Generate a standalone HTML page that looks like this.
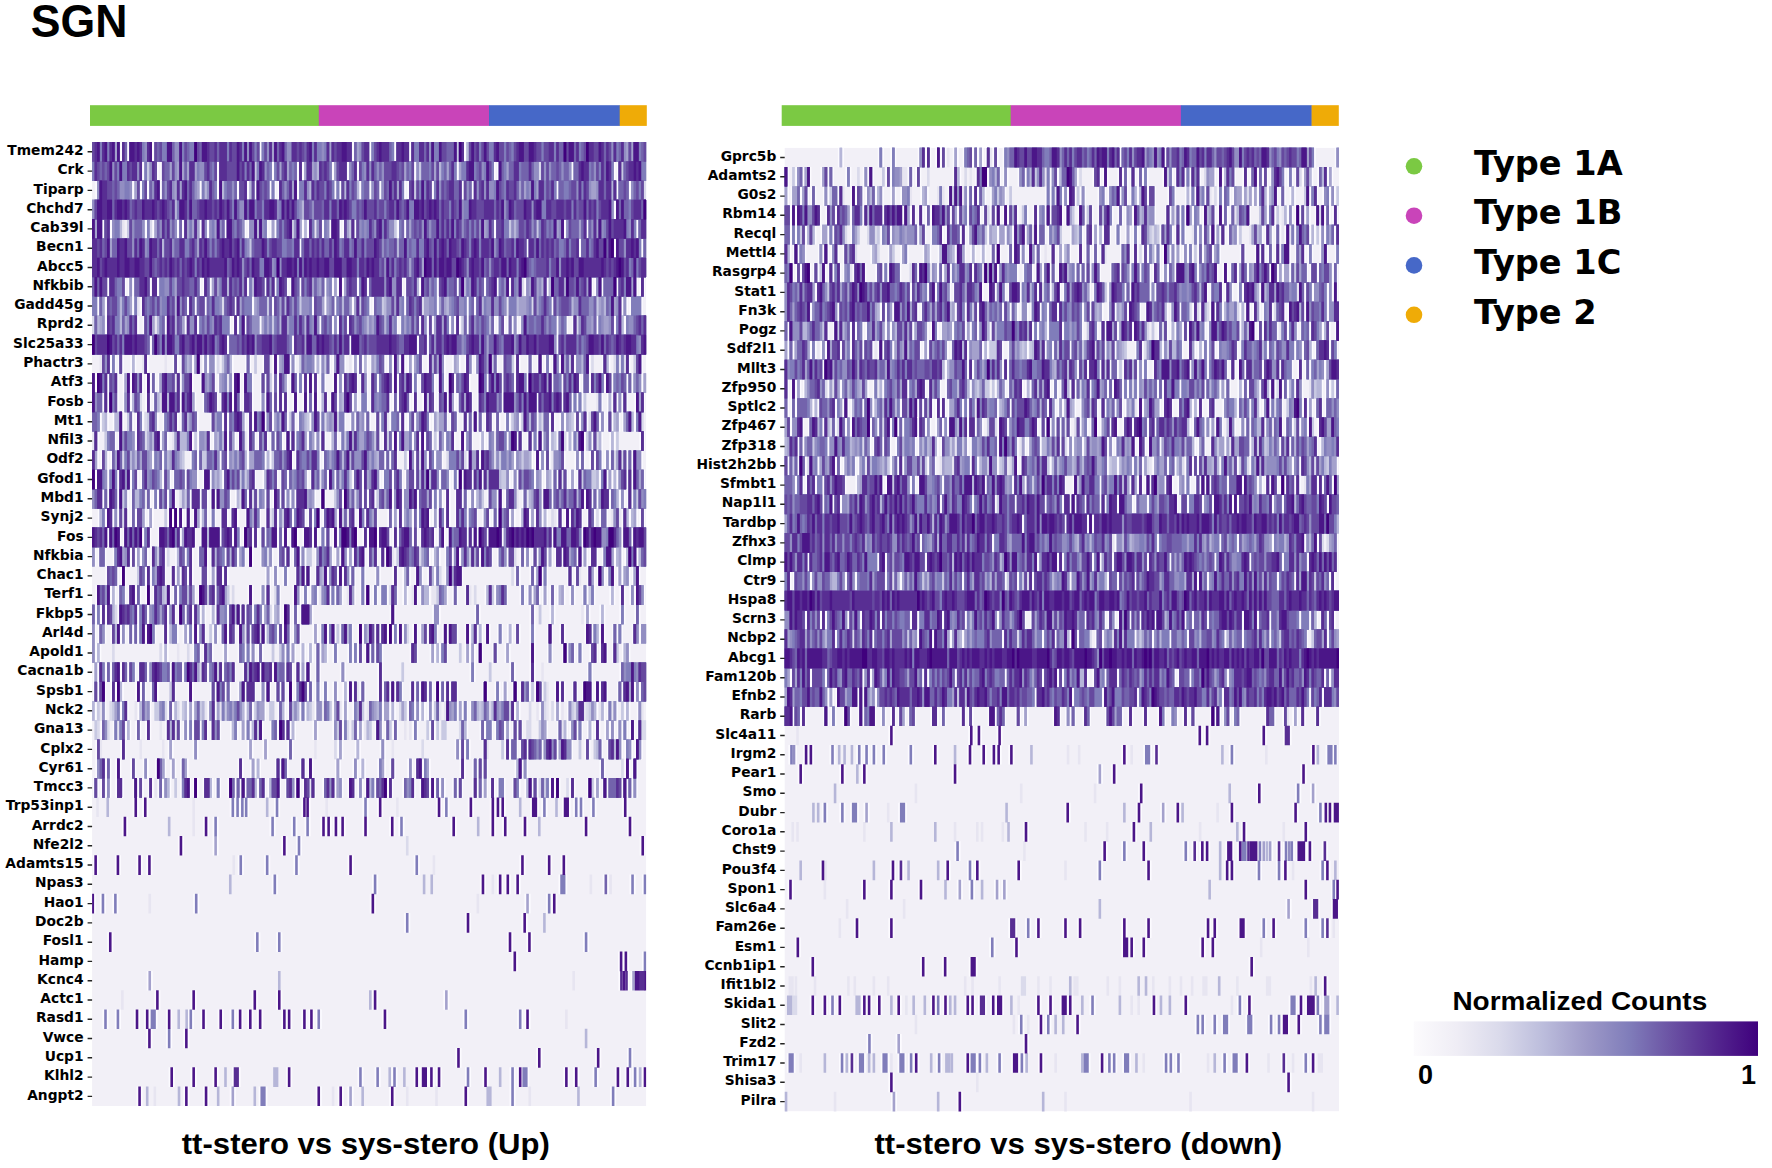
<!DOCTYPE html>
<html><head><meta charset="utf-8"><title>SGN heatmap</title>
<style>
html,body{margin:0;padding:0;background:#fff;}
body{width:1772px;height:1168px;overflow:hidden;}
svg{display:block;}
text{fill:#000;}
.gl text{font-family:"DejaVu Sans","Liberation Sans",sans-serif;font-weight:bold;font-size:13.8px;text-anchor:end;}
.lg{font-family:"DejaVu Sans","Liberation Sans",sans-serif;font-weight:bold;font-size:33.6px;}
.nc{font-family:"Liberation Sans",Arial,sans-serif;font-weight:bold;font-size:26.4px;}
.cbt{font-family:"Liberation Sans",Arial,sans-serif;font-weight:bold;font-size:27px;}
.ttl{font-family:"Liberation Sans",Arial,sans-serif;font-weight:bold;font-size:47.1px;}
.cap{font-family:"Liberation Sans",Arial,sans-serif;font-weight:bold;font-size:30px;}
</style></head><body>
<svg width="1772" height="1168" viewBox="0 0 1772 1168">
<defs><filter id="soft" x="0" y="0" width="1" height="1"><feGaussianBlur stdDeviation="0.4 0.3"/></filter></defs>
<rect x="90.0" y="105.2" width="229.1" height="20.7" fill="#7bc943"/><rect x="318.8" y="105.2" width="170.5" height="20.7" fill="#c944b9"/><rect x="489.0" y="105.2" width="131.0" height="20.7" fill="#4668c8"/><rect x="619.7" y="105.2" width="27.1" height="20.7" fill="#efab07"/>
<rect x="781.7" y="105.2" width="229.3" height="20.7" fill="#7bc943"/><rect x="1010.7" y="105.2" width="170.5" height="20.7" fill="#c944b9"/><rect x="1180.9" y="105.2" width="131.0" height="20.7" fill="#4668c8"/><rect x="1311.6" y="105.2" width="27.2" height="20.7" fill="#efab07"/>
<g filter="url(#soft)"><rect x="92.1" y="142.2" width="554.0" height="963.8" fill="#f2f0f7"/>
<g transform="translate(92.10,142.20) scale(2.4955,19.2760)" fill="none" stroke-width="1.02">
<path stroke="#fcfbff" d="M0 0.5h11.7M11.3 0.5h3.4M14.3 0.5h10.4M24.3 0.5h43.4M67.3 0.5h37.4M104.3 0.5h7.4M111.3 0.5h10.4M121.3 0.5h6.4M127.3 0.5h19.4M146.3 0.5h3.4M149.3 0.5h72.7M0 1.5h20.7M20.3 1.5h2.4M22.3 1.5h4.4M27.3 1.5h23.4M50.3 1.5h15.4M65.3 1.5h7.4M72.3 1.5h10.4M82.3 1.5h2.4M84.3 1.5h12.4M96.3 1.5h6.4M102.3 1.5h4.4M106.3 1.5h23.4M129.3 1.5h2.4M131.3 1.5h15.4M146.3 1.5h15.4M162.3 1.5h17.4M179.3 1.5h13.4M192.3 1.5h17.4M210.3 1.5h2.4M212.3 1.5h9.7M1.3 2.5h15.4M16.3 2.5h3.4M19.3 2.5h3.4M22.3 2.5h5.4M27.3 2.5h16.4M43.3 2.5h7.4M50.3 2.5h8.4M58.3 2.5h4.4M62.3 2.5h3.4M65.3 2.5h6.4M71.3 2.5h2.4M74.3 2.5h8.4M82.3 2.5h15.4M97.3 2.5h2.4M99.3 2.5h8.4M107.3 2.5h4.4M111.3 2.5h4.4M115.3 2.5h10.4M126.3 2.5h3.4M129.3 2.5h7.4M136.3 2.5h12.4M148.3 2.5h4.4M152.3 2.5h34.4M186.3 2.5h24.4M210.3 2.5h5.4M215.3 2.5h6.4M0 3.5h209.7M209.3 3.5h12.7M0 4.5h4.7M4.3 4.5h3.4M7.3 4.5h5.4M14.3 4.5h7.4M21.3 4.5h2.4M24.3 4.5h10.4M34.3 4.5h2.4M36.3 4.5h7.4M43.3 4.5h3.4M46.3 4.5h7.4M53.3 4.5h8.4M62.3 4.5h8.4M71.3 4.5h2.4M73.3 4.5h7.4M80.3 4.5h4.4M84.3 4.5h2.4M86.3 4.5h3.4M89.3 4.5h3.4M92.3 4.5h3.4M95.3 4.5h4.4M100.3 4.5h3.4M103.3 4.5h2.4M105.3 4.5h16.4M122.3 4.5h3.4M125.3 4.5h36.4M161.3 4.5h6.4M167.3 4.5h11.4M178.3 4.5h11.4M189.3 4.5h9.4M198.3 4.5h20.4M218.3 4.5h3.7M0 5.5h63.7M63.3 5.5h20.4M83.3 5.5h91.4M174.3 5.5h21.4M195.3 5.5h14.4M209.3 5.5h11.4M220.3 5.5h1.7M0 6.5h222M0 7.5h6.7M6.3 7.5h7.4M14.3 7.5h2.4M16.3 7.5h7.4M23.3 7.5h3.4M26.3 7.5h17.4M44.3 7.5h3.4M47.3 7.5h15.4M62.3 7.5h7.4M69.3 7.5h4.4M73.3 7.5h5.4M79.3 7.5h4.4M83.3 7.5h10.4M93.3 7.5h3.4M96.3 7.5h2.4M98.3 7.5h2.4M100.3 7.5h6.4M106.3 7.5h4.4M110.3 7.5h14.4M125.3 7.5h6.4M131.3 7.5h7.4M138.3 7.5h8.4M146.3 7.5h11.4M157.3 7.5h5.4M162.3 7.5h5.4M167.3 7.5h5.4M173.3 7.5h9.4M182.3 7.5h18.4M201.3 7.5h3.4M204.3 7.5h6.4M210.3 7.5h8.4M219.3 7.5h2.4M0 8.5h2.7M2.3 8.5h3.4M5.3 8.5h11.4M16.3 8.5h2.4M19.3 8.5h19.4M38.3 8.5h3.4M41.3 8.5h4.4M45.3 8.5h7.4M52.3 8.5h5.4M57.3 8.5h7.4M64.3 8.5h6.4M70.3 8.5h2.4M72.3 8.5h11.4M83.3 8.5h5.4M88.3 8.5h5.4M93.3 8.5h4.4M97.3 8.5h7.4M104.3 8.5h3.4M107.3 8.5h4.4M112.3 8.5h4.4M116.3 8.5h9.4M125.3 8.5h7.4M132.3 8.5h6.4M138.3 8.5h12.4M150.3 8.5h3.4M153.3 8.5h13.4M166.3 8.5h10.4M176.3 8.5h8.4M184.3 8.5h18.4M202.3 8.5h10.4M212.3 8.5h2.4M215.3 8.5h5.4M0.3 9.5h5.4M5.3 9.5h13.4M20.3 9.5h5.4M25.3 9.5h4.4M29.3 9.5h8.4M37.3 9.5h5.4M42.3 9.5h13.4M56.3 9.5h2.4M58.3 9.5h3.4M61.3 9.5h6.4M67.3 9.5h5.4M72.3 9.5h19.4M91.3 9.5h5.4M96.3 9.5h2.4M98.3 9.5h4.4M102.3 9.5h20.4M123.3 9.5h8.4M131.3 9.5h3.4M134.3 9.5h2.4M136.3 9.5h7.4M143.3 9.5h2.4M145.3 9.5h2.4M148.3 9.5h2.4M150.3 9.5h11.4M162.3 9.5h3.4M166.3 9.5h2.4M168.3 9.5h2.4M171.3 9.5h15.4M186.3 9.5h4.4M192.3 9.5h2.4M194.3 9.5h8.4M202.3 9.5h7.4M209.3 9.5h4.4M213.3 9.5h8.7M0 10.5h23.7M23.3 10.5h31.4M54.3 10.5h26.4M80.3 10.5h23.4M103.3 10.5h27.4M130.3 10.5h4.4M134.3 10.5h52.4M186.3 10.5h35.7M3.3 11.5h4.4M7.3 11.5h2.4M10.3 11.5h2.4M15.3 11.5h2.4M20.3 11.5h2.4M32.3 11.5h2.4M35.3 11.5h5.4M40.3 11.5h3.4M44.3 11.5h2.4M46.3 11.5h3.4M52.3 11.5h4.4M61.3 11.5h2.4M68.3 11.5h3.4M72.3 11.5h2.4M74.3 11.5h5.4M79.3 11.5h2.4M83.3 11.5h6.4M89.3 11.5h2.4M91.3 11.5h2.4M93.3 11.5h2.4M96.3 11.5h5.4M104.3 11.5h2.4M106.3 11.5h2.4M108.3 11.5h2.4M111.3 11.5h6.4M118.3 11.5h2.4M120.3 11.5h3.4M123.3 11.5h2.4M126.3 11.5h2.4M128.3 11.5h4.4M134.3 11.5h7.4M144.3 11.5h3.4M149.3 11.5h3.4M153.3 11.5h7.4M160.3 11.5h2.4M164.3 11.5h4.4M169.3 11.5h2.4M174.3 11.5h2.4M178.3 11.5h2.4M181.3 11.5h2.4M184.3 11.5h3.4M187.3 11.5h4.4M191.3 11.5h2.4M193.3 11.5h6.4M204.3 11.5h3.4M209.3 11.5h2.4M211.3 11.5h2.4M213.3 11.5h2.4M217.3 11.5h3.4M0 12.5h1.7M1.3 12.5h5.4M6.3 12.5h4.4M12.3 12.5h3.4M15.3 12.5h5.4M21.3 12.5h2.4M23.3 12.5h2.4M26.3 12.5h7.4M33.3 12.5h2.4M35.3 12.5h5.4M43.3 12.5h6.4M50.3 12.5h4.4M54.3 12.5h2.4M56.3 12.5h3.4M60.3 12.5h4.4M67.3 12.5h2.4M69.3 12.5h2.4M72.3 12.5h2.4M74.3 12.5h4.4M79.3 12.5h3.4M82.3 12.5h2.4M84.3 12.5h2.4M86.3 12.5h2.4M88.3 12.5h2.4M91.3 12.5h2.4M96.3 12.5h2.4M98.3 12.5h2.4M100.3 12.5h6.4M107.3 12.5h3.4M111.3 12.5h3.4M114.3 12.5h6.4M120.3 12.5h2.4M122.3 12.5h6.4M128.3 12.5h2.4M131.3 12.5h6.4M138.3 12.5h3.4M142.3 12.5h3.4M145.3 12.5h6.4M154.3 12.5h4.4M158.3 12.5h6.4M164.3 12.5h5.4M169.3 12.5h5.4M174.3 12.5h10.4M184.3 12.5h4.4M188.3 12.5h7.4M196.3 12.5h3.4M199.3 12.5h6.4M205.3 12.5h3.4M208.3 12.5h6.4M214.3 12.5h2.4M216.3 12.5h4.4M220.3 12.5h1.7M0 13.5h4.7M4.3 13.5h2.4M6.3 13.5h4.4M12.3 13.5h3.4M15.3 13.5h4.4M21.3 13.5h2.4M24.3 13.5h3.4M27.3 13.5h8.4M35.3 13.5h6.4M44.3 13.5h6.4M51.3 13.5h5.4M56.3 13.5h3.4M60.3 13.5h4.4M67.3 13.5h2.4M69.3 13.5h3.4M72.3 13.5h2.4M74.3 13.5h2.4M76.3 13.5h2.4M80.3 13.5h2.4M84.3 13.5h2.4M86.3 13.5h2.4M88.3 13.5h2.4M91.3 13.5h3.4M95.3 13.5h3.4M98.3 13.5h6.4M104.3 13.5h2.4M107.3 13.5h3.4M111.3 13.5h8.4M120.3 13.5h2.4M122.3 13.5h5.4M128.3 13.5h2.4M132.3 13.5h2.4M134.3 13.5h3.4M138.3 13.5h4.4M142.3 13.5h3.4M146.3 13.5h6.4M154.3 13.5h10.4M164.3 13.5h14.4M178.3 13.5h10.4M188.3 13.5h4.4M192.3 13.5h2.4M194.3 13.5h2.4M202.3 13.5h2.4M206.3 13.5h2.4M208.3 13.5h2.4M210.3 13.5h2.4M212.3 13.5h2.4M217.3 13.5h4.4M0 14.5h3.7M4.3 14.5h2.4M8.3 14.5h4.4M14.3 14.5h2.4M17.3 14.5h3.4M22.3 14.5h4.4M28.3 14.5h6.4M35.3 14.5h7.4M47.3 14.5h5.4M52.3 14.5h2.4M54.3 14.5h7.4M62.3 14.5h2.4M64.3 14.5h5.4M69.3 14.5h3.4M72.3 14.5h6.4M79.3 14.5h2.4M82.3 14.5h4.4M87.3 14.5h4.4M91.3 14.5h2.4M93.3 14.5h5.4M98.3 14.5h3.4M103.3 14.5h2.4M105.3 14.5h4.4M109.3 14.5h2.4M113.3 14.5h2.4M115.3 14.5h3.4M119.3 14.5h4.4M123.3 14.5h2.4M126.3 14.5h3.4M129.3 14.5h6.4M136.3 14.5h2.4M138.3 14.5h4.4M143.3 14.5h3.4M148.3 14.5h2.4M150.3 14.5h2.4M152.3 14.5h2.4M154.3 14.5h2.4M157.3 14.5h3.4M161.3 14.5h2.4M165.3 14.5h2.4M168.3 14.5h3.4M172.3 14.5h6.4M178.3 14.5h2.4M180.3 14.5h3.4M183.3 14.5h2.4M187.3 14.5h2.4M189.3 14.5h3.4M193.3 14.5h2.4M195.3 14.5h3.4M199.3 14.5h4.4M203.3 14.5h2.4M206.3 14.5h2.4M208.3 14.5h3.4M212.3 14.5h5.4M217.3 14.5h3.4M0.3 15.5h2.4M5.3 15.5h4.4M10.3 15.5h7.4M17.3 15.5h4.4M21.3 15.5h6.4M27.3 15.5h3.4M32.3 15.5h8.4M42.3 15.5h5.4M48.3 15.5h6.4M54.3 15.5h3.4M58.3 15.5h3.4M62.3 15.5h3.4M66.3 15.5h4.4M71.3 15.5h2.4M73.3 15.5h3.4M77.3 15.5h2.4M79.3 15.5h2.4M81.3 15.5h5.4M86.3 15.5h3.4M89.3 15.5h2.4M91.3 15.5h2.4M95.3 15.5h3.4M99.3 15.5h2.4M101.3 15.5h12.4M113.3 15.5h2.4M116.3 15.5h2.4M118.3 15.5h2.4M120.3 15.5h2.4M122.3 15.5h6.4M128.3 15.5h3.4M131.3 15.5h2.4M133.3 15.5h3.4M138.3 15.5h3.4M141.3 15.5h4.4M147.3 15.5h2.4M149.3 15.5h3.4M155.3 15.5h2.4M158.3 15.5h3.4M161.3 15.5h5.4M166.3 15.5h4.4M170.3 15.5h2.4M174.3 15.5h2.4M176.3 15.5h2.4M178.3 15.5h2.4M180.3 15.5h3.4M183.3 15.5h2.4M186.3 15.5h3.4M190.3 15.5h2.4M192.3 15.5h2.4M194.3 15.5h3.4M198.3 15.5h2.4M200.3 15.5h2.4M202.3 15.5h2.4M207.3 15.5h2.4M219.3 15.5h2.4M0 16.5h2.7M3.3 16.5h3.4M7.3 16.5h5.4M12.3 16.5h12.4M24.3 16.5h4.4M28.3 16.5h8.4M39.3 16.5h3.4M42.3 16.5h2.4M45.3 16.5h6.4M51.3 16.5h3.4M54.3 16.5h8.4M62.3 16.5h7.4M69.3 16.5h2.4M72.3 16.5h8.4M81.3 16.5h10.4M92.3 16.5h25.4M117.3 16.5h2.4M119.3 16.5h3.4M126.3 16.5h3.4M129.3 16.5h2.4M131.3 16.5h3.4M134.3 16.5h3.4M137.3 16.5h3.4M142.3 16.5h7.4M150.3 16.5h5.4M155.3 16.5h6.4M161.3 16.5h2.4M163.3 16.5h6.4M169.3 16.5h3.4M172.3 16.5h4.4M177.3 16.5h2.4M179.3 16.5h2.4M181.3 16.5h2.4M184.3 16.5h5.4M193.3 16.5h2.4M195.3 16.5h2.4M199.3 16.5h2.4M201.3 16.5h3.4M205.3 16.5h2.4M207.3 16.5h2.4M209.3 16.5h3.4M212.3 16.5h2.4M214.3 16.5h2.4M216.3 16.5h4.4M0 17.5h1.7M1.3 17.5h5.4M6.3 17.5h4.4M10.3 17.5h5.4M15.3 17.5h3.4M19.3 17.5h9.4M28.3 17.5h3.4M32.3 17.5h5.4M37.3 17.5h5.4M44.3 17.5h3.4M47.3 17.5h4.4M52.3 17.5h7.4M59.3 17.5h2.4M61.3 17.5h4.4M68.3 17.5h6.4M75.3 17.5h3.4M78.3 17.5h8.4M87.3 17.5h4.4M91.3 17.5h3.4M94.3 17.5h3.4M97.3 17.5h6.4M104.3 17.5h4.4M108.3 17.5h7.4M116.3 17.5h4.4M120.3 17.5h4.4M125.3 17.5h4.4M129.3 17.5h10.4M139.3 17.5h4.4M144.3 17.5h2.4M146.3 17.5h2.4M148.3 17.5h4.4M152.3 17.5h4.4M156.3 17.5h8.4M165.3 17.5h2.4M168.3 17.5h2.4M170.3 17.5h7.4M177.3 17.5h3.4M181.3 17.5h3.4M184.3 17.5h2.4M186.3 17.5h2.4M188.3 17.5h2.4M191.3 17.5h2.4M194.3 17.5h2.4M196.3 17.5h4.4M201.3 17.5h2.4M203.3 17.5h3.4M206.3 17.5h2.4M208.3 17.5h2.4M210.3 17.5h4.4M214.3 17.5h2.4M216.3 17.5h5.4M0 18.5h4.7M4.3 18.5h2.4M6.3 18.5h4.4M10.3 18.5h2.4M12.3 18.5h2.4M15.3 18.5h6.4M21.3 18.5h2.4M24.3 18.5h2.4M26.3 18.5h4.4M30.3 18.5h3.4M35.3 18.5h2.4M37.3 18.5h2.4M39.3 18.5h4.4M43.3 18.5h3.4M47.3 18.5h2.4M49.3 18.5h6.4M57.3 18.5h2.4M59.3 18.5h3.4M62.3 18.5h2.4M64.3 18.5h2.4M66.3 18.5h3.4M69.3 18.5h2.4M72.3 18.5h3.4M75.3 18.5h2.4M77.3 18.5h2.4M79.3 18.5h2.4M81.3 18.5h8.4M91.3 18.5h2.4M97.3 18.5h3.4M100.3 18.5h5.4M105.3 18.5h3.4M108.3 18.5h2.4M110.3 18.5h3.4M114.3 18.5h6.4M120.3 18.5h4.4M124.3 18.5h6.4M130.3 18.5h6.4M136.3 18.5h2.4M138.3 18.5h2.4M141.3 18.5h2.4M145.3 18.5h3.4M148.3 18.5h2.4M151.3 18.5h2.4M153.3 18.5h3.4M158.3 18.5h4.4M162.3 18.5h2.4M165.3 18.5h5.4M172.3 18.5h2.4M174.3 18.5h6.4M180.3 18.5h4.4M184.3 18.5h13.4M197.3 18.5h3.4M200.3 18.5h2.4M202.3 18.5h5.4M207.3 18.5h4.4M211.3 18.5h2.4M214.3 18.5h2.4M216.3 18.5h2.4M218.3 18.5h3.7M2.3 19.5h3.4M5.3 19.5h3.4M8.3 19.5h2.4M10.3 19.5h2.4M12.3 19.5h2.4M15.3 19.5h2.4M17.3 19.5h4.4M22.3 19.5h2.4M30.3 19.5h2.4M32.3 19.5h2.4M34.3 19.5h2.4M37.3 19.5h2.4M40.3 19.5h3.4M43.3 19.5h3.4M47.3 19.5h2.4M51.3 19.5h3.4M55.3 19.5h3.4M61.3 19.5h6.4M69.3 19.5h2.4M72.3 19.5h2.4M74.3 19.5h2.4M76.3 19.5h4.4M80.3 19.5h5.4M86.3 19.5h2.4M88.3 19.5h3.4M92.3 19.5h6.4M98.3 19.5h2.4M100.3 19.5h2.4M102.3 19.5h3.4M106.3 19.5h3.4M109.3 19.5h5.4M118.3 19.5h2.4M120.3 19.5h2.4M122.3 19.5h2.4M124.3 19.5h4.4M128.3 19.5h2.4M130.3 19.5h5.4M136.3 19.5h2.4M138.3 19.5h3.4M141.3 19.5h2.4M145.3 19.5h5.4M150.3 19.5h4.4M156.3 19.5h3.4M160.3 19.5h2.4M162.3 19.5h5.4M167.3 19.5h2.4M171.3 19.5h4.4M175.3 19.5h2.4M177.3 19.5h3.4M180.3 19.5h2.4M186.3 19.5h2.4M189.3 19.5h2.4M191.3 19.5h5.4M198.3 19.5h3.4M203.3 19.5h3.4M208.3 19.5h3.4M212.3 19.5h3.4M215.3 19.5h3.4M219.3 19.5h2.4M0 20.5h6.7M6.3 20.5h5.4M12.3 20.5h8.4M20.3 20.5h3.4M26.3 20.5h9.4M35.3 20.5h6.4M43.3 20.5h8.4M51.3 20.5h5.4M56.3 20.5h3.4M60.3 20.5h4.4M64.3 20.5h2.4M67.3 20.5h2.4M69.3 20.5h5.4M74.3 20.5h2.4M76.3 20.5h2.4M79.3 20.5h3.4M84.3 20.5h4.4M88.3 20.5h2.4M91.3 20.5h2.4M93.3 20.5h2.4M96.3 20.5h2.4M98.3 20.5h8.4M108.3 20.5h2.4M110.3 20.5h4.4M114.3 20.5h5.4M120.3 20.5h2.4M122.3 20.5h6.4M128.3 20.5h2.4M131.3 20.5h6.4M138.3 20.5h3.4M142.3 20.5h8.4M150.3 20.5h2.4M152.3 20.5h2.4M154.3 20.5h4.4M158.3 20.5h6.4M164.3 20.5h20.4M184.3 20.5h12.4M196.3 20.5h16.4M212.3 20.5h4.4M216.3 20.5h5.7M0 21.5h1.7M2.3 21.5h3.4M8.3 21.5h7.4M15.3 21.5h2.4M17.3 21.5h2.4M19.3 21.5h3.4M23.3 21.5h3.4M26.3 21.5h3.4M33.3 21.5h4.4M37.3 21.5h3.4M42.3 21.5h4.4M47.3 21.5h6.4M53.3 21.5h5.4M58.3 21.5h3.4M62.3 21.5h2.4M67.3 21.5h3.4M70.3 21.5h2.4M74.3 21.5h3.4M77.3 21.5h2.4M80.3 21.5h3.4M83.3 21.5h2.4M89.3 21.5h7.4M97.3 21.5h2.4M99.3 21.5h3.4M102.3 21.5h2.4M104.3 21.5h5.4M110.3 21.5h4.4M115.3 21.5h2.4M117.3 21.5h3.4M122.3 21.5h9.4M131.3 21.5h4.4M136.3 21.5h3.4M141.3 21.5h3.4M144.3 21.5h3.4M147.3 21.5h4.4M151.3 21.5h4.4M155.3 21.5h5.4M162.3 21.5h4.4M166.3 21.5h3.4M171.3 21.5h2.4M173.3 21.5h2.4M176.3 21.5h2.4M178.3 21.5h4.4M182.3 21.5h2.4M185.3 21.5h3.4M188.3 21.5h6.4M194.3 21.5h2.4M196.3 21.5h2.4M199.3 21.5h3.4M204.3 21.5h5.4M209.3 21.5h3.4M213.3 21.5h5.4M218.3 21.5h3.7M5.3 22.5h5.4M11.3 22.5h2.4M18.3 22.5h3.4M21.3 22.5h2.4M23.3 22.5h6.4M31.3 22.5h2.4M33.3 22.5h2.4M35.3 22.5h3.4M38.3 22.5h2.4M43.3 22.5h3.4M47.3 22.5h2.4M49.3 22.5h3.4M52.3 22.5h2.4M69.3 22.5h2.4M72.3 22.5h2.4M76.3 22.5h2.4M81.3 22.5h4.4M85.3 22.5h2.4M89.3 22.5h5.4M94.3 22.5h4.4M98.3 22.5h2.4M100.3 22.5h3.4M103.3 22.5h2.4M107.3 22.5h2.4M113.3 22.5h2.4M120.3 22.5h2.4M124.3 22.5h3.4M129.3 22.5h3.4M134.3 22.5h3.4M137.3 22.5h2.4M141.3 22.5h7.4M169.3 22.5h2.4M175.3 22.5h2.4M177.3 22.5h3.4M180.3 22.5h2.4M190.3 22.5h2.4M193.3 22.5h2.4M198.3 22.5h3.4M202.3 22.5h3.4M206.3 22.5h3.4M210.3 22.5h2.4M212.3 22.5h3.4M216.3 22.5h3.4M1.3 23.5h6.4M7.3 23.5h2.4M10.3 23.5h3.4M14.3 23.5h3.4M17.3 23.5h2.4M21.3 23.5h2.4M24.3 23.5h5.4M29.3 23.5h2.4M32.3 23.5h2.4M34.3 23.5h7.4M42.3 23.5h4.4M46.3 23.5h3.4M49.3 23.5h5.4M62.3 23.5h2.4M67.3 23.5h2.4M69.3 23.5h2.4M73.3 23.5h2.4M80.3 23.5h3.4M84.3 23.5h2.4M87.3 23.5h3.4M91.3 23.5h4.4M95.3 23.5h2.4M97.3 23.5h3.4M102.3 23.5h3.4M107.3 23.5h2.4M109.3 23.5h2.4M112.3 23.5h2.4M115.3 23.5h3.4M119.3 23.5h3.4M124.3 23.5h2.4M128.3 23.5h2.4M131.3 23.5h4.4M138.3 23.5h4.4M144.3 23.5h2.4M149.3 23.5h2.4M157.3 23.5h3.4M161.3 23.5h5.4M171.3 23.5h2.4M174.3 23.5h2.4M176.3 23.5h3.4M180.3 23.5h2.4M183.3 23.5h2.4M186.3 23.5h3.4M191.3 23.5h2.4M196.3 23.5h2.4M199.3 23.5h2.4M207.3 23.5h2.4M211.3 23.5h2.4M215.3 23.5h2.4M217.3 23.5h4.4M0 24.5h1.7M1.3 24.5h2.4M3.3 24.5h2.4M5.3 24.5h4.4M10.3 24.5h8.4M18.3 24.5h4.4M22.3 24.5h8.4M30.3 24.5h3.4M34.3 24.5h3.4M37.3 24.5h3.4M40.3 24.5h3.4M43.3 24.5h2.4M47.3 24.5h2.4M49.3 24.5h5.4M54.3 24.5h5.4M59.3 24.5h2.4M61.3 24.5h3.4M64.3 24.5h4.4M68.3 24.5h3.4M72.3 24.5h3.4M76.3 24.5h3.4M80.3 24.5h2.4M83.3 24.5h5.4M119.3 24.5h2.4M136.3 24.5h3.4M153.3 24.5h2.4M175.3 24.5h2.4M183.3 24.5h2.4M197.3 24.5h2.4M203.3 24.5h2.4M211.3 24.5h2.4M217.3 24.5h2.4M0 25.5h1.7M2.3 25.5h3.4M7.3 25.5h4.4M11.3 25.5h2.4M14.3 25.5h2.4M16.3 25.5h2.4M18.3 25.5h3.4M21.3 25.5h4.4M28.3 25.5h2.4M30.3 25.5h4.4M36.3 25.5h2.4M38.3 25.5h2.4M40.3 25.5h2.4M42.3 25.5h3.4M48.3 25.5h2.4M51.3 25.5h3.4M54.3 25.5h3.4M58.3 25.5h3.4M61.3 25.5h2.4M63.3 25.5h4.4M67.3 25.5h2.4M69.3 25.5h5.4M74.3 25.5h2.4M76.3 25.5h3.4M80.3 25.5h3.4M88.3 25.5h2.4M91.3 25.5h3.4M94.3 25.5h3.4M99.3 25.5h5.4M106.3 25.5h2.4M108.3 25.5h5.4M113.3 25.5h2.4M115.3 25.5h3.4M118.3 25.5h2.4M120.3 25.5h2.4M122.3 25.5h2.4M124.3 25.5h2.4M128.3 25.5h2.4M131.3 25.5h3.4M134.3 25.5h4.4M140.3 25.5h2.4M142.3 25.5h4.4M149.3 25.5h2.4M151.3 25.5h3.4M154.3 25.5h2.4M157.3 25.5h2.4M162.3 25.5h2.4M166.3 25.5h2.4M169.3 25.5h2.4M175.3 25.5h2.4M182.3 25.5h2.4M187.3 25.5h2.4M197.3 25.5h3.4M200.3 25.5h3.4M203.3 25.5h2.4M208.3 25.5h2.4M210.3 25.5h2.4M216.3 25.5h3.4M219.3 25.5h2.7M0 26.5h1.7M1.3 26.5h2.4M28.3 26.5h2.4M40.3 26.5h3.4M44.3 26.5h4.4M52.3 26.5h2.4M58.3 26.5h3.4M61.3 26.5h2.4M63.3 26.5h2.4M66.3 26.5h2.4M75.3 26.5h2.4M77.3 26.5h2.4M79.3 26.5h2.4M83.3 26.5h2.4M86.3 26.5h2.4M89.3 26.5h2.4M91.3 26.5h3.4M96.3 26.5h2.4M102.3 26.5h2.4M104.3 26.5h2.4M106.3 26.5h2.4M109.3 26.5h2.4M111.3 26.5h2.4M113.3 26.5h3.4M127.3 26.5h3.4M135.3 26.5h2.4M137.3 26.5h2.4M139.3 26.5h3.4M149.3 26.5h2.4M151.3 26.5h2.4M154.3 26.5h2.4M160.3 26.5h2.4M165.3 26.5h2.4M175.3 26.5h2.4M182.3 26.5h2.4M188.3 26.5h2.4M190.3 26.5h3.4M194.3 26.5h2.4M199.3 26.5h3.4M203.3 26.5h3.4M208.3 26.5h2.4M212.3 26.5h3.4M0.3 27.5h2.4M2.3 27.5h3.4M5.3 27.5h2.4M7.3 27.5h4.4M11.3 27.5h3.4M14.3 27.5h3.4M18.3 27.5h4.4M22.3 27.5h9.4M31.3 27.5h5.4M36.3 27.5h7.4M43.3 27.5h3.4M46.3 27.5h4.4M50.3 27.5h2.4M52.3 27.5h5.4M60.3 27.5h7.4M67.3 27.5h5.4M72.3 27.5h5.4M77.3 27.5h3.4M81.3 27.5h2.4M83.3 27.5h2.4M85.3 27.5h2.4M89.3 27.5h2.4M99.3 27.5h2.4M114.3 27.5h2.4M151.3 27.5h2.4M167.3 27.5h2.4M175.3 27.5h2.4M198.3 27.5h2.4M211.3 27.5h10.7M0.3 28.5h2.4M2.3 28.5h3.4M7.3 28.5h2.4M9.3 28.5h3.4M17.3 28.5h2.4M19.3 28.5h2.4M23.3 28.5h3.4M31.3 28.5h2.4M38.3 28.5h2.4M47.3 28.5h2.4M49.3 28.5h4.4M53.3 28.5h2.4M58.3 28.5h3.4M61.3 28.5h4.4M67.3 28.5h2.4M69.3 28.5h2.4M73.3 28.5h2.4M75.3 28.5h2.4M78.3 28.5h2.4M81.3 28.5h5.4M86.3 28.5h2.4M89.3 28.5h2.4M92.3 28.5h2.4M96.3 28.5h2.4M100.3 28.5h2.4M102.3 28.5h2.4M104.3 28.5h2.4M107.3 28.5h2.4M114.3 28.5h2.4M116.3 28.5h3.4M119.3 28.5h2.4M121.3 28.5h3.4M127.3 28.5h2.4M129.3 28.5h2.4M131.3 28.5h3.4M134.3 28.5h2.4M137.3 28.5h2.4M139.3 28.5h2.4M141.3 28.5h2.4M143.3 28.5h3.4M156.3 28.5h2.4M161.3 28.5h2.4M164.3 28.5h2.4M168.3 28.5h2.4M171.3 28.5h4.4M177.3 28.5h3.4M185.3 28.5h2.4M187.3 28.5h2.4M192.3 28.5h2.4M196.3 28.5h4.4M201.3 28.5h2.4M203.3 28.5h3.4M210.3 28.5h2.4M212.3 28.5h5.4M217.3 28.5h2.4M219.3 28.5h2.7M0 29.5h1.7M3.3 29.5h2.4M8.3 29.5h3.4M11.3 29.5h3.4M18.3 29.5h5.4M26.3 29.5h3.4M30.3 29.5h2.4M32.3 29.5h2.4M36.3 29.5h2.4M38.3 29.5h2.4M40.3 29.5h3.4M43.3 29.5h2.4M46.3 29.5h3.4M49.3 29.5h2.4M51.3 29.5h2.4M53.3 29.5h8.4M61.3 29.5h3.4M65.3 29.5h4.4M74.3 29.5h3.4M78.3 29.5h5.4M83.3 29.5h2.4M85.3 29.5h2.4M89.3 29.5h3.4M92.3 29.5h3.4M96.3 29.5h3.4M100.3 29.5h2.4M104.3 29.5h4.4M110.3 29.5h6.4M116.3 29.5h3.4M119.3 29.5h2.4M123.3 29.5h2.4M126.3 29.5h3.4M129.3 29.5h2.4M131.3 29.5h2.4M134.3 29.5h2.4M137.3 29.5h2.4M141.3 29.5h5.4M146.3 29.5h2.4M148.3 29.5h2.4M151.3 29.5h4.4M155.3 29.5h4.4M159.3 29.5h8.4M167.3 29.5h2.4M169.3 29.5h2.4M179.3 29.5h2.4M185.3 29.5h2.4M190.3 29.5h2.4M193.3 29.5h4.4M199.3 29.5h3.4M203.3 29.5h2.4M206.3 29.5h2.4M208.3 29.5h2.4M213.3 29.5h2.4M218.3 29.5h2.4M3.3 30.5h3.4M8.3 30.5h2.4M10.3 30.5h3.4M13.3 30.5h2.4M17.3 30.5h2.4M21.3 30.5h2.4M29.3 30.5h4.4M33.3 30.5h2.4M36.3 30.5h2.4M38.3 30.5h2.4M40.3 30.5h3.4M43.3 30.5h3.4M47.3 30.5h4.4M55.3 30.5h3.4M59.3 30.5h2.4M61.3 30.5h2.4M63.3 30.5h3.4M66.3 30.5h2.4M71.3 30.5h3.4M74.3 30.5h3.4M77.3 30.5h2.4M79.3 30.5h2.4M88.3 30.5h2.4M96.3 30.5h2.4M98.3 30.5h2.4M100.3 30.5h2.4M104.3 30.5h2.4M106.3 30.5h2.4M109.3 30.5h2.4M113.3 30.5h3.4M117.3 30.5h2.4M120.3 30.5h2.4M128.3 30.5h2.4M135.3 30.5h2.4M147.3 30.5h3.4M155.3 30.5h2.4M157.3 30.5h3.4M161.3 30.5h4.4M165.3 30.5h2.4M168.3 30.5h2.4M170.3 30.5h2.4M179.3 30.5h3.4M186.3 30.5h2.4M188.3 30.5h2.4M191.3 30.5h3.4M194.3 30.5h2.4M198.3 30.5h2.4M201.3 30.5h2.4M205.3 30.5h2.4M207.3 30.5h2.4M210.3 30.5h2.4M212.3 30.5h2.4M215.3 30.5h2.4M218.3 30.5h2.4M1.3 31.5h2.4M11.3 31.5h2.4M30.3 31.5h2.4M40.3 31.5h2.4M62.3 31.5h2.4M68.3 31.5h2.4M78.3 31.5h2.4M98.3 31.5h2.4M105.3 31.5h2.4M115.3 31.5h2.4M145.3 31.5h2.4M147.3 31.5h2.4M149.3 31.5h2.4M156.3 31.5h2.4M165.3 31.5h2.4M167.3 31.5h3.4M171.3 31.5h3.4M174.3 31.5h6.4M180.3 31.5h6.4M186.3 31.5h6.4M197.3 31.5h2.4M201.3 31.5h3.4M206.3 31.5h6.4M213.3 31.5h3.4M217.3 31.5h3.4M1.3 32.5h4.4M5.3 32.5h2.4M9.3 32.5h2.4M15.3 32.5h2.4M20.3 32.5h2.4M25.3 32.5h4.4M31.3 32.5h2.4M35.3 32.5h3.4M58.3 32.5h2.4M63.3 32.5h2.4M65.3 32.5h2.4M73.3 32.5h2.4M75.3 32.5h3.4M83.3 32.5h2.4M86.3 32.5h2.4M97.3 32.5h2.4M104.3 32.5h2.4M107.3 32.5h2.4M114.3 32.5h3.4M119.3 32.5h2.4M126.3 32.5h2.4M129.3 32.5h3.4M132.3 32.5h3.4M147.3 32.5h2.4M152.3 32.5h2.4M154.3 32.5h2.4M156.3 32.5h2.4M169.3 32.5h3.4M172.3 32.5h2.4M203.3 32.5h2.4M213.3 32.5h2.4M216.3 32.5h2.4M0.3 33.5h2.4M3.3 33.5h2.4M5.3 33.5h2.4M9.3 33.5h3.4M16.3 33.5h2.4M18.3 33.5h2.4M22.3 33.5h2.4M26.3 33.5h2.4M28.3 33.5h3.4M35.3 33.5h4.4M40.3 33.5h2.4M44.3 33.5h4.4M49.3 33.5h2.4M54.3 33.5h3.4M57.3 33.5h2.4M59.3 33.5h2.4M61.3 33.5h5.4M66.3 33.5h3.4M70.3 33.5h5.4M77.3 33.5h4.4M81.3 33.5h2.4M84.3 33.5h3.4M87.3 33.5h2.4M92.3 33.5h5.4M97.3 33.5h3.4M102.3 33.5h3.4M106.3 33.5h2.4M109.3 33.5h4.4M113.3 33.5h5.4M118.3 33.5h2.4M124.3 33.5h5.4M131.3 33.5h4.4M135.3 33.5h2.4M137.3 33.5h2.4M139.3 33.5h2.4M144.3 33.5h2.4M146.3 33.5h2.4M152.3 33.5h2.4M154.3 33.5h2.4M156.3 33.5h2.4M159.3 33.5h2.4M162.3 33.5h3.4M168.3 33.5h3.4M173.3 33.5h3.4M176.3 33.5h2.4M179.3 33.5h2.4M181.3 33.5h2.4M183.3 33.5h2.4M185.3 33.5h2.4M191.3 33.5h2.4M198.3 33.5h2.4M201.3 33.5h2.4M204.3 33.5h2.4M206.3 33.5h6.4M212.3 33.5h2.4M214.3 33.5h2.4M216.3 33.5h2.4M16.27 34.5h2.44M20.09 34.5h2.44M55.17 34.5h2.44M57.08 34.5h2.44M58.99 34.5h2.44M60.52 34.5h2.44M72.89 34.5h2.44M83.86 34.5h2.44M85.14 34.5h2.44M108.35 34.5h2.44M114.22 34.5h2.44M137.81 34.5h2.44M140.74 34.5h2.44M150.56 34.5h2.44M159.36 34.5h2.44M161.41 34.5h2.44M163.32 34.5h2.44M175.55 34.5h3.48M180.03 34.5h2.44M188.31 34.5h3.48M192.78 34.5h2.44M194.69 34.5h2.44M199.67 34.5h2.44M212.42 34.5h2.44M11.93 35.5h2.44M44.45 35.5h2.44M48.28 35.5h2.44M71.11 35.5h2.44M79.78 35.5h2.44M85.14 35.5h2.44M91.51 35.5h2.44M93.56 35.5h2.44M96.49 35.5h2.44M99.17 35.5h2.44M108.35 35.5h2.44M119.06 35.5h2.44M122.76 35.5h2.44M143.68 35.5h2.44M159.36 35.5h2.44M164.34 35.5h2.44M172.25 35.5h2.44M196.73 35.5h2.44M214.33 35.5h2.44M34.38 36.5h2.44M48.28 36.5h2.44M75.83 36.5h2.44M81.69 36.5h2.44M219.43 36.5h2.44M0.2 37.5h2.44M9.13 37.5h2.44M17.8 37.5h2.44M21.75 37.5h2.44M58.35 37.5h2.44M68.94 37.5h2.44M80.67 37.5h2.44M102.36 37.5h2.44M128.88 37.5h2.44M171.23 37.5h2.44M181.94 37.5h2.44M187.81 37.5h2.44M72 38.5h2.44M112.18 38.5h2.44M155.41 38.5h2.44M162.3 38.5h2.44M165.36 38.5h2.44M169.31 38.5h2.44M186.9 38.5h3.48M204.64 38.5h2.44M215.35 38.5h2.44M220.33 38.5h1.67M0 39.5h1.49M3.13 39.5h2.44M8.11 39.5h2.44M40.5 39.5h2.44M111.28 39.5h2.44M173.27 39.5h2.44M181.94 39.5h2.44M183.98 39.5h2.44M125.06 40.5h2.44M149.42 40.5h2.44M172.12 40.5h2.44M6.06 41.5h2.44M64.99 41.5h2.44M73.79 41.5h2.44M166.25 41.5h2.44M174.03 41.5h2.44M196.73 41.5h2.44M168.16 42.5h2.44M210.76 42.5h2.44M212.67 42.5h2.44M220.33 42.5h1.67M21.88 43.5h2.44M210.89 43.5h2.44M211.91 43.5h2.44M212.93 43.5h2.44M215.74 43.5h2.44M216.76 43.5h2.44M217.78 43.5h2.44M218.8 43.5h2.44M219.82 43.5h2.18M220.71 43.5h1.29M24.94 44.5h2.44M39.48 44.5h2.44M63.97 44.5h2.44M73.79 44.5h2.44M112.18 44.5h2.44M140.74 44.5h2.44M4.15 45.5h2.44M9.13 45.5h2.44M16.78 45.5h2.44M20.86 45.5h2.44M22.76 45.5h3.48M29.66 45.5h2.44M38.33 45.5h2.44M43.43 45.5h2.44M50.32 45.5h2.44M55.17 45.5h2.44M58.1 45.5h2.44M62.18 45.5h2.44M66.13 45.5h2.44M75.83 45.5h2.44M77.74 45.5h2.44M83.86 45.5h2.44M86.67 45.5h2.44M89.6 45.5h2.44M116.13 45.5h2.44M148.52 45.5h2.44M170.33 45.5h2.44M173.27 45.5h2.44M21.75 46.5h2.44M29.66 46.5h2.44M36.55 46.5h2.44M145.59 47.5h2.44M177.98 47.5h2.44M201.58 47.5h2.44M214.33 47.5h2.44M30.68 48.5h2.44M39.48 48.5h2.44M48.28 48.5h2.44M56.05 48.5h3.48M77.74 48.5h2.44M106.31 48.5h2.44M113.2 48.5h2.44M119.96 48.5h2.44M128.88 48.5h2.44M131.42 48.5h3.48M134.75 48.5h2.44M137.81 48.5h2.44M149.42 48.5h2.44M156.43 48.5h2.44M167.27 48.5h2.44M170.33 48.5h2.44M171.73 48.5h3.48M188.83 48.5h2.44M192.78 48.5h2.44M200.56 48.5h2.44M209.49 48.5h2.44M213.44 48.5h2.44M216.37 48.5h2.44M220.33 48.5h1.67M17.8 49.5h2.44M36.55 49.5h2.44M44.45 49.5h2.44M55.17 49.5h2.44M66.76 49.5h3.48M89.6 49.5h2.44M98.4 49.5h2.44M102.36 49.5h2.44M119.06 49.5h2.44M148.52 49.5h2.44M167.27 49.5h2.44M207.57 49.5h2.44"/>
<path stroke="#e7e5f1" d="M0 0.5h11m1 0h2m1 0h9m1 0h42m1 0h36m1 0h6m1 0h9m1 0h5m1 0h21m1 0h72M0 1.5h20m1 0h5m2 0h22m1 0h21m1 0h9m1 0h1m1 0h11m1 0h5m1 0h3m1 0h22m1 0h16m1 0h14m2 0h29m1 0h16m2 0h11M2 2.5h14m1 0h2m1 0h2m1 0h4m1 0h15m1 0h6m1 0h7m1 0h3m1 0h2m1 0h5m1 0h1m2 0h7m1 0h14m1 0h1m1 0h7m1 0h3m1 0h3m1 0h9m2 0h9m1 0h11m1 0h3m1 0h33m1 0h23m1 0h4m1 0h6M0 3.5h209m1 0h12M0 4.5h4m1 0h2m1 0h5m1 0h7m1 0h2m1 0h9m1 0h1m1 0h6m1 0h2m1 0h6m1 0h7m2 0h7m2 0h1m1 0h10m1 0h1m1 0h5m1 0h2m1 0h3m2 0h4m1 0h16m1 0h2m1 0h35m1 0h27m1 0h8m1 0h19m1 0h3M0 5.5h83m1 0h90m1 0h20m1 0h13m1 0h10m1 0h1M0 6.5h222M0 7.5h6m1 0h6m2 0h1m1 0h6m1 0h2m1 0h16m2 0h2m1 0h14m1 0h6m1 0h3m1 0h4m2 0h3m1 0h9m1 0h2m1 0h1m1 0h1m1 0h5m1 0h3m1 0h13m2 0h5m1 0h6m1 0h7m1 0h10m1 0h4m1 0h4m1 0h5m1 0h8m1 0h17m2 0h2m1 0h5m1 0h7m2 0h1M0 8.5h2m1 0h2m1 0h10m1 0h2m1 0h18m1 0h2m1 0h3m1 0h11m1 0h6m1 0h7m1 0h15m1 0h4m1 0h3m1 0h6m1 0h6m2 0h12m1 0h12m1 0h11m1 0h2m1 0h30m1 0h27m1 0h1m2 0h4M0 9.5h5m1 0h12m3 0h8m1 0h7m1 0h4m1 0h12m2 0h1m1 0h2m1 0h5m1 0h23m1 0h4m1 0h1m1 0h3m1 0h19m2 0h7m1 0h2m1 0h1m1 0h6m1 0h1m1 0h1m1 0h2m1 0h10m2 0h2m2 0h1m1 0h1m2 0h14m1 0h3m3 0h9m1 0h6m1 0h3m1 0h8M0 10.5h23m1 0h30m1 0h25m1 0h22m1 0h26m1 0h3m1 0h51m1 0h35M3 11.5h4m1 0h1m2 0h1m4 0h1m3 0h2m7 0h1m3 0h1m2 0h4m1 0h3m1 0h1m1 0h2m1 0h1m1 0h4m6 0h1m2 0h1m3 0h3m1 0h1m1 0h4m1 0h1m2 0h6m1 0h1m1 0h3m2 0h4m2 0h1m1 0h1m1 0h1m1 0h1m2 0h5m2 0h1m1 0h2m1 0h1m2 0h1m1 0h3m3 0h6m4 0h2m3 0h2m2 0h8m3 0h4m1 0h1m4 0h1m3 0h1m2 0h1m2 0h2m1 0h5m1 0h5m1 0h1m4 0h2m2 0h6m2 0h3M0 12.5h1m1 0h4m1 0h3m3 0h2m1 0h4m2 0h1m1 0h1m2 0h8m1 0h4m4 0h5m2 0h5m1 0h2m2 0h3m4 0h1m1 0h2m1 0h1m1 0h3m2 0h2m1 0h1m1 0h1m1 0h1m1 0h1m2 0h1m4 0h1m1 0h1m1 0h5m2 0h2m2 0h2m1 0h5m1 0h1m1 0h5m1 0h1m2 0h5m2 0h2m2 0h2m1 0h5m4 0h3m1 0h5m1 0h4m1 0h4m1 0h9m1 0h3m1 0h6m2 0h2m1 0h5m1 0h2m1 0h5m1 0h1m1 0h3m1 0h1M0 13.5h4m1 0h1m1 0h3m3 0h2m1 0h4m2 0h1m2 0h10m1 0h5m4 0h5m2 0h4m1 0h2m2 0h3m4 0h1m1 0h2m1 0h1m1 0h1m1 0h1m3 0h1m3 0h1m1 0h1m1 0h1m2 0h2m2 0h2m1 0h5m1 0h1m2 0h2m2 0h7m2 0h1m1 0h4m2 0h1m3 0h4m2 0h3m1 0h2m2 0h5m3 0h9m1 0h13m1 0h9m1 0h3m1 0h1m1 0h1m1 0h1m4 0h2m3 0h1m1 0h1m1 0h1m1 0h1m4 0h3M0 14.5h3m1 0h2m3 0h3m2 0h2m2 0h2m1 0h5m3 0h5m2 0h6m6 0h4m1 0h1m1 0h6m2 0h1m1 0h4m1 0h2m1 0h5m1 0h2m2 0h4m1 0h3m1 0h9m3 0h1m1 0h3m1 0h1m3 0h1m1 0h3m1 0h3m1 0h1m2 0h2m1 0h5m2 0h5m2 0h2m3 0h1m1 0h1m1 0h1m1 0h1m2 0h2m2 0h1m3 0h1m1 0h3m1 0h6m1 0h4m1 0h1m3 0h1m1 0h3m1 0h1m1 0h2m1 0h4m1 0h1m2 0h1m1 0h2m2 0h4m1 0h3M0 15.5h2m3 0h4m2 0h6m1 0h9m1 0h2m2 0h8m1 0h1m1 0h4m2 0h5m1 0h2m2 0h3m1 0h2m2 0h3m2 0h1m1 0h2m2 0h1m1 0h1m1 0h4m1 0h2m1 0h1m1 0h1m3 0h2m2 0h15m2 0h3m1 0h1m1 0h5m1 0h2m1 0h1m1 0h2m1 0h1m1 0h2m1 0h3m3 0h1m1 0h2m4 0h1m2 0h7m1 0h3m1 0h1m3 0h1m1 0h1m1 0h1m1 0h2m1 0h2m1 0h3m1 0h1m1 0h4m1 0h2m1 0h3m4 0h1m1 0h1m9 0h1M0 16.5h2m2 0h2m2 0h16m1 0h3m1 0h8m3 0h2m1 0h8m1 0h2m1 0h7m1 0h6m1 0h1m1 0h8m2 0h9m2 0h24m1 0h1m1 0h2m3 0h1m1 0h2m1 0h4m1 0h2m1 0h2m2 0h8m1 0h4m1 0h13m1 0h6m2 0h1m1 0h1m1 0h1m1 0h5m5 0h1m1 0h1m3 0h1m1 0h2m2 0h1m1 0h6m1 0h1m1 0h3M0 17.5h1m1 0h4m1 0h3m1 0h4m1 0h2m2 0h8m1 0h2m2 0h4m1 0h4m3 0h2m1 0h4m1 0h12m4 0h5m2 0h2m1 0h7m2 0h6m1 0h2m1 0h6m1 0h3m1 0h6m2 0h3m1 0h3m2 0h3m1 0h9m1 0h3m2 0h1m1 0h1m1 0h3m1 0h3m1 0h10m2 0h1m1 0h6m1 0h2m2 0h2m1 0h1m1 0h3m2 0h1m2 0h8m1 0h2m1 0h1m1 0h1m1 0h3m1 0h1m1 0h4M0 18.5h4m1 0h1m1 0h3m1 0h3m2 0h7m2 0h1m1 0h3m1 0h2m2 0h4m1 0h3m1 0h2m2 0h1m1 0h5m3 0h4m1 0h6m1 0h1m2 0h2m1 0h1m1 0h1m1 0h1m1 0h7m3 0h1m4 0h3m1 0h7m1 0h1m1 0h2m1 0h6m1 0h3m1 0h5m1 0h5m1 0h1m1 0h1m2 0h1m3 0h2m1 0h1m2 0h1m1 0h3m2 0h3m1 0h1m2 0h5m2 0h7m1 0h3m1 0h12m1 0h2m1 0h1m1 0h4m1 0h3m1 0h1m2 0h1m1 0h5M3 19.5h2m1 0h2m1 0h1m1 0h3m2 0h1m1 0h3m2 0h1m5 0h1m1 0h1m1 0h1m1 0h1m2 0h1m2 0h2m1 0h2m2 0h1m3 0h2m2 0h2m4 0h5m3 0h4m1 0h5m1 0h4m2 0h1m1 0h2m2 0h5m1 0h6m2 0h2m1 0h4m5 0h1m1 0h1m1 0h1m1 0h3m1 0h1m1 0h4m2 0h1m1 0h2m1 0h1m3 0h4m1 0h3m3 0h2m2 0h1m1 0h4m1 0h1m3 0h3m1 0h1m1 0h2m1 0h1m2 0h2m1 0h1m2 0h1m1 0h4m3 0h2m1 0h1m1 0h2m2 0h4m1 0h2m1 0h2m2 0h1M0 20.5h6m1 0h4m2 0h7m1 0h2m4 0h8m1 0h5m3 0h7m1 0h4m1 0h2m2 0h3m1 0h1m2 0h1m1 0h4m1 0h1m1 0h1m2 0h2m3 0h3m1 0h1m2 0h1m1 0h1m2 0h1m1 0h7m3 0h1m1 0h3m1 0h4m2 0h1m1 0h5m1 0h1m2 0h5m2 0h2m2 0h7m1 0h1m1 0h1m1 0h3m1 0h5m1 0h19m1 0h11m1 0h15m1 0h3m1 0h5M0 21.5h1m2 0h2m4 0h6m1 0h1m1 0h1m1 0h2m2 0h5m1 0h1m3 0h3m1 0h2m3 0h3m2 0h5m1 0h4m1 0h2m2 0h1m4 0h4m3 0h2m1 0h1m2 0h2m1 0h1m1 0h2m2 0h6m2 0h1m1 0h2m1 0h1m1 0h4m2 0h3m2 0h1m1 0h3m1 0h13m2 0h2m3 0h2m1 0h2m1 0h7m1 0h4m3 0h3m1 0h3m2 0h1m1 0h1m2 0h1m1 0h3m1 0h1m2 0h2m1 0h5m1 0h1m1 0h1m2 0h2m3 0h4m1 0h2m2 0h4m1 0h3M6 22.5h4m2 0h1m5 0h3m1 0h1m1 0h5m3 0h1m1 0h1m1 0h2m1 0h1m4 0h2m2 0h1m1 0h2m1 0h1m16 0h1m2 0h1m3 0h1m4 0h3m1 0h1m3 0h4m1 0h3m1 0h1m1 0h2m1 0h1m3 0h1m5 0h1m6 0h1m3 0h2m3 0h2m3 0h2m1 0h2m2 0h6m20 0h1m1 0h1m5 0h1m1 0h2m1 0h1m9 0h1m2 0h2m3 0h2m2 0h2m2 0h2m2 0h1m1 0h2m2 0h2M2 23.5h5m1 0h1m2 0h2m2 0h2m1 0h1m3 0h1m2 0h6m2 0h1m1 0h6m2 0h6m1 0h5m1 0h1m6 0h1m4 0h1m1 0h1m2 0h2m6 0h2m2 0h1m2 0h2m1 0h4m1 0h1m1 0h2m2 0h3m3 0h1m1 0h1m2 0h1m2 0h2m1 0h3m3 0h1m2 0h2m2 0h3m1 0h6m3 0h1m4 0h2m1 0h1m4 0h3m1 0h4m6 0h1m2 0h1m1 0h2m2 0h1m2 0h1m2 0h2m3 0h1m4 0h1m1 0h2m7 0h1m3 0h1m3 0h1m1 0h3M0 24.5h1m1 0h1m1 0h1m1 0h4m1 0h7m1 0h3m1 0h7m1 0h2m2 0h2m1 0h2m1 0h2m1 0h1m3 0h1m1 0h4m1 0h4m1 0h1m1 0h2m1 0h3m1 0h3m1 0h2m2 0h2m2 0h1m2 0h4m32 0h1m16 0h2m15 0h1m21 0h1m2 0h1m4 0h1m11 0h1m1 0h1m5 0h1m7 0h1m5 0h1M0 25.5h1m2 0h2m3 0h3m1 0h1m2 0h1m1 0h1m1 0h2m1 0h3m4 0h1m1 0h3m3 0h1m1 0h1m1 0h1m1 0h2m2 0h1m1 0h1m2 0h2m1 0h2m2 0h4m1 0h5m1 0h4m1 0h1m1 0h2m2 0h2m6 0h1m2 0h2m1 0h2m1 0h1m1 0h4m3 0h1m1 0h4m1 0h1m1 0h2m1 0h1m1 0h1m1 0h1m1 0h2m2 0h1m2 0h2m1 0h3m3 0h1m1 0h3m4 0h1m1 0h2m1 0h1m2 0h1m4 0h1m3 0h1m2 0h1m5 0h1m6 0h1m4 0h1m9 0h2m1 0h2m1 0h1m4 0h1m1 0h1m5 0h2m1 0h2M0 26.5h1m1 0h1m5 0h1m18 0h1m1 0h1m4 0h1m3 0h1m2 0h2m2 0h3m5 0h1m5 0h2m1 0h1m1 0h1m2 0h1m4 0h1m2 0h2m1 0h1m1 0h1m3 0h1m2 0h1m2 0h1m1 0h2m3 0h1m5 0h1m1 0h1m1 0h1m2 0h1m1 0h1m1 0h2m12 0h2m6 0h1m1 0h1m1 0h2m5 0h1m2 0h1m1 0h1m2 0h1m5 0h1m4 0h1m9 0h1m6 0h1m5 0h1m1 0h2m2 0h1m4 0h2m2 0h2m3 0h2m2 0h2M1 27.5h1m1 0h2m1 0h1m1 0h3m1 0h2m1 0h2m2 0h3m1 0h8m1 0h4m1 0h9m1 0h5m1 0h4m4 0h6m1 0h4m1 0h4m1 0h2m2 0h1m1 0h1m1 0h1m3 0h1m9 0h1m14 0h1m8 0h1m27 0h1m6 0h1m8 0h1m7 0h1m3 0h1m18 0h1m12 0h10M1 28.5h1m1 0h2m3 0h1m1 0h2m6 0h1m1 0h1m3 0h2m5 0h2m6 0h1m8 0h1m1 0h3m1 0h1m4 0h2m1 0h3m3 0h1m1 0h1m3 0h1m1 0h1m2 0h1m2 0h4m1 0h1m2 0h1m2 0h1m3 0h1m3 0h1m1 0h1m1 0h2m1 0h1m6 0h1m1 0h2m1 0h1m1 0h2m4 0h1m1 0h1m1 0h2m1 0h1m2 0h1m1 0h1m1 0h1m1 0h2m11 0h1m4 0h1m2 0h1m3 0h1m2 0h3m1 0h1m1 0h2m1 0h2m3 0h1m1 0h1m4 0h1m3 0h3m2 0h1m1 0h2m5 0h1m1 0h4m1 0h1m1 0h2M0 29.5h1m1 0h3m2 0h4m1 0h2m3 0h1m1 0h4m2 0h5m1 0h1m1 0h2m1 0h2m1 0h1m1 0h5m1 0h2m1 0h11m1 0h2m1 0h4m2 0h2m2 0h2m2 0h4m1 0h1m1 0h3m1 0h6m1 0h3m1 0h1m3 0h4m1 0h6m1 0h2m1 0h1m2 0h3m1 0h2m1 0h1m1 0h1m2 0h1m1 0h3m1 0h5m1 0h1m1 0h1m2 0h17m1 0h1m4 0h1m2 0h1m1 0h3m1 0h1m1 0h1m1 0h1m2 0h11m1 0h2m2 0h3m2 0h1m1 0h1m4 0h2M1 30.5h2m1 0h3m2 0h4m1 0h1m3 0h1m3 0h1m4 0h1m2 0h5m2 0h1m1 0h1m1 0h2m1 0h2m2 0h3m5 0h2m2 0h1m1 0h1m1 0h4m4 0h2m1 0h2m1 0h1m1 0h1m8 0h1m7 0h3m1 0h2m1 0h2m1 0h1m1 0h3m2 0h2m2 0h2m1 0h1m3 0h1m1 0h1m1 0h1m4 0h1m1 0h1m1 0h1m1 0h2m5 0h3m6 0h1m1 0h2m2 0h3m1 0h1m2 0h1m1 0h1m2 0h2m3 0h3m5 0h3m2 0h2m1 0h1m3 0h1m2 0h1m3 0h1m1 0h1m2 0h1m1 0h1m2 0h1m2 0h3M2 31.5h2m8 0h1m6 0h1m8 0h1m2 0h1m9 0h1m21 0h1m5 0h1m9 0h1m9 0h1m7 0h1m1 0h1m6 0h1m9 0h1m3 0h1m11 0h1m13 0h1m1 0h1m1 0h1m6 0h2m5 0h1m1 0h1m1 0h2m2 0h2m1 0h5m1 0h5m1 0h5m3 0h1m2 0h1m2 0h3m3 0h5m2 0h2m2 0h2M2 32.5h3m1 0h1m3 0h1m5 0h1m4 0h1m4 0h3m3 0h1m3 0h2m21 0h1m4 0h1m1 0h1m7 0h1m1 0h2m6 0h1m2 0h1m10 0h1m6 0h1m2 0h1m6 0h2m3 0h1m6 0h1m2 0h2m1 0h2m13 0h1m4 0h1m1 0h1m1 0h1m12 0h2m1 0h1m30 0h1m7 0h1m1 0h1m2 0h1M1 33.5h1m2 0h1m1 0h1m3 0h2m5 0h1m1 0h1m3 0h1m1 0h1m1 0h1m1 0h2m2 0h1m2 0h3m2 0h1m3 0h3m2 0h1m4 0h2m1 0h1m1 0h1m1 0h4m1 0h2m2 0h4m3 0h3m1 0h1m2 0h4m4 0h4m1 0h2m3 0h2m2 0h1m2 0h3m1 0h4m1 0h1m5 0h4m3 0h3m1 0h1m1 0h1m1 0h1m4 0h1m1 0h1m5 0h1m1 0h1m1 0h1m2 0h1m2 0h2m4 0h2m3 0h2m1 0h1m1 0h4m1 0h1m1 0h1m3 0h1m1 0h1m6 0h2m1 0h1m2 0h1m1 0h5m1 0h1m1 0h1m1 0h1M1.66 34.5h1.04M40.18 34.5h1.04M93.49 34.5h1.04M121.8 34.5h1.04M40.18 35.5h1.04M56.25 37.5h1.04M136.47 37.5h1.04M160.06 38.5h1.04M199.35 38.5h1.04M207.25 38.5h1.04M22.58 39.5h1.04M154.07 39.5h1.04M192.46 43.5h1.04M11.61 44.5h1.04M189.53 45.5h1.04M24.62 49.5h1.04M96.04 49.5h1.04M125.76 49.5h1.04M137.49 49.5h1.04M174.86 49.5h1.04"/>
<path stroke="#dadaeb" d="M0 0.5h11m1 0h2m1 0h9m1 0h42m1 0h36m1 0h6m1 0h9m1 0h5m1 0h21m1 0h72M0 1.5h20m1 0h5m2 0h22m1 0h21m1 0h9m1 0h1m1 0h11m1 0h5m1 0h3m1 0h22m1 0h16m1 0h14m2 0h29m1 0h16m2 0h11M2 2.5h14m1 0h2m1 0h2m1 0h4m1 0h15m1 0h6m1 0h7m1 0h3m1 0h2m1 0h5m1 0h1m2 0h7m1 0h14m1 0h1m1 0h7m1 0h3m1 0h3m1 0h9m2 0h9m1 0h11m1 0h3m1 0h33m1 0h23m1 0h4m1 0h6M0 3.5h209m1 0h12M0 4.5h4m1 0h2m1 0h4m2 0h7m1 0h2m1 0h9m1 0h1m1 0h6m1 0h2m1 0h6m1 0h7m2 0h7m2 0h1m1 0h10m1 0h1m1 0h2m1 0h2m1 0h2m1 0h3m2 0h4m1 0h16m1 0h2m1 0h35m1 0h27m1 0h8m1 0h19m1 0h3M0 5.5h83m1 0h90m1 0h20m1 0h13m1 0h10m1 0h1M0 6.5h222M0 7.5h6m1 0h6m2 0h1m1 0h6m1 0h2m1 0h16m2 0h2m1 0h14m1 0h6m1 0h3m1 0h4m2 0h3m1 0h9m1 0h2m1 0h1m1 0h1m1 0h5m1 0h3m1 0h13m2 0h5m1 0h6m1 0h7m1 0h10m1 0h4m1 0h4m1 0h5m1 0h8m1 0h17m2 0h2m1 0h5m1 0h7m2 0h1M0 8.5h2m1 0h2m1 0h10m1 0h1m2 0h18m1 0h2m1 0h3m1 0h11m1 0h6m1 0h7m1 0h15m1 0h4m1 0h3m1 0h6m1 0h6m2 0h12m1 0h12m1 0h11m1 0h2m1 0h12m1 0h17m1 0h27m1 0h1m2 0h4M0 9.5h5m1 0h12m3 0h4m1 0h3m1 0h7m1 0h4m1 0h12m2 0h1m1 0h2m1 0h5m1 0h23m1 0h4m1 0h1m1 0h3m1 0h19m2 0h7m1 0h2m1 0h1m1 0h6m1 0h1m1 0h1m1 0h2m1 0h10m2 0h2m2 0h1m1 0h1m2 0h14m1 0h3m3 0h9m1 0h6m1 0h3m1 0h8M0 10.5h23m1 0h30m1 0h25m1 0h22m1 0h26m1 0h3m1 0h51m1 0h35M4 11.5h3m1 0h1m2 0h1m4 0h1m4 0h1m11 0h1m2 0h4m1 0h2m2 0h1m1 0h2m1 0h1m1 0h4m6 0h1m2 0h1m3 0h2m2 0h1m1 0h4m1 0h1m2 0h6m1 0h1m1 0h3m2 0h4m4 0h1m1 0h1m1 0h1m2 0h5m2 0h1m1 0h2m1 0h1m2 0h1m1 0h3m3 0h6m4 0h2m3 0h2m2 0h8m3 0h4m1 0h1m4 0h1m3 0h1m2 0h1m2 0h2m1 0h5m1 0h5m1 0h1m4 0h2m2 0h2m1 0h3m2 0h3M0 12.5h1m1 0h4m1 0h3m3 0h2m1 0h4m2 0h1m1 0h1m2 0h6m1 0h1m1 0h4m4 0h5m2 0h3m1 0h1m1 0h2m2 0h3m4 0h1m1 0h2m1 0h1m1 0h3m2 0h2m1 0h1m1 0h1m1 0h1m1 0h1m2 0h1m4 0h1m1 0h1m1 0h5m2 0h2m2 0h2m1 0h5m1 0h1m1 0h5m1 0h1m2 0h5m2 0h2m2 0h2m1 0h5m4 0h3m1 0h5m1 0h4m1 0h4m1 0h9m1 0h3m1 0h6m2 0h2m1 0h5m1 0h2m1 0h5m1 0h1m1 0h3m1 0h1M0 13.5h4m1 0h1m1 0h3m3 0h2m1 0h4m2 0h1m2 0h10m1 0h5m4 0h5m2 0h4m1 0h2m2 0h3m4 0h1m1 0h2m1 0h1m1 0h1m1 0h1m3 0h1m3 0h1m1 0h1m1 0h1m2 0h2m2 0h2m1 0h5m1 0h1m2 0h2m2 0h7m2 0h1m1 0h4m2 0h1m3 0h4m2 0h3m1 0h2m2 0h5m3 0h9m1 0h13m1 0h9m1 0h3m1 0h1m1 0h1m1 0h1m5 0h1m3 0h1m1 0h1m1 0h1m1 0h1m4 0h3M0 14.5h3m1 0h2m3 0h3m2 0h2m2 0h2m1 0h5m3 0h5m2 0h6m6 0h4m1 0h1m1 0h6m2 0h1m1 0h4m1 0h2m1 0h5m1 0h2m2 0h4m1 0h3m1 0h9m3 0h1m1 0h3m1 0h1m3 0h1m1 0h2m2 0h3m1 0h1m2 0h2m1 0h5m2 0h5m2 0h2m3 0h1m1 0h1m1 0h1m1 0h1m2 0h2m2 0h1m3 0h1m1 0h3m1 0h6m1 0h4m1 0h1m3 0h1m1 0h3m1 0h1m1 0h2m1 0h4m1 0h1m2 0h1m1 0h2m2 0h4m1 0h3M1 15.5h1m3 0h4m2 0h6m1 0h9m1 0h2m3 0h7m1 0h1m1 0h4m2 0h5m1 0h2m2 0h2m2 0h2m2 0h3m2 0h1m1 0h2m2 0h1m1 0h1m1 0h4m1 0h2m1 0h1m1 0h1m3 0h2m2 0h15m2 0h3m1 0h1m1 0h5m1 0h2m1 0h1m1 0h2m1 0h1m1 0h2m1 0h3m3 0h1m1 0h2m4 0h1m2 0h2m1 0h4m1 0h3m1 0h1m3 0h1m1 0h1m1 0h1m1 0h2m1 0h2m1 0h3m1 0h1m1 0h4m1 0h2m1 0h3m4 0h1m1 0h1m9 0h1M0 16.5h2m2 0h2m2 0h16m1 0h3m1 0h8m3 0h2m1 0h8m1 0h2m1 0h7m1 0h6m1 0h1m1 0h8m2 0h9m2 0h24m1 0h1m1 0h2m3 0h1m1 0h2m1 0h4m1 0h2m1 0h2m2 0h8m1 0h4m1 0h13m1 0h6m2 0h1m1 0h1m1 0h1m2 0h4m5 0h1m1 0h1m3 0h1m1 0h2m2 0h1m1 0h6m1 0h1m1 0h3M0 17.5h1m1 0h4m1 0h3m1 0h4m1 0h2m2 0h8m1 0h2m2 0h4m1 0h4m3 0h2m1 0h4m1 0h12m4 0h5m2 0h2m1 0h7m2 0h3m1 0h2m1 0h2m1 0h6m1 0h3m1 0h6m2 0h3m1 0h3m2 0h3m1 0h9m1 0h3m2 0h1m1 0h1m1 0h3m1 0h3m1 0h10m2 0h1m1 0h6m1 0h2m2 0h2m1 0h1m1 0h1m1 0h1m2 0h1m2 0h8m1 0h2m1 0h1m1 0h1m1 0h3m1 0h1m1 0h4M0 18.5h4m1 0h1m1 0h3m1 0h3m2 0h5m1 0h1m2 0h1m1 0h3m1 0h2m2 0h4m1 0h3m1 0h2m2 0h1m1 0h5m3 0h4m1 0h3m1 0h2m1 0h1m2 0h2m1 0h1m1 0h1m1 0h1m1 0h7m3 0h1m4 0h3m1 0h7m1 0h1m1 0h2m1 0h6m1 0h3m1 0h5m1 0h5m1 0h1m1 0h1m2 0h1m3 0h2m1 0h1m2 0h1m1 0h3m2 0h3m1 0h1m2 0h4m3 0h1m1 0h5m1 0h3m1 0h12m1 0h2m1 0h1m1 0h4m1 0h3m1 0h1m2 0h1m1 0h5M3 19.5h2m1 0h2m1 0h1m1 0h3m2 0h1m1 0h3m2 0h1m5 0h1m1 0h1m1 0h1m1 0h1m2 0h1m2 0h2m1 0h2m2 0h1m3 0h2m2 0h2m4 0h5m3 0h1m1 0h2m1 0h5m1 0h4m2 0h1m1 0h2m2 0h5m1 0h3m1 0h2m2 0h2m1 0h4m5 0h1m1 0h1m1 0h1m1 0h3m1 0h1m1 0h4m2 0h1m1 0h2m1 0h1m3 0h4m1 0h3m3 0h2m2 0h1m1 0h4m1 0h1m3 0h3m1 0h1m1 0h2m1 0h1m2 0h1m2 0h1m2 0h1m1 0h4m3 0h2m1 0h1m1 0h2m3 0h2m2 0h2m1 0h2m2 0h1M0 20.5h6m1 0h4m2 0h7m1 0h2m4 0h8m1 0h5m3 0h7m1 0h4m1 0h2m2 0h3m1 0h1m2 0h1m1 0h4m1 0h1m1 0h1m2 0h2m3 0h3m1 0h1m2 0h1m1 0h1m2 0h1m1 0h7m3 0h1m1 0h3m1 0h4m2 0h1m1 0h5m1 0h1m2 0h5m2 0h2m2 0h7m1 0h1m1 0h1m1 0h3m1 0h5m1 0h19m1 0h11m1 0h15m1 0h3m1 0h5M0 21.5h1m2 0h2m4 0h6m1 0h1m1 0h1m1 0h2m2 0h5m1 0h1m3 0h3m1 0h2m3 0h3m2 0h5m1 0h4m1 0h2m2 0h1m4 0h4m3 0h2m1 0h1m2 0h2m1 0h1m1 0h2m2 0h6m2 0h1m1 0h2m1 0h1m1 0h4m2 0h3m2 0h1m1 0h2m2 0h13m2 0h2m3 0h2m1 0h2m1 0h7m1 0h4m3 0h3m1 0h3m2 0h1m1 0h1m2 0h1m1 0h3m1 0h1m2 0h2m1 0h5m1 0h1m1 0h1m2 0h2m3 0h4m1 0h2m2 0h4m1 0h3M6 22.5h4m2 0h1m5 0h3m1 0h1m1 0h5m3 0h1m1 0h1m1 0h2m1 0h1m4 0h2m2 0h1m1 0h2m1 0h1m16 0h1m2 0h1m3 0h1m4 0h3m1 0h1m3 0h4m1 0h3m1 0h1m1 0h2m1 0h1m3 0h1m5 0h1m6 0h1m3 0h2m3 0h2m3 0h2m1 0h2m2 0h6m20 0h1m1 0h1m5 0h1m1 0h2m1 0h1m9 0h1m2 0h1m4 0h2m2 0h2m2 0h2m2 0h1m1 0h2m2 0h2M2 23.5h5m1 0h1m2 0h2m2 0h2m1 0h1m3 0h1m2 0h6m2 0h1m1 0h6m2 0h6m1 0h5m1 0h1m6 0h1m4 0h1m1 0h1m2 0h2m6 0h2m2 0h1m2 0h2m2 0h3m1 0h1m1 0h2m3 0h2m3 0h1m1 0h1m2 0h1m2 0h2m1 0h3m3 0h1m3 0h1m2 0h3m3 0h4m3 0h1m4 0h1m2 0h1m4 0h3m1 0h4m6 0h1m2 0h1m1 0h2m2 0h1m2 0h1m2 0h2m3 0h1m4 0h1m1 0h2m7 0h1m3 0h1m3 0h1m1 0h3M0 24.5h1m1 0h1m1 0h1m1 0h4m1 0h7m1 0h3m1 0h7m1 0h2m2 0h2m1 0h2m1 0h2m1 0h1m3 0h1m1 0h4m1 0h4m1 0h1m1 0h2m1 0h3m1 0h3m1 0h2m2 0h2m2 0h1m2 0h4m32 0h1m16 0h2m15 0h1m21 0h1m2 0h1m4 0h1m13 0h1m5 0h1m7 0h1m5 0h1M0 25.5h1m2 0h2m3 0h3m1 0h1m2 0h1m1 0h1m1 0h2m1 0h3m4 0h1m1 0h3m3 0h1m1 0h1m1 0h1m1 0h2m2 0h1m1 0h1m2 0h2m1 0h2m2 0h2m1 0h1m1 0h5m1 0h4m1 0h1m1 0h2m2 0h2m6 0h1m2 0h2m1 0h2m1 0h1m1 0h4m3 0h1m1 0h4m1 0h1m1 0h2m1 0h1m1 0h1m1 0h1m1 0h2m2 0h1m2 0h2m1 0h3m3 0h1m1 0h3m4 0h1m1 0h2m1 0h1m2 0h1m4 0h1m3 0h1m2 0h1m5 0h1m6 0h1m4 0h1m9 0h2m1 0h2m1 0h1m4 0h1m1 0h1m5 0h2m1 0h2M0 26.5h1m1 0h1m5 0h1m18 0h1m1 0h1m8 0h1m2 0h2m2 0h3m5 0h1m5 0h2m1 0h1m1 0h1m2 0h1m4 0h1m2 0h2m1 0h1m1 0h1m3 0h1m2 0h1m2 0h1m1 0h2m3 0h1m5 0h1m1 0h1m1 0h1m2 0h1m1 0h1m1 0h2m12 0h2m6 0h1m1 0h1m1 0h2m5 0h1m2 0h1m1 0h1m2 0h1m5 0h1m4 0h1m9 0h1m6 0h1m5 0h1m1 0h2m2 0h1m4 0h2m2 0h2m3 0h2m2 0h2M1 27.5h1m1 0h2m1 0h1m1 0h3m1 0h2m1 0h2m2 0h3m1 0h8m1 0h4m1 0h9m1 0h5m1 0h4m4 0h6m1 0h4m1 0h4m1 0h2m2 0h1m1 0h1m1 0h1m3 0h1m9 0h1m14 0h1m8 0h1m27 0h1m6 0h1m8 0h1m7 0h1m22 0h1m12 0h10M1 28.5h1m1 0h2m3 0h1m1 0h2m6 0h1m1 0h1m3 0h2m5 0h2m6 0h1m8 0h1m1 0h3m1 0h1m4 0h2m1 0h3m3 0h1m1 0h1m3 0h1m1 0h1m2 0h1m2 0h4m1 0h1m2 0h1m2 0h1m3 0h1m3 0h1m1 0h1m1 0h1m2 0h1m6 0h1m1 0h2m1 0h1m1 0h2m4 0h1m1 0h1m1 0h2m1 0h1m2 0h1m1 0h1m1 0h1m1 0h2m11 0h1m4 0h1m2 0h1m3 0h1m2 0h3m1 0h1m1 0h2m1 0h1m4 0h1m1 0h1m4 0h1m3 0h3m2 0h1m1 0h2m5 0h1m1 0h4m1 0h1m1 0h2M0 29.5h1m1 0h1m1 0h1m2 0h4m1 0h2m5 0h4m2 0h5m1 0h1m1 0h2m1 0h2m1 0h1m1 0h4m2 0h2m1 0h1m1 0h9m1 0h2m1 0h4m2 0h2m2 0h2m2 0h4m1 0h1m1 0h2m2 0h2m1 0h3m1 0h2m2 0h1m3 0h4m2 0h5m1 0h2m1 0h1m2 0h3m1 0h2m1 0h1m1 0h1m2 0h1m1 0h2m3 0h4m1 0h1m1 0h1m2 0h17m1 0h1m4 0h1m4 0h2m2 0h1m1 0h1m4 0h6m1 0h4m2 0h1m2 0h1m1 0h1m2 0h1m1 0h1m4 0h1M1 30.5h2m1 0h3m2 0h1m1 0h2m1 0h1m3 0h1m3 0h1m7 0h3m1 0h1m2 0h1m1 0h1m1 0h2m1 0h2m2 0h3m5 0h2m2 0h1m1 0h1m1 0h4m4 0h2m1 0h2m1 0h1m1 0h1m8 0h1m7 0h3m1 0h2m1 0h2m1 0h1m2 0h2m2 0h2m2 0h2m1 0h1m7 0h1m4 0h1m1 0h1m1 0h1m1 0h2m5 0h3m6 0h1m1 0h2m2 0h3m1 0h1m2 0h1m1 0h1m2 0h2m3 0h3m5 0h1m1 0h1m2 0h2m1 0h1m3 0h1m2 0h1m3 0h1m1 0h1m2 0h1m1 0h1m2 0h1m2 0h3M2 31.5h1m9 0h1m18 0h1m9 0h1m21 0h1m5 0h1m9 0h1m17 0h1m1 0h1m6 0h1m9 0h1m15 0h1m13 0h1m1 0h1m1 0h1m6 0h1m6 0h1m1 0h1m1 0h2m2 0h2m1 0h5m1 0h5m1 0h5m3 0h1m2 0h1m2 0h3m3 0h5m2 0h2m2 0h2M2 32.5h3m1 0h1m3 0h1m5 0h1m4 0h1m4 0h3m3 0h1m3 0h2m21 0h1m4 0h1m1 0h1m7 0h1m1 0h2m6 0h1m2 0h1m10 0h1m6 0h1m2 0h1m6 0h2m3 0h1m6 0h1m2 0h2m1 0h2m13 0h1m4 0h1m1 0h1m1 0h1m12 0h2m1 0h1m30 0h1m7 0h1m1 0h1m2 0h1M1 33.5h1m2 0h1m1 0h1m3 0h2m5 0h1m1 0h1m3 0h1m3 0h1m1 0h2m2 0h1m2 0h3m2 0h1m3 0h3m2 0h1m4 0h2m1 0h1m1 0h1m1 0h4m1 0h2m2 0h4m3 0h3m1 0h1m2 0h2m1 0h1m4 0h4m1 0h2m3 0h2m2 0h1m2 0h3m1 0h4m1 0h1m5 0h4m3 0h3m1 0h1m1 0h1m1 0h1m4 0h1m1 0h1m5 0h1m1 0h1m1 0h1m2 0h1m2 0h2m4 0h2m3 0h2m1 0h1m1 0h4m1 0h1m1 0h1m3 0h1m1 0h1m6 0h2m1 0h1m2 0h1m1 0h5m1 0h1m1 0h1m1 0h1M125.76 36.5h1.04"/>
<path stroke="#c8c9e2" d="M0 0.5h11m1 0h2m1 0h9m1 0h42m1 0h36m1 0h6m1 0h9m1 0h5m1 0h21m1 0h72M0 1.5h20m1 0h5m2 0h22m1 0h21m1 0h9m1 0h1m1 0h11m1 0h5m1 0h3m1 0h22m1 0h16m1 0h14m2 0h16m1 0h12m1 0h16m2 0h11M2 2.5h14m1 0h2m1 0h2m1 0h4m1 0h15m1 0h6m1 0h7m1 0h3m1 0h2m1 0h5m1 0h1m2 0h7m1 0h14m1 0h1m1 0h7m1 0h3m1 0h3m1 0h9m2 0h9m1 0h11m1 0h3m1 0h33m1 0h23m1 0h4m1 0h5M0 3.5h209m1 0h12M0 4.5h4m1 0h2m1 0h4m2 0h7m1 0h1m2 0h9m1 0h1m1 0h6m1 0h2m1 0h6m1 0h7m2 0h7m2 0h1m1 0h10m1 0h1m1 0h2m1 0h2m1 0h2m1 0h3m2 0h4m1 0h16m1 0h2m1 0h35m1 0h27m1 0h8m1 0h19m1 0h3M0 5.5h83m1 0h90m1 0h20m1 0h13m1 0h10m1 0h1M0 6.5h222M0 7.5h6m1 0h6m2 0h1m1 0h6m1 0h2m1 0h16m2 0h2m1 0h14m1 0h6m1 0h3m1 0h4m2 0h3m1 0h9m1 0h2m1 0h1m1 0h1m1 0h5m1 0h3m1 0h13m2 0h5m1 0h6m1 0h7m1 0h10m1 0h4m1 0h4m1 0h4m2 0h8m1 0h17m2 0h2m1 0h5m1 0h7m2 0h1M0 8.5h2m1 0h2m1 0h10m1 0h1m2 0h18m1 0h2m1 0h3m1 0h6m1 0h4m1 0h6m1 0h7m1 0h15m1 0h4m1 0h3m1 0h6m1 0h6m2 0h12m1 0h6m1 0h5m1 0h11m1 0h2m1 0h12m1 0h9m1 0h7m1 0h27m1 0h1m2 0h4M1 9.5h4m1 0h12m3 0h4m1 0h3m1 0h7m1 0h4m1 0h12m2 0h1m1 0h2m1 0h5m1 0h23m1 0h4m1 0h1m1 0h3m1 0h19m2 0h7m1 0h2m1 0h1m1 0h6m1 0h1m1 0h1m1 0h2m1 0h10m2 0h2m2 0h1m1 0h1m2 0h14m1 0h3m3 0h1m1 0h7m1 0h6m1 0h3m1 0h8M0 10.5h23m1 0h30m1 0h25m1 0h22m1 0h26m1 0h3m1 0h51m1 0h35M4 11.5h3m1 0h1m2 0h1m4 0h1m4 0h1m11 0h1m2 0h4m1 0h2m2 0h1m1 0h2m3 0h4m6 0h1m2 0h1m3 0h2m2 0h1m1 0h4m1 0h1m2 0h6m1 0h1m1 0h3m2 0h4m4 0h1m1 0h1m1 0h1m2 0h5m2 0h1m1 0h2m1 0h1m2 0h1m1 0h3m3 0h6m4 0h2m3 0h2m2 0h8m3 0h4m1 0h1m4 0h1m3 0h1m2 0h1m2 0h2m1 0h5m1 0h5m6 0h2m3 0h1m1 0h1m1 0h1m2 0h3M0 12.5h1m1 0h4m1 0h3m3 0h2m1 0h4m2 0h1m1 0h1m2 0h6m1 0h1m1 0h4m4 0h5m2 0h3m1 0h1m1 0h2m2 0h3m4 0h1m1 0h2m1 0h1m1 0h3m2 0h2m1 0h1m1 0h1m1 0h1m1 0h1m2 0h1m4 0h1m1 0h1m1 0h5m2 0h2m2 0h2m1 0h5m1 0h1m1 0h5m1 0h1m2 0h5m2 0h2m2 0h2m1 0h5m4 0h3m1 0h5m1 0h4m1 0h4m1 0h9m1 0h3m1 0h6m2 0h2m1 0h5m1 0h2m1 0h5m1 0h1m1 0h3m1 0h1M0 13.5h4m1 0h1m1 0h3m3 0h2m1 0h3m3 0h1m2 0h2m1 0h7m1 0h5m4 0h5m2 0h4m1 0h2m2 0h3m4 0h1m1 0h2m1 0h1m1 0h1m1 0h1m3 0h1m3 0h1m1 0h1m1 0h1m2 0h2m2 0h2m1 0h5m1 0h1m2 0h2m2 0h7m2 0h1m1 0h4m2 0h1m3 0h4m2 0h3m1 0h2m2 0h5m3 0h9m1 0h13m1 0h9m1 0h3m1 0h1m1 0h1m1 0h1m5 0h1m3 0h1m1 0h1m1 0h1m1 0h1m4 0h3M0 14.5h3m1 0h2m3 0h3m2 0h2m2 0h2m2 0h4m3 0h5m2 0h6m6 0h4m1 0h1m1 0h6m2 0h1m1 0h4m1 0h2m1 0h5m1 0h2m2 0h4m1 0h3m1 0h1m1 0h7m3 0h1m1 0h3m1 0h1m3 0h1m1 0h2m2 0h3m1 0h1m2 0h2m1 0h5m2 0h5m2 0h2m3 0h1m1 0h1m1 0h1m1 0h1m2 0h2m2 0h1m3 0h1m1 0h3m1 0h6m1 0h1m1 0h2m1 0h1m3 0h1m1 0h3m1 0h1m1 0h2m2 0h3m1 0h1m2 0h1m1 0h2m2 0h4m1 0h2M1 15.5h1m3 0h4m2 0h6m1 0h3m1 0h5m1 0h2m3 0h7m1 0h1m1 0h4m2 0h5m1 0h2m2 0h2m2 0h2m2 0h3m2 0h1m1 0h2m2 0h1m1 0h1m1 0h4m1 0h2m1 0h1m1 0h1m3 0h2m2 0h15m2 0h3m1 0h1m1 0h5m1 0h2m1 0h1m1 0h2m1 0h1m1 0h2m1 0h3m3 0h1m1 0h2m4 0h1m2 0h2m1 0h4m1 0h3m1 0h1m3 0h1m1 0h1m1 0h1m1 0h2m1 0h2m1 0h2m2 0h1m1 0h4m1 0h2m1 0h1m1 0h1m4 0h1m1 0h1m9 0h1M0 16.5h2m2 0h2m2 0h4m1 0h11m1 0h3m1 0h8m3 0h2m1 0h8m1 0h2m1 0h7m1 0h6m1 0h1m1 0h8m2 0h9m2 0h24m1 0h1m1 0h2m3 0h1m1 0h2m1 0h1m1 0h2m1 0h2m1 0h2m3 0h6m2 0h4m1 0h5m1 0h7m1 0h6m2 0h1m1 0h1m1 0h1m2 0h4m5 0h1m1 0h1m3 0h1m1 0h2m2 0h1m1 0h1m1 0h2m1 0h1m1 0h1m1 0h3M0 17.5h1m1 0h4m1 0h3m1 0h4m1 0h2m2 0h8m1 0h2m2 0h4m1 0h4m3 0h2m1 0h4m1 0h12m4 0h5m2 0h2m1 0h7m2 0h3m1 0h2m1 0h2m1 0h6m1 0h3m1 0h6m2 0h3m1 0h3m2 0h3m1 0h9m1 0h3m2 0h1m1 0h1m1 0h3m1 0h3m1 0h10m2 0h1m1 0h6m1 0h2m2 0h2m1 0h1m1 0h1m1 0h1m2 0h1m2 0h8m1 0h2m1 0h1m1 0h1m1 0h3m1 0h1m1 0h4M0 18.5h4m1 0h1m1 0h3m1 0h3m2 0h5m1 0h1m2 0h1m1 0h3m1 0h2m3 0h3m1 0h3m1 0h2m2 0h1m1 0h5m3 0h1m1 0h2m1 0h1m1 0h1m1 0h2m1 0h1m2 0h2m1 0h1m1 0h1m1 0h1m1 0h7m3 0h1m4 0h3m1 0h4m1 0h2m1 0h1m1 0h2m1 0h6m1 0h3m1 0h5m1 0h5m1 0h1m1 0h1m2 0h1m3 0h2m1 0h1m2 0h1m1 0h3m2 0h3m1 0h1m2 0h4m3 0h1m1 0h5m1 0h3m1 0h12m1 0h2m1 0h1m1 0h4m1 0h3m1 0h1m2 0h1m1 0h5M3 19.5h2m1 0h2m1 0h1m1 0h1m1 0h1m2 0h1m1 0h3m2 0h1m5 0h1m1 0h1m1 0h1m1 0h1m2 0h1m2 0h2m1 0h2m2 0h1m3 0h2m2 0h2m4 0h5m3 0h1m1 0h2m1 0h5m1 0h4m2 0h1m1 0h2m2 0h5m1 0h3m1 0h2m2 0h2m1 0h4m5 0h1m1 0h1m1 0h1m1 0h3m1 0h1m1 0h4m2 0h1m1 0h2m1 0h1m3 0h4m1 0h3m3 0h2m2 0h1m1 0h4m1 0h1m3 0h3m1 0h1m1 0h2m1 0h1m5 0h1m2 0h1m1 0h4m3 0h2m3 0h2m3 0h2m2 0h2m1 0h2m2 0h1M0 20.5h6m1 0h4m2 0h7m1 0h2m4 0h8m1 0h5m3 0h7m1 0h4m1 0h2m2 0h3m1 0h1m2 0h1m1 0h4m1 0h1m1 0h1m2 0h2m3 0h3m1 0h1m2 0h1m1 0h1m2 0h1m1 0h7m3 0h1m1 0h3m1 0h4m2 0h1m1 0h5m1 0h1m2 0h5m2 0h2m2 0h7m1 0h1m1 0h1m1 0h3m1 0h5m1 0h19m1 0h11m1 0h15m1 0h3m1 0h5M0 21.5h1m2 0h2m4 0h6m1 0h1m1 0h1m1 0h2m2 0h5m5 0h3m1 0h2m3 0h3m2 0h5m1 0h4m1 0h2m2 0h1m4 0h2m1 0h1m3 0h2m1 0h1m2 0h2m1 0h1m1 0h2m2 0h6m2 0h1m1 0h2m1 0h1m1 0h4m2 0h3m2 0h1m1 0h2m2 0h9m1 0h3m2 0h2m3 0h2m1 0h2m1 0h7m1 0h4m3 0h3m1 0h2m3 0h1m1 0h1m2 0h1m1 0h3m1 0h1m2 0h2m1 0h5m1 0h1m1 0h1m2 0h2m3 0h4m1 0h2m2 0h4m1 0h3M6 22.5h4m2 0h1m5 0h3m1 0h1m1 0h5m3 0h1m1 0h1m1 0h2m1 0h1m4 0h2m2 0h1m1 0h2m1 0h1m16 0h1m2 0h1m3 0h1m4 0h3m1 0h1m3 0h4m1 0h3m1 0h1m1 0h2m1 0h1m3 0h1m5 0h1m6 0h1m3 0h2m3 0h2m3 0h2m1 0h1m3 0h6m22 0h1m5 0h1m1 0h2m1 0h1m9 0h1m2 0h1m4 0h2m2 0h2m2 0h2m2 0h1m1 0h2m2 0h2M2 23.5h5m1 0h1m2 0h2m2 0h2m1 0h1m3 0h1m2 0h6m2 0h1m1 0h6m2 0h6m1 0h5m8 0h1m4 0h1m1 0h1m3 0h1m6 0h2m2 0h1m2 0h2m2 0h3m1 0h1m1 0h2m3 0h2m3 0h1m1 0h1m2 0h1m2 0h2m2 0h2m3 0h1m3 0h1m2 0h3m3 0h4m3 0h1m4 0h1m7 0h3m1 0h4m6 0h1m2 0h1m1 0h2m2 0h1m2 0h1m2 0h2m3 0h1m4 0h1m1 0h2m7 0h1m3 0h1m3 0h1m1 0h3M0 24.5h1m1 0h1m1 0h1m1 0h3m2 0h7m1 0h3m1 0h7m1 0h2m2 0h2m1 0h2m1 0h2m1 0h1m3 0h1m1 0h4m1 0h4m1 0h1m1 0h2m1 0h3m1 0h2m2 0h2m2 0h2m2 0h1m2 0h4m32 0h1m16 0h2m15 0h1m21 0h1m2 0h1m4 0h1m13 0h1m5 0h1m7 0h1m5 0h1M0 25.5h1m2 0h2m3 0h3m1 0h1m2 0h1m1 0h1m1 0h2m1 0h3m4 0h1m1 0h3m3 0h1m1 0h1m1 0h1m1 0h2m2 0h1m1 0h1m2 0h2m1 0h2m2 0h2m1 0h1m1 0h3m1 0h1m1 0h4m1 0h1m1 0h2m2 0h2m6 0h1m2 0h2m1 0h2m1 0h1m1 0h4m3 0h1m1 0h4m1 0h1m1 0h2m1 0h1m1 0h1m1 0h1m1 0h1m3 0h1m2 0h2m1 0h3m3 0h1m1 0h3m4 0h1m1 0h2m1 0h1m2 0h1m4 0h1m3 0h1m2 0h1m5 0h1m6 0h1m4 0h1m9 0h2m1 0h2m1 0h1m4 0h1m1 0h1m5 0h2m1 0h2M0 26.5h1m1 0h1m26 0h1m11 0h2m2 0h3m5 0h1m5 0h2m1 0h1m1 0h1m2 0h1m4 0h1m2 0h2m1 0h1m1 0h1m3 0h1m2 0h1m2 0h1m1 0h2m3 0h1m5 0h1m1 0h1m1 0h1m2 0h1m1 0h1m1 0h2m12 0h2m6 0h1m1 0h1m1 0h2m5 0h1m2 0h1m1 0h1m2 0h1m5 0h1m4 0h1m9 0h1m6 0h1m5 0h1m1 0h2m2 0h1m4 0h2m2 0h2m3 0h2m2 0h2M1 27.5h1m1 0h2m1 0h1m1 0h3m1 0h2m1 0h2m2 0h3m1 0h8m1 0h4m1 0h6m1 0h2m1 0h5m1 0h4m4 0h6m1 0h4m1 0h4m1 0h2m2 0h1m1 0h1m1 0h1m3 0h1m9 0h1m14 0h1m8 0h1m27 0h1m6 0h1m8 0h1m7 0h1m22 0h1m12 0h10M1 28.5h1m1 0h2m3 0h1m1 0h2m6 0h1m1 0h1m3 0h2m5 0h2m6 0h1m8 0h1m1 0h3m1 0h1m4 0h2m1 0h3m3 0h1m1 0h1m3 0h1m1 0h1m2 0h1m2 0h4m1 0h1m2 0h1m2 0h1m3 0h1m3 0h1m1 0h1m1 0h1m2 0h1m6 0h1m1 0h2m1 0h1m1 0h2m4 0h1m1 0h1m1 0h2m1 0h1m2 0h1m1 0h1m1 0h1m1 0h2m11 0h1m4 0h1m2 0h1m3 0h1m2 0h3m1 0h1m1 0h2m1 0h1m4 0h1m1 0h1m4 0h1m3 0h3m2 0h1m1 0h2m5 0h1m1 0h4m1 0h1m1 0h2M0 29.5h1m1 0h1m1 0h1m3 0h3m1 0h2m5 0h4m2 0h4m2 0h1m1 0h1m2 0h2m1 0h1m1 0h4m2 0h2m1 0h1m1 0h9m1 0h2m1 0h4m2 0h2m2 0h2m2 0h4m1 0h1m1 0h2m2 0h2m1 0h3m1 0h2m2 0h1m3 0h4m2 0h5m1 0h2m1 0h1m3 0h2m1 0h2m1 0h1m1 0h1m2 0h1m1 0h2m3 0h4m1 0h1m1 0h1m2 0h7m1 0h9m1 0h1m9 0h1m5 0h1m4 0h2m1 0h3m2 0h3m2 0h1m2 0h1m1 0h1m2 0h1m1 0h1m4 0h1M1 30.5h1m2 0h2m3 0h1m1 0h2m1 0h1m3 0h1m3 0h1m7 0h3m1 0h1m2 0h1m1 0h1m1 0h2m1 0h2m2 0h3m5 0h2m2 0h1m1 0h1m1 0h4m4 0h2m1 0h2m1 0h1m1 0h1m8 0h1m7 0h3m1 0h1m2 0h2m1 0h1m2 0h2m2 0h2m2 0h2m1 0h1m7 0h1m4 0h1m1 0h1m1 0h1m1 0h2m6 0h2m6 0h1m1 0h2m2 0h3m1 0h1m2 0h1m1 0h1m7 0h3m5 0h1m1 0h1m2 0h2m1 0h1m3 0h1m2 0h1m3 0h1m1 0h1m2 0h1m1 0h1m2 0h1m2 0h1M2 31.5h1m9 0h1m18 0h1m9 0h1m21 0h1m5 0h1m9 0h1m19 0h1m6 0h1m9 0h1m29 0h1m1 0h1m1 0h1m6 0h1m6 0h1m1 0h1m1 0h2m2 0h2m1 0h5m1 0h5m1 0h5m3 0h1m2 0h1m2 0h3m3 0h5m2 0h2m2 0h2M2 32.5h3m1 0h1m3 0h1m5 0h1m4 0h1m4 0h3m3 0h1m3 0h2m21 0h1m4 0h1m1 0h1m7 0h1m1 0h2m6 0h1m2 0h1m10 0h1m6 0h1m2 0h1m6 0h2m3 0h1m6 0h1m2 0h2m1 0h2m13 0h1m4 0h1m1 0h1m1 0h1m12 0h2m1 0h1m30 0h1m9 0h1m2 0h1M1 33.5h1m2 0h1m1 0h1m3 0h2m5 0h1m1 0h1m3 0h1m3 0h1m1 0h2m2 0h1m2 0h3m2 0h1m3 0h3m2 0h1m4 0h2m1 0h1m1 0h1m1 0h4m1 0h2m2 0h4m3 0h3m1 0h1m2 0h2m1 0h1m4 0h4m1 0h2m3 0h2m2 0h1m2 0h3m1 0h4m1 0h1m5 0h4m3 0h3m1 0h1m1 0h1m1 0h1m4 0h1m1 0h1m5 0h1m1 0h1m1 0h1m2 0h1m2 0h2m4 0h2m3 0h2m1 0h1m2 0h3m1 0h1m1 0h1m5 0h1m6 0h2m1 0h1m2 0h1m1 0h5m1 0h1m1 0h1m1 0h1"/>
<path stroke="#b6b6d8" d="M0 0.5h11m1 0h2m1 0h9m1 0h42m1 0h36m1 0h6m1 0h9m1 0h5m1 0h18m1 0h2m1 0h72M0 1.5h20m1 0h1m1 0h3m2 0h22m1 0h14m1 0h6m1 0h9m1 0h1m1 0h11m1 0h5m1 0h3m1 0h22m1 0h1m1 0h14m1 0h14m2 0h16m1 0h12m1 0h16m2 0h1m1 0h9M2 2.5h14m1 0h2m1 0h2m1 0h4m1 0h15m1 0h6m1 0h7m1 0h3m1 0h2m1 0h5m1 0h1m2 0h7m1 0h14m1 0h1m1 0h7m1 0h3m1 0h3m1 0h9m2 0h2m1 0h6m1 0h11m1 0h3m1 0h33m1 0h23m1 0h4m1 0h5M0 3.5h209m1 0h12M0 4.5h4m1 0h2m1 0h4m3 0h6m1 0h1m2 0h9m1 0h1m1 0h6m1 0h2m1 0h6m1 0h7m2 0h7m2 0h1m1 0h6m1 0h3m1 0h1m1 0h2m1 0h2m1 0h2m1 0h3m2 0h2m1 0h1m1 0h15m2 0h2m1 0h35m1 0h5m1 0h10m1 0h10m1 0h8m1 0h19m1 0h3M0 5.5h63m1 0h19m1 0h90m1 0h20m1 0h13m1 0h10m1 0h1M0 6.5h222M0 7.5h6m1 0h6m2 0h1m1 0h6m1 0h2m1 0h16m2 0h2m1 0h14m1 0h6m1 0h3m1 0h4m2 0h3m1 0h9m1 0h2m1 0h1m1 0h1m1 0h5m1 0h3m1 0h13m2 0h5m1 0h6m1 0h7m1 0h10m1 0h4m1 0h4m1 0h4m2 0h8m1 0h17m2 0h2m1 0h5m1 0h7m2 0h1M0 8.5h2m1 0h2m1 0h10m1 0h1m2 0h18m1 0h2m1 0h3m1 0h6m1 0h4m1 0h6m1 0h5m1 0h1m1 0h10m1 0h4m1 0h4m1 0h3m1 0h6m1 0h2m1 0h3m2 0h3m1 0h8m1 0h6m1 0h5m1 0h11m1 0h2m1 0h12m1 0h9m1 0h7m1 0h17m1 0h9m1 0h1m2 0h4M1 9.5h4m1 0h12m3 0h4m1 0h3m1 0h7m1 0h4m1 0h12m2 0h1m1 0h2m1 0h5m1 0h4m1 0h18m1 0h4m1 0h1m1 0h3m1 0h19m2 0h7m1 0h2m1 0h1m1 0h6m1 0h1m1 0h1m2 0h1m1 0h10m2 0h2m2 0h1m1 0h1m2 0h14m1 0h3m3 0h1m1 0h7m1 0h6m1 0h3m1 0h8M0 10.5h23m1 0h30m1 0h25m1 0h22m1 0h26m1 0h3m1 0h51m1 0h35M4 11.5h3m1 0h1m2 0h1m4 0h1m4 0h1m11 0h1m2 0h4m1 0h2m2 0h1m1 0h2m4 0h3m6 0h1m6 0h2m2 0h1m1 0h4m1 0h1m3 0h5m1 0h1m1 0h1m1 0h1m2 0h4m4 0h1m1 0h1m1 0h1m2 0h5m2 0h1m1 0h2m1 0h1m2 0h1m1 0h3m3 0h6m4 0h2m3 0h2m2 0h6m1 0h1m3 0h3m2 0h1m4 0h1m3 0h1m2 0h1m2 0h2m1 0h3m1 0h1m1 0h5m6 0h2m3 0h1m1 0h1m1 0h1m3 0h2M0 12.5h1m1 0h4m1 0h3m3 0h2m1 0h4m2 0h1m1 0h1m2 0h6m1 0h1m1 0h4m4 0h5m2 0h3m1 0h1m1 0h2m2 0h3m4 0h1m1 0h1m2 0h1m1 0h3m2 0h2m1 0h1m1 0h1m1 0h1m1 0h1m2 0h1m4 0h1m1 0h1m1 0h5m2 0h2m2 0h2m1 0h5m1 0h1m1 0h5m1 0h1m2 0h5m2 0h2m2 0h2m1 0h5m4 0h3m1 0h5m1 0h4m1 0h4m1 0h9m1 0h3m1 0h6m2 0h2m1 0h5m1 0h2m1 0h5m1 0h1m1 0h3m1 0h1M0 13.5h4m1 0h1m1 0h3m3 0h2m1 0h3m3 0h1m2 0h2m1 0h7m1 0h5m4 0h5m2 0h4m1 0h2m2 0h3m4 0h1m1 0h2m1 0h1m1 0h1m1 0h1m3 0h1m3 0h1m1 0h1m1 0h1m2 0h2m2 0h2m1 0h5m1 0h1m2 0h2m2 0h7m2 0h1m1 0h4m2 0h1m3 0h1m1 0h2m2 0h3m1 0h2m2 0h5m3 0h9m1 0h13m1 0h9m1 0h3m1 0h1m1 0h1m7 0h1m3 0h1m1 0h1m1 0h1m1 0h1m4 0h3M0 14.5h3m2 0h1m3 0h3m3 0h1m2 0h2m3 0h3m3 0h5m2 0h6m6 0h4m1 0h1m1 0h6m2 0h1m1 0h4m1 0h2m1 0h5m2 0h1m2 0h3m2 0h3m1 0h1m1 0h4m1 0h2m3 0h1m1 0h3m1 0h1m3 0h1m1 0h2m2 0h3m1 0h1m2 0h2m1 0h5m2 0h1m1 0h3m2 0h2m3 0h1m1 0h1m1 0h1m1 0h1m2 0h2m2 0h1m3 0h1m2 0h2m2 0h5m1 0h1m1 0h2m1 0h1m3 0h1m1 0h2m2 0h1m1 0h2m2 0h3m1 0h1m2 0h1m1 0h2m2 0h4m1 0h2M1 15.5h1m4 0h3m2 0h6m1 0h3m1 0h5m1 0h2m3 0h7m3 0h4m2 0h5m1 0h2m2 0h2m2 0h2m2 0h3m2 0h1m1 0h2m2 0h1m1 0h1m1 0h4m1 0h2m1 0h1m1 0h1m3 0h2m2 0h1m1 0h11m1 0h1m2 0h1m1 0h1m1 0h1m1 0h5m1 0h2m1 0h1m1 0h2m3 0h2m1 0h3m3 0h1m1 0h2m4 0h1m2 0h2m1 0h4m1 0h3m1 0h1m3 0h1m1 0h1m1 0h1m1 0h2m1 0h1m2 0h2m2 0h1m1 0h1m1 0h2m2 0h1m1 0h1m1 0h1m4 0h1m11 0h1M0 16.5h2m2 0h2m2 0h4m1 0h11m1 0h3m1 0h7m4 0h2m1 0h1m2 0h5m1 0h2m1 0h7m1 0h6m1 0h1m2 0h7m2 0h9m2 0h24m1 0h1m1 0h2m5 0h2m1 0h1m1 0h2m1 0h2m1 0h2m3 0h6m2 0h4m1 0h5m1 0h1m1 0h5m1 0h2m1 0h3m2 0h1m1 0h1m1 0h1m2 0h4m5 0h1m1 0h1m3 0h1m1 0h2m2 0h1m1 0h1m1 0h2m1 0h1m1 0h1m1 0h3M0 17.5h1m1 0h4m1 0h3m1 0h4m1 0h2m2 0h8m1 0h2m2 0h4m1 0h4m3 0h2m1 0h3m2 0h6m1 0h1m1 0h3m4 0h5m2 0h2m1 0h7m2 0h3m1 0h2m1 0h2m1 0h5m2 0h3m1 0h6m2 0h3m1 0h3m2 0h3m1 0h9m1 0h3m2 0h1m1 0h1m1 0h3m1 0h3m1 0h7m2 0h1m2 0h1m1 0h6m1 0h2m2 0h2m1 0h1m1 0h1m1 0h1m2 0h1m2 0h1m1 0h3m2 0h1m1 0h2m1 0h1m1 0h1m1 0h3m1 0h1m1 0h4M0 18.5h4m1 0h1m1 0h3m1 0h1m1 0h1m2 0h5m1 0h1m2 0h1m1 0h3m1 0h2m3 0h1m1 0h1m1 0h3m1 0h2m2 0h1m1 0h5m3 0h1m1 0h2m1 0h1m1 0h1m1 0h2m1 0h1m2 0h2m1 0h1m1 0h1m1 0h1m1 0h7m3 0h1m5 0h2m1 0h4m1 0h2m1 0h1m1 0h2m2 0h5m1 0h3m1 0h5m1 0h5m1 0h1m1 0h1m2 0h1m3 0h2m1 0h1m2 0h1m1 0h2m3 0h3m1 0h1m2 0h4m3 0h1m1 0h5m1 0h3m1 0h12m1 0h2m1 0h1m1 0h4m1 0h3m1 0h1m2 0h1m1 0h1m1 0h3M3 19.5h2m1 0h2m1 0h1m1 0h1m1 0h1m2 0h1m1 0h3m2 0h1m7 0h1m1 0h1m1 0h1m2 0h1m2 0h2m1 0h2m2 0h1m3 0h2m2 0h2m4 0h5m3 0h1m2 0h1m1 0h1m1 0h3m1 0h4m2 0h1m1 0h2m2 0h5m1 0h1m1 0h1m1 0h2m2 0h2m1 0h4m5 0h1m1 0h1m1 0h1m1 0h3m1 0h1m1 0h4m2 0h1m1 0h2m1 0h1m3 0h4m1 0h3m3 0h2m2 0h1m1 0h4m1 0h1m3 0h3m1 0h1m1 0h2m1 0h1m5 0h1m2 0h1m1 0h4m3 0h2m3 0h2m3 0h2m2 0h2m1 0h2m2 0h1M0 20.5h6m1 0h4m2 0h7m1 0h2m4 0h8m1 0h5m3 0h7m1 0h4m1 0h2m2 0h3m1 0h1m2 0h1m1 0h4m1 0h1m1 0h1m2 0h2m3 0h3m1 0h1m2 0h1m1 0h1m2 0h1m1 0h7m3 0h1m1 0h3m1 0h4m2 0h1m1 0h5m1 0h1m2 0h5m2 0h2m2 0h7m1 0h1m1 0h1m1 0h3m1 0h5m1 0h19m1 0h11m1 0h15m1 0h3m1 0h5M0 21.5h1m2 0h2m4 0h6m1 0h1m1 0h1m1 0h2m2 0h2m1 0h2m5 0h3m1 0h2m3 0h3m2 0h5m1 0h4m1 0h2m2 0h1m4 0h2m1 0h1m3 0h2m1 0h1m2 0h2m1 0h1m5 0h6m2 0h1m1 0h2m1 0h1m1 0h4m2 0h3m2 0h1m1 0h2m3 0h8m1 0h3m2 0h2m3 0h2m1 0h2m1 0h3m1 0h3m1 0h4m3 0h3m1 0h2m3 0h1m1 0h1m2 0h1m1 0h3m1 0h1m2 0h2m1 0h5m1 0h1m1 0h1m2 0h2m3 0h4m1 0h2m2 0h4m1 0h3M6 22.5h4m2 0h1m6 0h2m1 0h1m1 0h5m3 0h1m1 0h1m1 0h2m1 0h1m4 0h2m2 0h1m1 0h2m1 0h1m16 0h1m2 0h1m3 0h1m4 0h3m1 0h1m3 0h4m1 0h3m1 0h1m1 0h2m1 0h1m3 0h1m5 0h1m6 0h1m3 0h2m3 0h2m3 0h2m1 0h1m3 0h6m22 0h1m5 0h1m1 0h2m1 0h1m9 0h1m2 0h1m4 0h2m2 0h2m2 0h2m2 0h1m1 0h2m2 0h2M2 23.5h5m1 0h1m2 0h2m2 0h2m1 0h1m3 0h1m2 0h4m1 0h1m2 0h1m1 0h6m2 0h3m1 0h2m1 0h4m9 0h1m4 0h1m1 0h1m3 0h1m6 0h2m2 0h1m2 0h2m2 0h3m1 0h1m1 0h2m3 0h2m3 0h1m1 0h1m2 0h1m2 0h2m2 0h2m3 0h1m3 0h1m2 0h3m4 0h3m3 0h1m4 0h1m7 0h2m2 0h4m6 0h1m2 0h1m1 0h2m2 0h1m2 0h1m2 0h2m3 0h1m4 0h1m2 0h1m7 0h1m3 0h1m3 0h1m1 0h3M0 24.5h1m1 0h1m1 0h1m1 0h3m2 0h7m1 0h3m1 0h7m1 0h2m2 0h2m1 0h2m1 0h2m1 0h1m3 0h1m1 0h4m1 0h4m1 0h1m1 0h2m1 0h3m1 0h2m2 0h2m2 0h2m2 0h1m2 0h4m32 0h1m16 0h2m15 0h1m21 0h1m7 0h1m13 0h1m5 0h1m7 0h1m5 0h1M0 25.5h1m2 0h2m3 0h3m1 0h1m2 0h1m1 0h1m1 0h2m1 0h3m4 0h1m1 0h3m3 0h1m1 0h1m1 0h1m1 0h2m4 0h1m2 0h2m1 0h2m2 0h2m1 0h1m1 0h3m1 0h1m1 0h4m1 0h1m1 0h2m2 0h2m6 0h1m2 0h2m1 0h2m3 0h4m3 0h1m1 0h4m1 0h1m1 0h2m1 0h1m1 0h1m1 0h1m1 0h1m3 0h1m2 0h2m1 0h3m3 0h1m1 0h3m4 0h1m1 0h2m1 0h1m2 0h1m4 0h1m3 0h1m2 0h1m5 0h1m6 0h1m4 0h1m9 0h2m1 0h2m1 0h1m4 0h1m1 0h1m5 0h2m1 0h2M0 26.5h1m1 0h1m26 0h1m11 0h2m2 0h3m5 0h1m5 0h2m1 0h1m1 0h1m2 0h1m8 0h1m1 0h1m1 0h1m3 0h1m2 0h1m2 0h1m1 0h2m3 0h1m5 0h1m1 0h1m1 0h1m2 0h1m1 0h1m1 0h2m12 0h2m6 0h1m1 0h1m1 0h2m8 0h1m1 0h1m2 0h1m5 0h1m4 0h1m9 0h1m6 0h1m5 0h1m1 0h2m2 0h1m4 0h2m2 0h2m3 0h1m3 0h2M1 27.5h1m1 0h2m1 0h1m1 0h3m1 0h2m1 0h2m2 0h3m1 0h8m1 0h4m1 0h6m1 0h2m1 0h3m1 0h1m1 0h4m4 0h6m1 0h4m1 0h4m1 0h2m2 0h1m1 0h1m1 0h1m3 0h1m9 0h1m14 0h1m36 0h1m15 0h1m7 0h1m22 0h1m12 0h10M1 28.5h1m1 0h2m3 0h1m1 0h2m6 0h1m1 0h1m3 0h2m6 0h1m6 0h1m8 0h1m1 0h3m1 0h1m4 0h2m1 0h3m3 0h1m1 0h1m3 0h1m1 0h1m2 0h1m2 0h4m1 0h1m2 0h1m2 0h1m3 0h1m3 0h1m1 0h1m1 0h1m2 0h1m6 0h1m1 0h2m1 0h1m1 0h2m4 0h1m1 0h1m1 0h2m1 0h1m2 0h1m1 0h1m1 0h1m1 0h2m11 0h1m4 0h1m2 0h1m3 0h1m2 0h3m3 0h2m6 0h1m1 0h1m4 0h1m3 0h3m2 0h1m1 0h2m5 0h1m1 0h4m1 0h1m1 0h2M0 29.5h1m3 0h1m4 0h2m1 0h2m5 0h4m4 0h2m2 0h1m1 0h1m3 0h1m1 0h1m1 0h2m1 0h1m2 0h2m1 0h1m1 0h1m1 0h7m1 0h2m2 0h3m6 0h2m2 0h4m1 0h1m1 0h1m3 0h2m1 0h2m2 0h2m2 0h1m3 0h3m3 0h5m1 0h2m1 0h1m3 0h1m2 0h2m1 0h1m1 0h1m2 0h1m2 0h1m3 0h4m1 0h1m1 0h1m2 0h3m1 0h3m1 0h7m1 0h1m1 0h1m9 0h1m5 0h1m4 0h1m2 0h3m3 0h2m2 0h1m2 0h1m1 0h1m4 0h1m4 0h1M4 30.5h2m3 0h1m1 0h2m1 0h1m3 0h1m3 0h1m7 0h3m1 0h1m2 0h1m1 0h1m1 0h2m1 0h2m2 0h3m5 0h2m2 0h1m1 0h1m1 0h2m1 0h1m4 0h2m1 0h2m1 0h1m1 0h1m8 0h1m7 0h1m1 0h1m1 0h1m3 0h1m1 0h1m2 0h1m3 0h2m2 0h1m2 0h1m7 0h1m6 0h1m11 0h2m6 0h1m1 0h2m2 0h3m1 0h1m2 0h1m1 0h1m8 0h2m5 0h1m1 0h1m2 0h2m1 0h1m3 0h1m2 0h1m3 0h1m1 0h1m2 0h1m1 0h1m2 0h1m2 0h1M2 31.5h1m9 0h1m18 0h1m9 0h1m21 0h1m5 0h1m9 0h1m19 0h1m6 0h1m9 0h1m29 0h1m1 0h1m1 0h1m6 0h1m8 0h1m1 0h2m2 0h2m1 0h5m1 0h5m1 0h5m6 0h1m3 0h2m3 0h5m2 0h2m2 0h2M2 32.5h3m1 0h1m3 0h1m5 0h1m4 0h1m4 0h3m3 0h1m3 0h2m21 0h1m4 0h1m1 0h1m7 0h1m1 0h2m6 0h1m2 0h1m10 0h1m6 0h1m2 0h1m6 0h2m3 0h1m6 0h1m2 0h2m1 0h2m13 0h1m4 0h1m1 0h1m1 0h1m12 0h2m1 0h1m30 0h1m9 0h1m2 0h1M1 33.5h1m2 0h1m1 0h1m3 0h2m5 0h1m1 0h1m3 0h1m3 0h1m1 0h2m5 0h3m2 0h1m3 0h3m2 0h1m4 0h2m1 0h1m1 0h1m1 0h4m1 0h2m2 0h4m3 0h3m1 0h1m2 0h2m1 0h1m4 0h4m1 0h2m3 0h2m2 0h1m2 0h3m1 0h4m1 0h1m5 0h4m3 0h3m1 0h1m1 0h1m1 0h1m4 0h1m1 0h1m5 0h1m1 0h1m1 0h1m2 0h1m2 0h2m4 0h2m3 0h2m1 0h1m2 0h1m1 0h1m1 0h1m1 0h1m5 0h1m6 0h1m2 0h1m2 0h1m1 0h5m1 0h1m1 0h1m1 0h1M5.74 34.5h1.04M69.64 34.5h1.04M171.03 34.5h1.04M185.57 34.5h1.04M30.36 35.5h1.04M154.2 35.5h1.04M178.68 35.5h1.04M54.85 38.5h1.04M132.52 38.5h1.04M135.58 38.5h1.04M180.73 40.5h1.04M74.49 43.5h1.04M110.96 44.5h1.04M34.19 45.5h1.04M37.37 45.5h1.04M197.43 46.5h1.04M52.93 48.5h1.04M72.56 48.5h2.08M118.74 48.5h1.04M124.61 48.5h1.04M163 48.5h1.04M219.11 48.5h1.04M21.56 49.5h1.04M34.31 49.5h1.04M50 49.5h1.04M64.67 49.5h1.04M107.9 49.5h1.04M158.01 49.5h2.08M194.37 49.5h1.04"/>
<path stroke="#a4a1cc" d="M0 0.5h11m1 0h2m1 0h9m1 0h42m1 0h36m1 0h6m1 0h9m1 0h5m1 0h18m1 0h2m2 0h71M0 1.5h20m1 0h1m1 0h3m2 0h22m1 0h14m1 0h6m1 0h9m1 0h1m1 0h5m1 0h5m1 0h5m1 0h3m1 0h22m1 0h1m1 0h7m1 0h6m1 0h14m2 0h16m1 0h12m1 0h16m2 0h1m1 0h9M2 2.5h14m1 0h2m1 0h2m1 0h4m1 0h15m1 0h1m1 0h4m1 0h1m1 0h5m1 0h3m2 0h1m1 0h5m1 0h1m2 0h7m1 0h4m1 0h9m1 0h1m1 0h1m1 0h4m2 0h3m1 0h3m1 0h9m2 0h2m1 0h6m1 0h11m1 0h3m1 0h33m1 0h21m1 0h1m1 0h4m1 0h5M0 3.5h33m1 0h50m1 0h124m1 0h12M0 4.5h4m1 0h2m1 0h3m4 0h6m1 0h1m2 0h9m1 0h1m1 0h6m1 0h2m1 0h6m1 0h7m2 0h3m1 0h3m2 0h1m1 0h6m1 0h3m3 0h2m1 0h2m1 0h2m1 0h3m2 0h2m1 0h1m1 0h15m2 0h2m1 0h35m1 0h5m1 0h1m1 0h8m1 0h10m1 0h8m1 0h19m1 0h3M0 5.5h28m1 0h34m1 0h19m1 0h38m1 0h51m1 0h20m1 0h13m1 0h10m1 0h1M0 6.5h222M0 7.5h6m1 0h6m2 0h1m1 0h6m1 0h2m1 0h16m2 0h2m1 0h6m1 0h7m1 0h1m1 0h4m1 0h3m1 0h4m2 0h3m1 0h9m1 0h2m1 0h1m1 0h1m1 0h5m1 0h3m1 0h13m2 0h4m2 0h6m1 0h7m1 0h2m1 0h7m1 0h4m1 0h4m1 0h4m2 0h6m1 0h1m2 0h16m2 0h2m1 0h5m1 0h7m2 0h1M0 8.5h2m1 0h2m1 0h5m1 0h4m1 0h1m2 0h13m1 0h4m1 0h2m1 0h3m1 0h6m1 0h4m1 0h6m1 0h5m1 0h1m1 0h4m1 0h5m1 0h4m1 0h4m1 0h3m1 0h2m1 0h3m1 0h2m1 0h3m2 0h3m2 0h7m1 0h6m1 0h5m1 0h3m1 0h7m1 0h2m1 0h2m1 0h9m1 0h3m1 0h5m1 0h7m1 0h7m1 0h9m1 0h2m1 0h6m1 0h1m2 0h4M1 9.5h1m1 0h2m1 0h5m1 0h6m3 0h4m2 0h2m1 0h3m1 0h3m1 0h4m1 0h12m2 0h1m1 0h2m1 0h5m1 0h4m1 0h2m1 0h9m1 0h5m1 0h4m1 0h1m1 0h3m1 0h7m1 0h6m1 0h4m2 0h7m1 0h2m1 0h1m1 0h6m1 0h1m1 0h1m2 0h1m1 0h8m1 0h1m2 0h2m2 0h1m1 0h1m2 0h14m1 0h3m3 0h1m1 0h7m1 0h6m1 0h2m2 0h8M0 10.5h23m1 0h30m1 0h25m1 0h22m1 0h26m1 0h3m1 0h51m1 0h35M4 11.5h3m1 0h1m2 0h1m9 0h1m11 0h1m2 0h2m1 0h1m1 0h2m2 0h1m1 0h2m4 0h2m7 0h1m6 0h2m2 0h1m1 0h4m1 0h1m3 0h5m3 0h1m1 0h1m2 0h4m4 0h1m1 0h1m4 0h1m1 0h3m2 0h1m1 0h2m1 0h1m2 0h1m1 0h3m3 0h1m1 0h4m4 0h1m4 0h2m2 0h6m1 0h1m3 0h3m2 0h1m4 0h1m3 0h1m2 0h1m2 0h2m1 0h3m1 0h1m1 0h2m1 0h2m6 0h1m4 0h1m1 0h1m1 0h1m3 0h2M0 12.5h1m1 0h4m1 0h3m3 0h2m1 0h4m2 0h1m1 0h1m2 0h6m1 0h1m1 0h4m4 0h5m2 0h3m1 0h1m1 0h2m2 0h3m4 0h1m1 0h1m2 0h1m1 0h3m2 0h2m1 0h1m1 0h1m1 0h1m1 0h1m2 0h1m4 0h1m1 0h1m1 0h5m2 0h2m2 0h2m1 0h5m1 0h1m1 0h5m1 0h1m2 0h5m2 0h2m2 0h2m1 0h5m4 0h3m1 0h5m1 0h4m1 0h4m1 0h9m1 0h3m1 0h6m2 0h2m1 0h5m1 0h2m1 0h5m1 0h1m1 0h3m1 0h1M0 13.5h4m1 0h1m1 0h3m3 0h2m2 0h2m3 0h1m2 0h1m2 0h2m1 0h4m1 0h5m4 0h5m2 0h4m1 0h2m2 0h3m4 0h1m1 0h2m1 0h1m1 0h1m1 0h1m3 0h1m3 0h1m1 0h1m1 0h1m3 0h1m2 0h2m1 0h1m1 0h3m1 0h1m2 0h2m2 0h7m2 0h1m1 0h4m2 0h1m3 0h1m1 0h2m2 0h3m1 0h2m2 0h5m3 0h9m1 0h13m1 0h9m1 0h3m1 0h1m1 0h1m7 0h1m5 0h1m1 0h1m1 0h1m4 0h3M0 14.5h3m8 0h1m3 0h1m2 0h2m3 0h3m3 0h5m2 0h2m1 0h3m6 0h4m1 0h1m1 0h6m2 0h1m1 0h4m1 0h2m1 0h2m1 0h2m2 0h1m2 0h2m3 0h3m1 0h1m1 0h4m1 0h2m3 0h1m1 0h3m1 0h1m3 0h1m1 0h2m2 0h3m1 0h1m2 0h2m1 0h5m2 0h1m1 0h3m2 0h2m3 0h1m1 0h1m1 0h1m1 0h1m2 0h2m2 0h1m3 0h1m2 0h2m2 0h2m1 0h2m3 0h2m1 0h1m3 0h1m1 0h1m3 0h1m1 0h2m2 0h3m1 0h1m2 0h1m2 0h1m2 0h3m2 0h2M1 15.5h1m4 0h3m2 0h6m1 0h3m2 0h1m1 0h2m1 0h2m3 0h2m3 0h2m3 0h4m2 0h1m1 0h1m1 0h1m1 0h2m2 0h2m2 0h2m2 0h3m2 0h1m1 0h2m2 0h1m1 0h1m1 0h4m1 0h2m1 0h1m1 0h1m4 0h1m2 0h1m1 0h11m1 0h1m2 0h1m1 0h1m1 0h1m1 0h5m1 0h2m1 0h1m1 0h2m3 0h2m1 0h3m3 0h1m1 0h2m7 0h2m1 0h4m1 0h3m1 0h1m3 0h1m1 0h1m1 0h1m1 0h2m4 0h2m4 0h1m1 0h2m2 0h1m1 0h1m18 0h1M0 16.5h2m2 0h1m3 0h4m1 0h2m1 0h1m1 0h6m1 0h3m1 0h1m1 0h4m5 0h2m1 0h1m2 0h5m1 0h2m1 0h6m2 0h6m4 0h7m2 0h9m2 0h7m1 0h2m1 0h10m1 0h2m1 0h1m1 0h2m5 0h2m1 0h1m1 0h2m1 0h2m1 0h2m3 0h6m2 0h4m1 0h5m1 0h1m1 0h5m1 0h2m1 0h2m3 0h1m1 0h1m1 0h1m2 0h4m5 0h1m1 0h1m3 0h1m1 0h2m2 0h1m1 0h1m1 0h2m1 0h1m1 0h1m1 0h3M0 17.5h1m1 0h4m1 0h3m1 0h4m1 0h2m2 0h7m2 0h2m2 0h4m1 0h4m3 0h2m1 0h1m1 0h1m2 0h6m1 0h1m1 0h3m5 0h4m2 0h2m1 0h7m2 0h3m1 0h2m1 0h2m1 0h1m1 0h3m2 0h3m1 0h6m2 0h3m1 0h3m2 0h3m1 0h1m1 0h3m1 0h3m1 0h3m2 0h1m1 0h1m1 0h3m1 0h3m1 0h1m1 0h4m3 0h1m2 0h1m1 0h6m1 0h2m2 0h1m2 0h1m1 0h1m1 0h1m2 0h1m2 0h1m1 0h3m4 0h2m1 0h1m3 0h3m1 0h1m1 0h4M0 18.5h4m1 0h1m1 0h3m1 0h1m1 0h1m2 0h1m2 0h2m1 0h1m2 0h1m1 0h3m1 0h2m3 0h1m1 0h1m1 0h3m1 0h2m2 0h1m1 0h5m5 0h2m1 0h1m1 0h1m1 0h2m1 0h1m2 0h2m1 0h1m1 0h1m1 0h1m1 0h7m3 0h1m5 0h2m1 0h4m1 0h2m1 0h1m1 0h2m2 0h5m1 0h3m1 0h5m1 0h5m1 0h1m1 0h1m2 0h1m3 0h2m1 0h1m2 0h1m2 0h1m3 0h3m1 0h1m2 0h4m3 0h1m2 0h4m1 0h3m1 0h9m1 0h2m1 0h2m1 0h1m1 0h4m1 0h2m2 0h1m2 0h1m1 0h1m1 0h3M4 19.5h1m1 0h2m1 0h1m1 0h1m1 0h1m2 0h1m1 0h3m2 0h1m7 0h1m1 0h1m1 0h1m2 0h1m2 0h2m2 0h1m2 0h1m3 0h2m2 0h2m4 0h5m3 0h1m2 0h1m1 0h1m1 0h3m1 0h4m2 0h1m1 0h2m2 0h5m1 0h1m1 0h1m1 0h2m2 0h2m1 0h4m5 0h1m1 0h1m1 0h1m1 0h3m1 0h1m1 0h4m2 0h1m1 0h2m1 0h1m3 0h4m1 0h3m3 0h2m2 0h1m1 0h4m1 0h1m4 0h2m1 0h1m1 0h2m7 0h1m2 0h1m1 0h4m3 0h2m3 0h2m3 0h2m2 0h1m3 0h1m2 0h1M0 20.5h6m1 0h4m2 0h7m1 0h2m4 0h8m1 0h5m3 0h2m1 0h4m1 0h4m1 0h2m2 0h3m1 0h1m2 0h1m1 0h4m1 0h1m1 0h1m2 0h2m3 0h3m1 0h1m2 0h1m1 0h1m2 0h1m1 0h7m3 0h1m1 0h3m1 0h4m2 0h1m1 0h5m1 0h1m2 0h5m2 0h2m2 0h7m1 0h1m1 0h1m1 0h3m1 0h5m1 0h19m1 0h11m1 0h15m1 0h3m1 0h5M0 21.5h1m2 0h2m4 0h6m1 0h1m1 0h1m1 0h2m2 0h2m1 0h2m6 0h2m1 0h2m3 0h3m2 0h1m1 0h3m1 0h1m1 0h2m1 0h2m2 0h1m4 0h2m1 0h1m3 0h2m1 0h1m2 0h2m1 0h1m5 0h6m2 0h1m1 0h2m1 0h1m1 0h4m2 0h3m2 0h1m1 0h2m3 0h8m1 0h3m3 0h1m3 0h2m1 0h2m1 0h3m1 0h3m1 0h4m3 0h3m1 0h2m3 0h1m1 0h1m2 0h1m1 0h3m1 0h1m2 0h2m1 0h5m1 0h1m1 0h1m2 0h2m3 0h4m2 0h1m3 0h3m2 0h2M6 22.5h4m2 0h1m6 0h2m1 0h1m1 0h5m3 0h1m1 0h1m1 0h2m1 0h1m4 0h2m2 0h1m1 0h2m1 0h1m16 0h1m2 0h1m3 0h1m4 0h3m1 0h1m3 0h2m1 0h1m1 0h3m1 0h1m1 0h2m1 0h1m3 0h1m5 0h1m6 0h1m4 0h1m3 0h2m3 0h1m2 0h1m3 0h6m22 0h1m5 0h1m1 0h2m1 0h1m9 0h1m2 0h1m4 0h2m2 0h2m2 0h2m2 0h1m1 0h2m2 0h2M2 23.5h5m4 0h2m2 0h2m1 0h1m3 0h1m2 0h3m2 0h1m2 0h1m1 0h3m1 0h2m2 0h3m1 0h2m1 0h4m9 0h1m4 0h1m1 0h1m3 0h1m6 0h2m2 0h1m2 0h2m2 0h3m1 0h1m1 0h2m3 0h2m3 0h1m1 0h1m2 0h1m2 0h2m2 0h2m7 0h1m2 0h1m6 0h3m3 0h1m4 0h1m8 0h1m2 0h4m6 0h1m2 0h1m1 0h2m2 0h1m2 0h1m3 0h1m3 0h1m4 0h1m2 0h1m11 0h1m3 0h1m1 0h3M0 24.5h1m1 0h1m1 0h1m1 0h2m3 0h7m1 0h3m1 0h7m1 0h2m2 0h2m1 0h2m1 0h2m7 0h4m1 0h2m1 0h1m1 0h1m1 0h2m1 0h3m1 0h2m3 0h1m2 0h2m2 0h1m2 0h4m32 0h1m16 0h2m15 0h1m21 0h1m21 0h1m13 0h1m5 0h1M0 25.5h1m2 0h2m3 0h1m1 0h1m1 0h1m2 0h1m1 0h1m1 0h2m1 0h3m4 0h1m2 0h2m3 0h1m1 0h1m1 0h1m1 0h2m4 0h1m2 0h2m1 0h2m2 0h2m1 0h1m1 0h3m1 0h1m2 0h3m1 0h1m1 0h2m2 0h2m6 0h1m2 0h2m1 0h2m3 0h2m1 0h1m3 0h1m1 0h1m1 0h2m1 0h1m1 0h2m1 0h1m1 0h1m1 0h1m1 0h1m3 0h1m2 0h2m1 0h3m3 0h1m1 0h3m4 0h1m2 0h1m4 0h1m4 0h1m6 0h1m5 0h1m6 0h1m4 0h1m9 0h2m1 0h1m2 0h1m4 0h1m1 0h1m5 0h2m1 0h2M0 26.5h1m40 0h2m2 0h3m5 0h1m5 0h2m1 0h1m1 0h1m2 0h1m8 0h1m1 0h1m1 0h1m9 0h1m1 0h1m4 0h1m5 0h1m1 0h1m1 0h1m2 0h1m1 0h1m1 0h2m12 0h2m6 0h1m3 0h2m8 0h1m1 0h1m2 0h1m5 0h1m4 0h1m9 0h1m6 0h1m5 0h1m1 0h2m2 0h1m4 0h2m2 0h2m3 0h1m4 0h1M1 27.5h1m1 0h2m1 0h1m1 0h3m1 0h2m1 0h2m2 0h3m1 0h8m1 0h4m1 0h6m1 0h2m1 0h3m1 0h1m1 0h4m4 0h6m1 0h4m1 0h4m1 0h2m2 0h1m1 0h1m1 0h1m3 0h1m9 0h1m14 0h1m36 0h1m15 0h1m7 0h1m22 0h1m12 0h10M1 28.5h1m1 0h2m3 0h1m1 0h1m7 0h1m1 0h1m3 0h2m6 0h1m6 0h1m8 0h1m1 0h3m1 0h1m4 0h2m1 0h3m3 0h1m1 0h1m3 0h1m1 0h1m2 0h1m2 0h4m1 0h1m2 0h1m2 0h1m3 0h1m5 0h1m1 0h1m2 0h1m6 0h1m1 0h2m1 0h1m1 0h2m4 0h1m1 0h1m1 0h2m1 0h1m2 0h1m1 0h1m1 0h1m1 0h2m11 0h1m4 0h1m2 0h1m3 0h1m2 0h3m3 0h2m6 0h1m1 0h1m4 0h1m3 0h3m2 0h1m1 0h2m5 0h1m1 0h4m1 0h1m1 0h2M4 29.5h1m4 0h2m1 0h2m6 0h3m4 0h2m2 0h1m7 0h1m1 0h2m4 0h2m1 0h1m1 0h1m1 0h6m3 0h1m2 0h3m6 0h1m3 0h1m1 0h1m2 0h1m5 0h2m1 0h2m2 0h2m2 0h1m3 0h3m3 0h3m1 0h1m1 0h2m5 0h1m2 0h2m1 0h1m4 0h1m2 0h1m3 0h4m1 0h1m1 0h1m2 0h2m3 0h2m2 0h6m1 0h1m11 0h1m5 0h1m4 0h1m2 0h3m3 0h1m6 0h1m1 0h1m9 0h1M4 30.5h2m3 0h1m1 0h2m5 0h1m3 0h1m7 0h1m1 0h1m1 0h1m2 0h1m1 0h1m1 0h2m1 0h2m2 0h3m6 0h1m2 0h1m1 0h1m2 0h1m1 0h1m4 0h2m1 0h2m1 0h1m10 0h1m7 0h1m1 0h1m1 0h1m3 0h1m1 0h1m6 0h2m2 0h1m2 0h1m7 0h1m6 0h1m11 0h1m7 0h1m1 0h2m2 0h3m1 0h1m2 0h1m1 0h1m8 0h2m5 0h1m4 0h2m1 0h1m6 0h1m3 0h1m1 0h1m2 0h1m1 0h1m2 0h1m2 0h1M2 31.5h1m9 0h1m18 0h1m9 0h1m21 0h1m5 0h1m9 0h1m19 0h1m16 0h1m29 0h1m1 0h1m1 0h1m6 0h1m8 0h1m1 0h2m2 0h2m1 0h5m1 0h5m1 0h5m6 0h1m4 0h1m3 0h2m1 0h2m2 0h2m2 0h2M2 32.5h3m1 0h1m3 0h1m5 0h1m4 0h1m4 0h3m3 0h1m3 0h2m21 0h1m4 0h1m9 0h1m1 0h2m6 0h1m2 0h1m10 0h1m6 0h1m9 0h2m3 0h1m6 0h1m2 0h2m1 0h2m13 0h1m4 0h1m1 0h1m1 0h1m13 0h1m1 0h1m30 0h1m9 0h1m2 0h1M1 33.5h1m2 0h1m1 0h1m3 0h2m5 0h1m1 0h1m3 0h1m3 0h1m1 0h1m6 0h3m2 0h1m3 0h2m3 0h1m4 0h2m1 0h1m1 0h1m1 0h3m2 0h2m3 0h3m3 0h3m1 0h1m2 0h2m1 0h1m4 0h4m1 0h2m3 0h2m2 0h1m2 0h1m1 0h1m1 0h4m1 0h1m5 0h4m3 0h3m1 0h1m1 0h1m1 0h1m4 0h1m1 0h1m5 0h1m1 0h1m1 0h1m2 0h1m2 0h2m4 0h2m4 0h1m1 0h1m2 0h1m1 0h1m1 0h1m1 0h1m5 0h1m6 0h1m2 0h1m2 0h1m1 0h5m1 0h1m1 0h1m1 0h1M48.98 36.5h1.04M173.97 39.5h1.04M22.58 43.5h1.04M216.44 43.5h1.04M141.44 44.5h1.04M55.87 49.5h1.04M103.06 49.5h1.04"/>
<path stroke="#928ec2" d="M0 0.5h9m1 0h1m1 0h2m1 0h9m1 0h42m1 0h4m1 0h22m1 0h8m1 0h1m1 0h4m1 0h9m1 0h5m1 0h18m1 0h2m2 0h63m1 0h1m1 0h5M0 1.5h20m1 0h1m1 0h3m2 0h3m1 0h2m1 0h1m1 0h1m1 0h2m1 0h8m1 0h14m1 0h6m1 0h2m1 0h2m1 0h3m1 0h1m2 0h2m1 0h1m1 0h5m2 0h4m1 0h3m1 0h18m1 0h3m1 0h1m1 0h5m1 0h1m1 0h2m1 0h3m2 0h13m2 0h3m1 0h12m1 0h12m1 0h16m2 0h1m1 0h9M2 2.5h14m2 0h1m1 0h2m1 0h4m1 0h5m1 0h1m1 0h6m2 0h1m1 0h4m1 0h1m1 0h5m1 0h3m2 0h1m1 0h5m1 0h1m2 0h5m1 0h1m1 0h4m1 0h9m1 0h1m1 0h1m1 0h4m2 0h3m1 0h3m1 0h6m1 0h2m2 0h2m1 0h6m1 0h11m1 0h3m1 0h18m1 0h1m1 0h4m1 0h7m1 0h13m2 0h6m1 0h1m1 0h4m1 0h5M0 3.5h33m1 0h50m1 0h124m1 0h12M0 4.5h1m1 0h2m1 0h2m1 0h3m4 0h6m1 0h1m3 0h8m1 0h1m1 0h1m1 0h1m1 0h1m2 0h2m1 0h2m1 0h3m1 0h7m2 0h3m1 0h3m4 0h6m1 0h2m4 0h2m1 0h2m1 0h2m1 0h3m2 0h1m2 0h1m1 0h15m2 0h2m1 0h1m1 0h29m1 0h3m1 0h5m1 0h1m1 0h8m1 0h7m1 0h2m1 0h5m1 0h2m1 0h3m1 0h15m1 0h3M0 5.5h7m1 0h20m1 0h13m1 0h20m1 0h19m1 0h38m1 0h51m1 0h20m1 0h13m1 0h10m1 0h1M0 6.5h127m1 0h4m1 0h89M0 7.5h6m1 0h6m2 0h1m1 0h6m1 0h2m1 0h6m1 0h9m2 0h2m2 0h1m1 0h3m1 0h7m1 0h1m1 0h4m1 0h3m1 0h4m2 0h3m1 0h4m1 0h2m1 0h1m1 0h2m3 0h1m2 0h4m1 0h3m1 0h13m2 0h4m2 0h6m1 0h7m1 0h2m1 0h7m1 0h4m1 0h4m1 0h4m2 0h1m1 0h2m1 0h1m1 0h1m2 0h5m1 0h8m1 0h1m2 0h2m1 0h5m1 0h5m1 0h1m2 0h1M0 8.5h2m1 0h1m2 0h5m1 0h3m2 0h1m2 0h13m1 0h4m1 0h2m1 0h3m1 0h6m1 0h4m1 0h1m1 0h4m2 0h4m1 0h1m1 0h2m1 0h1m1 0h5m1 0h4m1 0h3m3 0h2m1 0h2m1 0h2m3 0h1m1 0h3m2 0h3m2 0h3m1 0h3m1 0h6m3 0h3m2 0h1m2 0h7m1 0h2m1 0h2m1 0h9m1 0h3m4 0h2m1 0h1m1 0h5m1 0h7m1 0h9m2 0h1m1 0h3m1 0h2m1 0h1m2 0h4M1 9.5h1m2 0h1m1 0h5m1 0h1m1 0h4m3 0h3m3 0h2m1 0h3m1 0h2m2 0h4m1 0h12m2 0h1m1 0h2m1 0h5m2 0h1m1 0h1m1 0h2m1 0h2m1 0h6m1 0h5m1 0h4m1 0h1m1 0h3m1 0h7m1 0h1m1 0h4m1 0h4m2 0h1m1 0h5m1 0h2m1 0h1m2 0h2m1 0h2m1 0h1m1 0h1m2 0h1m1 0h8m1 0h1m2 0h2m2 0h1m1 0h1m2 0h14m1 0h3m3 0h1m1 0h5m1 0h1m1 0h2m2 0h2m1 0h2m2 0h8M0 10.5h23m1 0h30m1 0h25m1 0h4m1 0h17m1 0h26m1 0h3m1 0h23m1 0h27m1 0h35M4 11.5h3m1 0h1m2 0h1m9 0h1m11 0h1m2 0h2m4 0h1m2 0h1m1 0h2m4 0h2m7 0h1m6 0h2m2 0h1m2 0h3m1 0h1m3 0h5m3 0h1m1 0h1m3 0h3m6 0h1m6 0h3m2 0h1m1 0h1m2 0h1m5 0h2m3 0h1m1 0h1m1 0h2m9 0h2m2 0h4m1 0h1m1 0h1m3 0h3m2 0h1m4 0h1m3 0h1m2 0h1m2 0h2m1 0h1m1 0h1m1 0h1m1 0h2m1 0h2m6 0h1m4 0h1m1 0h1m1 0h1m3 0h2M0 12.5h1m1 0h4m1 0h3m4 0h1m1 0h4m2 0h1m1 0h1m3 0h5m1 0h1m1 0h4m4 0h2m1 0h2m3 0h2m1 0h1m1 0h2m2 0h3m4 0h1m1 0h1m2 0h1m1 0h2m3 0h2m1 0h1m1 0h1m1 0h1m1 0h1m2 0h1m4 0h1m1 0h1m1 0h5m2 0h2m2 0h2m1 0h5m1 0h1m1 0h5m1 0h1m2 0h5m2 0h2m2 0h2m1 0h5m4 0h3m1 0h5m1 0h4m1 0h4m1 0h7m1 0h1m1 0h3m1 0h6m2 0h2m1 0h5m1 0h2m1 0h5m1 0h1m1 0h3M0 13.5h4m1 0h1m1 0h3m3 0h2m2 0h2m3 0h1m2 0h1m2 0h2m1 0h4m1 0h4m5 0h5m2 0h4m1 0h2m2 0h3m4 0h1m1 0h2m1 0h1m1 0h1m1 0h1m3 0h1m3 0h1m1 0h1m1 0h1m3 0h1m2 0h2m3 0h3m4 0h2m2 0h7m2 0h1m1 0h4m2 0h1m3 0h1m1 0h2m2 0h3m1 0h1m3 0h2m1 0h2m3 0h9m1 0h13m1 0h9m1 0h3m1 0h1m1 0h1m7 0h1m5 0h1m1 0h1m1 0h1m4 0h1m1 0h1M0 14.5h3m8 0h1m3 0h1m2 0h2m3 0h3m3 0h5m2 0h2m1 0h3m6 0h1m1 0h2m1 0h1m1 0h5m3 0h1m1 0h4m1 0h2m2 0h1m1 0h2m2 0h1m2 0h2m3 0h3m1 0h1m2 0h1m1 0h1m1 0h2m3 0h1m1 0h1m1 0h1m1 0h1m3 0h1m1 0h2m2 0h3m1 0h1m2 0h2m1 0h5m6 0h1m2 0h2m3 0h1m1 0h1m1 0h1m1 0h1m2 0h2m2 0h1m3 0h1m3 0h1m2 0h2m1 0h2m3 0h2m1 0h1m3 0h1m5 0h1m1 0h2m2 0h3m1 0h1m2 0h1m6 0h2m2 0h2M1 15.5h1m4 0h3m2 0h6m1 0h3m2 0h1m1 0h2m2 0h1m4 0h1m3 0h2m3 0h2m1 0h1m4 0h1m1 0h1m1 0h1m3 0h2m2 0h2m2 0h3m2 0h1m1 0h2m2 0h1m1 0h1m1 0h3m2 0h1m2 0h1m1 0h1m4 0h1m2 0h1m1 0h2m1 0h2m2 0h4m1 0h1m2 0h1m1 0h1m1 0h1m1 0h2m2 0h1m1 0h2m1 0h1m1 0h2m3 0h1m2 0h3m3 0h1m1 0h2m7 0h2m1 0h4m1 0h3m1 0h1m3 0h1m1 0h1m1 0h1m1 0h2m4 0h2m4 0h1m1 0h2m2 0h1m1 0h1m18 0h1M0 16.5h1m3 0h1m3 0h1m1 0h2m1 0h2m1 0h1m1 0h1m1 0h3m2 0h3m1 0h1m2 0h3m5 0h2m1 0h1m2 0h5m1 0h2m1 0h1m1 0h1m1 0h2m4 0h4m4 0h7m2 0h9m2 0h2m1 0h4m1 0h2m1 0h7m1 0h1m2 0h2m1 0h1m1 0h2m5 0h2m1 0h1m1 0h2m1 0h2m1 0h2m3 0h6m2 0h1m2 0h1m1 0h5m1 0h1m1 0h2m1 0h1m2 0h1m7 0h1m1 0h1m1 0h1m2 0h4m5 0h1m1 0h1m3 0h1m1 0h2m2 0h1m1 0h1m2 0h1m1 0h1m1 0h1m1 0h3M0 17.5h1m1 0h4m1 0h3m1 0h4m1 0h2m2 0h7m2 0h2m2 0h4m1 0h4m3 0h2m1 0h1m4 0h6m1 0h1m2 0h2m5 0h4m2 0h2m1 0h6m3 0h3m1 0h2m1 0h2m1 0h1m1 0h3m2 0h3m1 0h1m1 0h4m2 0h3m1 0h3m2 0h3m1 0h1m1 0h3m1 0h3m1 0h3m2 0h1m1 0h1m1 0h3m1 0h3m1 0h1m1 0h4m3 0h1m2 0h1m1 0h6m1 0h1m6 0h1m1 0h1m1 0h1m5 0h1m1 0h3m4 0h2m5 0h3m1 0h1m1 0h2m1 0h1M0 18.5h4m1 0h1m1 0h3m1 0h1m1 0h1m2 0h1m2 0h2m1 0h1m2 0h1m1 0h3m1 0h2m5 0h1m1 0h3m1 0h2m2 0h1m1 0h5m5 0h2m1 0h1m1 0h1m1 0h2m1 0h1m2 0h2m1 0h1m1 0h1m1 0h1m1 0h4m1 0h1m4 0h1m5 0h2m1 0h2m1 0h1m1 0h2m1 0h1m1 0h2m2 0h2m1 0h2m1 0h3m1 0h5m1 0h3m1 0h1m1 0h1m1 0h1m2 0h1m3 0h2m1 0h1m2 0h1m2 0h1m3 0h3m1 0h1m2 0h4m3 0h1m3 0h3m1 0h3m1 0h9m1 0h2m1 0h2m1 0h1m1 0h4m1 0h2m2 0h1m2 0h1m1 0h1m1 0h3M4 19.5h1m1 0h2m1 0h1m1 0h1m1 0h1m2 0h1m1 0h2m11 0h1m1 0h1m1 0h1m2 0h1m2 0h1m3 0h1m2 0h1m3 0h2m2 0h2m4 0h2m1 0h2m3 0h1m2 0h1m1 0h1m1 0h3m1 0h4m2 0h1m1 0h2m2 0h4m2 0h1m1 0h1m1 0h2m2 0h2m1 0h2m1 0h1m5 0h1m3 0h1m2 0h1m2 0h1m1 0h4m4 0h2m1 0h1m3 0h4m1 0h3m3 0h2m2 0h1m1 0h4m6 0h2m3 0h2m7 0h1m2 0h1m1 0h4m3 0h2m3 0h2m3 0h2m2 0h1m6 0h1M0 20.5h6m1 0h4m2 0h7m1 0h2m4 0h8m2 0h4m3 0h2m1 0h4m1 0h4m1 0h2m2 0h3m1 0h1m2 0h1m1 0h4m1 0h1m1 0h1m2 0h2m3 0h3m1 0h1m2 0h1m1 0h1m2 0h1m1 0h7m3 0h1m1 0h3m1 0h4m2 0h1m1 0h5m1 0h1m2 0h5m2 0h2m2 0h7m1 0h1m1 0h1m1 0h3m1 0h5m1 0h19m1 0h11m1 0h15m1 0h3m1 0h5M0 21.5h1m2 0h2m4 0h3m1 0h2m1 0h1m3 0h2m2 0h2m1 0h2m6 0h2m1 0h2m3 0h3m2 0h1m1 0h3m1 0h1m1 0h2m2 0h1m2 0h1m4 0h2m1 0h1m3 0h2m1 0h1m2 0h2m1 0h1m5 0h5m5 0h2m3 0h4m2 0h3m2 0h1m1 0h2m3 0h8m2 0h2m3 0h1m3 0h2m1 0h2m1 0h3m1 0h1m1 0h1m1 0h4m3 0h3m1 0h2m3 0h1m1 0h1m2 0h1m1 0h3m4 0h2m1 0h2m1 0h2m1 0h1m4 0h2m3 0h3m7 0h3m2 0h2M6 22.5h4m2 0h1m6 0h2m1 0h1m1 0h1m1 0h3m3 0h1m3 0h2m1 0h1m4 0h2m4 0h2m1 0h1m19 0h1m3 0h1m4 0h3m1 0h1m3 0h1m2 0h1m1 0h3m1 0h1m1 0h2m1 0h1m3 0h1m5 0h1m6 0h1m4 0h1m3 0h2m3 0h1m2 0h1m3 0h2m1 0h3m22 0h1m5 0h1m2 0h1m1 0h1m9 0h1m2 0h1m4 0h1m3 0h2m2 0h2m5 0h1m3 0h1M2 23.5h5m4 0h2m2 0h2m1 0h1m3 0h1m2 0h3m2 0h1m2 0h1m1 0h3m1 0h1m3 0h3m1 0h2m1 0h3m10 0h1m4 0h1m1 0h1m3 0h1m6 0h2m2 0h1m2 0h2m2 0h3m1 0h1m1 0h1m4 0h1m4 0h1m1 0h1m2 0h1m2 0h2m2 0h2m7 0h1m2 0h1m6 0h2m4 0h1m4 0h1m8 0h1m2 0h4m6 0h1m2 0h1m2 0h1m5 0h1m7 0h1m4 0h1m2 0h1m11 0h1m3 0h1m1 0h3M0 24.5h1m1 0h1m1 0h1m1 0h2m3 0h7m1 0h3m1 0h4m1 0h2m1 0h2m2 0h2m1 0h2m1 0h2m7 0h4m1 0h2m1 0h1m1 0h1m1 0h2m1 0h3m2 0h1m6 0h2m2 0h1m2 0h3m33 0h1m16 0h2m15 0h1m21 0h1m35 0h1m5 0h1M0 25.5h1m2 0h2m3 0h1m1 0h1m1 0h1m2 0h1m1 0h1m1 0h2m1 0h3m4 0h1m2 0h2m5 0h1m1 0h1m1 0h2m4 0h1m2 0h2m1 0h2m2 0h2m1 0h1m1 0h3m1 0h1m2 0h3m1 0h1m1 0h2m2 0h2m9 0h2m1 0h2m3 0h2m1 0h1m3 0h1m1 0h1m1 0h2m1 0h1m1 0h2m1 0h1m1 0h1m1 0h1m1 0h1m3 0h1m3 0h1m1 0h3m3 0h1m1 0h3m4 0h1m2 0h1m4 0h1m4 0h1m6 0h1m5 0h1m6 0h1m4 0h1m9 0h2m1 0h1m2 0h1m4 0h1m1 0h1m5 0h2m1 0h2M0 26.5h1m40 0h2m2 0h3m11 0h2m1 0h1m1 0h1m2 0h1m8 0h1m1 0h1m11 0h1m6 0h1m5 0h1m1 0h1m1 0h1m2 0h1m1 0h1m1 0h2m12 0h2m10 0h2m13 0h1m5 0h1m14 0h1m6 0h1m5 0h1m1 0h2m2 0h1m4 0h2m2 0h2m3 0h1m4 0h1M3 27.5h2m1 0h1m1 0h3m1 0h2m1 0h2m2 0h3m1 0h8m1 0h4m1 0h5m2 0h2m1 0h3m1 0h1m1 0h4m4 0h1m1 0h4m1 0h4m1 0h4m1 0h2m2 0h1m3 0h1m3 0h1m9 0h1m14 0h1m36 0h1m15 0h1m7 0h1m22 0h1m12 0h10M1 28.5h1m1 0h2m3 0h1m1 0h1m7 0h1m1 0h1m3 0h2m6 0h1m6 0h1m8 0h1m1 0h3m1 0h1m5 0h1m1 0h3m3 0h1m1 0h1m3 0h1m1 0h1m2 0h1m2 0h4m1 0h1m2 0h1m2 0h1m3 0h1m5 0h1m1 0h1m2 0h1m6 0h1m1 0h2m1 0h1m1 0h2m4 0h1m1 0h1m1 0h2m1 0h1m2 0h1m1 0h1m1 0h1m1 0h2m11 0h1m4 0h1m6 0h1m2 0h3m3 0h2m6 0h1m1 0h1m4 0h1m3 0h3m2 0h1m1 0h2m5 0h1m1 0h2m1 0h1m1 0h1m1 0h2M4 29.5h1m5 0h1m1 0h2m6 0h1m1 0h1m4 0h2m2 0h1m10 0h1m4 0h2m3 0h1m1 0h2m1 0h3m3 0h1m2 0h1m8 0h1m3 0h1m1 0h1m2 0h1m5 0h2m1 0h2m3 0h1m6 0h1m1 0h1m3 0h2m2 0h1m11 0h2m1 0h1m4 0h1m2 0h1m3 0h2m1 0h1m3 0h1m2 0h2m3 0h2m2 0h2m1 0h3m1 0h1m11 0h1m10 0h1m3 0h2m3 0h1m6 0h1m1 0h1m9 0h1M4 30.5h2m3 0h1m1 0h2m5 0h1m3 0h1m7 0h1m1 0h1m1 0h1m2 0h1m1 0h1m1 0h2m1 0h2m2 0h3m6 0h1m4 0h1m2 0h1m1 0h1m4 0h2m1 0h2m1 0h1m18 0h1m1 0h1m1 0h1m3 0h1m8 0h2m2 0h1m2 0h1m7 0h1m6 0h1m11 0h1m7 0h1m1 0h2m2 0h3m4 0h1m1 0h1m8 0h1m6 0h1m4 0h2m1 0h1m6 0h1m5 0h1m2 0h1m1 0h1m2 0h1m2 0h1M2 31.5h1m9 0h1m28 0h1m37 0h1m36 0h1m29 0h1m1 0h1m1 0h1m6 0h1m8 0h1m1 0h2m2 0h2m1 0h5m1 0h5m2 0h4m6 0h1m4 0h1m3 0h2m1 0h2m2 0h2m2 0h2M2 32.5h3m1 0h1m3 0h1m5 0h1m4 0h1m4 0h2m8 0h1m22 0h1m14 0h1m1 0h2m6 0h1m2 0h1m17 0h1m9 0h1m4 0h1m6 0h1m2 0h2m1 0h1m14 0h1m4 0h1m1 0h1m1 0h1m13 0h1m1 0h1m30 0h1m9 0h1m2 0h1M1 33.5h1m2 0h1m1 0h1m3 0h2m5 0h1m1 0h1m3 0h1m3 0h1m1 0h1m6 0h3m2 0h1m3 0h2m3 0h1m4 0h2m1 0h1m1 0h1m1 0h3m2 0h2m3 0h3m3 0h3m1 0h1m2 0h2m1 0h1m4 0h4m2 0h1m3 0h2m2 0h1m2 0h1m1 0h1m1 0h4m1 0h1m5 0h4m3 0h3m1 0h1m1 0h1m1 0h1m4 0h1m1 0h1m5 0h1m1 0h1m4 0h1m2 0h2m4 0h2m4 0h1m1 0h1m2 0h1m1 0h1m1 0h1m1 0h1m5 0h1m6 0h1m5 0h1m1 0h5m1 0h1m1 0h1m1 0h1"/>
<path stroke="#807dba" d="M0 0.5h9m1 0h1m1 0h2m1 0h6m1 0h2m1 0h8m2 0h27m1 0h4m1 0h2m1 0h1m1 0h5m2 0h12m1 0h2m1 0h8m1 0h1m2 0h3m1 0h9m1 0h5m1 0h7m1 0h10m1 0h2m2 0h57m1 0h4m2 0h1m1 0h5M0 1.5h8m1 0h9m1 0h1m1 0h1m2 0h2m2 0h3m1 0h1m2 0h1m1 0h1m1 0h2m1 0h1m2 0h5m1 0h14m1 0h3m1 0h2m1 0h2m1 0h2m1 0h3m1 0h1m2 0h2m3 0h5m2 0h4m2 0h2m1 0h2m1 0h1m1 0h2m1 0h1m1 0h8m1 0h3m3 0h5m1 0h1m1 0h2m1 0h3m2 0h8m1 0h4m2 0h3m1 0h10m3 0h1m1 0h1m1 0h4m1 0h2m2 0h8m1 0h7m2 0h1m1 0h9M3 2.5h8m2 0h2m3 0h1m1 0h2m1 0h1m1 0h2m1 0h1m1 0h2m2 0h1m1 0h5m3 0h1m2 0h3m1 0h1m1 0h3m1 0h1m1 0h3m2 0h1m1 0h5m1 0h1m2 0h2m1 0h2m1 0h1m1 0h3m2 0h9m1 0h1m1 0h1m1 0h4m2 0h3m2 0h2m2 0h5m1 0h2m2 0h2m1 0h6m1 0h2m1 0h8m1 0h1m1 0h1m1 0h1m1 0h2m1 0h1m2 0h10m1 0h1m1 0h1m1 0h2m1 0h7m1 0h7m1 0h4m4 0h5m1 0h1m1 0h4m2 0h4M1 3.5h32m1 0h25m2 0h13m1 0h8m2 0h3m1 0h59m1 0h16m1 0h10m1 0h31m2 0h12M0 4.5h1m1 0h2m1 0h2m2 0h2m4 0h1m1 0h3m2 0h1m3 0h1m1 0h3m1 0h1m2 0h1m1 0h1m1 0h1m1 0h1m2 0h1m3 0h1m1 0h1m1 0h1m1 0h6m5 0h1m1 0h1m1 0h1m4 0h6m2 0h1m4 0h2m2 0h1m1 0h1m2 0h3m2 0h1m2 0h1m1 0h1m1 0h1m1 0h3m1 0h5m4 0h2m1 0h1m1 0h4m1 0h2m1 0h12m1 0h6m1 0h1m2 0h2m1 0h5m4 0h5m1 0h1m1 0h7m2 0h1m2 0h4m1 0h2m1 0h1m1 0h1m1 0h1m1 0h10m1 0h2m1 0h3M0 5.5h7m1 0h8m1 0h4m1 0h6m1 0h3m1 0h9m1 0h19m2 0h19m1 0h32m1 0h5m1 0h38m1 0h12m1 0h20m1 0h13m1 0h3m1 0h6m1 0h1M0 6.5h60m1 0h11m1 0h2m1 0h41m1 0h9m1 0h4m1 0h17m1 0h8m1 0h27m1 0h34M0 7.5h6m1 0h6m4 0h6m1 0h2m1 0h2m2 0h2m1 0h9m2 0h2m2 0h1m1 0h3m1 0h5m1 0h1m1 0h1m1 0h4m1 0h1m1 0h1m1 0h4m2 0h3m1 0h4m1 0h1m2 0h1m2 0h1m3 0h1m2 0h4m1 0h3m1 0h6m1 0h2m2 0h2m2 0h4m2 0h3m1 0h2m1 0h7m1 0h2m1 0h1m1 0h5m1 0h4m1 0h2m1 0h1m1 0h2m1 0h1m4 0h2m3 0h1m2 0h5m1 0h8m1 0h1m3 0h1m1 0h5m1 0h5m1 0h1m2 0h1M0 8.5h2m1 0h1m2 0h5m1 0h3m2 0h1m2 0h7m1 0h5m1 0h1m1 0h2m1 0h2m1 0h3m1 0h5m2 0h4m1 0h1m1 0h4m3 0h3m1 0h1m1 0h2m1 0h1m1 0h2m1 0h2m4 0h1m1 0h3m4 0h1m1 0h2m1 0h2m3 0h1m1 0h3m2 0h3m4 0h1m1 0h1m1 0h1m1 0h6m5 0h1m2 0h1m3 0h3m2 0h1m1 0h2m1 0h2m1 0h1m2 0h1m2 0h2m2 0h3m5 0h1m1 0h1m1 0h5m1 0h1m1 0h5m3 0h4m2 0h1m4 0h3m2 0h1m4 0h4M1 9.5h1m4 0h5m1 0h1m2 0h3m3 0h3m3 0h2m1 0h3m1 0h2m2 0h1m2 0h1m1 0h2m1 0h2m1 0h6m2 0h1m1 0h2m1 0h2m5 0h1m1 0h1m1 0h2m1 0h2m1 0h6m1 0h2m1 0h1m2 0h4m3 0h3m1 0h2m1 0h3m4 0h4m1 0h2m1 0h1m2 0h1m1 0h1m1 0h1m1 0h1m1 0h1m2 0h1m2 0h2m1 0h2m3 0h1m2 0h1m1 0h2m1 0h5m1 0h1m2 0h2m2 0h1m5 0h9m1 0h3m2 0h2m3 0h1m2 0h2m3 0h1m1 0h1m4 0h1m1 0h2m2 0h1m2 0h5M0 10.5h23m1 0h5m1 0h24m1 0h10m1 0h14m1 0h4m1 0h17m1 0h26m1 0h3m1 0h2m1 0h10m1 0h9m1 0h10m1 0h15m2 0h32m1 0h2M4 11.5h1m1 0h1m1 0h1m2 0h1m9 0h1m11 0h1m2 0h1m5 0h1m11 0h1m7 0h1m6 0h2m2 0h1m3 0h2m5 0h1m1 0h2m6 0h1m3 0h1m8 0h1m6 0h3m4 0h1m2 0h1m5 0h2m3 0h1m1 0h1m1 0h1m10 0h1m4 0h3m1 0h1m1 0h1m3 0h3m2 0h1m4 0h1m3 0h1m2 0h1m2 0h1m2 0h1m1 0h1m1 0h1m4 0h2m6 0h1m4 0h1m1 0h1m1 0h1m3 0h2M0 12.5h1m1 0h4m1 0h3m4 0h1m1 0h2m1 0h1m2 0h1m1 0h1m3 0h5m1 0h1m2 0h3m4 0h1m2 0h2m4 0h1m3 0h2m2 0h3m4 0h1m1 0h1m2 0h1m1 0h2m3 0h2m1 0h1m1 0h1m1 0h1m1 0h1m2 0h1m4 0h1m3 0h5m2 0h1m3 0h2m1 0h5m1 0h1m1 0h2m1 0h2m1 0h1m2 0h5m2 0h2m2 0h2m1 0h5m4 0h3m1 0h5m1 0h4m1 0h4m1 0h7m1 0h1m1 0h3m1 0h6m2 0h2m1 0h5m1 0h2m1 0h5m1 0h1m2 0h1M0 13.5h1m1 0h2m1 0h1m1 0h3m4 0h1m2 0h2m3 0h1m2 0h1m2 0h2m1 0h4m1 0h4m5 0h5m2 0h4m1 0h2m2 0h3m6 0h2m1 0h1m1 0h1m1 0h1m3 0h1m3 0h1m1 0h1m1 0h1m3 0h1m2 0h2m3 0h3m4 0h2m2 0h2m1 0h4m2 0h1m1 0h4m2 0h1m3 0h1m1 0h2m2 0h3m1 0h1m3 0h2m1 0h2m3 0h7m1 0h1m1 0h4m1 0h8m1 0h9m1 0h3m1 0h1m1 0h1m7 0h1m5 0h1m3 0h1m4 0h1m1 0h1M0 14.5h3m8 0h1m3 0h1m2 0h2m3 0h2m4 0h5m2 0h2m2 0h2m6 0h1m1 0h2m1 0h1m1 0h5m3 0h1m1 0h4m2 0h1m2 0h1m1 0h2m2 0h1m2 0h1m5 0h2m1 0h1m4 0h1m1 0h2m5 0h1m3 0h1m3 0h1m1 0h2m2 0h3m1 0h1m3 0h1m2 0h4m6 0h1m2 0h2m3 0h1m1 0h1m1 0h1m1 0h1m2 0h2m2 0h1m3 0h1m6 0h2m1 0h2m3 0h2m1 0h1m9 0h1m2 0h1m2 0h3m4 0h1m6 0h2m2 0h2M1 15.5h1m4 0h3m2 0h1m1 0h3m2 0h3m4 0h2m2 0h1m4 0h1m3 0h2m6 0h1m4 0h1m1 0h1m1 0h1m3 0h2m2 0h2m2 0h1m1 0h1m2 0h1m1 0h2m2 0h1m1 0h1m1 0h3m2 0h1m4 0h1m4 0h1m2 0h1m1 0h2m1 0h2m2 0h3m2 0h1m2 0h1m1 0h1m1 0h1m1 0h2m2 0h1m2 0h1m1 0h1m1 0h2m3 0h1m2 0h1m1 0h1m3 0h1m2 0h1m7 0h1m2 0h4m2 0h2m1 0h1m3 0h1m1 0h1m1 0h1m2 0h1m4 0h2m4 0h1m1 0h2m4 0h1m18 0h1M0 16.5h1m3 0h1m3 0h1m1 0h2m1 0h2m3 0h1m1 0h2m3 0h1m1 0h1m1 0h1m2 0h2m6 0h2m1 0h1m2 0h4m2 0h2m3 0h1m1 0h2m4 0h4m4 0h3m1 0h3m2 0h9m2 0h2m1 0h4m1 0h2m1 0h1m3 0h3m1 0h1m2 0h2m1 0h1m1 0h2m5 0h1m2 0h1m1 0h1m2 0h2m6 0h4m1 0h1m2 0h1m2 0h1m1 0h4m4 0h2m1 0h1m10 0h1m3 0h1m4 0h2m7 0h1m3 0h1m1 0h2m4 0h1m2 0h1m1 0h1m1 0h1m1 0h1M0 17.5h1m1 0h3m2 0h3m1 0h2m1 0h1m1 0h2m2 0h2m1 0h4m2 0h1m3 0h4m1 0h2m5 0h2m6 0h6m1 0h1m2 0h2m5 0h4m2 0h2m1 0h1m1 0h4m3 0h1m1 0h1m2 0h1m1 0h2m1 0h1m1 0h3m2 0h3m1 0h1m2 0h2m3 0h3m1 0h3m3 0h2m1 0h1m1 0h1m1 0h1m1 0h2m2 0h2m3 0h1m1 0h1m1 0h3m1 0h3m1 0h1m1 0h4m8 0h1m1 0h4m8 0h1m1 0h1m1 0h1m5 0h1m1 0h3m4 0h2m6 0h2m1 0h1m1 0h2m1 0h1M1 18.5h3m1 0h1m1 0h3m1 0h1m4 0h1m2 0h2m1 0h1m2 0h1m1 0h1m1 0h1m1 0h2m5 0h1m1 0h3m1 0h2m2 0h1m1 0h1m2 0h2m5 0h2m1 0h1m1 0h1m1 0h1m2 0h1m2 0h2m1 0h1m5 0h4m6 0h1m6 0h1m1 0h2m1 0h1m2 0h1m1 0h1m1 0h2m2 0h2m1 0h2m2 0h2m3 0h3m1 0h3m1 0h1m1 0h1m4 0h1m3 0h2m1 0h1m9 0h1m3 0h1m2 0h3m4 0h1m3 0h2m2 0h3m1 0h2m1 0h2m1 0h3m1 0h2m1 0h2m1 0h1m2 0h3m1 0h2m5 0h1m1 0h1m1 0h1m1 0h1M4 19.5h1m1 0h2m3 0h1m1 0h1m2 0h1m1 0h2m11 0h1m1 0h1m1 0h1m2 0h1m2 0h1m3 0h1m2 0h1m3 0h2m2 0h2m4 0h2m1 0h2m3 0h1m2 0h1m3 0h3m1 0h4m2 0h1m1 0h2m2 0h4m2 0h1m1 0h1m1 0h2m2 0h2m1 0h2m1 0h1m5 0h1m3 0h1m2 0h1m2 0h1m1 0h4m4 0h2m1 0h1m3 0h4m1 0h3m4 0h1m2 0h1m1 0h1m1 0h2m6 0h2m3 0h1m8 0h1m2 0h1m1 0h4m3 0h2m3 0h2m4 0h1m2 0h1m6 0h1M0 20.5h6m1 0h4m2 0h7m1 0h2m4 0h8m2 0h4m3 0h2m1 0h4m1 0h4m1 0h2m2 0h3m1 0h1m2 0h1m1 0h4m1 0h1m1 0h1m2 0h2m3 0h3m1 0h1m2 0h1m1 0h1m2 0h1m1 0h7m3 0h1m1 0h3m1 0h4m2 0h1m1 0h5m1 0h1m2 0h5m2 0h2m2 0h7m1 0h1m1 0h1m1 0h3m1 0h5m2 0h18m1 0h11m1 0h7m2 0h5m2 0h3m1 0h5M3 21.5h2m4 0h3m2 0h1m1 0h1m4 0h1m2 0h1m2 0h2m6 0h2m1 0h2m3 0h3m2 0h1m1 0h3m1 0h1m1 0h2m2 0h1m2 0h1m5 0h1m5 0h2m1 0h1m2 0h2m8 0h4m5 0h1m4 0h4m2 0h1m1 0h1m2 0h1m1 0h2m3 0h8m2 0h2m7 0h2m2 0h1m2 0h1m2 0h1m1 0h1m1 0h4m3 0h2m2 0h2m3 0h1m4 0h1m2 0h2m4 0h2m1 0h2m1 0h2m1 0h1m4 0h2m3 0h3m7 0h3m2 0h2M6 22.5h4m2 0h1m6 0h2m1 0h1m1 0h1m1 0h3m3 0h1m3 0h2m1 0h1m4 0h2m4 0h2m1 0h1m23 0h1m4 0h1m1 0h1m1 0h1m3 0h1m2 0h1m2 0h2m1 0h1m1 0h1m2 0h1m3 0h1m12 0h1m4 0h1m3 0h1m4 0h1m2 0h1m4 0h1m1 0h3m22 0h1m5 0h1m2 0h1m1 0h1m9 0h1m2 0h1m4 0h1m3 0h1m3 0h2m9 0h1M2 23.5h3m1 0h1m4 0h2m2 0h2m1 0h1m3 0h1m2 0h3m2 0h1m2 0h1m1 0h3m1 0h1m3 0h3m1 0h2m1 0h3m10 0h1m6 0h1m3 0h1m6 0h1m3 0h1m3 0h1m3 0h2m1 0h1m1 0h1m4 0h1m4 0h1m1 0h1m2 0h1m2 0h2m2 0h2m7 0h1m9 0h2m4 0h1m4 0h1m8 0h1m3 0h3m6 0h1m5 0h1m5 0h1m12 0h1m2 0h1m11 0h1m5 0h2M0 24.5h1m1 0h1m1 0h1m1 0h2m3 0h7m1 0h3m2 0h3m1 0h2m2 0h1m2 0h2m1 0h2m1 0h1m8 0h1m2 0h1m1 0h2m1 0h1m1 0h1m1 0h2m1 0h3m2 0h1m6 0h2m2 0h1m2 0h3m33 0h1m33 0h1m21 0h1m35 0h1m5 0h1M3 25.5h1m4 0h1m1 0h1m4 0h1m1 0h1m1 0h2m1 0h3m4 0h1m2 0h2m5 0h1m1 0h1m2 0h1m7 0h2m1 0h2m2 0h1m2 0h1m1 0h3m1 0h1m2 0h3m1 0h1m1 0h2m3 0h1m9 0h2m1 0h2m3 0h2m1 0h1m3 0h1m3 0h2m1 0h1m1 0h2m1 0h1m1 0h1m1 0h1m5 0h1m3 0h1m1 0h3m3 0h1m1 0h3m4 0h1m2 0h1m4 0h1m4 0h1m6 0h1m5 0h1m6 0h1m4 0h1m9 0h2m1 0h1m2 0h1m4 0h1m1 0h1m5 0h1M41 26.5h2m2 0h1m1 0h1m11 0h2m1 0h1m4 0h1m10 0h1m11 0h1m6 0h1m5 0h1m1 0h1m1 0h1m2 0h1m1 0h1m1 0h2m12 0h2m10 0h2m13 0h1m5 0h1m14 0h1m12 0h1m2 0h1m2 0h1m4 0h2m2 0h2m3 0h1M3 27.5h2m1 0h1m1 0h3m1 0h2m1 0h2m2 0h3m2 0h7m1 0h4m1 0h5m2 0h2m1 0h3m1 0h1m1 0h4m4 0h1m1 0h4m1 0h4m1 0h4m1 0h2m2 0h1m3 0h1m3 0h1m24 0h1m36 0h1m15 0h1m7 0h1m22 0h1m12 0h1m1 0h4m1 0h3M1 28.5h1m1 0h2m3 0h1m1 0h1m7 0h1m1 0h1m3 0h2m6 0h1m6 0h1m8 0h1m1 0h3m1 0h1m5 0h1m1 0h3m5 0h1m3 0h1m1 0h1m2 0h1m2 0h4m1 0h1m2 0h1m2 0h1m9 0h1m1 0h1m2 0h1m6 0h1m1 0h2m1 0h1m1 0h2m4 0h1m1 0h1m1 0h2m1 0h1m2 0h1m1 0h1m1 0h1m1 0h2m11 0h1m4 0h1m6 0h1m2 0h1m1 0h1m3 0h2m6 0h1m1 0h1m4 0h1m3 0h3m2 0h1m1 0h2m5 0h1m1 0h2m1 0h1m3 0h2M10 29.5h1m1 0h2m6 0h1m7 0h1m2 0h1m10 0h1m5 0h1m3 0h1m2 0h1m1 0h2m4 0h1m11 0h1m3 0h1m4 0h1m8 0h2m3 0h1m6 0h1m1 0h1m3 0h1m3 0h1m11 0h2m9 0h1m3 0h1m2 0h1m3 0h1m3 0h1m3 0h1m3 0h1m2 0h3m1 0h1m26 0h2m10 0h1M4 30.5h1m4 0h1m1 0h2m5 0h1m3 0h1m7 0h1m1 0h1m1 0h1m4 0h1m1 0h2m1 0h2m2 0h1m1 0h1m6 0h1m4 0h1m2 0h1m1 0h1m4 0h2m1 0h2m1 0h1m20 0h1m1 0h1m3 0h1m8 0h1m3 0h1m2 0h1m7 0h1m6 0h1m11 0h1m7 0h1m1 0h2m2 0h3m4 0h1m1 0h1m15 0h1m5 0h1m1 0h1m6 0h1m10 0h1m2 0h1m2 0h1M2 31.5h1m9 0h1m66 0h1m68 0h1m1 0h1m6 0h1m8 0h1m1 0h2m2 0h2m1 0h3m1 0h1m2 0h2m1 0h1m2 0h2m8 0h1m4 0h1m3 0h2m1 0h1m3 0h1m3 0h1M3 32.5h2m1 0h1m3 0h1m5 0h1m9 0h2m8 0h1m22 0h1m14 0h1m1 0h2m6 0h1m2 0h1m27 0h1m4 0h1m9 0h2m1 0h1m14 0h1m4 0h1m1 0h1m1 0h1m13 0h1m32 0h1m9 0h1m2 0h1M1 33.5h1m2 0h1m5 0h2m5 0h1m1 0h1m3 0h1m3 0h1m8 0h3m2 0h1m3 0h2m3 0h1m4 0h2m1 0h1m1 0h1m1 0h3m2 0h2m3 0h3m3 0h2m2 0h1m2 0h2m1 0h1m4 0h2m1 0h1m6 0h2m5 0h1m1 0h1m1 0h4m1 0h1m5 0h1m1 0h2m3 0h3m1 0h1m1 0h1m6 0h1m1 0h1m5 0h1m1 0h1m4 0h1m2 0h2m4 0h2m4 0h1m1 0h1m2 0h1m1 0h1m1 0h1m1 0h1m5 0h1m6 0h1m5 0h1m1 0h5m1 0h1m1 0h1M55.87 34.5h1.04M57.78 34.5h1.04M59.69 34.5h1.04M61.22 34.5h1.04M73.59 34.5h1.04M109.05 34.5h1.04M141.44 34.5h1.04M180.73 34.5h1.04M193.48 34.5h1.04M195.39 34.5h1.04M200.37 34.5h1.04M48.98 35.5h1.04M71.81 35.5h1.04M80.48 35.5h1.04M85.84 35.5h1.04M123.46 35.5h1.04M82.39 36.5h1.04M59.05 37.5h1.04M69.64 37.5h1.04M81.37 37.5h1.04M129.58 37.5h1.04M72.7 38.5h1.04M112.88 38.5h1.04M187.6 38.5h2.08M216.05 38.5h1.04M221.03 38.5h0.97M3.83 39.5h1.04M8.81 39.5h1.04M41.2 39.5h1.04M182.64 39.5h1.04M125.76 40.5h1.04M65.69 41.5h1.04M74.49 41.5h1.04M197.43 41.5h1.04M221.03 42.5h0.97M4.85 45.5h1.04M9.83 45.5h1.04M23.46 45.5h2.08M39.03 45.5h1.04M55.87 45.5h1.04M90.3 45.5h1.04M149.22 45.5h1.04M171.03 45.5h1.04M30.36 46.5h1.04M215.03 47.5h1.04M107.01 48.5h1.04M113.9 48.5h1.04M120.66 48.5h1.04M150.12 48.5h1.04M167.97 48.5h1.04M172.43 48.5h2.08M201.26 48.5h1.04M217.07 48.5h1.04M67.46 49.5h2.08M167.97 49.5h1.04M208.27 49.5h1.04"/>
<path stroke="#7363ac" d="M0 0.5h3m1 0h2m1 0h2m1 0h1m1 0h2m1 0h5m2 0h2m1 0h3m2 0h3m2 0h1m1 0h2m2 0h13m1 0h5m1 0h1m1 0h2m1 0h1m2 0h1m1 0h1m1 0h5m2 0h8m1 0h1m4 0h1m1 0h8m1 0h1m2 0h3m2 0h7m2 0h5m1 0h1m2 0h4m1 0h1m2 0h7m1 0h2m2 0h4m1 0h3m2 0h4m1 0h2m1 0h11m1 0h4m1 0h9m1 0h12m1 0h1m1 0h2m2 0h1m1 0h2m1 0h2M1 1.5h7m1 0h1m1 0h1m2 0h4m1 0h1m4 0h2m2 0h3m1 0h1m2 0h1m1 0h1m1 0h2m4 0h3m1 0h1m1 0h10m1 0h3m2 0h2m1 0h1m3 0h1m1 0h2m1 0h1m1 0h1m1 0h1m2 0h2m3 0h4m3 0h4m2 0h2m1 0h1m2 0h1m1 0h2m1 0h1m1 0h8m1 0h1m1 0h1m3 0h3m1 0h1m1 0h1m2 0h1m1 0h2m5 0h3m1 0h2m2 0h2m3 0h2m2 0h4m1 0h5m3 0h1m1 0h1m1 0h4m1 0h2m2 0h6m1 0h1m1 0h1m1 0h4m3 0h1m1 0h7M3 2.5h8m7 0h1m2 0h1m1 0h1m1 0h2m1 0h1m1 0h2m2 0h1m1 0h5m6 0h2m2 0h1m2 0h2m1 0h1m1 0h3m2 0h1m1 0h5m4 0h2m1 0h2m1 0h1m3 0h1m2 0h5m1 0h2m4 0h1m1 0h1m1 0h2m3 0h2m2 0h2m2 0h5m1 0h1m3 0h2m1 0h1m1 0h1m1 0h2m2 0h1m1 0h8m1 0h1m1 0h1m1 0h1m1 0h2m1 0h1m3 0h3m1 0h5m1 0h1m3 0h1m2 0h2m1 0h3m2 0h2m2 0h3m1 0h1m1 0h2m4 0h5m1 0h1m1 0h4m2 0h2m1 0h1M1 3.5h32m2 0h21m1 0h2m2 0h4m1 0h2m1 0h5m2 0h6m3 0h3m1 0h6m1 0h8m2 0h11m1 0h9m2 0h14m1 0h4m3 0h14m1 0h10m1 0h3m2 0h10m1 0h9m1 0h5m2 0h5m1 0h6M0 4.5h1m1 0h2m1 0h2m8 0h1m1 0h3m6 0h1m1 0h3m1 0h1m2 0h1m1 0h1m3 0h1m2 0h1m5 0h1m1 0h1m1 0h3m1 0h2m5 0h1m1 0h1m7 0h1m1 0h3m2 0h1m4 0h1m3 0h1m4 0h3m2 0h1m2 0h1m1 0h1m4 0h2m1 0h2m1 0h2m5 0h1m1 0h1m1 0h4m1 0h2m1 0h9m1 0h2m1 0h2m1 0h1m1 0h1m1 0h1m2 0h2m1 0h3m6 0h5m1 0h1m2 0h2m1 0h1m1 0h1m2 0h1m2 0h4m1 0h2m1 0h1m1 0h1m1 0h1m2 0h8m2 0h1m2 0h3M0 5.5h7m1 0h8m1 0h4m2 0h5m1 0h3m1 0h4m2 0h3m1 0h4m1 0h1m1 0h9m1 0h1m3 0h6m1 0h5m2 0h2m1 0h2m1 0h15m1 0h3m1 0h5m1 0h6m1 0h1m1 0h3m1 0h3m1 0h1m2 0h1m2 0h18m1 0h3m1 0h5m1 0h7m1 0h4m1 0h12m2 0h2m1 0h3m1 0h3m1 0h9m1 0h3m1 0h5m2 0h1M0 6.5h41m1 0h18m1 0h6m2 0h3m2 0h1m1 0h6m1 0h23m1 0h10m1 0h3m1 0h5m1 0h4m1 0h17m1 0h8m1 0h10m1 0h5m1 0h6m1 0h3m1 0h27m1 0h2m1 0h3M0 7.5h6m1 0h3m2 0h1m4 0h6m1 0h2m5 0h1m2 0h9m2 0h2m2 0h1m2 0h2m1 0h5m1 0h1m3 0h4m1 0h1m1 0h1m2 0h3m2 0h3m1 0h1m1 0h2m1 0h1m2 0h1m6 0h1m2 0h4m2 0h2m1 0h6m1 0h2m2 0h2m2 0h4m2 0h3m1 0h1m2 0h3m1 0h3m1 0h2m3 0h2m1 0h2m1 0h4m2 0h1m1 0h1m1 0h1m2 0h1m4 0h2m3 0h1m2 0h5m1 0h8m1 0h1m3 0h1m1 0h5m1 0h2m1 0h2m1 0h1m2 0h1M3 8.5h1m2 0h4m3 0h1m6 0h2m1 0h2m1 0h1m3 0h3m1 0h1m1 0h2m1 0h2m1 0h3m1 0h1m1 0h1m4 0h4m1 0h1m1 0h1m6 0h3m1 0h1m1 0h2m1 0h1m1 0h2m1 0h1m7 0h3m4 0h1m2 0h1m1 0h2m3 0h1m1 0h2m3 0h1m6 0h1m1 0h1m3 0h3m1 0h2m8 0h1m4 0h2m5 0h1m1 0h2m4 0h1m2 0h1m13 0h1m2 0h3m2 0h1m1 0h5m3 0h4m2 0h1m4 0h1m1 0h1m2 0h1M1 9.5h1m4 0h3m3 0h1m2 0h3m3 0h1m1 0h1m4 0h1m1 0h3m1 0h2m2 0h1m2 0h1m2 0h1m1 0h1m2 0h3m5 0h1m2 0h1m1 0h2m10 0h1m1 0h2m3 0h1m1 0h2m1 0h1m2 0h1m2 0h2m1 0h1m3 0h1m1 0h1m1 0h2m1 0h2m6 0h3m2 0h1m8 0h1m1 0h1m1 0h1m2 0h1m2 0h2m1 0h1m4 0h1m2 0h1m1 0h2m1 0h1m1 0h2m2 0h1m3 0h1m2 0h1m5 0h1m1 0h2m1 0h4m1 0h1m4 0h1m4 0h1m2 0h2m3 0h1m6 0h1m2 0h1m5 0h5M0 10.5h12m1 0h10m1 0h3m1 0h1m1 0h3m2 0h14m1 0h4m1 0h10m1 0h13m2 0h4m1 0h17m1 0h26m1 0h3m1 0h2m1 0h10m2 0h5m1 0h2m1 0h5m1 0h4m1 0h15m2 0h7m1 0h1m1 0h21m2 0h2M4 11.5h1m1 0h1m4 0h1m9 0h1m11 0h1m2 0h1m5 0h1m11 0h1m7 0h1m6 0h2m2 0h1m3 0h2m5 0h1m9 0h1m3 0h1m8 0h1m7 0h2m4 0h1m2 0h1m6 0h1m3 0h1m1 0h1m1 0h1m10 0h1m4 0h3m1 0h1m1 0h1m3 0h3m2 0h1m4 0h1m3 0h1m5 0h1m2 0h1m1 0h1m1 0h1m4 0h2m6 0h1m8 0h1m3 0h2M0 12.5h1m1 0h2m1 0h1m1 0h3m4 0h1m1 0h2m1 0h1m2 0h1m1 0h1m3 0h5m1 0h1m2 0h3m4 0h1m3 0h1m8 0h2m2 0h1m6 0h1m1 0h1m2 0h1m1 0h2m3 0h2m3 0h1m1 0h1m1 0h1m7 0h1m3 0h5m2 0h1m3 0h2m2 0h4m1 0h1m1 0h2m1 0h2m4 0h4m3 0h1m3 0h2m1 0h1m1 0h3m4 0h2m2 0h2m1 0h2m1 0h4m1 0h3m2 0h7m1 0h1m1 0h2m2 0h1m1 0h1m1 0h2m2 0h2m1 0h1m1 0h2m2 0h2m2 0h1m1 0h2m1 0h1m2 0h1M0 13.5h1m1 0h2m1 0h1m1 0h1m1 0h1m4 0h1m2 0h2m3 0h1m2 0h1m2 0h2m1 0h4m1 0h4m5 0h5m2 0h2m1 0h1m1 0h2m2 0h3m6 0h2m1 0h1m1 0h1m1 0h1m3 0h1m3 0h1m1 0h1m1 0h1m3 0h1m2 0h2m3 0h3m8 0h1m3 0h3m2 0h1m1 0h4m2 0h1m3 0h1m1 0h2m2 0h3m1 0h1m3 0h2m1 0h2m3 0h2m1 0h4m1 0h1m1 0h4m1 0h2m1 0h5m1 0h5m1 0h3m1 0h3m17 0h1m3 0h1m4 0h1m1 0h1M0 14.5h2m9 0h1m3 0h1m2 0h1m4 0h2m5 0h4m2 0h2m2 0h2m6 0h1m4 0h1m1 0h1m1 0h3m3 0h1m1 0h1m1 0h2m2 0h1m4 0h2m2 0h1m8 0h2m6 0h1m8 0h1m3 0h1m3 0h1m2 0h1m4 0h1m1 0h1m3 0h1m2 0h3m7 0h1m2 0h2m3 0h1m1 0h1m1 0h1m1 0h1m2 0h2m2 0h1m10 0h2m1 0h2m3 0h2m1 0h1m9 0h1m2 0h1m2 0h3m4 0h1m6 0h2m3 0h1M1 15.5h1m5 0h2m2 0h1m1 0h1m4 0h3m4 0h2m2 0h1m4 0h1m4 0h1m6 0h1m6 0h1m1 0h1m3 0h2m2 0h2m2 0h1m1 0h1m2 0h1m1 0h1m3 0h1m1 0h1m2 0h2m7 0h1m4 0h1m5 0h1m1 0h1m4 0h2m2 0h1m2 0h1m1 0h1m1 0h1m2 0h1m5 0h1m1 0h1m1 0h2m3 0h1m4 0h1m3 0h1m2 0h1m10 0h3m3 0h2m1 0h1m3 0h1m3 0h1m2 0h1m4 0h2m6 0h2m4 0h1m18 0h1M0 16.5h1m3 0h1m3 0h1m1 0h2m2 0h1m3 0h1m1 0h2m5 0h1m4 0h1m8 0h1m1 0h1m2 0h2m1 0h1m2 0h2m5 0h2m4 0h3m5 0h3m1 0h3m2 0h2m2 0h1m1 0h2m3 0h1m3 0h3m1 0h2m1 0h1m3 0h2m5 0h2m1 0h1m1 0h2m5 0h1m2 0h1m1 0h1m2 0h1m10 0h1m1 0h1m2 0h1m2 0h1m1 0h4m18 0h1m3 0h1m5 0h1m7 0h1m3 0h1m1 0h1m5 0h1m2 0h1m1 0h1m1 0h1m1 0h1M0 17.5h1m1 0h2m4 0h1m2 0h2m1 0h1m2 0h1m2 0h2m2 0h2m3 0h1m3 0h4m1 0h1m6 0h2m6 0h2m1 0h1m1 0h1m4 0h2m5 0h2m1 0h1m2 0h2m1 0h1m2 0h3m3 0h1m1 0h1m2 0h1m1 0h1m2 0h1m2 0h1m3 0h3m1 0h1m2 0h2m5 0h1m1 0h2m4 0h2m1 0h1m1 0h1m1 0h1m1 0h2m2 0h2m5 0h1m1 0h3m1 0h1m1 0h1m1 0h1m1 0h4m8 0h1m1 0h3m9 0h1m1 0h1m1 0h1m5 0h1m1 0h1m7 0h1m6 0h2m1 0h1m1 0h2m1 0h1M1 18.5h3m1 0h1m1 0h3m1 0h1m4 0h1m3 0h1m1 0h1m4 0h1m1 0h1m2 0h1m5 0h1m1 0h3m1 0h2m2 0h1m1 0h1m2 0h2m5 0h2m1 0h1m1 0h1m4 0h1m2 0h2m1 0h1m5 0h4m6 0h1m6 0h1m1 0h2m1 0h1m2 0h1m1 0h1m1 0h2m2 0h2m1 0h2m2 0h2m3 0h3m1 0h3m1 0h1m6 0h1m3 0h2m1 0h1m9 0h1m3 0h1m2 0h3m4 0h1m3 0h2m2 0h3m1 0h2m1 0h2m1 0h3m1 0h2m1 0h2m1 0h1m2 0h3m1 0h1m6 0h1m3 0h1M6 19.5h2m3 0h1m1 0h1m2 0h1m1 0h2m11 0h1m1 0h1m1 0h1m2 0h1m2 0h1m3 0h1m6 0h2m2 0h2m4 0h1m2 0h1m4 0h1m2 0h1m3 0h3m2 0h3m2 0h1m2 0h1m2 0h4m2 0h1m1 0h1m1 0h2m2 0h1m2 0h1m2 0h1m5 0h1m3 0h1m5 0h1m2 0h3m4 0h1m2 0h1m3 0h1m1 0h1m3 0h2m4 0h1m2 0h1m1 0h1m1 0h2m6 0h2m3 0h1m8 0h1m2 0h1m1 0h4m3 0h2m3 0h2m4 0h1m2 0h1m6 0h1M0 20.5h6m1 0h4m2 0h7m2 0h1m4 0h6m1 0h1m2 0h4m3 0h2m1 0h4m1 0h4m1 0h1m3 0h3m1 0h1m2 0h1m1 0h1m1 0h2m1 0h1m1 0h1m2 0h2m3 0h3m1 0h1m4 0h1m2 0h1m2 0h3m1 0h2m3 0h1m1 0h3m1 0h4m2 0h1m1 0h5m1 0h1m2 0h5m2 0h2m2 0h1m1 0h5m1 0h1m1 0h1m1 0h3m1 0h5m2 0h18m1 0h1m2 0h7m2 0h7m3 0h4m2 0h3m1 0h5M3 21.5h2m5 0h2m2 0h1m1 0h1m4 0h1m2 0h1m2 0h2m6 0h2m2 0h1m3 0h3m2 0h1m1 0h2m2 0h1m1 0h2m5 0h1m11 0h2m1 0h1m2 0h2m8 0h1m1 0h2m5 0h1m4 0h1m1 0h2m2 0h1m1 0h1m2 0h1m1 0h2m3 0h4m1 0h3m3 0h1m8 0h1m2 0h1m2 0h1m2 0h1m1 0h1m1 0h1m1 0h2m4 0h1m2 0h2m3 0h1m4 0h1m2 0h2m4 0h2m1 0h2m2 0h1m1 0h1m4 0h2m4 0h2m7 0h1m1 0h1m2 0h2M6 22.5h4m2 0h1m6 0h2m1 0h1m3 0h3m3 0h1m3 0h2m1 0h1m4 0h2m4 0h2m1 0h1m28 0h1m1 0h1m1 0h1m3 0h1m2 0h1m2 0h2m1 0h1m1 0h1m2 0h1m16 0h1m4 0h1m3 0h1m4 0h1m7 0h1m1 0h3m22 0h1m5 0h1m2 0h1m11 0h1m2 0h1m4 0h1m3 0h1m4 0h1m9 0h1M2 23.5h3m1 0h1m4 0h1m3 0h2m1 0h1m3 0h1m2 0h3m2 0h1m2 0h1m2 0h2m1 0h1m3 0h3m1 0h2m1 0h3m10 0h1m6 0h1m10 0h1m12 0h1m3 0h1m4 0h1m6 0h1m9 0h2m7 0h1m9 0h1m5 0h1m4 0h1m8 0h1m4 0h2m12 0h1m5 0h1m27 0h1m5 0h2M0 24.5h1m3 0h1m1 0h2m3 0h5m1 0h1m2 0h2m3 0h2m1 0h2m2 0h1m2 0h2m1 0h2m1 0h1m8 0h1m4 0h2m1 0h1m1 0h1m1 0h2m2 0h1m3 0h1m6 0h2m2 0h1m2 0h3m33 0h1m33 0h1m21 0h1m41 0h1M3 25.5h1m4 0h1m1 0h1m4 0h1m1 0h1m2 0h1m1 0h2m5 0h1m11 0h1m2 0h1m7 0h2m1 0h2m2 0h1m2 0h1m1 0h3m1 0h1m2 0h2m2 0h1m1 0h2m3 0h1m10 0h1m2 0h1m3 0h2m5 0h1m3 0h2m1 0h1m1 0h2m1 0h1m3 0h1m5 0h1m3 0h1m1 0h2m4 0h1m1 0h3m4 0h1m2 0h1m4 0h1m11 0h1m12 0h1m4 0h1m9 0h2m4 0h1m4 0h1m7 0h1M42 26.5h1m2 0h1m1 0h1m11 0h1m7 0h1m22 0h1m16 0h1m2 0h1m1 0h1m1 0h1m13 0h2m11 0h1m13 0h1m5 0h1m14 0h1m12 0h1m2 0h1m7 0h2m2 0h2m3 0h1M3 27.5h1m2 0h1m1 0h3m1 0h2m1 0h1m3 0h3m2 0h4m2 0h1m1 0h1m1 0h2m2 0h4m2 0h2m2 0h2m1 0h1m1 0h2m1 0h1m4 0h1m1 0h4m1 0h4m1 0h1m1 0h2m1 0h2m2 0h1m3 0h1m3 0h1m24 0h1m52 0h1m7 0h1m35 0h1m3 0h1m2 0h3M1 28.5h1m1 0h2m3 0h1m1 0h1m7 0h1m1 0h1m3 0h2m6 0h1m6 0h1m8 0h1m1 0h1m1 0h1m1 0h1m5 0h1m1 0h3m5 0h1m3 0h1m1 0h1m2 0h1m3 0h3m1 0h1m15 0h1m1 0h1m2 0h1m6 0h1m1 0h2m1 0h1m1 0h1m5 0h1m1 0h1m1 0h2m1 0h1m2 0h1m1 0h1m1 0h1m1 0h2m11 0h1m11 0h1m2 0h1m1 0h1m3 0h2m6 0h1m1 0h1m4 0h1m3 0h3m2 0h1m1 0h2m5 0h1m1 0h2m1 0h1m3 0h2M13 29.5h1m6 0h1m10 0h1m10 0h1m5 0h1m9 0h1m4 0h1m11 0h1m3 0h1m13 0h1m4 0h1m8 0h1m3 0h1m15 0h1m10 0h1m3 0h1m10 0h1m3 0h1m3 0h1m3 0h2m1 0h1m26 0h2M4 30.5h1m7 0h1m5 0h1m3 0h1m7 0h1m1 0h1m1 0h1m6 0h2m2 0h1m2 0h1m1 0h1m14 0h1m1 0h1m5 0h1m1 0h2m1 0h1m20 0h1m5 0h1m8 0h1m3 0h1m2 0h1m14 0h1m11 0h1m7 0h1m6 0h2m4 0h1m1 0h1m15 0h1m5 0h1m8 0h1m13 0h1m2 0h1M2 31.5h1m9 0h1m66 0h1m68 0h1m8 0h1m8 0h1m1 0h2m2 0h2m1 0h3m1 0h1m2 0h2m1 0h1m2 0h2m8 0h1m4 0h1m3 0h2m1 0h1m7 0h1M3 32.5h2m1 0h1m3 0h1m5 0h1m9 0h2m8 0h1m22 0h1m14 0h1m1 0h2m6 0h1m2 0h1m32 0h1m9 0h2m16 0h1m4 0h1m1 0h1m1 0h1m13 0h1m32 0h1m9 0h1m2 0h1M1 33.5h1m2 0h1m5 0h2m5 0h1m1 0h1m3 0h1m3 0h1m9 0h2m2 0h1m3 0h2m8 0h2m1 0h1m1 0h1m1 0h3m2 0h2m3 0h3m3 0h2m2 0h1m2 0h2m1 0h1m4 0h2m1 0h1m6 0h2m5 0h1m3 0h4m1 0h1m5 0h1m2 0h1m3 0h3m1 0h1m1 0h1m6 0h1m1 0h1m5 0h1m1 0h1m4 0h1m8 0h1m5 0h1m1 0h1m2 0h1m3 0h1m1 0h1m5 0h1m6 0h1m5 0h1m1 0h5m1 0h1m1 0h1M205.34 38.5h1.04"/>
<path stroke="#66499f" d="M0 0.5h3m1 0h2m1 0h2m1 0h1m1 0h1m2 0h5m2 0h2m1 0h1m1 0h1m2 0h2m3 0h1m1 0h1m3 0h2m1 0h6m1 0h3m1 0h5m1 0h1m1 0h2m1 0h1m2 0h1m1 0h1m1 0h1m1 0h2m3 0h5m1 0h2m1 0h1m4 0h1m1 0h8m4 0h3m2 0h6m3 0h5m1 0h1m2 0h2m1 0h1m1 0h1m2 0h3m3 0h1m1 0h2m2 0h4m1 0h3m2 0h4m1 0h1m2 0h11m1 0h4m1 0h1m2 0h4m1 0h1m2 0h8m1 0h2m1 0h1m2 0h1m2 0h1m1 0h2m2 0h1M1 1.5h2m1 0h1m1 0h2m1 0h1m1 0h1m2 0h4m1 0h1m4 0h2m2 0h1m3 0h1m2 0h1m3 0h2m4 0h2m2 0h1m1 0h10m1 0h1m1 0h1m2 0h2m5 0h1m1 0h2m5 0h1m2 0h2m3 0h4m3 0h4m3 0h1m1 0h1m2 0h1m1 0h1m4 0h6m1 0h1m3 0h1m7 0h1m1 0h1m5 0h1m5 0h3m2 0h1m2 0h2m3 0h1m5 0h2m4 0h1m4 0h1m1 0h1m3 0h1m8 0h4m3 0h1m1 0h1m1 0h2m3 0h1m2 0h6M3 2.5h5m1 0h1m8 0h1m2 0h1m3 0h2m3 0h2m2 0h1m1 0h2m1 0h1m7 0h1m3 0h1m7 0h3m2 0h1m1 0h2m1 0h1m5 0h1m3 0h1m1 0h1m3 0h1m2 0h1m1 0h3m1 0h2m4 0h1m1 0h1m1 0h1m8 0h1m3 0h1m1 0h1m1 0h1m1 0h1m3 0h2m1 0h1m1 0h1m1 0h2m2 0h1m1 0h1m1 0h3m2 0h1m1 0h1m3 0h1m1 0h2m1 0h1m3 0h2m2 0h4m6 0h1m2 0h2m1 0h1m1 0h1m7 0h2m1 0h1m1 0h2m4 0h2m1 0h2m1 0h1m3 0h1m4 0h1m1 0h1M1 3.5h7m1 0h6m1 0h15m1 0h1m2 0h3m1 0h1m2 0h14m1 0h1m3 0h1m1 0h2m1 0h2m1 0h5m2 0h6m3 0h2m2 0h3m1 0h2m1 0h2m1 0h5m2 0h1m1 0h6m1 0h2m1 0h3m1 0h2m1 0h2m2 0h10m1 0h3m1 0h2m1 0h1m3 0h10m1 0h3m2 0h2m1 0h6m1 0h3m2 0h10m1 0h1m1 0h3m1 0h3m1 0h5m2 0h1m1 0h1m3 0h4m1 0h1M0 4.5h1m1 0h2m1 0h2m8 0h1m12 0h1m1 0h1m6 0h1m3 0h1m2 0h1m5 0h1m3 0h2m2 0h1m6 0h1m1 0h1m7 0h1m1 0h3m2 0h1m4 0h1m3 0h1m4 0h3m2 0h1m2 0h1m1 0h1m4 0h1m2 0h2m1 0h1m11 0h1m1 0h1m1 0h1m4 0h1m1 0h1m1 0h1m1 0h1m1 0h2m2 0h1m1 0h1m1 0h1m1 0h1m2 0h1m2 0h3m6 0h2m1 0h2m4 0h2m3 0h1m2 0h1m2 0h1m5 0h1m3 0h1m1 0h1m2 0h8m2 0h1m3 0h2M0 5.5h4m1 0h2m3 0h6m1 0h1m1 0h2m2 0h3m1 0h1m1 0h3m3 0h2m2 0h2m2 0h4m1 0h1m1 0h9m1 0h1m4 0h5m1 0h5m5 0h2m2 0h2m1 0h3m1 0h1m2 0h1m1 0h2m2 0h2m2 0h1m2 0h1m1 0h6m5 0h1m3 0h1m4 0h1m2 0h3m1 0h1m1 0h3m1 0h4m1 0h3m1 0h3m1 0h5m2 0h2m1 0h3m1 0h4m1 0h2m1 0h1m1 0h5m1 0h1m3 0h1m1 0h3m3 0h1m2 0h5m1 0h2m1 0h3m1 0h5M0 6.5h25m1 0h9m1 0h5m1 0h12m1 0h5m1 0h2m1 0h3m2 0h3m2 0h1m1 0h6m1 0h1m1 0h21m1 0h8m1 0h1m1 0h1m1 0h1m1 0h4m3 0h3m1 0h3m1 0h13m1 0h6m1 0h1m1 0h6m1 0h3m1 0h4m3 0h5m1 0h3m1 0h27m2 0h1m1 0h3M1 7.5h1m1 0h3m1 0h2m3 0h1m6 0h4m1 0h2m5 0h1m2 0h5m2 0h1m3 0h1m3 0h1m2 0h2m1 0h1m1 0h1m1 0h1m1 0h1m3 0h4m1 0h1m1 0h1m2 0h3m2 0h2m2 0h1m1 0h2m11 0h1m2 0h4m2 0h2m2 0h5m1 0h2m2 0h2m2 0h2m1 0h1m2 0h1m1 0h1m4 0h3m3 0h1m2 0h1m3 0h2m1 0h1m3 0h3m4 0h1m1 0h1m2 0h1m4 0h2m3 0h1m2 0h1m2 0h2m1 0h3m1 0h1m1 0h2m1 0h1m3 0h1m5 0h1m1 0h2m1 0h2m1 0h1m2 0h1M6 8.5h1m1 0h2m3 0h1m6 0h1m3 0h1m1 0h1m3 0h1m1 0h1m1 0h1m1 0h1m2 0h1m3 0h2m3 0h1m5 0h3m1 0h1m14 0h1m2 0h1m1 0h1m2 0h1m7 0h1m16 0h1m1 0h1m11 0h1m1 0h1m4 0h2m1 0h2m14 0h1m8 0h1m4 0h1m2 0h1m13 0h1m3 0h1m3 0h1m2 0h3m4 0h1m12 0h1m2 0h1M6 9.5h3m6 0h1m1 0h1m3 0h1m1 0h1m6 0h3m1 0h1m3 0h1m2 0h1m4 0h1m2 0h3m5 0h1m2 0h1m1 0h1m13 0h2m3 0h1m1 0h1m2 0h1m2 0h1m3 0h1m5 0h1m1 0h1m1 0h2m2 0h1m6 0h2m3 0h1m8 0h1m1 0h1m1 0h1m2 0h1m2 0h2m1 0h1m4 0h1m5 0h1m3 0h1m7 0h1m8 0h1m6 0h1m12 0h1m2 0h2m10 0h1m2 0h1m6 0h2m1 0h1M0 10.5h10m1 0h1m1 0h9m3 0h2m1 0h1m1 0h3m2 0h14m2 0h3m4 0h1m1 0h5m1 0h6m1 0h5m3 0h4m1 0h2m2 0h6m1 0h1m1 0h1m1 0h2m1 0h3m1 0h2m1 0h12m2 0h5m1 0h3m2 0h1m1 0h2m1 0h5m4 0h5m1 0h1m4 0h2m2 0h4m2 0h14m2 0h2m1 0h4m1 0h1m2 0h7m1 0h2m1 0h9m2 0h2M4 11.5h1m1 0h1m4 0h1m9 0h1m11 0h1m2 0h1m5 0h1m26 0h2m2 0h1m3 0h2m19 0h1m16 0h1m5 0h1m2 0h1m6 0h1m3 0h1m1 0h1m1 0h1m10 0h1m4 0h2m2 0h1m5 0h1m4 0h1m8 0h1m5 0h1m2 0h1m3 0h1m5 0h1m6 0h1m8 0h1m3 0h2M0 12.5h1m1 0h2m1 0h1m1 0h1m1 0h1m4 0h1m1 0h2m1 0h1m2 0h1m5 0h2m2 0h1m1 0h1m2 0h3m4 0h1m3 0h1m8 0h2m2 0h1m6 0h1m1 0h1m4 0h1m4 0h1m4 0h1m1 0h1m1 0h1m7 0h1m3 0h1m1 0h3m2 0h1m3 0h1m3 0h4m1 0h1m1 0h2m1 0h2m4 0h4m3 0h1m3 0h2m3 0h3m4 0h2m2 0h2m1 0h2m1 0h3m2 0h3m2 0h4m1 0h2m1 0h1m5 0h1m1 0h1m1 0h2m5 0h1m1 0h2m2 0h2m4 0h1M0 13.5h1m4 0h1m1 0h1m1 0h1m4 0h1m2 0h1m4 0h1m5 0h2m1 0h2m1 0h1m1 0h1m1 0h2m6 0h4m2 0h2m1 0h1m1 0h1m3 0h3m6 0h1m2 0h1m1 0h1m1 0h1m3 0h1m3 0h1m3 0h1m3 0h1m2 0h2m3 0h3m8 0h1m5 0h1m4 0h3m3 0h1m3 0h1m1 0h2m2 0h1m1 0h1m1 0h1m4 0h1m1 0h2m3 0h2m1 0h4m3 0h4m2 0h1m1 0h1m1 0h3m1 0h1m1 0h3m1 0h3m1 0h2m18 0h1m3 0h1m4 0h1m1 0h1M11 14.5h1m6 0h1m4 0h2m6 0h1m1 0h1m3 0h1m2 0h1m7 0h1m4 0h1m3 0h3m3 0h1m1 0h1m2 0h1m2 0h1m4 0h1m12 0h2m6 0h1m16 0h1m2 0h1m6 0h1m3 0h1m3 0h2m10 0h1m4 0h1m3 0h1m4 0h2m13 0h1m2 0h1m7 0h1m9 0h1m2 0h1m2 0h2m5 0h1m7 0h1m3 0h1M1 15.5h1m9 0h1m1 0h1m4 0h2m5 0h2m7 0h1m4 0h1m6 0h1m6 0h1m1 0h1m3 0h1m3 0h1m3 0h1m1 0h1m4 0h1m3 0h1m1 0h1m3 0h1m7 0h1m10 0h1m1 0h1m4 0h1m3 0h1m2 0h1m3 0h1m2 0h1m5 0h1m1 0h1m1 0h1m9 0h1m3 0h1m14 0h2m3 0h2m1 0h1m3 0h1m3 0h1m8 0h1m6 0h2m4 0h1m18 0h1M0 16.5h1m3 0h1m5 0h1m3 0h1m5 0h2m10 0h1m16 0h1m3 0h1m6 0h1m14 0h1m2 0h2m2 0h1m3 0h1m1 0h2m8 0h1m3 0h1m1 0h1m3 0h2m11 0h1m5 0h1m2 0h1m1 0h1m2 0h1m10 0h1m1 0h1m2 0h1m2 0h1m1 0h3m19 0h1m3 0h1m5 0h1m11 0h1m1 0h1m8 0h1m1 0h1m3 0h1M0 17.5h1m1 0h2m4 0h1m2 0h2m1 0h1m2 0h1m3 0h1m2 0h1m4 0h1m5 0h1m2 0h1m6 0h2m6 0h2m1 0h1m1 0h1m4 0h2m5 0h2m1 0h1m2 0h1m5 0h1m1 0h1m3 0h1m6 0h1m5 0h1m4 0h2m1 0h1m2 0h2m5 0h1m2 0h1m4 0h2m1 0h1m1 0h1m1 0h1m1 0h2m9 0h1m1 0h3m1 0h1m1 0h1m1 0h1m1 0h4m8 0h1m1 0h2m12 0h1m1 0h1m5 0h1m9 0h1m6 0h2m1 0h1m1 0h1M2 18.5h2m3 0h2m2 0h1m15 0h1m1 0h1m2 0h1m7 0h3m1 0h2m2 0h1m1 0h1m2 0h1m6 0h1m2 0h1m1 0h1m4 0h1m2 0h2m1 0h1m5 0h4m6 0h1m6 0h1m1 0h2m4 0h1m1 0h1m1 0h2m3 0h1m2 0h1m2 0h2m3 0h3m2 0h2m1 0h1m6 0h1m3 0h2m11 0h1m3 0h1m3 0h2m8 0h2m2 0h2m3 0h1m2 0h1m3 0h1m2 0h1m1 0h2m4 0h3m8 0h1m3 0h1M6 19.5h2m3 0h1m1 0h1m4 0h2m11 0h1m1 0h1m1 0h1m2 0h1m2 0h1m10 0h2m2 0h2m4 0h1m2 0h1m4 0h1m2 0h1m3 0h2m3 0h3m2 0h1m2 0h1m3 0h3m2 0h1m3 0h2m2 0h1m2 0h1m2 0h1m9 0h1m8 0h3m4 0h1m2 0h1m3 0h1m1 0h1m4 0h1m4 0h1m4 0h1m2 0h1m6 0h2m3 0h1m8 0h1m2 0h1m1 0h1m1 0h2m3 0h1m10 0h1m2 0h1m6 0h1M0 20.5h4m1 0h1m1 0h1m1 0h2m2 0h1m1 0h1m1 0h3m2 0h1m4 0h3m1 0h2m1 0h1m2 0h4m3 0h2m1 0h4m1 0h4m1 0h1m3 0h3m1 0h1m2 0h1m3 0h2m3 0h1m2 0h2m3 0h3m1 0h1m4 0h1m2 0h1m2 0h3m1 0h2m3 0h1m1 0h3m1 0h4m2 0h1m2 0h3m2 0h1m2 0h5m3 0h1m2 0h1m3 0h3m1 0h1m1 0h1m1 0h3m1 0h5m2 0h16m1 0h1m1 0h1m2 0h2m2 0h3m2 0h7m3 0h3m3 0h2m2 0h5M10 21.5h2m2 0h1m1 0h1m7 0h1m2 0h2m6 0h1m3 0h1m5 0h1m2 0h1m1 0h1m3 0h1m1 0h1m6 0h1m12 0h1m1 0h1m3 0h1m8 0h1m2 0h1m5 0h1m4 0h1m1 0h2m2 0h1m1 0h1m2 0h1m1 0h2m3 0h4m2 0h2m12 0h1m2 0h1m2 0h1m2 0h1m1 0h1m1 0h1m1 0h2m4 0h1m2 0h2m8 0h1m2 0h2m4 0h2m1 0h2m4 0h1m4 0h2m4 0h2m7 0h1m1 0h1m3 0h1M6 22.5h1m1 0h1m3 0h1m6 0h1m2 0h1m3 0h3m3 0h1m3 0h2m1 0h1m4 0h2m4 0h2m1 0h1m28 0h1m1 0h1m1 0h1m3 0h1m2 0h1m2 0h2m1 0h1m1 0h1m19 0h1m8 0h1m4 0h1m7 0h1m1 0h3m31 0h1m11 0h1m2 0h1m4 0h1m3 0h1m4 0h1m9 0h1M2 23.5h1m1 0h1m1 0h1m8 0h2m5 0h1m2 0h1m1 0h1m2 0h1m5 0h2m1 0h1m3 0h3m1 0h2m2 0h2m10 0h1m6 0h1m10 0h1m12 0h1m8 0h1m6 0h1m9 0h1m8 0h1m20 0h1m8 0h1m4 0h1m47 0h1m5 0h2M4 24.5h1m1 0h2m3 0h4m2 0h1m2 0h1m4 0h1m3 0h1m2 0h1m2 0h1m3 0h1m1 0h1m8 0h1m4 0h2m1 0h1m1 0h1m1 0h1m3 0h1m10 0h2m5 0h3m33 0h1M8 25.5h1m1 0h1m9 0h1m1 0h2m5 0h1m11 0h1m2 0h1m8 0h1m1 0h2m2 0h1m2 0h1m1 0h3m1 0h1m3 0h1m2 0h1m1 0h1m4 0h1m10 0h1m2 0h1m4 0h1m5 0h1m3 0h2m1 0h1m1 0h2m1 0h1m3 0h1m5 0h1m3 0h1m1 0h2m4 0h1m1 0h3m4 0h1m2 0h1m4 0h1m11 0h1m12 0h1m4 0h1m9 0h2m4 0h1m12 0h1M45 26.5h1m61 0h1m2 0h1m3 0h1m13 0h2m11 0h1m13 0h1m5 0h1m14 0h1m12 0h1m10 0h2m2 0h2m3 0h1M3 27.5h1m5 0h2m1 0h1m2 0h1m3 0h2m3 0h4m4 0h1m5 0h2m1 0h1m2 0h2m3 0h1m1 0h1m2 0h1m1 0h1m4 0h1m1 0h4m1 0h4m1 0h1m4 0h2m2 0h1m3 0h1m28 0h1m60 0h1m39 0h1m2 0h3M1 28.5h1m1 0h2m3 0h1m1 0h1m7 0h1m6 0h1m6 0h1m6 0h1m8 0h1m1 0h1m1 0h1m7 0h1m1 0h3m5 0h1m3 0h1m1 0h1m2 0h1m3 0h3m17 0h1m1 0h1m9 0h1m2 0h1m1 0h1m1 0h1m5 0h1m3 0h2m4 0h1m3 0h1m1 0h2m11 0h1m11 0h1m2 0h1m5 0h2m6 0h1m1 0h1m4 0h1m3 0h3m2 0h1m1 0h2m7 0h2m1 0h1m4 0h1M13 29.5h1m34 0h1m9 0h1m20 0h1m18 0h1m8 0h1m34 0h1m18 0h1m3 0h2m1 0h1m26 0h2M12 30.5h1m9 0h1m7 0h1m1 0h1m1 0h1m6 0h2m2 0h1m2 0h1m1 0h1m14 0h1m1 0h1m7 0h2m1 0h1m20 0h1m14 0h1m21 0h1m26 0h1m5 0h1m1 0h1m21 0h1m8 0h1m13 0h1m2 0h1M2 31.5h1m9 0h1m135 0h1m8 0h1m8 0h1m5 0h2m1 0h2m5 0h2m1 0h1m2 0h2m8 0h1m8 0h2m1 0h1m7 0h1M4 32.5h1m5 0h1m5 0h1m9 0h1m32 0h1m14 0h1m1 0h1m7 0h1m2 0h1m32 0h1m9 0h2m16 0h1m6 0h1m1 0h1m13 0h1m42 0h1m2 0h1M1 33.5h1m2 0h1m5 0h2m5 0h1m1 0h1m3 0h1m13 0h2m2 0h1m3 0h2m8 0h1m4 0h1m3 0h1m3 0h1m3 0h3m3 0h2m2 0h1m2 0h2m1 0h1m5 0h1m1 0h1m6 0h2m5 0h1m3 0h1m1 0h2m1 0h1m8 0h1m3 0h3m1 0h1m10 0h1m5 0h1m6 0h1m8 0h1m5 0h1m1 0h1m6 0h1m1 0h1m5 0h1m6 0h1m5 0h1m4 0h2m1 0h1"/>
<path stroke="#582f93" d="M1 0.5h2m1 0h2m1 0h2m1 0h1m1 0h1m2 0h5m2 0h2m6 0h2m3 0h1m5 0h1m2 0h3m2 0h1m1 0h3m1 0h1m2 0h2m1 0h1m1 0h1m7 0h1m1 0h1m1 0h2m3 0h2m1 0h1m2 0h2m1 0h1m4 0h1m1 0h1m1 0h6m5 0h2m3 0h5m3 0h5m1 0h1m2 0h2m1 0h1m1 0h1m2 0h1m5 0h1m1 0h2m3 0h1m1 0h1m2 0h1m3 0h2m7 0h3m2 0h3m5 0h2m1 0h1m2 0h1m1 0h2m1 0h1m3 0h3m2 0h2m1 0h1m2 0h1m2 0h1m4 0h2M1 1.5h1m5 0h1m3 0h1m2 0h1m1 0h2m1 0h1m4 0h1m10 0h1m3 0h2m5 0h1m4 0h3m4 0h1m1 0h1m1 0h1m1 0h1m2 0h2m8 0h1m5 0h1m2 0h2m3 0h1m1 0h1m5 0h3m3 0h1m4 0h1m1 0h1m7 0h2m22 0h1m5 0h3m5 0h1m4 0h1m5 0h2m4 0h1m19 0h4m5 0h1m1 0h2m3 0h1m3 0h5M3 2.5h3m19 0h2m4 0h1m2 0h1m1 0h2m1 0h1m7 0h1m3 0h1m9 0h1m4 0h1m8 0h1m3 0h1m1 0h1m3 0h1m2 0h1m1 0h1m3 0h1m7 0h1m16 0h1m1 0h1m1 0h1m4 0h1m3 0h1m1 0h1m3 0h1m4 0h2m2 0h1m5 0h1m2 0h1m1 0h1m3 0h1m3 0h1m2 0h1m6 0h1m2 0h2m3 0h1m10 0h1m1 0h1m5 0h2m1 0h2m1 0h1M2 3.5h6m1 0h6m2 0h1m2 0h6m1 0h3m2 0h1m2 0h3m1 0h1m3 0h5m1 0h1m1 0h2m1 0h1m2 0h1m3 0h1m1 0h2m4 0h5m2 0h1m1 0h1m1 0h1m12 0h2m1 0h2m1 0h4m6 0h1m3 0h1m5 0h2m1 0h1m3 0h1m2 0h4m1 0h5m1 0h1m3 0h1m2 0h1m3 0h3m3 0h4m1 0h1m1 0h1m2 0h2m4 0h3m1 0h3m2 0h2m2 0h3m1 0h2m1 0h1m3 0h1m1 0h1m1 0h1m2 0h4m2 0h1m1 0h1m4 0h3m1 0h1M0 4.5h1m1 0h2m2 0h1m21 0h1m1 0h1m6 0h1m3 0h1m2 0h1m5 0h1m3 0h2m9 0h1m1 0h1m10 0h2m2 0h1m4 0h1m8 0h3m5 0h1m6 0h1m2 0h2m1 0h1m15 0h1m4 0h1m1 0h1m1 0h1m1 0h1m1 0h1m9 0h1m2 0h1m4 0h1m9 0h1m5 0h1m4 0h1m2 0h1m8 0h1m3 0h1m1 0h1m3 0h1m1 0h5m2 0h1m3 0h2M0 5.5h2m1 0h1m2 0h1m3 0h4m3 0h1m1 0h2m2 0h3m1 0h1m3 0h1m3 0h2m3 0h1m2 0h1m1 0h1m5 0h5m1 0h2m1 0h1m7 0h2m2 0h2m7 0h2m2 0h2m1 0h1m1 0h1m1 0h1m2 0h1m1 0h2m2 0h2m2 0h1m2 0h1m4 0h2m10 0h1m4 0h1m2 0h2m2 0h1m1 0h3m1 0h3m2 0h2m2 0h3m1 0h3m1 0h1m2 0h2m3 0h1m1 0h3m2 0h2m1 0h1m1 0h1m1 0h1m1 0h1m5 0h1m3 0h1m3 0h1m2 0h2m2 0h1m1 0h2m1 0h1m3 0h5M0 6.5h3m1 0h17m2 0h1m3 0h1m1 0h1m1 0h2m1 0h1m1 0h1m1 0h3m1 0h1m1 0h10m2 0h4m2 0h1m1 0h3m2 0h3m2 0h1m1 0h6m1 0h1m1 0h10m2 0h3m2 0h4m1 0h2m1 0h5m3 0h1m1 0h1m2 0h1m1 0h1m3 0h2m2 0h3m1 0h1m1 0h5m2 0h3m2 0h4m1 0h1m4 0h2m1 0h2m1 0h3m1 0h3m8 0h1m3 0h1m1 0h5m2 0h11m1 0h1m1 0h4m1 0h1m2 0h1m2 0h2M1 7.5h1m1 0h1m3 0h2m10 0h3m2 0h2m10 0h1m4 0h1m3 0h1m6 0h2m1 0h1m3 0h1m1 0h1m3 0h3m2 0h1m1 0h1m2 0h2m3 0h1m6 0h1m11 0h1m3 0h1m4 0h2m2 0h5m1 0h2m2 0h2m5 0h1m2 0h1m7 0h2m6 0h1m3 0h2m6 0h2m4 0h1m1 0h1m2 0h1m4 0h1m4 0h1m2 0h1m2 0h2m1 0h1m3 0h1m2 0h1m1 0h1m3 0h1m5 0h1m2 0h1m1 0h2m1 0h1m2 0h1M20 8.5h1m9 0h1m3 0h1m4 0h1m8 0h1m6 0h1m2 0h1m19 0h1m27 0h1m15 0h1m4 0h1m3 0h1m23 0h1m4 0h1m20 0h1m13 0h1m12 0h1m2 0h1M6 9.5h1m1 0h1m6 0h1m1 0h1m5 0h1m6 0h1m1 0h1m5 0h1m2 0h1m7 0h1m1 0h1m5 0h1m2 0h1m15 0h2m3 0h1m1 0h1m2 0h1m2 0h1m9 0h1m3 0h1m10 0h1m4 0h1m12 0h1m5 0h2m1 0h1m4 0h1m5 0h1m20 0h1m6 0h1m12 0h1m2 0h1m14 0h1m7 0h1m1 0h1M0 10.5h1m1 0h6m1 0h1m1 0h1m1 0h8m4 0h1m2 0h1m1 0h3m2 0h2m2 0h2m1 0h2m1 0h1m1 0h2m2 0h3m6 0h1m1 0h3m3 0h4m2 0h4m3 0h1m2 0h1m1 0h2m2 0h5m2 0h1m1 0h1m1 0h2m1 0h3m2 0h1m4 0h8m3 0h5m3 0h1m2 0h1m1 0h2m1 0h5m5 0h4m1 0h1m4 0h1m3 0h4m2 0h1m2 0h4m1 0h6m3 0h1m1 0h4m5 0h4m1 0h1m1 0h1m3 0h2m1 0h5m2 0h2M6 11.5h1m14 0h1m20 0h1m30 0h1m3 0h2m19 0h1m22 0h1m2 0h1m10 0h1m3 0h1m10 0h1m4 0h2m2 0h1m10 0h1m8 0h1m5 0h1m2 0h1m3 0h1m5 0h1m6 0h1m8 0h1m4 0h1M0 12.5h1m1 0h2m1 0h1m3 0h1m4 0h1m1 0h2m1 0h1m2 0h1m5 0h2m4 0h1m4 0h1m4 0h1m12 0h2m2 0h1m13 0h1m4 0h1m4 0h1m1 0h1m1 0h1m7 0h1m3 0h1m1 0h3m2 0h1m3 0h1m4 0h2m2 0h1m2 0h1m1 0h2m5 0h3m3 0h1m3 0h2m4 0h2m4 0h2m3 0h1m1 0h1m3 0h1m3 0h3m2 0h1m1 0h2m1 0h2m1 0h1m7 0h1m1 0h2m5 0h1m2 0h1m2 0h1M0 13.5h1m4 0h1m1 0h1m6 0h1m7 0h1m5 0h2m1 0h2m1 0h1m1 0h1m1 0h2m7 0h2m3 0h2m1 0h1m1 0h1m3 0h2m7 0h1m4 0h1m1 0h1m3 0h1m3 0h1m3 0h1m3 0h1m2 0h1m4 0h2m9 0h1m5 0h1m5 0h2m3 0h1m3 0h1m1 0h1m5 0h1m1 0h1m4 0h1m1 0h2m3 0h1m2 0h4m3 0h4m2 0h1m1 0h1m1 0h3m1 0h1m1 0h3m1 0h3m1 0h2m18 0h1m3 0h1m4 0h1m1 0h1M11 14.5h1m6 0h1m5 0h1m6 0h1m1 0h1m3 0h1m15 0h1m3 0h3m3 0h1m1 0h1m2 0h1m7 0h1m12 0h1m7 0h1m19 0h1m6 0h1m7 0h2m15 0h1m3 0h1m4 0h1m14 0h1m10 0h1m12 0h1m3 0h1m13 0h1m3 0h1M1 15.5h1m9 0h1m6 0h1m6 0h2m7 0h1m4 0h1m6 0h1m6 0h1m5 0h1m3 0h1m5 0h1m8 0h1m1 0h1m3 0h1m7 0h1m10 0h1m1 0h1m11 0h1m3 0h1m2 0h1m5 0h1m1 0h1m11 0h1m3 0h1m19 0h2m1 0h1m3 0h1m3 0h1m8 0h1m6 0h2m23 0h1M0 16.5h1m9 0h1m21 0h1m16 0h1m28 0h2m2 0h1m5 0h2m8 0h1m3 0h1m6 0h1m11 0h1m5 0h1m4 0h1m18 0h1m2 0h1m1 0h1m1 0h1m19 0h1m32 0h1m5 0h1M0 17.5h1m1 0h2m4 0h1m2 0h2m1 0h1m6 0h1m23 0h2m7 0h1m9 0h1m5 0h1m17 0h1m6 0h1m5 0h1m4 0h1m2 0h1m2 0h2m8 0h1m9 0h1m1 0h1m1 0h2m9 0h1m1 0h3m1 0h1m1 0h1m1 0h1m1 0h4m24 0h1m7 0h1m9 0h1m7 0h1m1 0h1m1 0h1M2 18.5h2m3 0h2m2 0h1m20 0h1m7 0h3m5 0h1m1 0h1m9 0h1m2 0h1m9 0h1m8 0h4m6 0h1m8 0h1m10 0h1m6 0h1m2 0h2m3 0h1m1 0h1m12 0h1m3 0h2m15 0h1m3 0h2m9 0h1m2 0h2m6 0h1m3 0h1m2 0h1m1 0h2m4 0h3m8 0h1M6 19.5h2m5 0h1m17 0h1m1 0h1m1 0h1m2 0h1m2 0h1m10 0h2m2 0h2m4 0h1m2 0h1m4 0h1m2 0h1m3 0h2m3 0h2m6 0h1m3 0h3m2 0h1m4 0h1m2 0h1m2 0h1m12 0h1m8 0h3m4 0h1m2 0h1m3 0h1m1 0h1m14 0h1m9 0h2m3 0h1m8 0h1m2 0h1m1 0h1m1 0h2m3 0h1m13 0h1M0 20.5h2m1 0h1m1 0h1m1 0h1m1 0h2m2 0h1m1 0h1m1 0h1m1 0h1m2 0h1m4 0h3m1 0h2m1 0h1m2 0h4m3 0h2m1 0h4m2 0h3m1 0h1m3 0h1m1 0h1m1 0h1m6 0h2m3 0h1m2 0h2m3 0h3m1 0h1m7 0h1m2 0h3m1 0h2m3 0h1m1 0h3m1 0h3m3 0h1m2 0h3m5 0h3m1 0h1m3 0h1m2 0h1m3 0h3m1 0h1m1 0h1m1 0h2m2 0h5m2 0h16m1 0h1m1 0h1m2 0h2m2 0h3m2 0h2m1 0h4m3 0h3m3 0h2m2 0h4M10 21.5h2m2 0h1m9 0h1m3 0h1m10 0h1m5 0h1m2 0h1m7 0h1m6 0h1m14 0h1m3 0h1m8 0h1m2 0h1m5 0h1m4 0h1m1 0h2m4 0h1m2 0h1m1 0h2m3 0h3m3 0h1m16 0h1m2 0h1m2 0h1m3 0h1m1 0h1m21 0h1m5 0h2m1 0h2m4 0h1m4 0h2m4 0h2m7 0h1m1 0h1M12 22.5h1m9 0h1m3 0h3m3 0h1m3 0h1m2 0h1m10 0h2m1 0h1m28 0h1m1 0h1m1 0h1m3 0h1m2 0h1m2 0h1m2 0h1m1 0h1m19 0h1m8 0h1m12 0h1m1 0h3m31 0h1m11 0h1m7 0h1m3 0h1m4 0h1m9 0h1M2 23.5h1m3 0h1m8 0h2m5 0h1m2 0h1m4 0h1m12 0h2m3 0h1m2 0h2m10 0h1m6 0h1m10 0h1m12 0h1m8 0h1m6 0h1m9 0h1m8 0h1m20 0h1m8 0h1m4 0h1m47 0h1m5 0h1M4 24.5h1m1 0h1m4 0h2m1 0h1m2 0h1m2 0h1m4 0h1m3 0h1m2 0h1m2 0h1m3 0h1m1 0h1m8 0h1m5 0h1m1 0h1m1 0h1m5 0h1m10 0h2m5 0h3m33 0h1M10 25.5h1m9 0h1m1 0h2m5 0h1m11 0h1m2 0h1m8 0h1m1 0h1m3 0h1m5 0h2m1 0h1m8 0h1m15 0h1m2 0h1m4 0h1m5 0h1m3 0h1m2 0h1m1 0h2m1 0h1m3 0h1m5 0h1m5 0h2m4 0h1m1 0h1m6 0h1m2 0h1m4 0h1m24 0h1m4 0h1m9 0h2m4 0h1m12 0h1M45 26.5h1m64 0h1m17 0h1m26 0h1m20 0h1m12 0h1m11 0h1m2 0h2m3 0h1M3 27.5h1m5 0h2m1 0h1m6 0h2m3 0h3m5 0h1m5 0h2m1 0h1m2 0h1m4 0h1m1 0h1m4 0h1m4 0h1m1 0h1m1 0h2m1 0h1m2 0h1m1 0h1m4 0h1m3 0h1m3 0h1m28 0h1m60 0h1m39 0h1m2 0h1M4 28.5h1m3 0h1m1 0h1m7 0h1m6 0h1m6 0h1m6 0h1m10 0h1m9 0h1m1 0h3m5 0h1m8 0h1m3 0h2m18 0h1m1 0h1m9 0h1m2 0h1m1 0h1m1 0h1m5 0h1m3 0h2m4 0h1m3 0h1m1 0h2m11 0h1m11 0h1m2 0h1m5 0h1m7 0h1m1 0h1m4 0h1m3 0h3m2 0h1m1 0h2m7 0h2m1 0h1M13 29.5h1m34 0h1m58 0h1m34 0h1m18 0h1m6 0h1m26 0h2M22 30.5h1m7 0h1m1 0h1m12 0h1m2 0h1m16 0h1m1 0h1m7 0h2m1 0h1m35 0h1m87 0h1m13 0h1m2 0h1M12 31.5h1m144 0h1m8 0h1m6 0h1m1 0h1m6 0h2m4 0h2m18 0h1m1 0h1m7 0h1M4 32.5h1m5 0h1m15 0h1m32 0h1m14 0h1m1 0h1m7 0h1m2 0h1m42 0h2m16 0h1m22 0h1m42 0h1m2 0h1M10 33.5h2m5 0h1m5 0h1m13 0h2m2 0h1m3 0h2m8 0h1m4 0h1m3 0h1m3 0h1m5 0h1m4 0h1m2 0h1m2 0h1m2 0h1m5 0h1m1 0h1m6 0h2m5 0h1m5 0h2m1 0h1m8 0h1m3 0h2m2 0h1m16 0h1m6 0h1m14 0h1m8 0h1m1 0h1m5 0h1m6 0h1m5 0h1m4 0h1m2 0h1M211.59 43.5h1.04M213.63 43.5h1.04M219.5 43.5h1.04M220.52 43.5h1.04M56.75 48.5h2.08"/>
<path stroke="#4c1788" d="M2 0.5h1m2 0h1m2 0h1m1 0h1m4 0h2m1 0h1m4 0h1m6 0h2m3 0h1m5 0h1m2 0h2m12 0h1m2 0h1m1 0h1m9 0h1m2 0h1m10 0h1m12 0h2m13 0h1m8 0h1m11 0h1m2 0h1m5 0h1m1 0h1m4 0h1m4 0h1m4 0h1m8 0h2m2 0h2m12 0h1m1 0h2m5 0h1m4 0h1m13 0h2M7 1.5h1m3 0h1m23 0h1m22 0h1m5 0h1m2 0h1m83 0h2m5 0h1m4 0h1m32 0h1m9 0h1m10 0h1m1 0h1M3 2.5h1m22 0h1m10 0h1m13 0h1m14 0h1m14 0h1m37 0h1m12 0h1m29 0h1m13 0h1M2 3.5h2m2 0h2m2 0h2m1 0h1m6 0h1m3 0h1m3 0h1m6 0h2m2 0h1m5 0h1m5 0h1m2 0h1m2 0h1m3 0h1m1 0h2m6 0h2m3 0h1m1 0h1m1 0h1m18 0h1m1 0h1m7 0h1m12 0h1m3 0h1m2 0h2m1 0h1m2 0h1m1 0h1m9 0h1m3 0h1m12 0h1m2 0h1m5 0h1m4 0h2m17 0h1m9 0h1m2 0h1m1 0h1m8 0h1M0 4.5h1m1 0h2m46 0h1m3 0h2m9 0h1m1 0h1m11 0h1m2 0h1m13 0h2m17 0h1m17 0h1m4 0h1m5 0h1m11 0h1m28 0h1m2 0h1m14 0h1m3 0h1m5 0h1M6 5.5h1m3 0h1m2 0h1m5 0h1m3 0h1m21 0h1m6 0h1m2 0h1m2 0h1m9 0h1m28 0h1m7 0h1m7 0h1m11 0h1m8 0h1m2 0h1m2 0h1m2 0h1m4 0h1m4 0h1m6 0h1m2 0h1m6 0h1m7 0h1m23 0h1m2 0h1m1 0h2m1 0h1m5 0h1m1 0h1M2 6.5h1m2 0h1m4 0h1m2 0h2m2 0h2m4 0h1m7 0h1m7 0h1m4 0h1m1 0h1m6 0h1m2 0h1m1 0h1m5 0h1m4 0h2m3 0h1m3 0h2m1 0h1m1 0h1m1 0h1m1 0h1m2 0h1m2 0h2m2 0h3m2 0h2m6 0h1m1 0h1m5 0h1m11 0h1m2 0h3m1 0h1m1 0h2m1 0h2m2 0h2m4 0h1m3 0h1m7 0h2m1 0h1m4 0h2m12 0h1m3 0h1m1 0h1m2 0h2m7 0h1m5 0h3m4 0h1M1 7.5h1m1 0h1m17 0h1m43 0h1m9 0h1m4 0h1m18 0h1m8 0h1m10 0h1m12 0h1m8 0h1m6 0h1m3 0h1m8 0h1m4 0h1m4 0h1m4 0h1m7 0h1m5 0h1m3 0h1m4 0h1m3 0h1m5 0h1m4 0h2m1 0h1M34 8.5h1m173 0h1M23 9.5h1m6 0h1m29 0h1m28 0h1m24 0h1m58 0h1M0 10.5h1m5 0h2m5 0h3m1 0h1m7 0h1m2 0h1m1 0h2m4 0h1m3 0h1m1 0h2m1 0h1m2 0h1m3 0h1m9 0h1m1 0h1m6 0h1m14 0h2m2 0h1m1 0h1m6 0h1m4 0h3m12 0h1m7 0h3m12 0h1m1 0h2m6 0h1m3 0h1m4 0h1m6 0h1m2 0h1m2 0h1m2 0h1m5 0h2m14 0h2m3 0h1m5 0h1m3 0h2m5 0h1M42 11.5h1m30 0h1m3 0h2m19 0h1m22 0h1m2 0h1m14 0h1m15 0h1m3 0h1m19 0h1m5 0h1m2 0h1m9 0h1m20 0h1M0 12.5h1m1 0h2m10 0h1m1 0h1m5 0h1m6 0h1m9 0h1m4 0h1m12 0h2m2 0h1m18 0h1m6 0h1m9 0h1m6 0h1m13 0h1m2 0h1m4 0h1m6 0h1m5 0h1m3 0h1m5 0h1m5 0h2m3 0h1m1 0h1m8 0h2m2 0h1m5 0h1m1 0h1m9 0h1m9 0h1m2 0h1M0 13.5h1m6 0h1m20 0h2m1 0h2m3 0h1m2 0h1m7 0h1m5 0h1m1 0h1m1 0h1m12 0h1m10 0h1m3 0h1m3 0h1m6 0h1m5 0h1m22 0h1m7 0h1m7 0h1m1 0h1m6 0h1m7 0h1m6 0h4m4 0h1m1 0h3m5 0h1m2 0h1m3 0h1m27 0h1M11 14.5h1m46 0h1m6 0h1m2 0h1m7 0h1m12 0h1m7 0h1m34 0h1m20 0h1m19 0h1m27 0h1m13 0h1m3 0h1M11 15.5h1m14 0h1m12 0h1m13 0h1m5 0h1m18 0h1m24 0h1m17 0h1m2 0h1m7 0h1m15 0h1m19 0h2m9 0h1m8 0h1m6 0h2M10 16.5h1m68 0h1m18 0h1m3 0h1m6 0h1m17 0h1m4 0h1m18 0h1m4 0h1m21 0h1m38 0h1M0 17.5h1m1 0h2m4 0h1m3 0h1m1 0h1m30 0h2m7 0h1m40 0h1m10 0h1m6 0h1m20 0h1m12 0h1m1 0h1m5 0h1m49 0h1m11 0h1M7 18.5h1m3 0h1m20 0h1m15 0h1m1 0h1m9 0h1m12 0h1m11 0h1m6 0h1m8 0h1m17 0h1m2 0h1m4 0h1m1 0h1m33 0h1m17 0h2m13 0h1m1 0h1m5 0h1M6 19.5h1m24 0h1m1 0h1m1 0h1m2 0h1m2 0h1m15 0h1m4 0h1m15 0h1m3 0h1m7 0h1m3 0h1m1 0h1m2 0h1m7 0h1m24 0h1m1 0h1m28 0h1m9 0h1m16 0h1m3 0h1M0 20.5h1m4 0h1m1 0h1m1 0h2m2 0h1m1 0h1m1 0h1m1 0h1m7 0h2m2 0h2m4 0h1m2 0h1m3 0h2m1 0h4m3 0h1m2 0h1m3 0h1m10 0h2m3 0h1m2 0h2m3 0h2m2 0h1m7 0h1m2 0h3m1 0h2m5 0h3m2 0h2m7 0h2m6 0h1m6 0h1m2 0h1m3 0h1m5 0h1m1 0h1m3 0h5m3 0h2m1 0h1m1 0h1m1 0h3m4 0h1m3 0h1m2 0h2m2 0h2m3 0h2m1 0h4m3 0h2m4 0h2m2 0h1m1 0h2M11 21.5h1m33 0h1m17 0h1m18 0h1m17 0h1m7 0h1m9 0h1m5 0h1m21 0h1m9 0h1m23 0h1m8 0h1m5 0h1m10 0h2m7 0h1m1 0h1M12 22.5h1m14 0h1m56 0h1m1 0h1m6 0h1m5 0h1m30 0h1m12 0h1m2 0h2m31 0h1m23 0h1m4 0h1m9 0h1M2 23.5h1m3 0h1m9 0h1m5 0h1m7 0h1m12 0h2m7 0h1m10 0h1m17 0h1m28 0h1m18 0h1m88 0h1M11 24.5h1m23 0h1m20 0h1m1 0h1m18 0h1m6 0h3m33 0h1M10 25.5h1m9 0h1m1 0h2m17 0h1m11 0h1m5 0h1m6 0h1m1 0h1m8 0h1m15 0h1m2 0h1m4 0h1m5 0h1m3 0h1m5 0h1m1 0h1m3 0h1m5 0h1m6 0h1m4 0h1m1 0h1m6 0h1m7 0h1m24 0h1m14 0h1m5 0h1M110 26.5h1m44 0h1m20 0h1m12 0h1m15 0h1M10 27.5h1m14 0h1m6 0h1m5 0h1m2 0h1m7 0h1m13 0h1m2 0h1m1 0h1m4 0h1m12 0h1m129 0h1M4 28.5h1m5 0h1m7 0h1m6 0h1m13 0h1m10 0h1m9 0h1m9 0h1m8 0h1m4 0h1m18 0h1m16 0h1m11 0h1m5 0h1m18 0h1m11 0h1m8 0h1m7 0h1m10 0h3m2 0h1m2 0h1m8 0h1m1 0h1M142 29.5h1M67 30.5h1m7 0h1m38 0h1m101 0h1M183 31.5h1m4 0h1m21 0h1m7 0h1M10 32.5h1m15 0h1m49 0h1m10 0h1m43 0h1m39 0h1m42 0h1m2 0h1M17 33.5h1m20 0h1m2 0h1m13 0h1m4 0h1m13 0h1m7 0h1m20 0h1m6 0h1m6 0h1m14 0h1m3 0h1m38 0h1m8 0h1m1 0h1m12 0h1m5 0h1m7 0h1M16.97 34.5h1.04M20.79 34.5h1.04M84.56 34.5h1.04M85.84 34.5h1.04M114.92 34.5h1.04M138.51 34.5h1.04M151.26 34.5h1.04M160.06 34.5h1.04M162.11 34.5h1.04M164.02 34.5h1.04M176.25 34.5h2.08M189.01 34.5h2.08M213.12 34.5h1.04M12.63 35.5h1.04M45.15 35.5h1.04M92.21 35.5h1.04M94.26 35.5h1.04M97.19 35.5h1.04M99.87 35.5h1.04M109.05 35.5h1.04M119.76 35.5h1.04M144.38 35.5h1.04M160.06 35.5h1.04M165.04 35.5h1.04M172.95 35.5h1.04M197.43 35.5h1.04M215.03 35.5h1.04M35.08 36.5h1.04M76.53 36.5h1.04M220.13 36.5h1.04M0.9 37.5h1.04M9.83 37.5h1.04M18.5 37.5h1.04M22.45 37.5h1.04M103.06 37.5h1.04M171.93 37.5h1.04M182.64 37.5h1.04M188.51 37.5h1.04M156.11 38.5h1.04M163 38.5h1.04M166.06 38.5h1.04M170.01 38.5h1.04M0 39.5h0.79M111.98 39.5h1.04M184.68 39.5h1.04M150.12 40.5h1.04M172.82 40.5h1.04M6.76 41.5h1.04M166.95 41.5h1.04M174.73 41.5h1.04M168.86 42.5h1.04M211.46 42.5h1.04M213.37 42.5h1.04M212.61 43.5h1.04M217.46 43.5h1.04M218.48 43.5h1.04M221.41 43.5h0.59M25.64 44.5h1.04M40.18 44.5h1.04M64.67 44.5h1.04M74.49 44.5h1.04M112.88 44.5h1.04M17.48 45.5h1.04M21.56 45.5h1.04M30.36 45.5h1.04M44.13 45.5h1.04M51.02 45.5h1.04M58.8 45.5h1.04M62.88 45.5h1.04M66.83 45.5h1.04M76.53 45.5h1.04M78.44 45.5h1.04M84.56 45.5h1.04M87.37 45.5h1.04M116.83 45.5h1.04M173.97 45.5h1.04M22.45 46.5h1.04M37.25 46.5h1.04M146.29 47.5h1.04M178.68 47.5h1.04M202.28 47.5h1.04M31.38 48.5h1.04M40.18 48.5h1.04M48.98 48.5h1.04M78.44 48.5h1.04M129.58 48.5h1.04M132.12 48.5h2.08M135.45 48.5h1.04M138.51 48.5h1.04M157.13 48.5h1.04M171.03 48.5h1.04M189.53 48.5h1.04M193.48 48.5h1.04M210.19 48.5h1.04M214.14 48.5h1.04M221.03 48.5h0.97M18.5 49.5h1.04M37.25 49.5h1.04M45.15 49.5h1.04M90.3 49.5h1.04M99.1 49.5h1.04M119.76 49.5h1.04M149.22 49.5h1.04"/>
<path stroke="#3f007d" d="M41 0.5h1m105 0h1m41 0h1m8 0h1M221 3.5h1M205 5.5h1m2 0h1M74 6.5h1m58 0h1m12 0h1m26 0h1m37 0h1M148 7.5h1m35 0h1m5 0h1m18 0h1M0 10.5h1m5 0h1m18 0h1M42 11.5h1m116 0h1M2 12.5h1m55 0h1m84 0h1m11 0h1m19 0h1M7 13.5h1m94 0h1M68 14.5h1M168 15.5h1m19 0h1m7 0h1M0 17.5h1m133 0h1m12 0h1M92 18.5h1m8 0h1M31 19.5h1m1 0h1m56 0h1m72 0h1M9 20.5h1m9 0h1m12 0h1m28 0h1m19 0h1m18 0h2m3 0h1m7 0h1m41 0h1m6 0h1m5 0h1m5 0h1m1 0h1m20 0h1m3 0h1m5 0h2M63 21.5h1m54 0h1m96 0h1M12 22.5h1m130 0h1m35 0h1m23 0h1M22 23.5h1m20 0h1m66 0h1M35 24.5h1m41 0h1M23 25.5h1m83 0h1m11 0h1M155 26.5h1m33 0h1M38 27.5h1M4 28.5h1m5 0h1m68 0h1m4 0h1m53 0h1m18 0h1m11 0h1m8 0h1m18 0h1M75 30.5h1M26 32.5h1M41 33.5h1m13 0h1m26 0h1m34 0h1m68 0h1m12 0h1"/>
</g></g>
<g filter="url(#soft)"><rect x="784.7" y="147.9" width="554.3" height="963.3" fill="#f2f0f7"/>
<g transform="translate(784.70,147.90) scale(2.4968,19.2660)" fill="none" stroke-width="1.02">
<path stroke="#fcfbff" d="M21.3 0.5h2.4M37.3 0.5h2.4M42.3 0.5h2.4M53.3 0.5h3.4M56.3 0.5h2.4M60.3 0.5h2.4M62.3 0.5h2.4M67.3 0.5h2.4M71.3 0.5h4.4M75.3 0.5h2.4M77.3 0.5h2.4M80.3 0.5h2.4M83.3 0.5h2.4M87.3 0.5h47.4M134.3 0.5h18.4M152.3 0.5h60.4M220.3 0.5h1.7M0 1.5h1.7M4.3 1.5h3.4M7.3 1.5h3.4M14.3 1.5h3.4M17.3 1.5h2.4M24.3 1.5h2.4M31.3 1.5h2.4M33.3 1.5h2.4M40.3 1.5h2.4M42.3 1.5h5.4M49.3 1.5h2.4M52.3 1.5h2.4M67.3 1.5h3.4M76.3 1.5h5.4M81.3 1.5h5.4M87.3 1.5h2.4M93.3 1.5h3.4M96.3 1.5h4.4M100.3 1.5h4.4M104.3 1.5h2.4M106.3 1.5h3.4M109.3 1.5h8.4M123.3 1.5h3.4M127.3 1.5h2.4M133.3 1.5h2.4M135.3 1.5h2.4M138.3 1.5h2.4M141.3 1.5h2.4M143.3 1.5h2.4M151.3 1.5h2.4M153.3 1.5h2.4M156.3 1.5h4.4M160.3 1.5h2.4M162.3 1.5h4.4M168.3 1.5h4.4M173.3 1.5h2.4M175.3 1.5h5.4M183.3 1.5h2.4M186.3 1.5h3.4M189.3 1.5h2.4M191.3 1.5h2.4M194.3 1.5h6.4M201.3 1.5h2.4M204.3 1.5h2.4M207.3 1.5h4.4M213.3 1.5h4.4M217.3 1.5h2.4M0 2.5h1.7M2.3 2.5h4.4M6.3 2.5h3.4M10.3 2.5h2.4M15.3 2.5h2.4M18.3 2.5h3.4M21.3 2.5h2.4M26.3 2.5h2.4M28.3 2.5h3.4M32.3 2.5h4.4M36.3 2.5h3.4M42.3 2.5h2.4M46.3 2.5h4.4M54.3 2.5h3.4M61.3 2.5h2.4M65.3 2.5h2.4M67.3 2.5h4.4M71.3 2.5h2.4M73.3 2.5h2.4M75.3 2.5h2.4M77.3 2.5h3.4M82.3 2.5h3.4M85.3 2.5h3.4M104.3 2.5h2.4M106.3 2.5h2.4M108.3 2.5h3.4M111.3 2.5h2.4M113.3 2.5h3.4M118.3 2.5h2.4M125.3 2.5h3.4M129.3 2.5h5.4M134.3 2.5h3.4M138.3 2.5h3.4M141.3 2.5h4.4M145.3 2.5h3.4M153.3 2.5h3.4M160.3 2.5h2.4M162.3 2.5h2.4M164.3 2.5h4.4M168.3 2.5h2.4M173.3 2.5h2.4M175.3 2.5h3.4M179.3 2.5h4.4M183.3 2.5h2.4M185.3 2.5h2.4M187.3 2.5h2.4M189.3 2.5h4.4M193.3 2.5h4.4M198.3 2.5h2.4M202.3 2.5h2.4M208.3 2.5h2.4M210.3 2.5h3.4M215.3 2.5h3.4M218.3 2.5h2.4M0 3.5h2.7M2.3 3.5h2.4M4.3 3.5h10.4M16.3 3.5h4.4M20.3 3.5h6.4M26.3 3.5h5.4M31.3 3.5h8.4M39.3 3.5h8.4M47.3 3.5h3.4M50.3 3.5h2.4M53.3 3.5h2.4M56.3 3.5h2.4M58.3 3.5h8.4M66.3 3.5h3.4M69.3 3.5h4.4M73.3 3.5h5.4M79.3 3.5h2.4M82.3 3.5h2.4M84.3 3.5h2.4M87.3 3.5h2.4M89.3 3.5h4.4M95.3 3.5h2.4M99.3 3.5h2.4M101.3 3.5h3.4M104.3 3.5h2.4M106.3 3.5h5.4M112.3 3.5h3.4M117.3 3.5h3.4M121.3 3.5h2.4M125.3 3.5h6.4M133.3 3.5h2.4M136.3 3.5h3.4M139.3 3.5h9.4M152.3 3.5h2.4M154.3 3.5h2.4M156.3 3.5h2.4M158.3 3.5h2.4M160.3 3.5h3.4M163.3 3.5h3.4M167.3 3.5h5.4M173.3 3.5h2.4M175.3 3.5h2.4M178.3 3.5h2.4M180.3 3.5h6.4M190.3 3.5h3.4M193.3 3.5h3.4M199.3 3.5h2.4M201.3 3.5h2.4M204.3 3.5h2.4M206.3 3.5h2.4M208.3 3.5h2.4M212.3 3.5h2.4M214.3 3.5h2.4M216.3 3.5h2.4M219.3 3.5h2.4M0 4.5h2.7M2.3 4.5h2.4M4.3 4.5h2.4M6.3 4.5h2.4M8.3 4.5h4.4M14.3 4.5h3.4M17.3 4.5h2.4M19.3 4.5h5.4M26.3 4.5h3.4M33.3 4.5h3.4M38.3 4.5h4.4M42.3 4.5h11.4M53.3 4.5h3.4M58.3 4.5h5.4M64.3 4.5h6.4M70.3 4.5h2.4M73.3 4.5h7.4M81.3 4.5h4.4M85.3 4.5h3.4M88.3 4.5h3.4M91.3 4.5h5.4M96.3 4.5h3.4M99.3 4.5h2.4M101.3 4.5h3.4M105.3 4.5h5.4M114.3 4.5h3.4M117.3 4.5h2.4M120.3 4.5h3.4M123.3 4.5h2.4M125.3 4.5h2.4M127.3 4.5h3.4M132.3 4.5h2.4M136.3 4.5h2.4M139.3 4.5h2.4M142.3 4.5h4.4M147.3 4.5h2.4M150.3 4.5h5.4M156.3 4.5h2.4M158.3 4.5h2.4M163.3 4.5h2.4M165.3 4.5h2.4M167.3 4.5h3.4M170.3 4.5h2.4M172.3 4.5h2.4M174.3 4.5h2.4M177.3 4.5h4.4M186.3 4.5h5.4M192.3 4.5h3.4M196.3 4.5h2.4M200.3 4.5h2.4M202.3 4.5h2.4M204.3 4.5h6.4M210.3 4.5h2.4M214.3 4.5h2.4M216.3 4.5h4.4M220.3 4.5h1.7M0 5.5h2.7M3.3 5.5h2.4M5.3 5.5h3.4M13.3 5.5h2.4M15.3 5.5h2.4M18.3 5.5h3.4M23.3 5.5h5.4M34.3 5.5h3.4M41.3 5.5h2.4M46.3 5.5h3.4M55.3 5.5h3.4M61.3 5.5h7.4M68.3 5.5h4.4M74.3 5.5h2.4M78.3 5.5h2.4M82.3 5.5h2.4M84.3 5.5h2.4M89.3 5.5h2.4M91.3 5.5h3.4M94.3 5.5h2.4M97.3 5.5h3.4M100.3 5.5h2.4M106.3 5.5h2.4M109.3 5.5h2.4M111.3 5.5h3.4M117.3 5.5h2.4M120.3 5.5h2.4M123.3 5.5h2.4M126.3 5.5h2.4M134.3 5.5h4.4M139.3 5.5h2.4M143.3 5.5h2.4M145.3 5.5h3.4M148.3 5.5h2.4M151.3 5.5h3.4M154.3 5.5h2.4M156.3 5.5h2.4M159.3 5.5h2.4M161.3 5.5h2.4M165.3 5.5h2.4M167.3 5.5h4.4M171.3 5.5h3.4M182.3 5.5h2.4M188.3 5.5h2.4M190.3 5.5h2.4M193.3 5.5h2.4M196.3 5.5h2.4M198.3 5.5h4.4M204.3 5.5h4.4M209.3 5.5h2.4M214.3 5.5h3.4M220.3 5.5h1.7M0 6.5h3.7M4.3 6.5h2.4M6.3 6.5h4.4M11.3 6.5h2.4M14.3 6.5h2.4M17.3 6.5h2.4M19.3 6.5h3.4M23.3 6.5h3.4M27.3 6.5h5.4M36.3 6.5h3.4M39.3 6.5h2.4M41.3 6.5h5.4M50.3 6.5h3.4M53.3 6.5h5.4M58.3 6.5h3.4M61.3 6.5h2.4M63.3 6.5h3.4M66.3 6.5h9.4M75.3 6.5h4.4M79.3 6.5h6.4M85.3 6.5h8.4M95.3 6.5h4.4M100.3 6.5h3.4M103.3 6.5h3.4M106.3 6.5h2.4M109.3 6.5h7.4M116.3 6.5h2.4M118.3 6.5h2.4M120.3 6.5h2.4M122.3 6.5h4.4M130.3 6.5h4.4M134.3 6.5h4.4M138.3 6.5h4.4M142.3 6.5h4.4M147.3 6.5h3.4M151.3 6.5h2.4M153.3 6.5h3.4M156.3 6.5h9.4M165.3 6.5h8.4M175.3 6.5h2.4M178.3 6.5h3.4M181.3 6.5h4.4M185.3 6.5h9.4M194.3 6.5h3.4M197.3 6.5h2.4M199.3 6.5h3.4M202.3 6.5h2.4M204.3 6.5h5.4M210.3 6.5h3.4M213.3 6.5h6.4M219.3 6.5h2.4M0 7.5h12.7M12.3 7.5h5.4M17.3 7.5h33.4M50.3 7.5h7.4M57.3 7.5h3.4M60.3 7.5h6.4M67.3 7.5h12.4M81.3 7.5h3.4M84.3 7.5h4.4M89.3 7.5h5.4M94.3 7.5h7.4M101.3 7.5h2.4M103.3 7.5h3.4M106.3 7.5h4.4M111.3 7.5h11.4M123.3 7.5h5.4M129.3 7.5h7.4M136.3 7.5h2.4M138.3 7.5h8.4M146.3 7.5h2.4M148.3 7.5h21.4M170.3 7.5h5.4M176.3 7.5h3.4M181.3 7.5h2.4M183.3 7.5h7.4M190.3 7.5h15.4M205.3 7.5h3.4M208.3 7.5h3.4M211.3 7.5h6.4M217.3 7.5h2.4M219.3 7.5h2.4M0 8.5h10.7M10.3 8.5h11.4M21.3 8.5h17.4M38.3 8.5h2.4M40.3 8.5h3.4M43.3 8.5h10.4M54.3 8.5h14.4M68.3 8.5h4.4M72.3 8.5h3.4M75.3 8.5h2.4M77.3 8.5h10.4M87.3 8.5h3.4M90.3 8.5h3.4M94.3 8.5h3.4M98.3 8.5h4.4M102.3 8.5h3.4M105.3 8.5h4.4M109.3 8.5h10.4M119.3 8.5h3.4M122.3 8.5h5.4M129.3 8.5h3.4M132.3 8.5h5.4M137.3 8.5h5.4M144.3 8.5h9.4M154.3 8.5h4.4M158.3 8.5h4.4M163.3 8.5h2.4M166.3 8.5h3.4M170.3 8.5h2.4M172.3 8.5h3.4M175.3 8.5h6.4M182.3 8.5h2.4M184.3 8.5h2.4M187.3 8.5h3.4M191.3 8.5h4.4M196.3 8.5h4.4M201.3 8.5h7.4M208.3 8.5h9.4M217.3 8.5h4.7M0 9.5h1.7M1.3 9.5h14.4M15.3 9.5h2.4M19.3 9.5h2.4M21.3 9.5h5.4M26.3 9.5h2.4M28.3 9.5h3.4M32.3 9.5h8.4M40.3 9.5h2.4M42.3 9.5h9.4M51.3 9.5h6.4M58.3 9.5h3.4M62.3 9.5h5.4M67.3 9.5h5.4M72.3 9.5h2.4M74.3 9.5h3.4M77.3 9.5h5.4M82.3 9.5h17.4M99.3 9.5h2.4M101.3 9.5h4.4M105.3 9.5h6.4M111.3 9.5h8.4M121.3 9.5h4.4M126.3 9.5h2.4M128.3 9.5h5.4M133.3 9.5h6.4M139.3 9.5h6.4M149.3 9.5h2.4M151.3 9.5h2.4M154.3 9.5h2.4M156.3 9.5h3.4M159.3 9.5h2.4M161.3 9.5h7.4M169.3 9.5h13.4M182.3 9.5h6.4M189.3 9.5h2.4M191.3 9.5h6.4M198.3 9.5h3.4M201.3 9.5h4.4M206.3 9.5h4.4M210.3 9.5h5.4M215.3 9.5h3.4M220.3 9.5h1.7M0 10.5h1.7M1.3 10.5h2.4M3.3 10.5h7.4M10.3 10.5h2.4M14.3 10.5h2.4M16.3 10.5h6.4M22.3 10.5h4.4M26.3 10.5h5.4M31.3 10.5h4.4M37.3 10.5h2.4M39.3 10.5h4.4M43.3 10.5h11.4M55.3 10.5h2.4M57.3 10.5h8.4M66.3 10.5h7.4M73.3 10.5h6.4M79.3 10.5h2.4M84.3 10.5h3.4M89.3 10.5h6.4M95.3 10.5h2.4M98.3 10.5h6.4M104.3 10.5h3.4M107.3 10.5h7.4M114.3 10.5h5.4M119.3 10.5h5.4M124.3 10.5h4.4M128.3 10.5h4.4M132.3 10.5h4.4M140.3 10.5h3.4M144.3 10.5h7.4M151.3 10.5h2.4M153.3 10.5h6.4M161.3 10.5h3.4M165.3 10.5h2.4M167.3 10.5h2.4M169.3 10.5h3.4M173.3 10.5h8.4M182.3 10.5h11.4M193.3 10.5h3.4M196.3 10.5h8.4M204.3 10.5h3.4M207.3 10.5h4.4M212.3 10.5h6.4M218.3 10.5h3.4M0 11.5h15.7M15.3 11.5h49.4M64.3 11.5h9.4M73.3 11.5h2.4M75.3 11.5h12.4M87.3 11.5h2.4M89.3 11.5h28.4M117.3 11.5h4.4M121.3 11.5h5.4M126.3 11.5h2.4M128.3 11.5h2.4M130.3 11.5h3.4M135.3 11.5h6.4M141.3 11.5h2.4M143.3 11.5h2.4M147.3 11.5h15.4M162.3 11.5h7.4M169.3 11.5h8.4M178.3 11.5h2.4M181.3 11.5h3.4M184.3 11.5h7.4M191.3 11.5h7.4M198.3 11.5h5.4M205.3 11.5h2.4M208.3 11.5h2.4M210.3 11.5h6.4M216.3 11.5h5.7M0 12.5h1.7M2.3 12.5h2.4M4.3 12.5h2.4M7.3 12.5h9.4M17.3 12.5h2.4M19.3 12.5h3.4M22.3 12.5h11.4M35.3 12.5h2.4M37.3 12.5h2.4M39.3 12.5h10.4M49.3 12.5h7.4M57.3 12.5h5.4M64.3 12.5h10.4M74.3 12.5h3.4M77.3 12.5h3.4M84.3 12.5h4.4M89.3 12.5h6.4M96.3 12.5h2.4M98.3 12.5h8.4M107.3 12.5h2.4M110.3 12.5h4.4M114.3 12.5h2.4M116.3 12.5h2.4M118.3 12.5h4.4M122.3 12.5h7.4M129.3 12.5h2.4M131.3 12.5h4.4M135.3 12.5h2.4M137.3 12.5h2.4M139.3 12.5h2.4M141.3 12.5h8.4M149.3 12.5h2.4M151.3 12.5h7.4M158.3 12.5h10.4M168.3 12.5h6.4M174.3 12.5h2.4M176.3 12.5h2.4M181.3 12.5h2.4M183.3 12.5h2.4M185.3 12.5h5.4M190.3 12.5h4.4M194.3 12.5h2.4M197.3 12.5h2.4M199.3 12.5h2.4M201.3 12.5h3.4M204.3 12.5h3.4M210.3 12.5h2.4M212.3 12.5h3.4M216.3 12.5h2.4M220.3 12.5h1.7M0 13.5h1.7M2.3 13.5h2.4M4.3 13.5h7.4M11.3 13.5h2.4M13.3 13.5h7.4M20.3 13.5h3.4M23.3 13.5h2.4M26.3 13.5h5.4M31.3 13.5h4.4M35.3 13.5h11.4M46.3 13.5h7.4M53.3 13.5h2.4M55.3 13.5h4.4M60.3 13.5h2.4M62.3 13.5h2.4M65.3 13.5h6.4M71.3 13.5h2.4M73.3 13.5h3.4M76.3 13.5h9.4M85.3 13.5h5.4M90.3 13.5h15.4M105.3 13.5h3.4M109.3 13.5h2.4M111.3 13.5h5.4M118.3 13.5h4.4M122.3 13.5h3.4M126.3 13.5h2.4M128.3 13.5h4.4M132.3 13.5h3.4M136.3 13.5h4.4M141.3 13.5h2.4M143.3 13.5h7.4M151.3 13.5h4.4M157.3 13.5h6.4M163.3 13.5h2.4M165.3 13.5h2.4M169.3 13.5h3.4M175.3 13.5h6.4M181.3 13.5h5.4M186.3 13.5h4.4M191.3 13.5h3.4M194.3 13.5h2.4M196.3 13.5h3.4M201.3 13.5h6.4M207.3 13.5h2.4M209.3 13.5h2.4M212.3 13.5h3.4M216.3 13.5h5.7M0 14.5h2.7M2.3 14.5h5.4M9.3 14.5h6.4M15.3 14.5h3.4M18.3 14.5h2.4M21.3 14.5h3.4M24.3 14.5h2.4M26.3 14.5h8.4M34.3 14.5h3.4M37.3 14.5h2.4M39.3 14.5h3.4M42.3 14.5h3.4M45.3 14.5h2.4M47.3 14.5h6.4M53.3 14.5h3.4M56.3 14.5h2.4M60.3 14.5h3.4M63.3 14.5h2.4M65.3 14.5h8.4M73.3 14.5h3.4M76.3 14.5h3.4M81.3 14.5h3.4M85.3 14.5h4.4M89.3 14.5h12.4M102.3 14.5h2.4M104.3 14.5h2.4M106.3 14.5h2.4M108.3 14.5h2.4M110.3 14.5h2.4M112.3 14.5h2.4M116.3 14.5h2.4M118.3 14.5h3.4M122.3 14.5h3.4M126.3 14.5h4.4M130.3 14.5h3.4M135.3 14.5h4.4M139.3 14.5h6.4M145.3 14.5h3.4M148.3 14.5h14.4M163.3 14.5h5.4M168.3 14.5h2.4M170.3 14.5h2.4M172.3 14.5h3.4M177.3 14.5h3.4M182.3 14.5h2.4M184.3 14.5h2.4M186.3 14.5h6.4M192.3 14.5h3.4M195.3 14.5h4.4M200.3 14.5h3.4M204.3 14.5h2.4M206.3 14.5h3.4M209.3 14.5h2.4M213.3 14.5h8.7M0 15.5h5.7M5.3 15.5h2.4M7.3 15.5h4.4M11.3 15.5h6.4M17.3 15.5h14.4M31.3 15.5h3.4M35.3 15.5h4.4M39.3 15.5h3.4M44.3 15.5h8.4M53.3 15.5h8.4M62.3 15.5h4.4M66.3 15.5h2.4M68.3 15.5h3.4M71.3 15.5h2.4M74.3 15.5h11.4M85.3 15.5h8.4M94.3 15.5h2.4M97.3 15.5h5.4M102.3 15.5h8.4M110.3 15.5h2.4M113.3 15.5h2.4M115.3 15.5h4.4M119.3 15.5h10.4M129.3 15.5h2.4M132.3 15.5h8.4M141.3 15.5h3.4M145.3 15.5h5.4M150.3 15.5h14.4M165.3 15.5h3.4M170.3 15.5h3.4M173.3 15.5h3.4M176.3 15.5h2.4M178.3 15.5h8.4M186.3 15.5h3.4M189.3 15.5h3.4M192.3 15.5h6.4M198.3 15.5h4.4M202.3 15.5h11.4M214.3 15.5h7.7M0 16.5h1.7M1.3 16.5h2.4M3.3 16.5h2.4M5.3 16.5h3.4M9.3 16.5h4.4M13.3 16.5h7.4M20.3 16.5h2.4M23.3 16.5h5.4M29.3 16.5h3.4M32.3 16.5h9.4M42.3 16.5h3.4M45.3 16.5h2.4M47.3 16.5h9.4M57.3 16.5h3.4M62.3 16.5h5.4M67.3 16.5h7.4M74.3 16.5h3.4M77.3 16.5h4.4M81.3 16.5h4.4M86.3 16.5h3.4M90.3 16.5h3.4M94.3 16.5h11.4M106.3 16.5h23.4M130.3 16.5h3.4M133.3 16.5h6.4M139.3 16.5h2.4M141.3 16.5h2.4M143.3 16.5h2.4M147.3 16.5h6.4M153.3 16.5h3.4M156.3 16.5h3.4M160.3 16.5h3.4M163.3 16.5h2.4M165.3 16.5h9.4M174.3 16.5h7.4M182.3 16.5h3.4M186.3 16.5h17.4M203.3 16.5h3.4M206.3 16.5h6.4M212.3 16.5h5.4M217.3 16.5h4.4M0 17.5h4.7M4.3 17.5h3.4M8.3 17.5h4.4M12.3 17.5h3.4M15.3 17.5h9.4M28.3 17.5h11.4M40.3 17.5h3.4M43.3 17.5h7.4M50.3 17.5h2.4M53.3 17.5h10.4M63.3 17.5h17.4M80.3 17.5h11.4M91.3 17.5h5.4M96.3 17.5h3.4M99.3 17.5h13.4M115.3 17.5h2.4M117.3 17.5h9.4M126.3 17.5h12.4M138.3 17.5h3.4M141.3 17.5h2.4M144.3 17.5h2.4M146.3 17.5h6.4M152.3 17.5h3.4M157.3 17.5h3.4M160.3 17.5h2.4M164.3 17.5h2.4M166.3 17.5h2.4M168.3 17.5h2.4M170.3 17.5h7.4M177.3 17.5h6.4M183.3 17.5h6.4M189.3 17.5h2.4M192.3 17.5h2.4M194.3 17.5h3.4M198.3 17.5h2.4M200.3 17.5h4.4M204.3 17.5h2.4M208.3 17.5h5.4M213.3 17.5h2.4M215.3 17.5h4.4M219.3 17.5h2.7M0 18.5h15.7M15.3 18.5h4.4M19.3 18.5h3.4M22.3 18.5h40.4M62.3 18.5h13.4M75.3 18.5h9.4M85.3 18.5h7.4M92.3 18.5h12.4M104.3 18.5h7.4M111.3 18.5h3.4M114.3 18.5h2.4M116.3 18.5h4.4M120.3 18.5h6.4M126.3 18.5h2.4M128.3 18.5h5.4M133.3 18.5h6.4M140.3 18.5h5.4M145.3 18.5h12.4M158.3 18.5h3.4M161.3 18.5h6.4M167.3 18.5h4.4M171.3 18.5h8.4M179.3 18.5h2.4M181.3 18.5h14.4M195.3 18.5h4.4M199.3 18.5h18.4M217.3 18.5h4.7M0 19.5h95.7M95.3 19.5h17.4M112.3 19.5h9.4M121.3 19.5h2.4M123.3 19.5h98.7M0 20.5h54.7M54.3 20.5h29.4M83.3 20.5h48.4M132.3 20.5h17.4M149.3 20.5h25.4M174.3 20.5h7.4M181.3 20.5h14.4M195.3 20.5h13.4M208.3 20.5h5.4M213.3 20.5h2.4M217.3 20.5h4.4M0 21.5h9.7M9.3 21.5h28.4M37.3 21.5h3.4M40.3 21.5h16.4M56.3 21.5h45.4M101.3 21.5h8.4M109.3 21.5h2.4M111.3 21.5h12.4M123.3 21.5h3.4M126.3 21.5h5.4M131.3 21.5h14.4M145.3 21.5h9.4M154.3 21.5h18.4M172.3 21.5h14.4M186.3 21.5h13.4M199.3 21.5h10.4M209.3 21.5h12.4M0 22.5h2.7M3.3 22.5h7.4M10.3 22.5h14.4M24.3 22.5h4.4M28.3 22.5h12.4M40.3 22.5h3.4M43.3 22.5h3.4M46.3 22.5h9.4M55.3 22.5h8.4M63.3 22.5h8.4M71.3 22.5h17.4M89.3 22.5h4.4M93.3 22.5h2.4M95.3 22.5h2.4M97.3 22.5h2.4M99.3 22.5h15.4M114.3 22.5h15.4M129.3 22.5h4.4M133.3 22.5h7.4M140.3 22.5h25.4M165.3 22.5h4.4M169.3 22.5h28.4M197.3 22.5h7.4M204.3 22.5h8.4M212.3 22.5h6.4M218.3 22.5h2.4M0 23.5h222M0 24.5h8.7M8.3 24.5h6.4M14.3 24.5h2.4M16.3 24.5h9.4M25.3 24.5h5.4M30.3 24.5h8.4M38.3 24.5h12.4M50.3 24.5h3.4M53.3 24.5h10.4M63.3 24.5h9.4M72.3 24.5h13.4M85.3 24.5h11.4M98.3 24.5h22.4M120.3 24.5h8.4M129.3 24.5h3.4M133.3 24.5h5.4M138.3 24.5h4.4M142.3 24.5h6.4M148.3 24.5h12.4M160.3 24.5h3.4M163.3 24.5h6.4M169.3 24.5h14.4M183.3 24.5h6.4M189.3 24.5h5.4M194.3 24.5h12.4M206.3 24.5h4.4M210.3 24.5h3.4M214.3 24.5h3.4M217.3 24.5h3.4M0 25.5h20.7M20.3 25.5h7.4M27.3 25.5h8.4M35.3 25.5h14.4M49.3 25.5h4.4M53.3 25.5h6.4M59.3 25.5h7.4M66.3 25.5h5.4M71.3 25.5h16.4M87.3 25.5h6.4M93.3 25.5h10.4M103.3 25.5h5.4M108.3 25.5h6.4M114.3 25.5h3.4M117.3 25.5h5.4M124.3 25.5h3.4M127.3 25.5h4.4M131.3 25.5h9.4M140.3 25.5h2.4M142.3 25.5h5.4M147.3 25.5h7.4M154.3 25.5h7.4M161.3 25.5h15.4M176.3 25.5h7.4M183.3 25.5h11.4M194.3 25.5h4.4M198.3 25.5h11.4M211.3 25.5h6.4M217.3 25.5h4.7M0 26.5h222M0 27.5h2.7M2.3 27.5h8.4M10.3 27.5h6.4M16.3 27.5h15.4M31.3 27.5h3.4M34.3 27.5h21.4M55.3 27.5h2.4M57.3 27.5h11.4M68.3 27.5h20.4M88.3 27.5h15.4M103.3 27.5h6.4M109.3 27.5h2.4M111.3 27.5h10.4M123.3 27.5h5.4M128.3 27.5h5.4M133.3 27.5h23.4M157.3 27.5h5.4M162.3 27.5h15.4M177.3 27.5h39.4M216.3 27.5h2.4M218.3 27.5h3.7M0 28.5h17.7M17.3 28.5h2.4M20.3 28.5h9.4M29.3 28.5h2.4M31.3 28.5h5.4M36.3 28.5h33.4M69.3 28.5h31.4M100.3 28.5h15.4M115.3 28.5h12.4M127.3 28.5h14.4M141.3 28.5h34.4M175.3 28.5h35.4M210.3 28.5h5.4M215.3 28.5h6.7M0 29.5h3.7M3.3 29.5h3.4M6.3 29.5h2.4M15.3 29.5h2.4M18.3 29.5h2.4M23.3 29.5h3.4M29.3 29.5h2.4M31.3 29.5h5.4M38.3 29.5h2.4M42.3 29.5h2.4M45.3 29.5h3.4M49.3 29.5h3.4M58.3 29.5h3.4M62.3 29.5h2.4M70.3 29.5h2.4M73.3 29.5h2.4M81.3 29.5h3.4M84.3 29.5h4.4M92.3 29.5h2.4M95.3 29.5h2.4M107.3 29.5h3.4M112.3 29.5h2.4M114.3 29.5h2.4M119.3 29.5h3.4M128.3 29.5h7.4M137.3 29.5h2.4M143.3 29.5h2.4M149.3 29.5h3.4M154.3 29.5h3.4M159.3 29.5h2.4M162.3 29.5h2.4M170.3 29.5h2.4M172.3 29.5h2.4M175.3 29.5h3.4M179.3 29.5h3.4M192.3 29.5h4.4M199.3 29.5h2.4M203.3 29.5h2.4M206.3 29.5h2.4M212.3 29.5h2.4M41.51 30.5h2.44M73.51 30.5h2.44M76.57 30.5h2.44M84.85 30.5h2.44M165.03 30.5h2.44M167.96 30.5h2.44M190.65 30.5h2.44M199.56 30.5h3.48M1.49 31.5h2.44M2.51 31.5h2.44M7.35 31.5h2.44M9.26 31.5h2.44M17.93 31.5h2.44M28.64 31.5h2.44M31.57 31.5h2.44M34.5 31.5h2.44M38.45 31.5h2.44M49.29 31.5h2.44M59.1 31.5h2.44M73 31.5h2.44M78.48 31.5h2.44M82.56 31.5h2.44M84.47 31.5h2.44M89.57 31.5h2.44M134.82 31.5h2.44M143.6 31.5h3.48M147.69 31.5h2.44M177.9 31.5h2.44M210.53 31.5h2.44M216.64 31.5h3.48M219.33 31.5h2.44M5.18 32.5h2.44M21.88 32.5h2.44M30.68 32.5h2.44M67.01 32.5h2.44M125 32.5h2.44M130.74 32.5h2.44M206.58 32.5h2.44M141.57 33.5h2.44M188.86 33.5h2.44M204.42 33.5h2.44M210.41 33.5h2.44M14.87 34.5h2.44M21.88 34.5h2.44M26.21 34.5h3.48M31.57 34.5h2.44M45.45 34.5h3.48M112.13 34.5h2.44M140.68 34.5h2.44M150.37 34.5h2.44M156.23 34.5h2.44M177.9 34.5h2.44M203.4 34.5h2.44M213.34 34.5h2.44M215.51 34.5h2.44M217.16 34.5h2.44M219.19 34.5h2.81M95.43 35.5h2.44M138.64 35.5h2.44M182.75 35.5h2.44M207.48 35.5h2.44M68.02 36.5h2.44M126.92 36.5h2.44M134.82 36.5h2.44M142.59 36.5h2.44M159.42 36.5h2.44M162.99 36.5h2.44M166.05 36.5h2.44M167.96 36.5h2.44M176.49 36.5h3.48M181.22 36.5h2.44M182.24 36.5h2.44M183.26 36.5h2.44M184.53 36.5h2.44M185.55 36.5h2.44M186.57 36.5h2.44M187.59 36.5h2.44M189.12 36.5h2.44M190.65 36.5h2.44M193.2 36.5h2.44M196.77 36.5h2.44M199.57 36.5h2.44M200.85 36.5h2.44M201.87 36.5h2.44M204.67 36.5h2.44M205.69 36.5h2.44M206.71 36.5h2.44M209.13 36.5h2.44M215.12 36.5h2.44M14.11 37.5h2.44M42.15 37.5h2.44M45.34 37.5h2.44M64.07 37.5h2.44M73 37.5h2.44M75.93 37.5h2.44M92.5 37.5h2.44M125 37.5h2.44M144.51 37.5h2.44M175.99 37.5h2.44M177.9 37.5h2.44M188.74 37.5h2.44M196.77 37.5h2.44M199.32 37.5h2.44M214.23 37.5h2.44M216.14 37.5h2.44M1.1 38.5h2.44M30.68 38.5h2.44M41.51 38.5h2.44M53.37 38.5h2.44M68.92 38.5h2.44M73.76 38.5h2.44M83.83 38.5h2.44M86.76 38.5h2.44M207.48 38.5h2.44M218.69 38.5h2.44M220.22 38.5h1.78M200.59 39.5h2.44M210.91 39.5h3.48M218.81 39.5h3.19M27.74 40.5h2.44M41.51 40.5h2.44M89.56 40.5h3.48M96.32 40.5h2.44M100.4 40.5h2.44M111.24 40.5h2.44M117.1 40.5h2.44M134.82 40.5h2.44M144.51 40.5h2.44M168.34 40.5h2.44M171.02 40.5h2.44M181.46 40.5h3.48M190.65 40.5h2.44M194.6 40.5h2.44M207.48 40.5h2.44M214.23 40.5h2.44M216.14 40.5h2.44M4.04 41.5h2.44M81.92 41.5h2.44M91.61 41.5h2.44M134.81 41.5h3.48M137.75 41.5h2.44M142.59 41.5h2.44M166.18 41.5h2.44M170.25 41.5h2.44M10.03 42.5h2.44M54.26 42.5h2.44M63.05 42.5h2.44M73.75 42.5h3.48M185.81 42.5h2.44M215.25 43.5h2.44M10.03 44.5h2.44M14.87 44.5h2.44M17.93 44.5h2.44M20.86 44.5h2.44M30.68 44.5h2.44M32.59 44.5h2.44M36.67 44.5h2.44M44.44 44.5h2.44M58.34 44.5h2.44M60.25 44.5h2.44M63.18 44.5h2.44M72.1 44.5h2.44M74.02 44.5h2.44M77.45 44.5h3.48M82.3 44.5h2.44M84.33 44.5h3.48M100.4 44.5h2.44M105.25 44.5h2.44M110.21 44.5h3.48M113.15 44.5h2.44M122.07 44.5h2.44M146.67 44.5h2.44M159.42 44.5h2.44M181.09 44.5h2.44M184.91 44.5h2.44M201.86 44.5h3.48M205.56 44.5h2.44M208.47 44.5h4.52M212.32 44.5h2.44M215.37 44.5h3.48M93.52 45.5h2.44M101.42 45.5h2.44M104.35 45.5h2.44M116.08 45.5h2.44M164.26 45.5h2.44M166.18 45.5h2.44M171.02 45.5h2.44M174.83 45.5h3.48M184.52 45.5h3.48M193.58 45.5h2.44M196.77 45.5h2.44M198.8 45.5h3.48M204.67 45.5h2.44M213.34 45.5h2.44M215.37 45.5h3.48M32.72 46.5h2.44M44.44 46.5h2.44M95.43 46.5h2.44M0.84 47.5h3.48M21.75 47.5h2.44M25.71 47.5h2.44M29.01 47.5h3.48M38.44 47.5h3.48M45.2 47.5h3.48M49.41 47.5h2.44M51.45 47.5h2.44M60.63 47.5h2.44M72.1 47.5h2.44M73.75 47.5h3.48M76.95 47.5h2.44M84.85 47.5h2.44M90.7 47.5h3.48M93.77 47.5h2.44M101.42 47.5h2.44M119 47.5h3.48M125.9 47.5h2.44M128.83 47.5h2.44M130.74 47.5h2.44M135.19 47.5h3.48M151.52 47.5h2.44M153.43 47.5h2.44M156.49 47.5h2.44M174.97 47.5h2.44M178.66 47.5h3.48M183.89 47.5h2.44M198.68 47.5h2.44M207.48 47.5h2.44M210.41 47.5h2.44M41.51 48.5h2.44M200.59 48.5h2.44M42.53 49.5h2.44M68.92 49.5h2.44"/>
<path stroke="#e7e5f1" d="M22 0.5h1m15 0h1m4 0h1m10 0h2m1 0h1m3 0h1m1 0h1m1 0h1m2 0h1m3 0h3m1 0h1m1 0h1m2 0h2m1 0h1m3 0h46m1 0h17m1 0h59m9 0h1M0 1.5h1m2 0h1m1 0h2m1 0h2m5 0h2m1 0h1m6 0h1m3 0h1m2 0h1m1 0h1m4 0h1m1 0h1m1 0h6m1 0h1m2 0h1m3 0h1m10 0h2m2 0h1m1 0h1m2 0h4m1 0h4m2 0h1m5 0h2m1 0h9m1 0h2m1 0h7m1 0h1m5 0h2m2 0h1m5 0h1m1 0h1m2 0h1m2 0h1m1 0h1m7 0h3m2 0h3m1 0h1m1 0h3m2 0h4m2 0h1m1 0h4m4 0h1m2 0h2m1 0h1m1 0h1m2 0h5m2 0h1m2 0h2m1 0h3m3 0h3m1 0h1M0 2.5h1m2 0h3m1 0h2m2 0h1m4 0h1m1 0h3m1 0h2m3 0h1m1 0h2m2 0h3m1 0h2m4 0h1m3 0h4m4 0h2m4 0h3m2 0h7m1 0h1m1 0h1m1 0h2m3 0h5m2 0h1m14 0h1m1 0h4m1 0h1m1 0h2m1 0h1m1 0h1m6 0h2m2 0h4m1 0h2m2 0h2m1 0h3m1 0h2m6 0h2m5 0h1m1 0h1m1 0h3m1 0h2m1 0h1m1 0h1m1 0h2m2 0h3m1 0h3m1 0h1m1 0h3m1 0h3m2 0h1m3 0h1m4 0h2m1 0h2m3 0h2m1 0h1m1 0h1M0 3.5h2m1 0h1m1 0h9m3 0h3m1 0h5m1 0h4m1 0h7m1 0h7m1 0h2m1 0h1m2 0h1m2 0h1m1 0h7m1 0h2m1 0h3m1 0h4m2 0h2m1 0h1m1 0h1m2 0h1m1 0h3m2 0h2m3 0h1m1 0h2m1 0h1m1 0h4m2 0h3m2 0h2m1 0h2m3 0h5m3 0h1m2 0h2m1 0h8m5 0h1m1 0h3m1 0h1m1 0h2m1 0h2m2 0h4m2 0h1m1 0h1m2 0h7m4 0h3m1 0h2m1 0h1m1 0h2m1 0h1m2 0h1m1 0h1m1 0h1m3 0h3m1 0h1m2 0h1M0 4.5h2m1 0h1m1 0h3m1 0h3m3 0h2m1 0h1m1 0h5m2 0h3m3 0h5m1 0h3m1 0h10m1 0h2m3 0h4m2 0h5m1 0h1m2 0h7m1 0h3m1 0h2m1 0h2m1 0h4m1 0h4m1 0h2m2 0h5m4 0h4m2 0h2m1 0h1m1 0h1m1 0h2m3 0h1m3 0h1m2 0h1m2 0h7m1 0h4m2 0h1m1 0h1m3 0h2m1 0h1m1 0h2m1 0h1m1 0h1m1 0h1m2 0h3m1 0h1m3 0h5m2 0h2m2 0h1m1 0h1m1 0h3m1 0h5m1 0h1m1 0h1m1 0h1m1 0h3m1 0h1M0 5.5h2m2 0h1m1 0h2m6 0h1m1 0h1m2 0h2m3 0h5m6 0h3m4 0h2m3 0h2m7 0h2m4 0h6m1 0h3m3 0h1m3 0h1m3 0h1m1 0h1m4 0h1m1 0h2m1 0h1m2 0h2m1 0h1m2 0h1m2 0h1m2 0h1m1 0h2m4 0h1m2 0h1m2 0h1m2 0h2m6 0h3m2 0h1m1 0h1m1 0h1m1 0h2m1 0h1m2 0h2m1 0h1m1 0h1m2 0h1m1 0h1m1 0h1m1 0h1m1 0h3m1 0h2m9 0h1m5 0h1m1 0h1m2 0h1m2 0h1m1 0h3m3 0h3m2 0h1m4 0h2m4 0h1M0 6.5h3m2 0h1m1 0h3m2 0h1m1 0h2m2 0h1m1 0h2m2 0h3m1 0h4m5 0h2m1 0h1m1 0h4m4 0h3m1 0h7m1 0h1m1 0h2m1 0h8m1 0h9m1 0h7m3 0h3m2 0h2m1 0h2m1 0h1m2 0h6m1 0h1m1 0h1m1 0h1m1 0h3m5 0h3m1 0h3m1 0h3m1 0h3m2 0h2m2 0h1m1 0h2m1 0h8m1 0h7m3 0h1m2 0h2m1 0h3m1 0h8m1 0h2m1 0h1m1 0h2m1 0h6m2 0h2m1 0h5m1 0h1M0 7.5h12m1 0h37m1 0h6m1 0h2m1 0h5m2 0h11m3 0h2m1 0h3m2 0h4m1 0h6m1 0h4m1 0h3m2 0h10m2 0h5m1 0h6m1 0h1m1 0h7m1 0h1m1 0h20m2 0h4m2 0h2m3 0h1m1 0h6m1 0h17m1 0h2m1 0h5m1 0h1m1 0h1M0 8.5h10m1 0h10m1 0h16m1 0h1m1 0h2m1 0h9m2 0h13m1 0h3m1 0h4m1 0h9m1 0h2m1 0h2m2 0h2m2 0h3m1 0h2m1 0h3m1 0h9m1 0h2m1 0h4m3 0h2m1 0h4m1 0h4m3 0h8m2 0h3m1 0h4m1 0h2m1 0h3m1 0h1m1 0h2m1 0h6m1 0h1m1 0h1m2 0h2m2 0h3m1 0h4m2 0h6m1 0h8m1 0h4M0 9.5h1m1 0h15m3 0h6m1 0h1m1 0h2m2 0h7m1 0h1m1 0h8m1 0h5m2 0h2m2 0h4m1 0h4m1 0h1m1 0h2m1 0h4m1 0h16m1 0h1m1 0h3m1 0h5m1 0h7m2 0h4m2 0h1m1 0h4m1 0h5m1 0h6m1 0h1m2 0h3m2 0h1m1 0h2m1 0h1m1 0h6m2 0h12m1 0h5m2 0h1m1 0h5m1 0h3m1 0h3m2 0h3m1 0h4m1 0h2m3 0h1M0 10.5h1m1 0h1m1 0h6m1 0h1m1 0h1m1 0h1m1 0h5m1 0h3m1 0h4m1 0h3m1 0h1m1 0h1m1 0h3m1 0h10m2 0h1m1 0h7m2 0h6m1 0h5m1 0h1m1 0h5m3 0h7m1 0h6m1 0h2m1 0h6m1 0h13m1 0h3m1 0h4m4 0h2m1 0h7m1 0h7m3 0h2m2 0h1m1 0h1m1 0h2m2 0h7m2 0h10m1 0h10m1 0h2m1 0h3m2 0h5m1 0h2M0 11.5h15m1 0h48m1 0h8m1 0h1m1 0h11m1 0h1m1 0h27m1 0h3m1 0h4m1 0h3m1 0h2m1 0h1m1 0h5m1 0h1m1 0h1m3 0h14m1 0h6m1 0h7m2 0h1m2 0h2m1 0h6m1 0h6m1 0h4m3 0h1m2 0h1m1 0h5m1 0h5M0 12.5h1m2 0h1m1 0h1m2 0h9m1 0h4m1 0h10m3 0h3m1 0h9m1 0h6m2 0h4m3 0h9m1 0h7m1 0h1m1 0h3m2 0h5m2 0h1m1 0h7m2 0h1m2 0h3m1 0h1m1 0h5m1 0h6m1 0h1m1 0h3m1 0h1m1 0h3m1 0h7m1 0h1m1 0h6m1 0h9m1 0h5m1 0h1m1 0h1m4 0h1m1 0h1m1 0h4m1 0h3m1 0h1m1 0h2m1 0h1m1 0h2m1 0h2m3 0h5m2 0h1m1 0h1m1 0h1M0 13.5h1m2 0h1m1 0h6m1 0h1m1 0h6m1 0h2m1 0h1m2 0h4m1 0h3m1 0h10m1 0h6m1 0h1m1 0h3m2 0h1m1 0h1m2 0h5m1 0h1m1 0h11m1 0h4m1 0h14m1 0h2m2 0h1m1 0h4m3 0h6m2 0h1m1 0h3m1 0h2m2 0h4m1 0h1m1 0h6m2 0h3m3 0h5m1 0h1m1 0h1m3 0h2m4 0h5m1 0h4m1 0h3m2 0h2m1 0h4m2 0h6m1 0h1m1 0h1m2 0h2m2 0h5M0 14.5h2m1 0h4m3 0h5m1 0h4m1 0h3m1 0h1m1 0h7m1 0h2m1 0h4m1 0h2m1 0h1m1 0h5m1 0h2m1 0h1m3 0h2m1 0h1m1 0h7m1 0h2m1 0h2m2 0h4m1 0h3m1 0h11m2 0h1m1 0h1m1 0h1m1 0h1m1 0h3m2 0h2m1 0h2m2 0h2m2 0h3m1 0h2m3 0h3m1 0h5m1 0h2m1 0h13m2 0h4m1 0h1m1 0h1m1 0h2m2 0h3m3 0h1m1 0h1m1 0h5m1 0h6m2 0h2m1 0h2m1 0h2m1 0h2m2 0h8M0 15.5h5m1 0h1m1 0h9m1 0h16m2 0h3m1 0h2m3 0h7m2 0h7m2 0h10m2 0h10m1 0h7m1 0h2m2 0h4m1 0h7m1 0h2m1 0h1m1 0h3m1 0h9m1 0h1m2 0h7m2 0h2m2 0h4m1 0h13m2 0h2m3 0h5m1 0h9m1 0h11m1 0h3m1 0h10m2 0h7M0 16.5h1m1 0h3m1 0h2m1 0h4m1 0h6m1 0h1m2 0h4m2 0h12m1 0h2m1 0h1m1 0h9m1 0h2m2 0h12m1 0h2m1 0h7m1 0h7m2 0h11m1 0h22m1 0h3m1 0h5m1 0h3m1 0h3m1 0h5m1 0h2m1 0h3m1 0h2m1 0h1m1 0h8m1 0h6m1 0h4m1 0h16m1 0h2m1 0h14M0 17.5h4m1 0h2m2 0h3m1 0h2m1 0h8m5 0h10m2 0h9m1 0h1m2 0h9m1 0h16m1 0h10m1 0h4m1 0h15m4 0h10m1 0h11m1 0h2m1 0h1m2 0h1m1 0h5m1 0h2m3 0h2m1 0h1m3 0h1m1 0h1m1 0h1m1 0h6m1 0h5m1 0h5m1 0h1m2 0h1m1 0h2m2 0h1m1 0h3m1 0h1m2 0h5m1 0h1m1 0h3m1 0h2M0 18.5h15m1 0h3m1 0h2m1 0h39m1 0h12m1 0h8m1 0h7m1 0h11m1 0h6m1 0h2m1 0h1m1 0h3m1 0h5m1 0h1m1 0h4m1 0h5m2 0h4m1 0h11m2 0h2m1 0h5m1 0h3m1 0h7m1 0h1m1 0h13m1 0h3m1 0h17m1 0h4M0 19.5h95m1 0h16m1 0h8m1 0h1m1 0h98M0 20.5h54m1 0h28m1 0h48m1 0h16m1 0h24m1 0h6m1 0h13m1 0h12m1 0h4m1 0h2m1 0h4M0 21.5h9m1 0h27m1 0h2m1 0h15m1 0h44m1 0h7m1 0h1m1 0h11m1 0h2m1 0h4m1 0h13m1 0h8m1 0h17m1 0h13m1 0h12m1 0h9m1 0h11M0 22.5h2m2 0h6m1 0h13m1 0h3m1 0h11m1 0h5m1 0h24m1 0h16m1 0h4m1 0h5m1 0h14m1 0h14m1 0h3m1 0h6m1 0h24m1 0h3m1 0h27m1 0h6m1 0h13m1 0h1M0 23.5h222M0 24.5h8m1 0h5m1 0h1m1 0h8m1 0h4m1 0h7m1 0h11m1 0h2m1 0h9m1 0h8m1 0h12m1 0h10m3 0h21m1 0h7m2 0h2m2 0h4m1 0h3m1 0h5m1 0h11m1 0h2m1 0h5m1 0h13m1 0h5m1 0h4m1 0h11m1 0h3m1 0h2m2 0h2m1 0h2M0 25.5h20m1 0h14m1 0h17m1 0h5m1 0h6m1 0h4m1 0h15m1 0h15m1 0h4m1 0h5m1 0h2m1 0h5m2 0h2m1 0h12m1 0h6m1 0h6m1 0h6m1 0h14m1 0h6m1 0h10m1 0h14m2 0h6m1 0h4M0 26.5h222M0 27.5h2m1 0h7m1 0h5m1 0h14m1 0h2m1 0h20m1 0h1m1 0h10m1 0h19m1 0h14m1 0h5m1 0h1m1 0h9m3 0h4m1 0h4m1 0h22m2 0h4m1 0h14m1 0h38m1 0h1m1 0h3M0 28.5h17m1 0h1m2 0h8m1 0h1m1 0h4m1 0h63m1 0h14m1 0h11m1 0h13m1 0h33m1 0h34m1 0h4m1 0h6M0 29.5h3m1 0h2m1 0h1m8 0h1m2 0h1m4 0h2m4 0h1m1 0h4m3 0h1m3 0h1m2 0h2m2 0h2m7 0h2m2 0h1m7 0h1m2 0h1m7 0h2m1 0h3m5 0h1m2 0h1m11 0h2m3 0h1m1 0h1m4 0h2m7 0h6m3 0h1m5 0h1m5 0h2m3 0h2m3 0h1m2 0h1m7 0h1m1 0h1m2 0h2m2 0h2m11 0h3m4 0h2m2 0h1m2 0h1m5 0h1M4.61 30.5h1.04M112.96 31.5h1.04M117.42 31.5h1.04M138.45 31.5h1.04M192.37 31.5h1.04M52.03 33.5h1.04M94.22 33.5h1.04M123.79 33.5h1.04M40.94 34.5h1.04M172.87 34.5h1.04M2.7 35.5h1.04M4.61 35.5h1.04M31.38 35.5h1.04M67.71 35.5h1.04M76.63 35.5h1.04M78.54 35.5h1.04M86.83 35.5h1.04M119.97 35.5h1.04M128.63 35.5h1.04M165.86 35.5h1.04M199.38 35.5h1.04M95.49 36.5h1.04M15.83 37.5h1.04M111.94 37.5h1.04M203.08 37.5h1.04M15.57 38.5h1.04M24.49 39.5h1.04M47.31 39.5h1.04M21.56 40.5h1.04M219.39 40.5h1.04M190.33 41.5h1.04M209.19 41.5h1.04M1.54 43.5h2.08M3.97 43.5h1.04M11.62 43.5h1.04M25 43.5h1.04M27.55 43.5h1.04M35.2 43.5h1.04M40.94 43.5h1.04M71.78 43.5h1.04M74.72 43.5h1.04M85.55 43.5h1.04M101.1 43.5h1.04M105.95 43.5h1.04M115.62 43.5h2.08M128.89 43.5h1.04M133.73 43.5h1.04M147.12 43.5h1.04M153.75 43.5h1.04M158.21 43.5h1.04M162.67 43.5h1.04M167.25 43.5h2.08M180.77 43.5h1.04M192.74 43.5h2.08M210.21 43.5h1.04M48.2 44.5h1.04M93.2 44.5h1.04M138.45 44.5h1.04M141.25 44.5h1.04M178.6 44.5h1.04M52.03 45.5h1.04M91.29 45.5h1.04M97.02 45.5h1.04M5.88 47.5h1.04M42.21 47.5h1.04M107.99 47.5h1.04M143.29 47.5h1.04M169.04 47.5h1.04M193.26 47.5h1.04M203.08 47.5h1.04M213.52 47.5h2.08M76.63 48.5h1.04M19.65 49.5h1.04M111.94 49.5h1.04M162.03 49.5h1.04M211.11 49.5h1.04"/>
<path stroke="#dadaeb" d="M22 0.5h1m15 0h1m4 0h1m10 0h2m1 0h1m3 0h1m1 0h1m4 0h1m3 0h3m1 0h1m1 0h1m2 0h1m2 0h1m3 0h46m1 0h17m1 0h59m9 0h1M0 1.5h1m2 0h1m1 0h2m1 0h2m5 0h2m1 0h1m6 0h1m3 0h1m2 0h1m1 0h1m4 0h1m1 0h1m1 0h4m3 0h1m2 0h1m3 0h1m10 0h2m2 0h1m4 0h4m1 0h4m2 0h1m5 0h2m1 0h7m1 0h1m1 0h2m1 0h7m1 0h1m5 0h2m2 0h1m5 0h1m1 0h1m2 0h1m2 0h1m1 0h1m7 0h3m2 0h3m1 0h1m1 0h3m2 0h4m2 0h1m1 0h4m4 0h1m2 0h2m1 0h1m1 0h1m2 0h5m2 0h1m2 0h2m1 0h3m3 0h3m1 0h1M0 2.5h1m2 0h3m1 0h2m2 0h1m4 0h1m1 0h3m1 0h1m4 0h1m1 0h2m2 0h3m1 0h2m4 0h1m3 0h3m5 0h2m5 0h1m3 0h5m1 0h1m1 0h1m1 0h1m1 0h2m3 0h5m2 0h1m14 0h1m1 0h1m1 0h2m1 0h1m1 0h2m1 0h1m1 0h1m6 0h2m2 0h4m1 0h2m2 0h2m1 0h3m1 0h2m6 0h2m5 0h1m1 0h1m1 0h3m1 0h1m2 0h1m1 0h1m1 0h2m2 0h3m1 0h3m1 0h1m1 0h3m1 0h3m2 0h1m3 0h1m4 0h2m1 0h2m3 0h2m1 0h1m1 0h1M0 3.5h2m1 0h1m1 0h9m3 0h3m1 0h5m1 0h4m1 0h7m1 0h7m1 0h2m1 0h1m2 0h1m2 0h1m1 0h7m1 0h2m1 0h3m1 0h4m2 0h2m1 0h1m1 0h1m2 0h1m1 0h3m2 0h2m3 0h1m1 0h2m1 0h1m1 0h4m2 0h3m2 0h2m1 0h2m3 0h5m3 0h1m2 0h2m1 0h8m5 0h1m1 0h1m1 0h1m1 0h1m1 0h2m1 0h2m2 0h4m2 0h1m1 0h1m2 0h1m1 0h5m4 0h3m1 0h2m1 0h1m2 0h1m1 0h1m2 0h1m1 0h1m1 0h1m3 0h3m1 0h1m2 0h1M0 4.5h2m1 0h1m1 0h3m1 0h3m3 0h2m1 0h1m1 0h5m2 0h3m3 0h5m1 0h3m1 0h10m1 0h2m3 0h4m2 0h5m1 0h1m2 0h7m1 0h3m1 0h2m1 0h2m1 0h4m1 0h2m1 0h1m1 0h2m2 0h5m4 0h4m2 0h2m1 0h1m1 0h1m1 0h2m3 0h1m3 0h1m2 0h1m2 0h7m1 0h4m2 0h1m1 0h1m4 0h1m1 0h1m1 0h2m1 0h1m1 0h1m1 0h1m2 0h3m1 0h1m4 0h4m2 0h2m2 0h1m3 0h1m1 0h1m1 0h5m1 0h1m1 0h1m1 0h1m1 0h3m1 0h1M0 5.5h2m2 0h1m1 0h2m6 0h1m1 0h1m2 0h2m3 0h5m6 0h3m4 0h2m3 0h2m7 0h2m4 0h6m1 0h3m3 0h1m3 0h1m3 0h1m1 0h1m4 0h1m1 0h2m1 0h1m2 0h2m1 0h1m5 0h1m2 0h1m1 0h2m4 0h1m2 0h1m2 0h1m2 0h1m7 0h3m2 0h1m1 0h1m1 0h1m1 0h2m1 0h1m2 0h2m1 0h1m1 0h1m2 0h1m1 0h1m1 0h1m1 0h1m1 0h3m1 0h2m9 0h1m5 0h1m1 0h1m2 0h1m2 0h1m1 0h3m3 0h3m2 0h1m4 0h2m4 0h1M0 6.5h3m2 0h1m1 0h3m2 0h1m1 0h2m2 0h1m1 0h2m2 0h2m2 0h4m5 0h2m1 0h1m1 0h4m4 0h3m1 0h4m1 0h2m1 0h1m1 0h2m1 0h8m1 0h3m1 0h5m1 0h7m3 0h3m2 0h2m1 0h2m1 0h1m2 0h6m1 0h1m1 0h1m1 0h1m1 0h3m5 0h3m1 0h3m1 0h3m1 0h3m2 0h2m2 0h1m1 0h2m1 0h8m1 0h7m3 0h1m2 0h2m1 0h3m1 0h8m1 0h2m1 0h1m1 0h2m1 0h6m2 0h2m1 0h5m1 0h1M0 7.5h12m1 0h37m1 0h6m1 0h2m1 0h5m2 0h11m3 0h2m1 0h3m2 0h4m1 0h6m1 0h4m1 0h3m2 0h10m2 0h5m1 0h6m1 0h1m1 0h7m1 0h1m1 0h20m2 0h4m2 0h2m3 0h1m1 0h6m1 0h14m1 0h2m1 0h2m1 0h5m1 0h1m1 0h1M0 8.5h10m1 0h10m1 0h16m1 0h1m1 0h2m1 0h9m2 0h13m1 0h3m1 0h4m1 0h9m1 0h2m1 0h2m2 0h2m2 0h3m1 0h2m1 0h3m1 0h9m1 0h2m1 0h4m3 0h2m1 0h4m1 0h4m3 0h8m2 0h3m1 0h4m1 0h2m1 0h3m1 0h1m1 0h2m1 0h6m1 0h1m1 0h1m2 0h2m2 0h3m1 0h4m2 0h6m1 0h8m1 0h4M0 9.5h1m1 0h15m3 0h6m1 0h1m1 0h2m2 0h7m1 0h1m1 0h8m1 0h5m2 0h2m2 0h4m1 0h4m1 0h1m1 0h2m1 0h4m1 0h16m1 0h1m1 0h3m1 0h5m1 0h7m2 0h4m2 0h1m1 0h4m1 0h5m1 0h6m1 0h1m2 0h3m2 0h1m1 0h2m1 0h1m1 0h6m2 0h12m1 0h5m2 0h1m1 0h5m2 0h2m1 0h3m2 0h3m1 0h4m1 0h2m3 0h1M0 10.5h1m1 0h1m1 0h6m1 0h1m3 0h1m1 0h5m1 0h3m1 0h4m1 0h3m3 0h1m1 0h3m1 0h10m2 0h1m1 0h7m2 0h6m1 0h5m1 0h1m1 0h5m3 0h7m1 0h6m1 0h2m1 0h6m1 0h13m1 0h3m1 0h4m4 0h2m1 0h7m1 0h7m3 0h2m2 0h1m1 0h1m1 0h2m2 0h7m2 0h10m1 0h10m1 0h2m1 0h3m2 0h5m1 0h2M0 11.5h15m1 0h48m1 0h8m1 0h1m1 0h11m1 0h1m1 0h27m1 0h3m1 0h4m1 0h3m1 0h2m1 0h1m1 0h5m1 0h1m1 0h1m3 0h14m1 0h6m1 0h7m2 0h1m2 0h2m1 0h6m1 0h6m1 0h4m3 0h1m2 0h1m1 0h5m1 0h5M0 12.5h1m2 0h1m1 0h1m2 0h9m1 0h4m1 0h10m3 0h1m1 0h1m1 0h9m1 0h6m2 0h4m3 0h9m1 0h7m1 0h1m1 0h3m2 0h5m2 0h1m1 0h7m2 0h1m2 0h3m1 0h1m1 0h5m1 0h6m1 0h1m1 0h3m1 0h1m1 0h3m1 0h7m1 0h1m1 0h6m1 0h9m1 0h5m1 0h1m1 0h1m4 0h1m1 0h1m1 0h4m1 0h3m1 0h1m1 0h2m1 0h1m1 0h2m1 0h2m4 0h4m2 0h1m1 0h1m1 0h1M0 13.5h1m2 0h1m1 0h6m1 0h1m1 0h6m1 0h2m1 0h1m2 0h4m1 0h3m1 0h10m1 0h6m1 0h1m1 0h3m2 0h1m1 0h1m2 0h5m1 0h1m1 0h2m1 0h8m1 0h4m1 0h14m1 0h2m2 0h1m1 0h4m3 0h6m2 0h1m1 0h3m1 0h2m2 0h3m2 0h1m1 0h6m2 0h3m3 0h5m1 0h1m1 0h1m3 0h2m4 0h5m1 0h4m1 0h3m2 0h2m1 0h4m2 0h6m1 0h1m1 0h1m2 0h2m2 0h5M0 14.5h2m1 0h4m3 0h5m1 0h4m1 0h3m1 0h1m1 0h7m1 0h2m1 0h4m1 0h2m1 0h1m1 0h5m1 0h2m1 0h1m3 0h2m1 0h1m1 0h7m1 0h2m1 0h2m2 0h4m1 0h3m1 0h11m2 0h1m1 0h1m1 0h1m1 0h1m1 0h1m1 0h1m2 0h2m1 0h2m2 0h2m2 0h3m1 0h2m3 0h3m1 0h5m1 0h2m1 0h13m2 0h4m1 0h1m1 0h1m1 0h2m2 0h3m3 0h1m1 0h1m1 0h5m1 0h2m1 0h3m2 0h2m1 0h2m1 0h2m1 0h2m2 0h8M0 15.5h5m1 0h1m1 0h9m1 0h16m2 0h3m1 0h2m3 0h7m2 0h7m2 0h5m1 0h4m2 0h10m1 0h7m2 0h1m2 0h4m1 0h7m1 0h2m1 0h1m1 0h3m1 0h9m1 0h1m2 0h7m2 0h2m2 0h4m1 0h13m2 0h2m3 0h5m1 0h1m1 0h7m1 0h11m1 0h3m1 0h10m2 0h7M0 16.5h1m1 0h3m1 0h2m1 0h4m1 0h6m1 0h1m2 0h4m2 0h2m1 0h9m1 0h2m1 0h1m1 0h9m1 0h2m3 0h4m1 0h6m1 0h2m1 0h7m1 0h3m1 0h3m2 0h11m1 0h22m1 0h3m1 0h5m1 0h3m1 0h2m2 0h5m1 0h2m1 0h3m1 0h2m1 0h1m1 0h8m1 0h6m1 0h4m1 0h16m1 0h2m1 0h14M0 17.5h4m1 0h2m2 0h3m1 0h2m1 0h8m5 0h10m2 0h9m1 0h1m2 0h9m1 0h16m1 0h10m1 0h4m1 0h15m4 0h10m1 0h11m1 0h2m1 0h1m2 0h1m1 0h5m1 0h2m3 0h2m1 0h1m3 0h1m1 0h1m1 0h1m1 0h6m1 0h5m1 0h5m1 0h1m2 0h1m1 0h2m2 0h1m1 0h3m1 0h1m3 0h4m1 0h1m1 0h3m1 0h2M0 18.5h15m1 0h3m1 0h2m1 0h39m1 0h12m1 0h8m1 0h7m1 0h11m1 0h6m1 0h2m1 0h1m1 0h3m1 0h5m1 0h1m1 0h4m1 0h5m2 0h4m1 0h11m2 0h2m1 0h5m1 0h3m1 0h7m1 0h1m1 0h13m1 0h3m1 0h17m1 0h4M0 19.5h95m1 0h16m1 0h8m1 0h1m1 0h98M0 20.5h54m1 0h28m1 0h47m2 0h16m1 0h24m1 0h6m1 0h13m1 0h12m1 0h4m1 0h2m1 0h4M0 21.5h9m1 0h27m1 0h2m1 0h15m1 0h44m1 0h7m1 0h1m1 0h11m1 0h2m1 0h4m1 0h13m1 0h8m1 0h17m1 0h13m1 0h12m1 0h9m1 0h11M0 22.5h2m2 0h6m1 0h13m1 0h3m1 0h11m1 0h5m1 0h24m1 0h16m1 0h4m1 0h5m1 0h14m1 0h14m1 0h3m1 0h6m1 0h24m1 0h3m1 0h27m1 0h6m1 0h13m1 0h1M0 23.5h222M0 24.5h8m1 0h5m1 0h1m1 0h8m1 0h4m1 0h7m1 0h11m1 0h2m1 0h9m1 0h8m1 0h12m1 0h10m3 0h21m1 0h7m2 0h2m2 0h4m1 0h3m1 0h5m1 0h11m1 0h2m1 0h5m1 0h13m1 0h5m1 0h4m1 0h11m1 0h3m1 0h2m2 0h2m1 0h2M0 25.5h20m1 0h14m1 0h17m1 0h5m1 0h6m1 0h4m1 0h15m1 0h15m1 0h4m1 0h5m1 0h2m1 0h5m2 0h2m1 0h12m1 0h6m1 0h6m1 0h6m1 0h14m1 0h6m1 0h10m1 0h14m2 0h6m1 0h4M0 26.5h222M0 27.5h2m1 0h7m1 0h5m1 0h14m1 0h2m1 0h20m1 0h1m1 0h10m1 0h19m1 0h14m1 0h5m1 0h1m1 0h9m3 0h4m1 0h4m1 0h22m2 0h4m1 0h14m1 0h38m1 0h1m1 0h3M0 28.5h17m1 0h1m2 0h8m1 0h1m1 0h4m1 0h63m1 0h14m1 0h11m1 0h13m1 0h33m1 0h34m1 0h4m1 0h6M0 29.5h3m1 0h2m1 0h1m8 0h1m2 0h1m4 0h2m4 0h1m1 0h4m3 0h1m3 0h1m2 0h2m2 0h2m7 0h2m2 0h1m7 0h1m2 0h1m7 0h2m1 0h3m5 0h1m2 0h1m11 0h2m3 0h1m1 0h1m4 0h2m7 0h6m3 0h1m5 0h1m5 0h2m3 0h2m3 0h1m2 0h1m7 0h1m1 0h1m2 0h2m2 0h2m11 0h3m4 0h1m3 0h1m2 0h1m5 0h1M94.59 43.5h2.08M2.94 44.5h2.08"/>
<path stroke="#c8c9e2" d="M22 0.5h1m15 0h1m4 0h1m10 0h2m1 0h1m3 0h1m1 0h1m4 0h1m3 0h3m1 0h1m1 0h1m2 0h1m2 0h1m3 0h46m1 0h17m1 0h59m9 0h1M0 1.5h1m2 0h1m1 0h2m1 0h2m5 0h2m1 0h1m6 0h1m6 0h1m1 0h1m4 0h1m1 0h1m1 0h4m3 0h1m2 0h1m14 0h2m7 0h4m1 0h4m2 0h1m5 0h2m1 0h7m1 0h1m1 0h2m1 0h7m7 0h2m2 0h1m5 0h1m1 0h1m2 0h1m2 0h1m1 0h1m7 0h3m2 0h3m1 0h1m1 0h3m3 0h3m2 0h1m1 0h4m4 0h1m2 0h2m1 0h1m1 0h1m2 0h5m2 0h1m2 0h1m2 0h3m3 0h3m1 0h1M0 2.5h1m2 0h3m1 0h2m2 0h1m4 0h1m1 0h3m1 0h1m4 0h1m1 0h2m2 0h3m1 0h2m4 0h1m3 0h3m5 0h2m5 0h1m3 0h5m1 0h1m1 0h1m1 0h1m1 0h2m3 0h5m2 0h1m14 0h1m1 0h1m1 0h2m1 0h1m1 0h2m1 0h1m1 0h1m6 0h2m2 0h4m1 0h2m2 0h2m1 0h3m1 0h2m6 0h2m5 0h1m1 0h1m1 0h3m1 0h1m4 0h1m1 0h2m2 0h3m1 0h1m1 0h1m1 0h1m1 0h3m1 0h3m2 0h1m3 0h1m4 0h2m1 0h2m3 0h2m1 0h1m1 0h1M0 3.5h2m1 0h1m1 0h9m3 0h3m1 0h5m1 0h4m1 0h7m1 0h7m1 0h2m1 0h1m2 0h1m2 0h1m1 0h7m1 0h2m1 0h3m1 0h4m2 0h1m2 0h1m1 0h1m2 0h1m1 0h3m2 0h2m3 0h1m1 0h2m1 0h1m1 0h4m2 0h3m2 0h2m1 0h2m3 0h5m3 0h1m2 0h2m1 0h8m5 0h1m1 0h1m1 0h1m1 0h1m1 0h2m1 0h2m2 0h4m2 0h1m1 0h1m2 0h1m1 0h5m4 0h3m1 0h2m1 0h1m2 0h1m1 0h1m2 0h1m1 0h1m1 0h1m3 0h1m1 0h1m1 0h1m2 0h1M0 4.5h2m1 0h1m1 0h3m1 0h3m3 0h2m1 0h1m1 0h4m3 0h3m4 0h2m1 0h1m1 0h3m1 0h10m1 0h2m3 0h4m2 0h5m1 0h1m2 0h7m1 0h3m1 0h2m1 0h2m1 0h4m1 0h2m1 0h1m1 0h2m2 0h5m4 0h4m2 0h2m1 0h1m1 0h1m1 0h2m3 0h1m3 0h1m2 0h1m2 0h4m1 0h2m1 0h4m2 0h1m1 0h1m4 0h1m1 0h1m1 0h2m1 0h1m1 0h1m1 0h1m2 0h3m1 0h1m4 0h4m2 0h2m2 0h1m3 0h1m1 0h1m1 0h5m1 0h1m1 0h1m1 0h1m1 0h3m1 0h1M0 5.5h2m2 0h1m1 0h2m6 0h1m1 0h1m2 0h2m3 0h4m7 0h2m5 0h2m3 0h2m7 0h2m4 0h6m1 0h3m3 0h1m3 0h1m3 0h1m1 0h1m4 0h1m1 0h2m1 0h1m2 0h2m1 0h1m5 0h1m2 0h1m1 0h2m4 0h1m2 0h1m2 0h1m2 0h1m7 0h3m2 0h1m3 0h1m1 0h2m1 0h1m2 0h2m1 0h1m1 0h1m2 0h1m1 0h1m1 0h1m1 0h1m1 0h3m1 0h2m9 0h1m5 0h1m1 0h1m2 0h1m2 0h1m1 0h3m3 0h3m2 0h1m4 0h2m4 0h1M0 6.5h3m2 0h1m1 0h3m2 0h1m1 0h2m2 0h1m1 0h2m2 0h2m2 0h4m5 0h2m1 0h1m1 0h4m5 0h2m1 0h4m1 0h2m1 0h1m1 0h2m1 0h8m1 0h3m1 0h5m1 0h7m3 0h3m2 0h2m1 0h2m1 0h1m2 0h6m1 0h1m1 0h1m1 0h1m1 0h3m5 0h3m1 0h3m1 0h3m1 0h3m2 0h2m2 0h1m1 0h2m1 0h8m1 0h7m3 0h1m2 0h2m1 0h3m1 0h8m1 0h2m1 0h1m1 0h2m1 0h6m2 0h2m1 0h5m1 0h1M0 7.5h12m1 0h37m1 0h6m1 0h2m1 0h5m2 0h11m3 0h2m1 0h3m2 0h4m1 0h6m1 0h1m1 0h2m1 0h3m2 0h10m2 0h5m1 0h6m1 0h1m1 0h7m1 0h1m1 0h20m2 0h4m2 0h2m3 0h1m1 0h6m1 0h14m1 0h2m1 0h2m1 0h5m1 0h1m1 0h1M0 8.5h10m1 0h10m1 0h16m1 0h1m1 0h2m1 0h9m2 0h13m1 0h3m1 0h4m1 0h9m1 0h2m1 0h2m2 0h2m2 0h3m1 0h2m1 0h3m1 0h9m1 0h2m1 0h4m3 0h2m1 0h4m1 0h4m3 0h8m2 0h3m1 0h3m2 0h1m2 0h2m2 0h1m1 0h2m1 0h5m2 0h1m1 0h1m2 0h2m2 0h3m2 0h3m2 0h6m1 0h8m1 0h4M0 9.5h1m1 0h15m3 0h6m1 0h1m1 0h2m2 0h7m1 0h1m1 0h8m1 0h5m2 0h2m2 0h4m1 0h4m1 0h1m1 0h2m1 0h4m1 0h16m1 0h1m1 0h3m1 0h5m1 0h7m2 0h4m2 0h1m1 0h4m1 0h5m1 0h5m2 0h1m2 0h1m1 0h1m2 0h1m1 0h2m1 0h1m1 0h6m2 0h12m1 0h5m2 0h1m1 0h5m2 0h2m1 0h3m2 0h3m1 0h4m1 0h2m3 0h1M0 10.5h1m1 0h1m1 0h6m1 0h1m3 0h1m1 0h5m1 0h3m1 0h4m1 0h3m3 0h1m1 0h3m1 0h10m2 0h1m1 0h7m2 0h6m1 0h5m1 0h1m1 0h5m3 0h7m1 0h6m1 0h2m1 0h6m1 0h9m1 0h3m1 0h3m1 0h4m4 0h2m2 0h6m1 0h7m3 0h2m2 0h1m1 0h1m1 0h2m2 0h7m2 0h10m1 0h10m1 0h2m1 0h3m2 0h5m1 0h2M0 11.5h15m1 0h48m1 0h8m1 0h1m1 0h11m1 0h1m1 0h27m1 0h3m1 0h4m1 0h3m1 0h2m1 0h1m1 0h5m1 0h1m1 0h1m3 0h14m1 0h6m1 0h7m2 0h1m2 0h2m1 0h6m1 0h6m1 0h4m3 0h1m2 0h1m1 0h5m1 0h5M0 12.5h1m2 0h1m1 0h1m2 0h8m2 0h1m1 0h2m1 0h10m3 0h1m1 0h1m1 0h9m1 0h6m2 0h4m3 0h9m1 0h7m1 0h1m1 0h3m2 0h5m2 0h1m1 0h7m2 0h1m2 0h3m1 0h1m1 0h1m1 0h3m1 0h6m1 0h1m1 0h3m1 0h1m1 0h1m1 0h1m1 0h7m1 0h1m1 0h6m1 0h9m1 0h5m1 0h1m1 0h1m4 0h1m1 0h1m1 0h4m1 0h3m1 0h1m2 0h1m1 0h1m1 0h2m1 0h2m4 0h4m2 0h1m1 0h1m1 0h1M0 13.5h1m2 0h1m1 0h6m1 0h1m1 0h6m1 0h2m1 0h1m2 0h4m1 0h3m1 0h10m1 0h6m1 0h1m1 0h3m2 0h1m1 0h1m2 0h5m1 0h1m1 0h2m1 0h8m1 0h4m1 0h14m1 0h2m2 0h1m1 0h4m3 0h6m2 0h1m1 0h3m1 0h2m2 0h3m2 0h1m1 0h6m2 0h3m3 0h5m1 0h1m1 0h1m3 0h2m4 0h5m1 0h4m1 0h3m2 0h2m1 0h1m1 0h2m2 0h6m1 0h1m1 0h1m2 0h2m2 0h5M0 14.5h2m1 0h4m3 0h5m1 0h2m1 0h1m2 0h2m1 0h1m1 0h7m1 0h2m1 0h1m1 0h2m1 0h2m1 0h1m1 0h5m1 0h2m1 0h1m3 0h2m1 0h1m1 0h7m1 0h2m1 0h2m2 0h3m2 0h3m1 0h11m2 0h1m1 0h1m1 0h1m1 0h1m1 0h1m1 0h1m3 0h1m1 0h2m2 0h2m2 0h3m1 0h2m3 0h3m1 0h5m1 0h2m1 0h13m2 0h4m1 0h1m1 0h1m1 0h2m2 0h3m3 0h1m1 0h1m1 0h5m1 0h2m1 0h3m2 0h2m1 0h2m1 0h2m1 0h2m2 0h8M0 15.5h5m1 0h1m1 0h9m1 0h13m1 0h2m2 0h3m1 0h2m3 0h7m2 0h7m2 0h5m1 0h4m2 0h10m1 0h7m2 0h1m2 0h4m1 0h7m1 0h1m2 0h1m1 0h3m1 0h9m1 0h1m2 0h7m2 0h2m2 0h4m1 0h13m2 0h2m3 0h5m1 0h1m1 0h7m1 0h11m1 0h3m1 0h10m2 0h7M0 16.5h1m1 0h3m1 0h2m2 0h3m1 0h6m1 0h1m2 0h4m2 0h2m1 0h9m1 0h2m1 0h1m1 0h9m1 0h2m3 0h4m1 0h6m1 0h2m1 0h7m1 0h3m2 0h2m2 0h11m1 0h22m1 0h3m1 0h5m1 0h3m1 0h1m3 0h5m1 0h2m1 0h2m2 0h2m1 0h1m1 0h8m1 0h6m1 0h3m2 0h16m1 0h2m1 0h5m1 0h8M0 17.5h4m1 0h2m2 0h3m1 0h2m1 0h8m5 0h10m2 0h9m1 0h1m2 0h9m1 0h16m1 0h10m1 0h4m1 0h15m4 0h10m1 0h11m1 0h2m1 0h1m2 0h1m1 0h5m1 0h2m3 0h2m1 0h1m3 0h1m1 0h1m1 0h1m1 0h6m1 0h5m1 0h5m1 0h1m2 0h1m1 0h2m2 0h1m1 0h3m1 0h1m3 0h4m1 0h1m1 0h3m1 0h2M0 18.5h15m1 0h3m1 0h2m1 0h39m1 0h12m1 0h8m1 0h7m1 0h11m1 0h6m1 0h2m1 0h1m1 0h3m1 0h5m1 0h1m1 0h4m1 0h5m2 0h4m1 0h11m2 0h2m1 0h5m1 0h3m1 0h7m1 0h1m1 0h13m1 0h3m1 0h17m1 0h4M0 19.5h95m1 0h16m1 0h8m1 0h1m1 0h98M0 20.5h54m1 0h28m1 0h47m2 0h16m1 0h24m1 0h6m1 0h13m1 0h12m1 0h4m1 0h1m3 0h3M0 21.5h9m1 0h27m1 0h2m1 0h15m1 0h44m1 0h7m1 0h1m1 0h11m1 0h2m1 0h4m1 0h13m1 0h8m1 0h17m1 0h13m1 0h12m1 0h9m1 0h11M0 22.5h2m2 0h6m1 0h13m1 0h3m1 0h11m1 0h2m1 0h2m1 0h24m1 0h16m1 0h4m1 0h3m1 0h1m1 0h14m1 0h14m1 0h3m1 0h6m1 0h24m1 0h3m1 0h27m1 0h6m1 0h13m1 0h1M0 23.5h222M0 24.5h8m1 0h5m1 0h1m1 0h8m1 0h4m1 0h7m1 0h11m1 0h2m1 0h9m1 0h8m1 0h12m1 0h10m3 0h21m1 0h7m2 0h2m2 0h4m1 0h3m1 0h5m1 0h11m1 0h2m1 0h5m1 0h13m1 0h5m1 0h4m1 0h11m1 0h3m1 0h2m2 0h2m1 0h2M0 25.5h20m1 0h6m1 0h7m1 0h17m1 0h5m1 0h6m1 0h4m1 0h15m1 0h5m1 0h9m1 0h4m1 0h5m1 0h2m1 0h4m3 0h2m1 0h3m1 0h8m1 0h6m1 0h6m1 0h6m1 0h14m1 0h6m1 0h10m1 0h14m2 0h6m1 0h4M0 26.5h222M0 27.5h2m1 0h7m1 0h5m1 0h14m1 0h2m1 0h20m1 0h1m1 0h10m1 0h19m1 0h14m1 0h5m1 0h1m1 0h9m3 0h4m1 0h4m1 0h22m2 0h4m1 0h14m1 0h38m1 0h1m1 0h3M0 28.5h17m1 0h1m2 0h8m1 0h1m1 0h4m1 0h63m1 0h14m1 0h11m1 0h13m1 0h33m1 0h34m1 0h4m1 0h6M0 29.5h3m1 0h2m1 0h1m8 0h1m2 0h1m4 0h2m4 0h1m1 0h4m3 0h1m3 0h1m2 0h2m2 0h2m7 0h2m2 0h1m7 0h1m2 0h1m7 0h2m1 0h3m5 0h1m2 0h1m11 0h2m3 0h1m1 0h1m4 0h2m7 0h6m3 0h1m5 0h1m5 0h2m3 0h2m3 0h1m2 0h1m7 0h1m1 0h1m2 0h2m2 0h2m11 0h3m4 0h1m3 0h1m2 0h1m5 0h1"/>
<path stroke="#b6b6d8" d="M22 0.5h1m15 0h1m4 0h1m10 0h2m1 0h1m3 0h1m1 0h1m4 0h1m3 0h3m1 0h1m1 0h1m2 0h1m2 0h1m3 0h46m1 0h17m1 0h59m9 0h1M0 1.5h1m4 0h2m1 0h2m5 0h2m1 0h1m6 0h1m6 0h1m1 0h1m6 0h1m1 0h4m3 0h1m2 0h1m14 0h2m7 0h4m1 0h4m2 0h1m5 0h2m1 0h3m1 0h3m1 0h1m1 0h2m1 0h7m7 0h2m2 0h1m5 0h1m1 0h1m2 0h1m2 0h1m1 0h1m7 0h1m1 0h1m2 0h3m1 0h1m1 0h3m3 0h3m2 0h1m1 0h4m4 0h1m2 0h2m1 0h1m1 0h1m2 0h5m2 0h1m2 0h1m2 0h3m3 0h3m1 0h1M0 2.5h1m2 0h3m1 0h2m2 0h1m4 0h1m2 0h2m1 0h1m4 0h1m1 0h2m2 0h3m1 0h2m4 0h1m3 0h3m5 0h2m5 0h1m3 0h1m1 0h3m1 0h1m1 0h1m1 0h1m1 0h2m3 0h2m1 0h2m17 0h1m1 0h1m1 0h2m1 0h1m1 0h2m3 0h1m6 0h2m2 0h4m1 0h2m2 0h2m1 0h3m1 0h2m6 0h2m5 0h1m1 0h1m1 0h3m1 0h1m4 0h1m1 0h2m2 0h3m1 0h1m1 0h1m1 0h1m1 0h3m1 0h3m2 0h1m3 0h1m5 0h1m1 0h2m3 0h2m1 0h1M0 3.5h2m1 0h1m1 0h9m3 0h3m1 0h5m1 0h4m1 0h7m1 0h7m1 0h2m1 0h1m2 0h1m2 0h1m1 0h7m1 0h2m1 0h3m1 0h4m2 0h1m2 0h1m1 0h1m2 0h1m1 0h3m3 0h1m3 0h1m1 0h2m1 0h1m1 0h4m2 0h2m3 0h2m2 0h1m3 0h5m3 0h1m2 0h2m1 0h8m5 0h1m1 0h1m1 0h1m1 0h1m1 0h2m1 0h2m2 0h4m2 0h1m1 0h1m2 0h1m1 0h5m5 0h2m1 0h2m4 0h1m1 0h1m2 0h1m1 0h1m1 0h1m3 0h1m1 0h1m1 0h1m2 0h1M0 4.5h2m1 0h1m1 0h1m1 0h1m1 0h3m3 0h2m1 0h1m1 0h4m3 0h2m5 0h2m3 0h3m1 0h10m1 0h2m3 0h4m2 0h5m1 0h1m2 0h6m2 0h3m1 0h2m1 0h2m1 0h4m1 0h2m1 0h1m1 0h2m2 0h4m5 0h2m1 0h1m2 0h2m1 0h1m1 0h1m1 0h2m3 0h1m3 0h1m2 0h1m2 0h3m2 0h1m2 0h4m2 0h1m1 0h1m4 0h1m1 0h1m1 0h2m1 0h1m1 0h1m1 0h1m2 0h3m6 0h4m2 0h2m2 0h1m3 0h1m1 0h1m1 0h5m1 0h1m3 0h1m1 0h3m1 0h1M0 5.5h2m2 0h1m1 0h2m6 0h1m1 0h1m2 0h2m3 0h4m7 0h2m5 0h1m4 0h2m7 0h2m4 0h6m1 0h3m3 0h1m3 0h1m3 0h1m1 0h1m4 0h1m1 0h2m1 0h1m2 0h2m1 0h1m5 0h1m2 0h1m1 0h2m4 0h1m2 0h1m2 0h1m2 0h1m7 0h3m2 0h1m3 0h1m1 0h2m1 0h1m2 0h2m1 0h1m1 0h1m2 0h1m1 0h1m3 0h1m1 0h3m1 0h2m9 0h1m5 0h1m1 0h1m2 0h1m2 0h1m1 0h3m3 0h3m2 0h1m4 0h2m4 0h1M0 6.5h3m2 0h1m1 0h3m2 0h1m2 0h1m2 0h1m1 0h2m2 0h2m2 0h4m5 0h2m1 0h1m1 0h4m5 0h2m1 0h4m1 0h2m1 0h1m1 0h2m1 0h8m1 0h3m1 0h5m1 0h7m3 0h3m2 0h2m1 0h2m1 0h1m2 0h6m1 0h1m1 0h1m1 0h1m1 0h3m5 0h3m1 0h3m1 0h3m1 0h3m2 0h2m2 0h1m1 0h2m1 0h8m1 0h7m3 0h1m2 0h2m1 0h3m1 0h8m1 0h2m1 0h1m1 0h2m1 0h1m1 0h4m2 0h2m1 0h5m1 0h1M0 7.5h12m1 0h4m1 0h32m1 0h6m1 0h2m1 0h5m2 0h11m3 0h2m1 0h3m2 0h4m1 0h6m1 0h1m1 0h2m1 0h3m2 0h10m2 0h4m2 0h6m1 0h1m1 0h7m1 0h1m1 0h20m2 0h4m2 0h2m3 0h1m1 0h6m1 0h14m1 0h2m1 0h2m1 0h5m1 0h1m1 0h1M0 8.5h10m1 0h10m1 0h16m1 0h1m1 0h2m1 0h9m2 0h13m1 0h3m1 0h2m1 0h1m1 0h9m1 0h2m1 0h2m2 0h2m2 0h3m1 0h2m1 0h3m1 0h9m1 0h2m1 0h4m3 0h2m1 0h4m1 0h4m3 0h8m2 0h3m1 0h3m2 0h1m2 0h2m2 0h1m1 0h2m1 0h5m2 0h1m1 0h1m2 0h2m2 0h3m2 0h3m2 0h6m1 0h8m1 0h4M0 9.5h1m1 0h13m1 0h1m3 0h1m1 0h4m1 0h1m1 0h2m2 0h7m1 0h1m1 0h8m1 0h5m2 0h2m2 0h4m1 0h4m1 0h1m1 0h2m1 0h4m1 0h16m1 0h1m1 0h3m1 0h5m1 0h7m3 0h3m2 0h1m1 0h4m1 0h5m1 0h5m5 0h1m1 0h1m2 0h1m1 0h2m1 0h1m1 0h6m2 0h12m1 0h5m2 0h1m1 0h5m2 0h2m1 0h3m2 0h3m1 0h4m1 0h2m3 0h1M0 10.5h1m1 0h1m1 0h6m1 0h1m3 0h1m1 0h5m1 0h3m1 0h4m1 0h3m3 0h1m1 0h3m1 0h10m2 0h1m1 0h7m2 0h6m1 0h5m1 0h1m4 0h2m3 0h5m1 0h1m2 0h5m1 0h2m1 0h6m1 0h4m1 0h4m1 0h3m1 0h3m1 0h3m5 0h2m2 0h6m1 0h1m1 0h5m3 0h2m2 0h1m1 0h1m1 0h2m2 0h7m2 0h10m1 0h2m1 0h7m1 0h2m1 0h3m2 0h5m1 0h2M0 11.5h15m1 0h48m1 0h8m1 0h1m1 0h11m1 0h1m1 0h27m1 0h3m1 0h4m1 0h1m1 0h1m1 0h2m3 0h5m1 0h1m1 0h1m3 0h14m1 0h6m1 0h7m2 0h1m2 0h2m1 0h6m1 0h6m1 0h4m3 0h1m2 0h1m1 0h5m1 0h5M0 12.5h1m2 0h1m1 0h1m2 0h8m2 0h1m1 0h2m1 0h10m3 0h1m1 0h1m1 0h9m1 0h6m2 0h4m3 0h9m1 0h2m1 0h2m5 0h3m2 0h5m2 0h1m1 0h7m2 0h1m2 0h3m1 0h1m1 0h1m1 0h3m1 0h6m1 0h1m1 0h3m1 0h1m1 0h1m1 0h1m1 0h7m1 0h1m1 0h6m1 0h9m1 0h5m1 0h1m1 0h1m4 0h1m1 0h1m1 0h4m1 0h3m1 0h1m2 0h1m1 0h1m1 0h2m1 0h2m4 0h1m1 0h2m2 0h1m3 0h1M0 13.5h1m2 0h1m1 0h6m1 0h1m1 0h6m1 0h2m1 0h1m2 0h4m1 0h3m1 0h10m1 0h6m1 0h1m1 0h3m2 0h1m1 0h1m2 0h5m1 0h1m1 0h2m1 0h8m1 0h4m1 0h14m1 0h2m2 0h1m1 0h4m3 0h3m1 0h2m2 0h1m1 0h3m1 0h2m2 0h3m2 0h1m1 0h6m2 0h3m3 0h5m1 0h1m1 0h1m3 0h2m4 0h5m1 0h4m1 0h3m2 0h2m1 0h1m1 0h2m3 0h5m1 0h1m1 0h1m2 0h2m2 0h5M0 14.5h2m1 0h4m3 0h5m1 0h2m1 0h1m2 0h2m1 0h1m1 0h7m1 0h2m1 0h1m1 0h2m1 0h2m1 0h1m1 0h5m1 0h2m1 0h1m3 0h2m1 0h1m1 0h7m1 0h2m1 0h2m3 0h2m2 0h3m1 0h11m2 0h1m1 0h1m1 0h1m1 0h1m1 0h1m1 0h1m3 0h1m1 0h2m2 0h2m2 0h3m1 0h2m3 0h3m1 0h5m1 0h2m1 0h13m2 0h4m1 0h1m1 0h1m1 0h2m3 0h2m3 0h1m1 0h1m1 0h5m1 0h2m1 0h3m2 0h2m2 0h1m1 0h2m1 0h1m3 0h8M0 15.5h5m1 0h1m1 0h3m1 0h5m1 0h13m1 0h2m2 0h3m1 0h2m3 0h7m2 0h7m2 0h3m1 0h1m1 0h2m1 0h1m2 0h10m1 0h7m2 0h1m2 0h4m1 0h7m1 0h1m2 0h1m1 0h3m1 0h9m1 0h1m2 0h7m2 0h2m2 0h4m1 0h13m2 0h2m3 0h2m1 0h2m1 0h1m1 0h7m1 0h2m1 0h2m1 0h5m1 0h3m1 0h10m2 0h7M0 16.5h1m1 0h1m1 0h1m1 0h2m2 0h3m1 0h6m1 0h1m2 0h4m2 0h2m1 0h8m2 0h2m1 0h1m1 0h8m2 0h2m3 0h4m1 0h6m1 0h2m1 0h3m1 0h3m2 0h2m2 0h2m2 0h10m2 0h22m2 0h2m1 0h5m1 0h1m1 0h1m1 0h1m3 0h5m1 0h2m1 0h2m2 0h2m1 0h1m1 0h8m1 0h6m2 0h2m2 0h16m1 0h2m1 0h5m1 0h4m1 0h3M0 17.5h4m1 0h2m2 0h3m1 0h2m1 0h8m5 0h10m2 0h2m1 0h6m1 0h1m2 0h9m1 0h16m1 0h10m1 0h4m1 0h2m1 0h12m4 0h1m1 0h8m1 0h11m1 0h2m1 0h1m2 0h1m1 0h5m1 0h2m3 0h2m1 0h1m3 0h1m1 0h1m1 0h1m1 0h6m1 0h5m1 0h5m1 0h1m2 0h1m1 0h2m2 0h1m1 0h3m1 0h1m3 0h4m1 0h1m1 0h3m1 0h2M0 18.5h15m1 0h3m1 0h2m1 0h39m1 0h12m1 0h8m2 0h6m1 0h11m1 0h6m1 0h2m1 0h1m1 0h3m1 0h5m1 0h1m1 0h4m1 0h5m2 0h4m1 0h11m2 0h2m1 0h5m1 0h3m1 0h7m1 0h1m1 0h13m1 0h3m1 0h17m1 0h4M0 19.5h95m1 0h16m1 0h8m1 0h1m1 0h98M0 20.5h54m1 0h28m1 0h47m2 0h16m1 0h24m1 0h6m1 0h13m1 0h12m1 0h4m1 0h1m3 0h3M0 21.5h9m1 0h27m1 0h2m1 0h15m1 0h44m1 0h7m1 0h1m1 0h11m1 0h2m1 0h4m1 0h13m1 0h8m1 0h17m1 0h13m1 0h12m1 0h9m1 0h11M0 22.5h2m2 0h6m1 0h13m1 0h3m1 0h11m1 0h2m1 0h2m1 0h8m1 0h7m1 0h7m1 0h16m2 0h3m1 0h1m1 0h1m1 0h1m1 0h14m1 0h14m1 0h3m1 0h6m1 0h24m1 0h3m1 0h27m1 0h6m1 0h7m1 0h5m1 0h1M0 23.5h222M0 24.5h8m1 0h5m1 0h1m1 0h8m1 0h4m1 0h7m1 0h11m1 0h2m1 0h9m1 0h8m1 0h12m1 0h10m3 0h21m1 0h7m2 0h2m2 0h4m1 0h3m1 0h5m1 0h11m1 0h2m1 0h5m1 0h13m1 0h5m1 0h4m1 0h11m1 0h3m1 0h2m2 0h2m1 0h2M0 25.5h20m1 0h6m1 0h7m1 0h13m1 0h3m1 0h5m1 0h6m1 0h4m1 0h15m1 0h5m1 0h9m1 0h4m1 0h5m1 0h2m1 0h4m3 0h2m1 0h3m1 0h8m1 0h1m1 0h4m1 0h6m1 0h6m1 0h14m1 0h6m1 0h10m1 0h3m1 0h10m3 0h5m1 0h4M0 26.5h222M0 27.5h2m1 0h7m1 0h5m1 0h14m1 0h2m1 0h20m1 0h1m1 0h10m1 0h19m1 0h14m1 0h5m1 0h1m1 0h9m3 0h4m1 0h4m1 0h22m2 0h4m1 0h14m1 0h38m1 0h1m1 0h3M0 28.5h17m1 0h1m2 0h8m1 0h1m1 0h4m1 0h32m1 0h30m1 0h14m1 0h11m1 0h13m1 0h33m1 0h34m1 0h4m1 0h6M0 29.5h3m1 0h2m1 0h1m8 0h1m2 0h1m4 0h2m4 0h1m1 0h4m3 0h1m3 0h1m2 0h2m2 0h2m7 0h2m2 0h1m7 0h1m2 0h1m7 0h2m1 0h3m5 0h1m2 0h1m11 0h2m3 0h1m1 0h1m4 0h2m7 0h6m3 0h1m5 0h1m5 0h2m3 0h2m3 0h1m2 0h1m7 0h1m1 0h1m2 0h2m2 0h2m11 0h3m4 0h1m3 0h1m2 0h1m5 0h1M21.31 31.5h1.04M23.47 31.5h1.04M26.41 31.5h1.04M67.71 31.5h1.04M98.3 31.5h1.04M174.78 31.5h1.04M213.02 31.5h1.04M28.57 32.5h1.04M19.65 33.5h1.04M177.71 33.5h1.04M10.98 34.5h1.04M12.89 34.5h1.04M88.35 34.5h1.04M135.52 34.5h1.04M158.84 34.5h1.04M42.21 35.5h1.04M59.8 35.5h1.04M89.12 35.5h1.04M146.1 35.5h1.04M180.77 35.5h1.04M173.89 36.5h1.04M192.62 36.5h1.04M5.88 37.5h1.04M35.2 37.5h1.04M49.09 37.5h1.04M60.95 37.5h1.04M173.89 37.5h1.04M220.03 37.5h1.04M63.88 38.5h1.04M78.54 38.5h1.04M169.68 38.5h1.04M125.7 39.5h1.04M113.85 43.5h1.04M141.25 43.5h1.04M144.19 43.5h1.04M173.5 43.5h1.04M212.13 43.5h1.04M0.9 44.5h2.08M28.31 44.5h2.08M42.21 44.5h1.04M51.13 44.5h1.04M55.6 44.5h1.04M65.79 44.5h1.04M67.71 44.5h1.04M90.27 44.5h1.04M118.69 44.5h1.04M133.73 44.5h1.04M150.18 44.5h1.04M153.75 44.5h1.04M220.92 44.5h1.04M107.99 45.5h1.04M111.04 45.5h1.04M15.57 47.5h1.04M24.37 47.5h1.04M33.29 47.5h1.04M35.2 47.5h1.04M58.15 47.5h1.04M64.25 47.5h2.08M66.43 47.5h1.04M80.45 47.5h1.04M96.39 47.5h1.04M118.69 47.5h1.04M140.36 47.5h1.04M171.72 47.5h1.04M0.02 49.5h1.04M60.95 49.5h1.04M103.01 49.5h1.04"/>
<path stroke="#a4a1cc" d="M38 0.5h1m4 0h1m10 0h2m1 0h1m3 0h1m1 0h1m4 0h1m3 0h3m1 0h1m1 0h1m2 0h1m2 0h1m3 0h46m1 0h17m1 0h59m9 0h1M0 1.5h1m4 0h2m1 0h2m5 0h2m1 0h1m6 0h1m6 0h1m1 0h1m6 0h1m1 0h4m3 0h1m2 0h1m14 0h1m8 0h4m1 0h2m1 0h1m2 0h1m5 0h2m1 0h1m1 0h1m1 0h3m1 0h1m1 0h2m2 0h6m7 0h2m2 0h1m5 0h1m1 0h1m2 0h1m2 0h1m1 0h1m7 0h1m1 0h1m2 0h3m1 0h1m1 0h3m3 0h3m2 0h1m2 0h3m4 0h1m2 0h2m1 0h1m1 0h1m2 0h5m2 0h1m2 0h1m2 0h2m4 0h1m1 0h1m1 0h1M0 2.5h1m2 0h3m1 0h2m2 0h1m4 0h1m2 0h2m1 0h1m4 0h1m1 0h2m2 0h1m1 0h1m2 0h1m4 0h1m3 0h3m6 0h1m5 0h1m3 0h1m1 0h3m1 0h1m1 0h1m1 0h1m1 0h1m4 0h2m1 0h2m17 0h1m1 0h1m1 0h2m1 0h1m1 0h2m3 0h1m6 0h2m2 0h4m1 0h2m2 0h1m3 0h2m1 0h2m6 0h2m7 0h1m1 0h3m1 0h1m4 0h1m1 0h2m2 0h3m1 0h1m1 0h1m1 0h1m1 0h2m3 0h2m2 0h1m9 0h1m1 0h2m3 0h2m1 0h1M0 3.5h2m1 0h1m1 0h9m3 0h3m1 0h5m1 0h4m1 0h1m1 0h5m1 0h7m1 0h2m1 0h1m2 0h1m2 0h1m1 0h7m1 0h2m1 0h3m1 0h4m2 0h1m2 0h1m1 0h1m2 0h1m1 0h3m3 0h1m3 0h1m1 0h2m1 0h1m1 0h4m2 0h2m3 0h2m2 0h1m3 0h1m1 0h3m3 0h1m2 0h2m1 0h2m1 0h5m5 0h1m1 0h1m1 0h1m1 0h1m1 0h2m1 0h2m2 0h1m1 0h2m2 0h1m1 0h1m2 0h1m2 0h4m5 0h2m1 0h2m6 0h1m2 0h1m1 0h1m1 0h1m3 0h1m1 0h1m1 0h1m2 0h1M0 4.5h2m1 0h1m1 0h1m1 0h1m2 0h1m4 0h2m1 0h1m1 0h4m3 0h2m5 0h2m3 0h3m1 0h10m1 0h2m3 0h4m2 0h5m1 0h1m2 0h6m2 0h1m3 0h2m1 0h1m2 0h4m1 0h2m1 0h1m1 0h2m2 0h4m5 0h1m2 0h1m2 0h2m1 0h1m3 0h2m3 0h1m3 0h1m2 0h1m2 0h3m5 0h4m2 0h1m1 0h1m4 0h1m1 0h1m1 0h2m1 0h1m1 0h1m1 0h1m2 0h3m6 0h2m1 0h1m2 0h2m2 0h1m3 0h1m1 0h1m1 0h5m5 0h1m1 0h3m1 0h1M0 5.5h1m3 0h1m1 0h2m6 0h1m1 0h1m2 0h2m3 0h4m8 0h1m5 0h1m4 0h2m7 0h1m6 0h4m2 0h3m11 0h1m1 0h1m4 0h1m1 0h2m1 0h1m2 0h2m1 0h1m5 0h1m2 0h1m2 0h1m4 0h1m2 0h1m2 0h1m2 0h1m7 0h3m2 0h1m3 0h1m1 0h1m2 0h1m2 0h2m1 0h1m1 0h1m2 0h1m1 0h1m3 0h1m1 0h3m1 0h2m9 0h1m5 0h1m1 0h1m2 0h1m2 0h1m1 0h3m3 0h3m2 0h1m4 0h2m4 0h1M0 6.5h3m2 0h1m1 0h3m2 0h1m2 0h1m2 0h1m1 0h2m2 0h2m2 0h4m5 0h2m1 0h1m1 0h4m5 0h2m1 0h4m1 0h2m1 0h1m1 0h2m1 0h8m1 0h3m1 0h5m1 0h7m3 0h3m2 0h2m1 0h2m1 0h1m2 0h3m1 0h2m1 0h1m1 0h1m1 0h1m1 0h3m5 0h3m1 0h3m1 0h3m1 0h3m2 0h2m2 0h1m1 0h2m1 0h8m1 0h7m3 0h1m2 0h2m1 0h3m1 0h8m1 0h2m1 0h1m1 0h2m1 0h1m1 0h4m2 0h2m1 0h5m1 0h1M0 7.5h12m1 0h4m1 0h32m1 0h6m1 0h2m1 0h5m2 0h11m3 0h2m1 0h3m2 0h4m1 0h3m1 0h2m1 0h1m1 0h2m2 0h2m2 0h10m2 0h4m2 0h6m1 0h1m1 0h7m1 0h1m1 0h17m1 0h2m2 0h4m2 0h2m3 0h1m1 0h5m2 0h1m1 0h12m1 0h2m1 0h2m1 0h5m1 0h1m1 0h1M0 8.5h10m1 0h10m1 0h15m2 0h1m1 0h2m1 0h9m2 0h11m1 0h1m1 0h3m1 0h2m1 0h1m1 0h9m1 0h2m1 0h2m2 0h2m2 0h3m1 0h2m1 0h3m1 0h9m1 0h2m1 0h2m1 0h1m3 0h2m1 0h1m1 0h2m1 0h4m3 0h7m3 0h3m1 0h3m2 0h1m2 0h1m3 0h1m1 0h2m2 0h4m4 0h1m2 0h2m2 0h3m2 0h3m2 0h4m1 0h1m1 0h8m1 0h4M0 9.5h1m1 0h5m2 0h6m1 0h1m3 0h1m1 0h1m1 0h2m1 0h1m1 0h2m2 0h7m1 0h1m1 0h1m1 0h6m1 0h5m2 0h2m2 0h4m1 0h4m1 0h1m1 0h2m1 0h3m2 0h1m1 0h14m1 0h1m1 0h2m2 0h5m1 0h7m3 0h3m2 0h1m1 0h4m1 0h5m1 0h5m5 0h1m1 0h1m4 0h2m1 0h1m1 0h6m2 0h12m2 0h1m1 0h2m2 0h1m1 0h5m2 0h2m1 0h3m2 0h3m1 0h4m2 0h1m3 0h1M0 10.5h1m1 0h1m1 0h6m1 0h1m3 0h1m1 0h5m1 0h3m1 0h4m1 0h3m3 0h1m1 0h3m1 0h5m1 0h4m2 0h1m1 0h7m2 0h4m1 0h1m1 0h5m6 0h2m3 0h4m6 0h4m1 0h2m1 0h1m1 0h4m1 0h4m1 0h4m1 0h3m1 0h1m1 0h1m1 0h2m6 0h2m2 0h5m2 0h1m1 0h1m2 0h2m3 0h2m4 0h1m1 0h2m2 0h7m2 0h8m1 0h1m1 0h2m1 0h7m1 0h2m1 0h2m3 0h5m1 0h2M0 11.5h15m1 0h47m3 0h7m1 0h1m1 0h11m1 0h1m1 0h18m1 0h4m1 0h3m1 0h3m1 0h4m1 0h1m1 0h1m1 0h2m3 0h3m1 0h1m1 0h1m1 0h1m3 0h14m1 0h6m1 0h7m2 0h1m2 0h2m1 0h6m1 0h6m1 0h4m3 0h1m2 0h1m1 0h5m1 0h5M0 12.5h1m2 0h1m1 0h1m3 0h7m2 0h1m1 0h2m1 0h2m1 0h4m1 0h2m3 0h1m3 0h9m1 0h6m2 0h4m3 0h4m1 0h3m2 0h1m2 0h2m6 0h2m2 0h5m4 0h2m1 0h4m2 0h1m2 0h2m2 0h1m1 0h1m1 0h3m1 0h6m1 0h1m1 0h3m1 0h1m1 0h1m1 0h1m1 0h7m1 0h1m1 0h6m1 0h9m1 0h1m1 0h3m1 0h1m1 0h1m6 0h1m1 0h3m2 0h2m2 0h1m2 0h1m1 0h1m2 0h1m1 0h2m4 0h1m5 0h1m3 0h1M0 13.5h1m2 0h1m1 0h5m4 0h6m1 0h2m1 0h1m3 0h3m1 0h3m2 0h2m1 0h4m1 0h1m1 0h6m1 0h1m1 0h1m1 0h1m2 0h1m1 0h1m2 0h5m1 0h1m1 0h2m1 0h8m2 0h3m1 0h11m1 0h2m1 0h2m2 0h1m2 0h2m4 0h3m1 0h2m2 0h1m1 0h3m1 0h2m2 0h1m1 0h1m2 0h1m1 0h6m2 0h3m3 0h4m4 0h1m3 0h2m4 0h4m2 0h4m1 0h2m3 0h2m1 0h1m1 0h2m3 0h5m1 0h1m1 0h1m2 0h2m2 0h5M0 14.5h2m1 0h4m3 0h3m1 0h1m1 0h1m2 0h1m2 0h2m1 0h1m1 0h7m1 0h2m1 0h1m1 0h2m1 0h2m1 0h1m1 0h5m1 0h2m1 0h1m3 0h2m1 0h1m1 0h3m1 0h3m1 0h2m1 0h2m3 0h2m2 0h3m1 0h11m2 0h1m1 0h1m1 0h1m1 0h1m1 0h1m1 0h1m3 0h1m1 0h2m2 0h2m2 0h3m1 0h2m3 0h3m1 0h5m1 0h2m1 0h12m3 0h4m1 0h1m1 0h1m1 0h2m3 0h2m3 0h1m1 0h1m1 0h2m2 0h1m1 0h2m1 0h3m2 0h2m2 0h1m1 0h2m1 0h1m3 0h8M1 15.5h4m1 0h1m1 0h3m1 0h5m1 0h8m1 0h4m1 0h2m2 0h3m1 0h2m3 0h2m1 0h4m2 0h1m1 0h1m1 0h2m3 0h3m1 0h1m1 0h2m1 0h1m2 0h10m1 0h7m2 0h1m2 0h4m3 0h5m1 0h1m2 0h1m1 0h3m2 0h8m1 0h1m2 0h7m2 0h2m2 0h4m1 0h9m1 0h2m3 0h2m3 0h2m1 0h2m1 0h1m1 0h7m2 0h1m1 0h2m2 0h4m1 0h3m1 0h1m1 0h8m3 0h6M0 16.5h1m1 0h1m1 0h1m1 0h2m2 0h3m1 0h6m1 0h1m2 0h4m2 0h2m1 0h1m1 0h4m1 0h1m2 0h2m1 0h1m1 0h6m1 0h1m2 0h2m3 0h1m4 0h6m1 0h2m2 0h2m1 0h3m3 0h1m2 0h2m2 0h10m3 0h1m1 0h5m1 0h3m1 0h9m6 0h4m1 0h1m1 0h1m1 0h1m3 0h5m1 0h2m2 0h1m2 0h2m1 0h1m1 0h5m1 0h1m2 0h4m1 0h1m2 0h2m2 0h3m1 0h12m1 0h2m1 0h3m1 0h1m1 0h3m2 0h3M0 17.5h4m1 0h2m2 0h3m1 0h2m1 0h8m6 0h9m2 0h2m1 0h6m1 0h1m2 0h9m1 0h11m1 0h4m1 0h10m1 0h4m1 0h2m1 0h12m4 0h1m1 0h8m1 0h8m1 0h2m1 0h2m1 0h1m2 0h1m1 0h5m1 0h2m3 0h2m1 0h1m3 0h1m1 0h1m1 0h1m1 0h6m1 0h5m1 0h5m4 0h1m1 0h2m2 0h1m1 0h3m1 0h1m3 0h4m1 0h1m1 0h3m1 0h2M0 18.5h15m1 0h3m1 0h2m1 0h15m1 0h23m1 0h12m1 0h8m2 0h6m1 0h11m1 0h6m1 0h2m1 0h1m1 0h3m1 0h5m1 0h1m1 0h4m1 0h5m2 0h4m1 0h11m2 0h2m1 0h5m1 0h3m1 0h7m1 0h1m1 0h13m1 0h3m1 0h4m1 0h12m1 0h4M0 19.5h59m1 0h35m1 0h16m1 0h8m1 0h1m1 0h97M0 20.5h54m1 0h6m1 0h21m1 0h33m1 0h4m1 0h8m2 0h2m1 0h2m1 0h10m1 0h20m1 0h3m1 0h6m1 0h13m1 0h4m1 0h7m1 0h1m1 0h2m1 0h1m3 0h3M0 21.5h9m1 0h27m1 0h2m1 0h15m1 0h10m1 0h18m1 0h14m1 0h7m1 0h1m1 0h11m1 0h2m1 0h4m1 0h13m1 0h8m1 0h17m1 0h13m1 0h12m1 0h9m1 0h11M0 22.5h2m2 0h6m1 0h8m2 0h3m1 0h3m1 0h11m1 0h2m1 0h1m2 0h8m1 0h1m1 0h5m1 0h7m1 0h10m1 0h5m2 0h3m1 0h1m1 0h1m1 0h1m1 0h7m1 0h6m1 0h13m2 0h3m1 0h6m1 0h19m1 0h4m1 0h3m1 0h27m1 0h6m1 0h7m1 0h5m1 0h1M0 23.5h222M0 24.5h8m1 0h5m1 0h1m1 0h8m1 0h4m1 0h7m1 0h11m1 0h2m1 0h9m1 0h8m1 0h1m1 0h10m1 0h10m3 0h21m1 0h7m2 0h2m2 0h4m1 0h3m1 0h5m1 0h3m1 0h7m1 0h2m1 0h5m1 0h13m1 0h5m1 0h4m1 0h11m1 0h3m1 0h1m3 0h2m1 0h2M0 25.5h16m1 0h3m1 0h6m1 0h7m1 0h13m1 0h3m1 0h5m1 0h6m1 0h3m2 0h15m1 0h5m1 0h9m1 0h4m1 0h4m2 0h2m1 0h4m3 0h2m1 0h3m1 0h3m1 0h4m1 0h1m1 0h4m1 0h2m1 0h3m1 0h6m1 0h4m1 0h9m2 0h5m1 0h10m1 0h3m1 0h10m3 0h5m1 0h4M0 26.5h222M0 27.5h2m1 0h7m1 0h5m1 0h14m1 0h2m1 0h4m1 0h15m1 0h1m1 0h10m1 0h19m1 0h14m1 0h5m1 0h1m1 0h6m2 0h1m3 0h4m1 0h4m1 0h22m2 0h4m1 0h14m1 0h38m1 0h1m1 0h3M0 28.5h17m1 0h1m2 0h8m1 0h1m1 0h2m1 0h1m1 0h32m1 0h2m1 0h27m1 0h14m1 0h11m1 0h13m1 0h33m1 0h34m1 0h4m1 0h6M0 29.5h3m1 0h2m1 0h1m8 0h1m2 0h1m4 0h2m4 0h1m1 0h4m3 0h1m3 0h1m2 0h2m2 0h2m7 0h2m2 0h1m7 0h1m2 0h1m7 0h2m1 0h3m5 0h1m2 0h1m11 0h2m3 0h1m1 0h1m4 0h2m7 0h6m3 0h1m5 0h1m5 0h2m3 0h2m3 0h1m2 0h1m7 0h1m1 0h1m2 0h2m2 0h2m11 0h3m4 0h1m3 0h1m2 0h1m5 0h1M125.7 32.5h1.04M211.11 33.5h1.04M32.27 34.5h1.04M151.07 34.5h1.04M191.35 36.5h1.04M193.9 36.5h1.04M69.62 38.5h1.04M84.53 38.5h1.04M87.46 38.5h1.04M201.29 39.5h1.04M216.07 44.5h2.08M45.14 46.5h1.04M43.23 49.5h1.04"/>
<path stroke="#928ec2" d="M38 0.5h1m4 0h1m10 0h2m1 0h1m3 0h1m1 0h1m8 0h3m1 0h1m4 0h1m2 0h1m3 0h46m1 0h9m1 0h7m1 0h56m1 0h2m9 0h1M0 1.5h1m4 0h2m2 0h1m6 0h1m1 0h1m6 0h1m6 0h1m1 0h1m6 0h1m1 0h3m4 0h1m2 0h1m14 0h1m8 0h4m1 0h2m1 0h1m2 0h1m5 0h2m1 0h1m1 0h1m1 0h3m1 0h1m1 0h2m2 0h5m8 0h2m2 0h1m5 0h1m1 0h1m2 0h1m2 0h1m1 0h1m7 0h1m1 0h1m2 0h3m1 0h1m1 0h3m3 0h1m4 0h1m2 0h3m4 0h1m2 0h2m1 0h1m1 0h1m2 0h5m2 0h1m2 0h1m3 0h1m4 0h1m1 0h1M5 2.5h1m2 0h1m2 0h1m4 0h1m2 0h2m1 0h1m4 0h1m1 0h2m2 0h1m1 0h1m2 0h1m8 0h3m12 0h1m3 0h1m1 0h3m1 0h1m1 0h1m1 0h1m1 0h1m5 0h1m1 0h1m18 0h1m1 0h1m1 0h2m1 0h1m1 0h2m3 0h1m6 0h2m2 0h4m1 0h2m2 0h1m3 0h2m1 0h2m6 0h2m7 0h1m1 0h1m1 0h1m1 0h1m4 0h1m1 0h2m2 0h1m9 0h2m3 0h2m2 0h1m9 0h1m1 0h2m3 0h2m1 0h1M0 3.5h2m1 0h1m1 0h9m3 0h3m1 0h4m2 0h4m1 0h1m1 0h5m1 0h7m1 0h1m2 0h1m2 0h1m2 0h1m1 0h7m1 0h1m2 0h1m1 0h1m1 0h4m2 0h1m2 0h1m1 0h1m2 0h1m1 0h1m1 0h1m3 0h1m3 0h1m1 0h2m1 0h1m1 0h4m2 0h1m4 0h2m2 0h1m3 0h1m1 0h3m3 0h1m2 0h1m2 0h2m2 0h1m1 0h2m5 0h1m3 0h1m1 0h1m1 0h1m2 0h2m2 0h1m2 0h1m2 0h1m1 0h1m2 0h1m2 0h4m5 0h1m2 0h2m6 0h1m2 0h1m1 0h1m5 0h1m1 0h1m1 0h1m2 0h1M0 4.5h2m1 0h1m1 0h1m1 0h1m2 0h1m7 0h1m1 0h4m3 0h1m6 0h2m3 0h3m1 0h1m2 0h2m1 0h4m2 0h1m3 0h4m2 0h5m1 0h1m3 0h5m9 0h1m2 0h4m2 0h1m1 0h1m1 0h2m2 0h1m1 0h2m8 0h1m2 0h2m5 0h2m3 0h1m6 0h1m2 0h2m6 0h1m1 0h2m2 0h1m1 0h1m4 0h1m1 0h1m1 0h2m1 0h1m3 0h1m2 0h1m1 0h1m7 0h1m4 0h1m3 0h1m3 0h1m1 0h1m1 0h5m5 0h1m1 0h1m1 0h1m1 0h1M0 5.5h1m3 0h1m1 0h2m6 0h1m1 0h1m2 0h2m3 0h1m1 0h2m20 0h1m14 0h3m3 0h2m12 0h1m1 0h1m4 0h1m1 0h2m1 0h1m2 0h2m1 0h1m5 0h1m5 0h1m4 0h1m2 0h1m2 0h1m2 0h1m7 0h3m2 0h1m3 0h1m1 0h1m2 0h1m2 0h2m1 0h1m4 0h1m1 0h1m3 0h1m2 0h2m2 0h1m9 0h1m5 0h1m1 0h1m2 0h1m2 0h1m1 0h3m3 0h1m1 0h1m2 0h1m4 0h2m4 0h1M0 6.5h3m2 0h1m1 0h3m2 0h1m2 0h1m2 0h1m1 0h2m2 0h2m2 0h4m5 0h2m1 0h1m1 0h4m5 0h2m1 0h4m1 0h1m2 0h1m2 0h1m1 0h1m1 0h6m1 0h3m1 0h1m1 0h3m1 0h7m3 0h3m2 0h1m2 0h2m1 0h1m2 0h3m1 0h2m1 0h1m1 0h1m1 0h1m1 0h3m5 0h3m1 0h3m1 0h3m1 0h3m2 0h2m2 0h1m1 0h2m1 0h8m1 0h7m3 0h1m2 0h2m2 0h2m1 0h1m1 0h6m1 0h2m6 0h1m1 0h1m1 0h2m2 0h2m1 0h5m1 0h1M0 7.5h11m2 0h4m1 0h4m1 0h2m1 0h24m1 0h6m1 0h2m1 0h5m2 0h4m1 0h6m3 0h2m1 0h3m2 0h4m1 0h3m1 0h2m1 0h1m1 0h2m2 0h2m2 0h2m1 0h6m3 0h4m3 0h5m1 0h1m1 0h7m1 0h1m1 0h17m1 0h2m2 0h4m2 0h2m3 0h1m1 0h5m2 0h1m1 0h3m1 0h8m1 0h2m1 0h2m1 0h5m1 0h1m1 0h1M0 8.5h3m1 0h6m1 0h10m1 0h14m3 0h1m1 0h1m2 0h6m1 0h2m2 0h3m1 0h1m1 0h5m3 0h3m1 0h2m1 0h1m1 0h3m1 0h5m1 0h2m1 0h1m3 0h2m2 0h3m1 0h2m1 0h3m1 0h9m1 0h2m1 0h1m6 0h2m3 0h2m1 0h4m3 0h7m3 0h3m1 0h3m2 0h1m2 0h1m3 0h1m1 0h2m2 0h1m2 0h1m4 0h1m2 0h1m3 0h3m2 0h3m2 0h4m1 0h1m1 0h8m1 0h4M0 9.5h1m1 0h5m2 0h6m1 0h1m3 0h1m1 0h1m1 0h2m1 0h1m1 0h2m2 0h3m1 0h2m2 0h1m1 0h1m1 0h4m1 0h1m2 0h4m2 0h2m4 0h1m2 0h4m3 0h2m1 0h3m2 0h1m1 0h12m1 0h1m1 0h1m1 0h2m2 0h5m1 0h2m1 0h4m3 0h3m2 0h1m1 0h2m1 0h1m2 0h4m1 0h5m5 0h1m1 0h1m4 0h1m2 0h1m1 0h6m2 0h12m2 0h1m1 0h2m2 0h1m1 0h5m2 0h2m1 0h3m2 0h3m1 0h3m3 0h1m3 0h1M2 10.5h1m2 0h4m2 0h1m3 0h1m1 0h1m1 0h3m1 0h1m1 0h1m1 0h4m1 0h3m3 0h1m1 0h3m2 0h2m1 0h1m1 0h4m4 0h7m2 0h4m1 0h1m1 0h1m3 0h1m6 0h2m3 0h2m1 0h1m6 0h2m1 0h1m1 0h2m1 0h1m1 0h4m1 0h2m1 0h1m1 0h4m1 0h3m1 0h1m1 0h1m1 0h1m7 0h2m3 0h4m2 0h1m1 0h1m2 0h2m3 0h1m5 0h1m1 0h2m2 0h7m2 0h8m1 0h1m1 0h2m1 0h7m1 0h2m1 0h2m3 0h5m1 0h2M0 11.5h8m1 0h6m1 0h3m1 0h9m1 0h10m1 0h22m3 0h7m1 0h1m1 0h3m1 0h7m1 0h1m1 0h17m2 0h4m1 0h3m1 0h3m1 0h4m1 0h1m1 0h1m1 0h2m3 0h3m1 0h1m1 0h1m1 0h1m3 0h14m1 0h6m1 0h7m2 0h1m2 0h2m1 0h6m1 0h6m1 0h4m3 0h1m2 0h1m1 0h2m1 0h2m2 0h4M0 12.5h1m2 0h1m5 0h7m4 0h1m2 0h2m1 0h3m2 0h1m4 0h1m3 0h6m1 0h2m1 0h2m1 0h3m2 0h4m3 0h4m1 0h3m2 0h1m3 0h1m6 0h2m2 0h5m4 0h2m1 0h1m1 0h2m2 0h1m2 0h2m2 0h1m1 0h1m1 0h3m1 0h3m1 0h2m1 0h1m1 0h3m1 0h1m1 0h1m1 0h1m1 0h1m1 0h5m1 0h1m1 0h6m1 0h9m1 0h1m1 0h3m3 0h1m6 0h1m1 0h3m2 0h2m2 0h1m2 0h1m1 0h1m2 0h1m1 0h2m4 0h1m5 0h1m3 0h1M0 13.5h1m2 0h1m1 0h5m4 0h6m1 0h1m2 0h1m3 0h3m1 0h3m2 0h2m1 0h4m1 0h1m1 0h2m1 0h3m1 0h1m1 0h1m1 0h1m2 0h1m1 0h1m4 0h3m1 0h1m1 0h2m1 0h8m3 0h2m1 0h11m1 0h2m1 0h2m5 0h1m5 0h3m1 0h2m2 0h1m1 0h1m1 0h1m1 0h2m4 0h1m2 0h1m2 0h3m4 0h3m3 0h4m4 0h1m3 0h2m4 0h4m2 0h4m1 0h2m3 0h2m1 0h1m1 0h2m3 0h5m1 0h1m4 0h2m2 0h5M1 14.5h1m1 0h4m3 0h3m1 0h1m1 0h1m2 0h1m2 0h2m1 0h1m1 0h7m1 0h2m1 0h1m1 0h2m1 0h2m1 0h1m1 0h5m1 0h2m1 0h1m4 0h1m1 0h1m1 0h3m1 0h3m1 0h2m1 0h2m3 0h2m2 0h3m1 0h11m2 0h1m1 0h1m1 0h1m1 0h1m1 0h1m1 0h1m3 0h1m2 0h1m2 0h2m3 0h2m1 0h2m3 0h3m1 0h5m1 0h2m1 0h12m3 0h4m1 0h1m3 0h2m3 0h2m3 0h1m1 0h1m1 0h2m2 0h1m1 0h2m1 0h3m2 0h2m2 0h1m1 0h2m1 0h1m3 0h3m2 0h3M2 15.5h3m1 0h1m1 0h3m1 0h5m1 0h8m2 0h1m1 0h1m1 0h2m2 0h3m1 0h2m3 0h2m1 0h4m2 0h1m1 0h1m2 0h1m3 0h3m3 0h2m1 0h1m2 0h2m1 0h7m1 0h7m6 0h3m3 0h1m1 0h1m1 0h1m1 0h1m2 0h1m2 0h2m2 0h1m1 0h2m1 0h3m1 0h1m2 0h3m1 0h1m1 0h1m2 0h2m2 0h4m2 0h8m1 0h2m4 0h1m3 0h2m6 0h1m2 0h4m2 0h1m1 0h2m2 0h1m1 0h2m1 0h1m1 0h1m1 0h1m1 0h4m1 0h3m3 0h6M0 16.5h1m1 0h1m1 0h1m1 0h2m2 0h3m2 0h2m1 0h2m1 0h1m3 0h1m1 0h1m3 0h1m1 0h1m1 0h3m2 0h1m3 0h1m1 0h1m1 0h6m1 0h1m2 0h2m8 0h2m1 0h3m1 0h2m2 0h2m1 0h3m3 0h1m3 0h1m2 0h10m3 0h1m1 0h5m2 0h2m1 0h5m2 0h2m6 0h1m1 0h2m1 0h1m1 0h1m6 0h1m2 0h1m1 0h2m2 0h1m2 0h2m1 0h1m1 0h1m1 0h1m3 0h1m2 0h4m1 0h1m2 0h2m2 0h1m1 0h1m1 0h1m1 0h9m2 0h2m1 0h3m1 0h1m1 0h1m1 0h1m2 0h1M0 17.5h4m1 0h2m2 0h3m1 0h2m1 0h8m7 0h8m2 0h2m1 0h6m1 0h1m2 0h9m1 0h11m1 0h4m1 0h8m1 0h1m1 0h3m2 0h2m1 0h12m4 0h1m1 0h8m1 0h2m1 0h5m1 0h1m2 0h1m2 0h1m2 0h1m1 0h2m1 0h2m1 0h2m4 0h1m1 0h1m3 0h1m1 0h1m1 0h1m1 0h6m1 0h5m1 0h5m4 0h1m1 0h2m2 0h1m1 0h3m1 0h1m3 0h1m1 0h2m1 0h1m1 0h3m1 0h1M0 18.5h15m1 0h3m1 0h2m1 0h2m1 0h12m1 0h23m1 0h12m1 0h8m2 0h6m1 0h11m1 0h6m1 0h2m1 0h1m1 0h3m1 0h5m1 0h1m1 0h4m1 0h5m2 0h4m1 0h3m1 0h7m2 0h2m1 0h5m1 0h3m1 0h7m1 0h1m1 0h13m1 0h3m1 0h4m1 0h12m1 0h4M1 19.5h58m1 0h35m1 0h16m1 0h8m1 0h1m1 0h97M0 20.5h32m1 0h21m1 0h3m1 0h2m1 0h10m1 0h10m1 0h6m1 0h25m2 0h4m1 0h8m2 0h2m1 0h2m2 0h9m1 0h11m1 0h6m1 0h1m1 0h3m1 0h2m1 0h3m1 0h1m1 0h4m1 0h5m2 0h4m1 0h7m1 0h1m1 0h2m1 0h1m4 0h2M0 21.5h9m1 0h27m1 0h2m1 0h2m1 0h12m1 0h10m1 0h18m1 0h14m1 0h7m1 0h1m1 0h6m1 0h4m1 0h2m2 0h3m1 0h13m1 0h8m1 0h1m1 0h1m1 0h13m1 0h13m1 0h12m1 0h9m1 0h11M0 22.5h2m2 0h6m1 0h7m3 0h3m1 0h3m1 0h6m1 0h4m1 0h2m1 0h1m3 0h1m1 0h5m1 0h1m1 0h5m1 0h7m1 0h3m1 0h4m1 0h1m1 0h1m1 0h3m2 0h3m1 0h1m1 0h1m1 0h1m1 0h7m1 0h6m1 0h7m1 0h2m1 0h2m2 0h3m1 0h6m1 0h9m1 0h9m1 0h2m1 0h1m1 0h3m1 0h21m1 0h5m1 0h6m1 0h1m1 0h5m1 0h5m1 0h1M0 23.5h222M0 24.5h8m1 0h5m1 0h1m1 0h8m1 0h4m1 0h7m1 0h11m1 0h2m1 0h9m1 0h8m1 0h1m1 0h10m1 0h4m1 0h5m3 0h1m1 0h6m1 0h1m1 0h10m1 0h7m2 0h2m2 0h4m1 0h3m1 0h5m1 0h3m1 0h7m1 0h2m1 0h2m1 0h2m1 0h13m1 0h5m1 0h4m1 0h11m1 0h3m1 0h1m3 0h2m1 0h2M0 25.5h1m1 0h6m1 0h7m1 0h3m1 0h6m1 0h2m1 0h4m1 0h6m1 0h6m1 0h1m1 0h1m1 0h5m1 0h5m3 0h1m4 0h1m1 0h12m1 0h5m1 0h6m1 0h2m1 0h4m1 0h4m2 0h2m1 0h4m3 0h2m2 0h2m1 0h3m1 0h4m4 0h3m1 0h2m1 0h3m1 0h6m1 0h4m1 0h9m2 0h1m1 0h3m1 0h8m1 0h1m1 0h3m1 0h10m3 0h3m1 0h1m1 0h3M0 26.5h222M0 27.5h1m2 0h1m1 0h5m1 0h5m1 0h14m1 0h2m2 0h3m1 0h9m1 0h5m1 0h1m1 0h10m1 0h19m1 0h10m1 0h3m1 0h5m1 0h1m1 0h6m2 0h1m3 0h4m1 0h4m1 0h8m1 0h13m2 0h4m1 0h9m1 0h4m1 0h38m1 0h1m1 0h3M1 28.5h2m1 0h13m4 0h3m1 0h4m1 0h1m1 0h2m1 0h1m1 0h30m1 0h1m1 0h2m1 0h27m1 0h14m1 0h11m1 0h13m1 0h31m1 0h1m1 0h34m1 0h4m1 0h6M0 29.5h3m1 0h2m1 0h1m8 0h1m2 0h1m4 0h2m4 0h1m1 0h4m3 0h1m3 0h1m2 0h1m3 0h2m7 0h2m2 0h1m7 0h1m2 0h1m7 0h2m1 0h3m5 0h1m14 0h2m3 0h1m1 0h1m4 0h2m7 0h3m1 0h2m3 0h1m5 0h1m5 0h2m3 0h2m3 0h1m2 0h1m7 0h1m1 0h1m2 0h2m2 0h2m11 0h3m4 0h1m6 0h1m5 0h1M3.21 31.5h1.04M201.55 36.5h1.04"/>
<path stroke="#807dba" d="M38 0.5h1m4 0h1m11 0h1m1 0h1m3 0h1m1 0h1m8 0h3m1 0h1m4 0h1m2 0h1m3 0h1m1 0h20m1 0h23m1 0h4m1 0h4m1 0h2m1 0h1m1 0h2m1 0h1m1 0h17m1 0h7m2 0h12m1 0h3m1 0h10m1 0h2M0 1.5h1m5 0h1m2 0h1m6 0h1m1 0h1m6 0h1m8 0h1m6 0h1m1 0h1m6 0h1m2 0h1m14 0h1m8 0h4m2 0h1m1 0h1m9 0h1m1 0h1m1 0h1m2 0h1m2 0h1m2 0h1m2 0h5m8 0h2m2 0h1m5 0h1m1 0h1m2 0h1m2 0h1m1 0h1m7 0h1m1 0h1m2 0h3m1 0h1m1 0h1m1 0h1m8 0h1m2 0h3m4 0h1m2 0h2m1 0h1m1 0h1m3 0h4m2 0h1m2 0h1m3 0h1m4 0h1m1 0h1M5 2.5h1m2 0h1m2 0h1m7 0h2m1 0h1m4 0h1m1 0h2m4 0h1m13 0h1m12 0h1m3 0h1m1 0h1m1 0h1m3 0h1m1 0h1m1 0h1m5 0h1m20 0h1m1 0h1m1 0h2m3 0h2m11 0h1m3 0h3m2 0h1m2 0h1m3 0h2m1 0h2m6 0h2m7 0h1m1 0h1m1 0h1m1 0h1m4 0h1m1 0h2m12 0h2m4 0h1m2 0h1m9 0h1m1 0h2m4 0h1M0 3.5h2m1 0h1m1 0h4m2 0h3m3 0h1m1 0h1m1 0h4m2 0h4m1 0h1m1 0h5m1 0h7m1 0h1m2 0h1m2 0h1m2 0h1m1 0h5m1 0h1m1 0h1m2 0h1m1 0h1m1 0h4m2 0h1m2 0h1m1 0h1m2 0h1m1 0h1m1 0h1m3 0h1m3 0h1m2 0h1m1 0h1m1 0h4m2 0h1m4 0h2m2 0h1m3 0h1m1 0h3m3 0h1m5 0h2m2 0h1m8 0h1m3 0h1m1 0h1m1 0h1m2 0h1m3 0h1m2 0h1m2 0h1m1 0h1m2 0h1m2 0h4m5 0h1m2 0h2m9 0h1m1 0h1m5 0h1m1 0h1m1 0h1m2 0h1M0 4.5h2m1 0h1m1 0h1m1 0h1m2 0h1m7 0h1m1 0h3m4 0h1m11 0h1m1 0h1m4 0h1m5 0h1m2 0h1m3 0h4m2 0h5m1 0h1m3 0h3m1 0h1m12 0h1m1 0h2m2 0h1m1 0h1m1 0h2m2 0h1m1 0h2m8 0h1m2 0h2m5 0h2m3 0h1m6 0h1m2 0h2m6 0h1m1 0h2m2 0h1m1 0h1m4 0h1m3 0h1m2 0h1m3 0h1m2 0h1m9 0h1m4 0h1m3 0h1m3 0h1m1 0h1m1 0h5m7 0h1m1 0h1m1 0h1M0 5.5h1m3 0h1m1 0h1m9 0h1m3 0h1m3 0h1m1 0h2m20 0h1m14 0h2m4 0h2m12 0h1m1 0h1m4 0h1m1 0h2m4 0h1m2 0h1m5 0h1m10 0h1m2 0h1m2 0h1m2 0h1m7 0h1m1 0h1m2 0h1m3 0h1m1 0h1m2 0h1m2 0h1m9 0h1m3 0h1m2 0h2m2 0h1m9 0h1m5 0h1m1 0h1m2 0h1m2 0h1m1 0h3m3 0h1m1 0h1m2 0h1m5 0h1m4 0h1M0 6.5h3m2 0h1m1 0h3m2 0h1m2 0h1m2 0h1m1 0h2m3 0h1m2 0h4m5 0h2m1 0h1m1 0h4m5 0h2m1 0h4m4 0h1m2 0h1m1 0h1m1 0h3m1 0h2m1 0h3m1 0h1m1 0h1m1 0h1m2 0h2m1 0h3m3 0h3m2 0h1m2 0h2m1 0h1m2 0h3m2 0h1m1 0h1m1 0h1m1 0h1m2 0h2m5 0h3m1 0h2m2 0h3m1 0h3m2 0h2m4 0h1m2 0h4m1 0h3m2 0h6m3 0h1m2 0h2m2 0h2m3 0h6m1 0h2m6 0h1m1 0h1m1 0h2m2 0h2m1 0h4m2 0h1M1 7.5h4m1 0h1m1 0h3m2 0h3m2 0h4m1 0h2m1 0h3m1 0h5m1 0h2m1 0h11m1 0h1m1 0h2m1 0h1m1 0h2m1 0h4m3 0h4m1 0h4m1 0h1m3 0h2m2 0h2m2 0h4m1 0h1m1 0h1m1 0h2m1 0h1m1 0h2m2 0h2m2 0h2m1 0h4m1 0h1m3 0h4m3 0h5m1 0h1m1 0h7m3 0h9m1 0h2m1 0h4m1 0h2m2 0h4m2 0h1m4 0h1m1 0h4m3 0h1m2 0h2m1 0h5m1 0h2m1 0h2m1 0h2m3 0h3m3 0h1M1 8.5h2m1 0h6m2 0h8m2 0h14m3 0h1m1 0h1m2 0h2m1 0h3m1 0h2m2 0h3m1 0h1m1 0h5m3 0h3m1 0h2m1 0h1m1 0h3m1 0h3m1 0h1m1 0h1m2 0h1m7 0h3m1 0h1m2 0h3m1 0h4m1 0h4m2 0h1m1 0h1m7 0h1m4 0h1m1 0h4m3 0h2m1 0h4m4 0h2m1 0h3m2 0h1m2 0h1m3 0h1m1 0h2m2 0h1m2 0h1m4 0h1m2 0h1m3 0h1m1 0h1m2 0h3m2 0h4m1 0h1m1 0h1m1 0h6m3 0h2M0 9.5h1m1 0h1m3 0h1m3 0h4m2 0h1m3 0h1m1 0h1m2 0h1m1 0h1m1 0h2m2 0h1m1 0h1m1 0h2m6 0h2m1 0h1m1 0h1m2 0h3m3 0h2m7 0h4m3 0h2m2 0h2m2 0h1m1 0h12m1 0h1m1 0h1m2 0h1m2 0h5m1 0h2m1 0h1m1 0h2m3 0h3m2 0h1m1 0h2m1 0h1m2 0h4m1 0h4m6 0h1m1 0h1m4 0h1m2 0h1m1 0h2m1 0h1m1 0h1m3 0h11m2 0h1m1 0h2m2 0h1m1 0h5m2 0h2m1 0h2m3 0h3m1 0h3m3 0h1m3 0h1M2 10.5h1m2 0h4m2 0h1m5 0h1m1 0h3m1 0h1m1 0h1m1 0h2m1 0h1m1 0h3m3 0h1m1 0h3m2 0h1m2 0h1m1 0h4m4 0h1m1 0h4m3 0h4m1 0h1m5 0h1m6 0h2m4 0h1m8 0h2m1 0h1m2 0h1m1 0h1m1 0h4m1 0h2m1 0h1m2 0h3m1 0h1m1 0h1m3 0h1m9 0h2m3 0h4m4 0h1m2 0h2m3 0h1m5 0h1m2 0h1m2 0h1m2 0h4m2 0h4m1 0h3m1 0h1m1 0h2m1 0h2m2 0h3m1 0h1m2 0h2m3 0h5m1 0h2M0 11.5h1m1 0h6m1 0h6m1 0h3m1 0h3m2 0h4m1 0h7m1 0h2m1 0h1m1 0h20m5 0h5m1 0h1m2 0h2m1 0h6m2 0h1m1 0h17m2 0h4m1 0h2m2 0h1m1 0h1m1 0h4m1 0h1m1 0h1m1 0h2m3 0h3m1 0h1m3 0h1m3 0h6m1 0h7m2 0h1m1 0h3m1 0h7m2 0h1m2 0h2m1 0h2m1 0h3m1 0h3m2 0h1m1 0h4m3 0h1m2 0h1m1 0h2m1 0h1m3 0h4M0 12.5h1m2 0h1m6 0h4m1 0h1m4 0h1m3 0h1m2 0h2m2 0h1m4 0h1m3 0h4m1 0h1m1 0h2m1 0h2m1 0h3m2 0h1m1 0h2m3 0h4m1 0h3m6 0h1m6 0h1m3 0h1m1 0h3m4 0h2m1 0h1m1 0h2m2 0h1m2 0h2m2 0h1m1 0h1m1 0h1m1 0h1m1 0h3m2 0h1m1 0h1m1 0h3m1 0h1m1 0h1m1 0h1m3 0h1m1 0h1m1 0h1m1 0h1m1 0h6m1 0h2m1 0h2m1 0h1m1 0h1m1 0h1m1 0h2m4 0h1m6 0h1m1 0h2m3 0h2m2 0h1m2 0h1m1 0h1m2 0h1m1 0h1m15 0h1M0 13.5h1m2 0h1m1 0h5m4 0h3m1 0h2m1 0h1m2 0h1m3 0h3m1 0h2m3 0h2m1 0h4m1 0h1m1 0h2m1 0h3m1 0h1m1 0h1m1 0h1m2 0h1m1 0h1m4 0h3m1 0h1m1 0h2m1 0h4m1 0h3m3 0h2m1 0h8m1 0h2m1 0h2m1 0h1m6 0h1m6 0h2m1 0h2m2 0h1m1 0h1m1 0h1m2 0h1m4 0h1m2 0h1m3 0h2m4 0h3m3 0h4m4 0h1m3 0h2m5 0h3m2 0h1m1 0h2m1 0h2m4 0h1m1 0h1m1 0h2m3 0h1m1 0h3m1 0h1m4 0h2m2 0h2m1 0h1M1 14.5h1m3 0h2m3 0h3m1 0h1m1 0h1m2 0h1m2 0h2m3 0h7m1 0h1m2 0h1m1 0h2m1 0h2m1 0h1m1 0h5m1 0h2m6 0h1m3 0h2m2 0h1m1 0h1m1 0h2m1 0h1m4 0h2m2 0h3m2 0h10m2 0h1m1 0h1m3 0h1m1 0h1m1 0h1m3 0h1m2 0h1m2 0h2m3 0h2m1 0h2m3 0h3m1 0h5m1 0h2m1 0h6m1 0h5m3 0h4m5 0h2m3 0h1m6 0h1m1 0h2m2 0h1m2 0h1m1 0h3m2 0h2m2 0h1m2 0h1m1 0h1m3 0h3m2 0h3M2 15.5h3m1 0h1m2 0h2m2 0h4m3 0h2m1 0h3m4 0h1m1 0h1m3 0h3m1 0h2m3 0h2m1 0h2m1 0h1m4 0h1m2 0h1m3 0h1m5 0h2m4 0h2m2 0h6m1 0h4m1 0h2m6 0h3m3 0h1m1 0h1m1 0h1m1 0h1m9 0h1m5 0h2m4 0h1m1 0h1m3 0h1m2 0h2m2 0h1m2 0h1m2 0h6m1 0h1m1 0h2m4 0h1m3 0h1m7 0h1m2 0h4m2 0h1m1 0h2m2 0h1m1 0h1m2 0h1m1 0h1m1 0h1m1 0h4m1 0h3m3 0h1m2 0h1m1 0h1M0 16.5h1m1 0h1m1 0h1m1 0h2m2 0h1m1 0h1m2 0h1m2 0h2m1 0h1m3 0h1m1 0h1m3 0h1m1 0h1m1 0h2m7 0h1m1 0h1m2 0h2m2 0h1m1 0h1m3 0h1m8 0h2m2 0h2m1 0h2m5 0h1m5 0h1m3 0h1m2 0h2m1 0h2m1 0h1m1 0h2m3 0h1m2 0h2m4 0h1m2 0h5m2 0h2m8 0h1m2 0h1m1 0h1m6 0h1m2 0h1m1 0h2m5 0h2m1 0h1m1 0h1m1 0h1m3 0h1m2 0h2m1 0h1m1 0h1m2 0h2m2 0h1m1 0h1m1 0h1m5 0h2m1 0h1m4 0h1m1 0h2m2 0h1m1 0h1m1 0h1m2 0h1M0 17.5h3m2 0h2m2 0h3m1 0h2m1 0h2m1 0h5m7 0h8m2 0h2m1 0h5m2 0h1m2 0h3m2 0h3m2 0h2m1 0h8m1 0h4m1 0h3m1 0h3m4 0h3m2 0h2m1 0h2m1 0h9m4 0h1m2 0h7m1 0h2m1 0h5m1 0h1m2 0h1m2 0h1m2 0h1m1 0h2m4 0h2m6 0h1m3 0h1m1 0h1m1 0h1m1 0h6m1 0h5m1 0h4m5 0h1m1 0h2m2 0h1m1 0h3m1 0h1m3 0h1m1 0h2m1 0h1m1 0h3m1 0h1M0 18.5h3m1 0h11m1 0h3m1 0h2m4 0h3m1 0h2m1 0h5m1 0h20m1 0h2m1 0h3m1 0h8m1 0h8m2 0h6m1 0h11m1 0h3m1 0h2m1 0h2m1 0h1m1 0h3m1 0h5m1 0h1m1 0h4m1 0h3m4 0h1m4 0h3m1 0h7m2 0h2m1 0h5m2 0h2m1 0h7m1 0h1m1 0h5m1 0h1m1 0h5m2 0h2m1 0h4m1 0h12m1 0h4M1 19.5h42m1 0h6m1 0h2m1 0h5m1 0h4m1 0h30m1 0h6m1 0h9m1 0h8m1 0h1m1 0h11m1 0h74m1 0h10M0 20.5h2m1 0h12m1 0h4m1 0h2m1 0h8m1 0h1m1 0h8m2 0h9m1 0h2m2 0h2m1 0h10m1 0h10m1 0h5m2 0h13m1 0h6m2 0h3m2 0h2m1 0h1m1 0h5m1 0h2m5 0h2m4 0h2m1 0h4m1 0h11m1 0h5m2 0h1m2 0h2m1 0h2m1 0h3m1 0h1m2 0h3m1 0h3m4 0h1m1 0h2m2 0h6m3 0h2m1 0h1m5 0h1M0 21.5h4m1 0h4m1 0h27m1 0h2m1 0h2m1 0h12m1 0h10m1 0h15m1 0h2m2 0h2m1 0h5m1 0h4m2 0h6m1 0h1m1 0h6m1 0h4m1 0h2m2 0h3m1 0h4m1 0h6m1 0h1m1 0h2m1 0h5m1 0h1m1 0h1m1 0h9m1 0h3m1 0h3m1 0h2m2 0h5m1 0h5m1 0h6m1 0h4m1 0h1m1 0h2m1 0h11M0 22.5h2m2 0h3m1 0h2m2 0h1m2 0h3m3 0h2m2 0h2m2 0h6m1 0h4m1 0h2m1 0h1m3 0h1m1 0h1m1 0h3m3 0h2m1 0h2m1 0h3m1 0h3m1 0h3m1 0h4m1 0h1m1 0h1m1 0h3m2 0h3m1 0h1m1 0h1m1 0h1m1 0h7m2 0h1m1 0h2m4 0h2m1 0h2m1 0h2m1 0h2m2 0h3m1 0h1m1 0h4m1 0h1m1 0h7m1 0h5m2 0h2m1 0h2m1 0h1m1 0h1m1 0h1m2 0h8m1 0h7m1 0h3m1 0h1m1 0h3m1 0h6m1 0h1m1 0h2m1 0h2m1 0h3m1 0h1m1 0h1M0 23.5h222M2 24.5h6m1 0h3m1 0h1m1 0h1m1 0h7m2 0h1m1 0h2m1 0h7m1 0h11m1 0h2m1 0h9m1 0h3m1 0h4m1 0h1m1 0h9m3 0h3m1 0h5m3 0h1m1 0h3m1 0h2m1 0h1m1 0h7m1 0h2m1 0h4m1 0h2m2 0h1m3 0h1m1 0h2m1 0h1m1 0h1m1 0h5m1 0h3m2 0h6m1 0h2m1 0h2m1 0h2m1 0h13m1 0h5m1 0h4m1 0h2m1 0h8m1 0h3m1 0h1m3 0h2m1 0h2M0 25.5h1m2 0h5m1 0h1m1 0h2m1 0h1m2 0h3m1 0h6m1 0h2m1 0h4m1 0h6m1 0h4m1 0h1m1 0h1m3 0h5m1 0h5m3 0h1m4 0h1m1 0h7m1 0h4m1 0h5m1 0h6m1 0h2m1 0h4m1 0h1m2 0h1m2 0h2m1 0h4m3 0h2m2 0h1m2 0h3m1 0h4m4 0h1m1 0h1m2 0h1m1 0h3m1 0h2m2 0h2m1 0h2m1 0h1m1 0h4m1 0h4m2 0h1m1 0h3m1 0h5m1 0h2m1 0h1m1 0h2m2 0h10m3 0h3m1 0h1m1 0h2M0 26.5h125m1 0h96M0 27.5h1m2 0h1m1 0h5m1 0h5m1 0h5m1 0h8m2 0h1m2 0h3m1 0h9m1 0h3m1 0h1m1 0h1m1 0h10m1 0h4m1 0h14m1 0h6m1 0h3m1 0h3m1 0h5m1 0h1m1 0h2m1 0h3m2 0h1m3 0h2m1 0h1m1 0h4m1 0h8m1 0h7m1 0h5m2 0h4m1 0h9m1 0h3m3 0h13m1 0h6m1 0h7m1 0h8m1 0h1m2 0h2M1 28.5h2m1 0h12m5 0h3m1 0h4m1 0h1m1 0h1m5 0h17m1 0h11m1 0h1m1 0h2m1 0h27m1 0h14m1 0h11m1 0h13m1 0h28m1 0h2m1 0h1m1 0h8m1 0h25m1 0h4m1 0h4m1 0h1M0 29.5h3m1 0h2m1 0h1m8 0h1m2 0h1m4 0h2m4 0h1m1 0h4m7 0h1m2 0h1m3 0h2m7 0h2m2 0h1m7 0h1m2 0h1m7 0h2m1 0h3m5 0h1m14 0h2m5 0h1m4 0h2m7 0h3m1 0h2m3 0h1m5 0h1m5 0h2m3 0h1m4 0h1m2 0h1m7 0h1m1 0h1m3 0h1m2 0h2m11 0h3m4 0h1m6 0h1m5 0h1M2.19 31.5h1.04M18.63 31.5h1.04M29.34 31.5h1.04M32.27 31.5h1.04M35.2 31.5h1.04M39.15 31.5h1.04M49.99 31.5h1.04M144.3 31.5h2.08M178.6 31.5h1.04M217.34 31.5h2.08M220.03 31.5h1.04M205.12 33.5h1.04M15.57 34.5h1.04M22.58 34.5h1.04M26.91 34.5h2.08M46.15 34.5h2.08M214.04 34.5h1.04M68.72 36.5h1.04M135.52 36.5h1.04M160.12 36.5h1.04M182.94 36.5h1.04M183.96 36.5h1.04M189.82 36.5h1.04M200.27 36.5h1.04M202.57 36.5h1.04M73.7 37.5h1.04M125.7 37.5h1.04M189.44 37.5h1.04M197.47 37.5h1.04M214.93 37.5h1.04M74.46 38.5h1.04M219.39 38.5h1.04M97.02 40.5h1.04M191.35 40.5h1.04M208.18 40.5h1.04M214.93 40.5h1.04M82.62 41.5h1.04M18.63 44.5h1.04M60.95 44.5h1.04M122.77 44.5h1.04M181.79 44.5h1.04M202.56 44.5h2.08M213.02 44.5h1.04M94.22 45.5h1.04M105.05 45.5h1.04M164.96 45.5h1.04M166.88 45.5h1.04M171.72 45.5h1.04M175.53 45.5h2.08M185.22 45.5h2.08M194.28 45.5h1.04M197.47 45.5h1.04M214.04 45.5h1.04M216.07 45.5h2.08M33.42 46.5h1.04M1.54 47.5h2.08M22.45 47.5h1.04M29.71 47.5h2.08M39.14 47.5h2.08M45.9 47.5h2.08M50.11 47.5h1.04M61.33 47.5h1.04M74.45 47.5h2.08M77.65 47.5h1.04M85.55 47.5h1.04M94.47 47.5h1.04M119.7 47.5h2.08M129.53 47.5h1.04M131.44 47.5h1.04M135.89 47.5h2.08M152.22 47.5h1.04M154.13 47.5h1.04M157.19 47.5h1.04M175.67 47.5h1.04M179.36 47.5h2.08M208.18 47.5h1.04"/>
<path stroke="#7363ac" d="M55 0.5h1m1 0h1m3 0h1m1 0h1m9 0h2m1 0h1m4 0h1m2 0h1m5 0h14m2 0h4m1 0h4m1 0h5m1 0h7m1 0h4m1 0h2m1 0h1m1 0h4m1 0h1m2 0h1m2 0h1m1 0h1m1 0h3m1 0h3m1 0h5m1 0h3m1 0h7m2 0h1m1 0h10m1 0h2m2 0h6m1 0h3m1 0h1M0 1.5h1m5 0h1m2 0h1m6 0h1m1 0h1m15 0h1m6 0h1m8 0h1m2 0h1m14 0h1m8 0h1m1 0h2m4 0h1m9 0h1m3 0h1m2 0h1m5 0h1m2 0h5m8 0h2m2 0h1m5 0h1m1 0h1m2 0h1m2 0h1m9 0h1m4 0h1m1 0h1m3 0h1m1 0h1m8 0h1m2 0h1m1 0h1m4 0h1m2 0h2m1 0h1m1 0h1m3 0h3m6 0h1m3 0h1m4 0h1m1 0h1M5 2.5h1m2 0h1m2 0h1m7 0h2m1 0h1m4 0h1m1 0h2m4 0h1m30 0h1m1 0h1m1 0h1m3 0h1m1 0h1m1 0h1m30 0h1m4 0h2m15 0h1m1 0h1m2 0h1m6 0h2m1 0h2m6 0h1m10 0h1m3 0h1m6 0h1m14 0h1m4 0h1m2 0h1m9 0h1m2 0h1M0 3.5h2m1 0h1m1 0h2m1 0h1m2 0h3m3 0h1m1 0h1m1 0h4m2 0h3m2 0h1m1 0h5m1 0h7m1 0h1m2 0h1m2 0h1m2 0h1m1 0h5m1 0h1m1 0h1m2 0h1m3 0h1m1 0h2m2 0h1m2 0h1m1 0h1m2 0h1m1 0h1m1 0h1m7 0h1m4 0h1m1 0h4m2 0h1m4 0h2m2 0h1m3 0h1m1 0h2m4 0h1m5 0h2m2 0h1m8 0h1m3 0h1m3 0h1m6 0h1m2 0h1m2 0h1m1 0h1m2 0h1m2 0h2m1 0h1m5 0h1m3 0h1m9 0h1m1 0h1m5 0h1m1 0h1m1 0h1m2 0h1M0 4.5h2m5 0h1m2 0h1m9 0h3m18 0h1m10 0h1m2 0h1m5 0h2m2 0h1m1 0h3m1 0h1m3 0h2m2 0h1m12 0h1m1 0h2m2 0h1m1 0h1m1 0h2m5 0h1m11 0h2m5 0h2m13 0h2m6 0h1m1 0h1m3 0h1m10 0h1m2 0h1m3 0h1m2 0h1m9 0h1m4 0h1m3 0h1m3 0h1m4 0h2m1 0h1m9 0h1m1 0h1M0 5.5h1m3 0h1m11 0h1m3 0h1m3 0h1m1 0h2m35 0h2m4 0h2m12 0h1m1 0h1m4 0h1m1 0h2m4 0h1m2 0h1m5 0h1m10 0h1m2 0h1m2 0h1m2 0h1m7 0h1m1 0h1m2 0h1m3 0h1m7 0h1m13 0h1m2 0h2m12 0h1m5 0h1m1 0h1m2 0h1m2 0h1m2 0h2m3 0h1m1 0h1m8 0h1M0 6.5h1m1 0h1m2 0h1m1 0h3m2 0h1m2 0h1m2 0h1m2 0h1m6 0h4m5 0h2m3 0h4m5 0h2m1 0h3m5 0h1m2 0h1m4 0h2m2 0h1m1 0h2m2 0h1m1 0h1m1 0h1m2 0h1m9 0h2m2 0h1m2 0h2m1 0h1m2 0h3m4 0h1m1 0h1m1 0h1m2 0h2m5 0h3m1 0h2m3 0h2m2 0h2m2 0h2m4 0h1m2 0h3m2 0h2m3 0h1m1 0h4m3 0h1m2 0h2m2 0h2m3 0h2m1 0h3m1 0h2m6 0h1m1 0h1m1 0h2m2 0h2m1 0h1m1 0h2m2 0h1M1 7.5h2m1 0h1m1 0h1m1 0h3m2 0h3m2 0h4m1 0h2m1 0h3m1 0h3m1 0h1m1 0h2m1 0h5m1 0h3m1 0h1m1 0h1m1 0h2m3 0h2m2 0h3m3 0h4m1 0h3m2 0h1m3 0h2m2 0h1m3 0h4m3 0h1m2 0h1m1 0h1m2 0h1m2 0h2m3 0h1m1 0h4m1 0h1m4 0h3m3 0h4m2 0h1m1 0h7m3 0h4m1 0h4m5 0h3m1 0h2m2 0h1m2 0h1m2 0h1m6 0h4m3 0h1m2 0h2m1 0h5m4 0h2m1 0h1m4 0h2m4 0h1M1 8.5h2m1 0h6m2 0h3m1 0h4m2 0h3m1 0h8m1 0h1m3 0h1m1 0h1m2 0h2m1 0h1m1 0h1m1 0h2m2 0h3m1 0h1m1 0h2m1 0h2m3 0h2m2 0h1m2 0h1m1 0h3m1 0h1m1 0h1m1 0h1m1 0h1m2 0h1m8 0h2m4 0h3m1 0h1m1 0h1m2 0h3m3 0h1m1 0h1m7 0h1m4 0h1m1 0h4m3 0h2m1 0h4m4 0h2m1 0h2m3 0h1m2 0h1m3 0h1m1 0h1m11 0h1m2 0h1m5 0h1m2 0h3m2 0h4m1 0h1m1 0h1m1 0h3m1 0h1m4 0h2M0 9.5h1m1 0h1m3 0h1m3 0h4m2 0h1m3 0h1m1 0h1m2 0h1m1 0h1m1 0h1m5 0h1m2 0h1m6 0h2m1 0h1m1 0h1m2 0h3m3 0h1m9 0h1m1 0h1m4 0h1m2 0h2m2 0h1m4 0h5m1 0h3m1 0h1m11 0h1m6 0h1m4 0h2m3 0h1m1 0h2m1 0h1m2 0h4m1 0h2m1 0h1m6 0h1m1 0h1m7 0h1m1 0h2m1 0h1m5 0h2m1 0h5m2 0h1m2 0h1m1 0h2m2 0h1m1 0h1m1 0h3m3 0h1m2 0h1m3 0h1m1 0h1m1 0h2m4 0h1m3 0h1M2 10.5h1m2 0h4m8 0h1m1 0h3m1 0h1m3 0h2m1 0h1m1 0h3m3 0h1m1 0h2m3 0h1m2 0h1m1 0h1m1 0h2m4 0h1m1 0h2m1 0h1m3 0h4m1 0h1m5 0h1m6 0h2m4 0h1m8 0h2m1 0h1m4 0h1m1 0h1m1 0h2m1 0h2m1 0h1m2 0h3m1 0h1m1 0h1m3 0h1m10 0h1m4 0h3m4 0h1m2 0h1m4 0h1m8 0h1m6 0h3m3 0h3m2 0h2m3 0h1m2 0h2m2 0h1m6 0h2m3 0h5m1 0h1M0 11.5h1m3 0h1m1 0h2m1 0h2m1 0h3m1 0h3m1 0h1m1 0h1m2 0h4m1 0h7m1 0h2m1 0h1m2 0h4m1 0h14m5 0h5m1 0h1m2 0h1m3 0h1m1 0h1m1 0h1m2 0h1m1 0h4m1 0h4m2 0h5m3 0h1m1 0h2m1 0h2m2 0h1m1 0h1m1 0h3m2 0h1m1 0h1m1 0h2m3 0h3m1 0h1m7 0h2m1 0h3m1 0h3m1 0h3m2 0h1m1 0h2m3 0h6m2 0h1m2 0h2m1 0h2m1 0h3m1 0h3m2 0h1m1 0h2m5 0h1m2 0h1m2 0h1m5 0h4M0 12.5h1m2 0h1m6 0h4m1 0h1m4 0h1m3 0h1m2 0h1m3 0h1m9 0h2m2 0h1m1 0h2m2 0h1m1 0h3m2 0h1m1 0h1m4 0h2m3 0h3m6 0h1m6 0h1m3 0h1m1 0h3m4 0h2m1 0h1m1 0h2m5 0h2m2 0h1m1 0h1m3 0h1m2 0h2m2 0h1m1 0h1m1 0h3m9 0h1m1 0h1m1 0h1m1 0h1m1 0h1m2 0h1m6 0h2m1 0h1m1 0h1m1 0h1m2 0h1m4 0h1m6 0h1m1 0h2m3 0h2m2 0h1m2 0h1m1 0h1m4 0h1m15 0h1M0 13.5h1m2 0h1m1 0h4m5 0h3m1 0h2m4 0h1m3 0h1m1 0h1m1 0h2m4 0h1m1 0h1m1 0h2m3 0h2m1 0h3m1 0h1m1 0h1m1 0h1m2 0h1m1 0h1m4 0h2m4 0h1m2 0h1m1 0h2m3 0h1m4 0h1m1 0h1m1 0h6m2 0h1m1 0h2m1 0h1m6 0h1m6 0h2m1 0h2m2 0h1m3 0h1m2 0h1m7 0h1m3 0h2m4 0h3m3 0h1m1 0h2m4 0h1m3 0h2m5 0h1m4 0h1m1 0h1m3 0h1m4 0h1m4 0h1m5 0h2m2 0h1m4 0h2m2 0h2m1 0h1M1 14.5h1m3 0h2m3 0h3m3 0h1m2 0h1m2 0h2m3 0h7m1 0h1m2 0h1m1 0h2m2 0h1m1 0h1m3 0h3m1 0h2m6 0h1m3 0h2m2 0h1m1 0h1m1 0h2m1 0h1m4 0h2m2 0h3m2 0h1m1 0h3m2 0h3m2 0h1m1 0h1m3 0h1m1 0h1m1 0h1m3 0h1m5 0h2m4 0h1m1 0h2m3 0h3m1 0h3m1 0h1m1 0h2m1 0h6m1 0h5m3 0h3m6 0h1m4 0h1m6 0h1m1 0h1m3 0h1m2 0h1m1 0h1m1 0h1m2 0h1m3 0h1m4 0h1m3 0h3m2 0h2M2 15.5h3m1 0h1m2 0h2m3 0h2m4 0h1m2 0h1m8 0h1m3 0h3m1 0h2m4 0h1m12 0h1m3 0h1m15 0h1m1 0h1m2 0h1m1 0h1m1 0h2m1 0h1m7 0h3m5 0h1m1 0h1m1 0h1m9 0h1m5 0h2m6 0h1m3 0h1m2 0h2m2 0h1m2 0h1m2 0h2m1 0h1m3 0h1m1 0h2m4 0h1m3 0h1m7 0h1m2 0h4m2 0h1m1 0h1m5 0h1m2 0h1m1 0h1m1 0h1m1 0h1m1 0h2m2 0h2m8 0h1M0 16.5h1m1 0h1m1 0h1m1 0h2m2 0h1m4 0h1m2 0h2m1 0h1m11 0h1m10 0h1m1 0h1m2 0h2m2 0h1m1 0h1m3 0h1m8 0h2m5 0h1m6 0h1m5 0h1m3 0h1m2 0h2m2 0h1m1 0h1m1 0h2m3 0h1m3 0h1m4 0h1m2 0h5m3 0h1m13 0h1m9 0h1m2 0h1m6 0h1m1 0h1m1 0h1m1 0h1m3 0h1m3 0h1m1 0h1m1 0h1m2 0h1m5 0h1m1 0h1m6 0h1m1 0h1m4 0h1m1 0h2m2 0h1m1 0h1M0 17.5h3m3 0h1m2 0h3m4 0h2m1 0h5m7 0h8m2 0h2m1 0h5m5 0h3m3 0h2m2 0h2m1 0h4m1 0h3m1 0h4m1 0h1m1 0h1m1 0h3m4 0h1m1 0h1m2 0h1m3 0h1m1 0h4m1 0h1m1 0h2m4 0h1m2 0h5m3 0h2m3 0h1m1 0h1m1 0h1m2 0h1m2 0h1m2 0h1m1 0h2m4 0h2m10 0h1m1 0h1m1 0h1m1 0h3m1 0h2m1 0h5m1 0h4m5 0h1m1 0h2m2 0h1m1 0h3m1 0h1m5 0h2m1 0h1m1 0h3m1 0h1M0 18.5h3m1 0h11m1 0h1m1 0h1m1 0h2m4 0h3m1 0h2m1 0h5m1 0h14m3 0h1m1 0h1m2 0h1m1 0h3m1 0h2m2 0h3m3 0h4m1 0h2m2 0h3m1 0h2m1 0h11m1 0h3m1 0h1m2 0h2m1 0h1m1 0h3m1 0h1m1 0h3m1 0h1m2 0h3m1 0h3m4 0h1m5 0h1m2 0h3m1 0h3m2 0h2m3 0h3m3 0h1m1 0h5m1 0h1m1 0h1m1 0h5m3 0h3m1 0h1m2 0h2m1 0h4m1 0h8m1 0h3m1 0h4M1 19.5h2m1 0h3m1 0h7m1 0h25m1 0h1m1 0h6m1 0h2m1 0h5m1 0h1m1 0h2m1 0h24m1 0h5m1 0h6m1 0h9m1 0h8m1 0h1m1 0h11m1 0h35m1 0h25m1 0h12m1 0h9M0 20.5h2m1 0h2m1 0h9m1 0h4m1 0h2m1 0h2m1 0h5m3 0h8m2 0h9m1 0h1m3 0h2m1 0h10m1 0h1m1 0h5m1 0h2m3 0h3m2 0h5m1 0h5m1 0h1m2 0h5m3 0h1m3 0h2m4 0h4m2 0h1m5 0h1m8 0h1m1 0h1m3 0h8m5 0h1m1 0h1m2 0h1m5 0h2m2 0h1m2 0h1m3 0h1m2 0h3m10 0h2m1 0h3m3 0h2m1 0h1m5 0h1M0 21.5h4m1 0h2m1 0h1m1 0h5m1 0h15m1 0h1m5 0h2m1 0h2m1 0h3m1 0h8m1 0h10m1 0h11m1 0h3m1 0h2m2 0h2m1 0h2m1 0h2m1 0h2m1 0h1m2 0h6m1 0h1m2 0h1m1 0h2m2 0h4m2 0h1m2 0h3m1 0h4m1 0h3m1 0h2m1 0h1m1 0h2m1 0h5m1 0h1m1 0h1m1 0h7m1 0h1m1 0h3m2 0h2m1 0h2m4 0h3m1 0h5m1 0h6m3 0h2m1 0h1m1 0h2m1 0h11M1 22.5h1m2 0h3m1 0h1m3 0h1m2 0h3m4 0h1m2 0h2m3 0h3m1 0h1m1 0h4m2 0h1m1 0h1m3 0h1m1 0h1m1 0h2m4 0h2m4 0h1m1 0h1m1 0h1m1 0h1m1 0h2m2 0h4m3 0h1m1 0h3m2 0h3m3 0h1m1 0h1m1 0h6m5 0h2m4 0h2m1 0h2m2 0h1m5 0h3m1 0h1m1 0h4m1 0h1m1 0h7m2 0h4m5 0h2m1 0h1m1 0h1m1 0h1m3 0h1m1 0h5m1 0h2m2 0h3m1 0h1m1 0h1m1 0h1m1 0h3m2 0h5m1 0h1m1 0h2m1 0h2m1 0h3m1 0h1m1 0h1M0 23.5h62m1 0h23m1 0h16m1 0h20m1 0h9m1 0h16m1 0h70M2 24.5h6m1 0h1m1 0h1m1 0h1m1 0h1m2 0h4m1 0h1m2 0h1m1 0h1m2 0h5m1 0h1m1 0h1m1 0h2m1 0h2m2 0h2m1 0h2m3 0h2m1 0h4m1 0h2m3 0h3m4 0h3m1 0h4m3 0h3m2 0h4m3 0h1m1 0h3m1 0h2m1 0h1m1 0h7m1 0h2m1 0h3m2 0h2m2 0h1m3 0h1m1 0h2m1 0h1m1 0h1m1 0h5m1 0h3m2 0h1m1 0h4m2 0h1m1 0h2m1 0h2m1 0h1m1 0h11m1 0h3m1 0h1m1 0h4m1 0h2m1 0h7m6 0h1m3 0h2m1 0h2M0 25.5h1m3 0h4m1 0h1m1 0h2m1 0h1m4 0h1m2 0h1m1 0h3m1 0h2m1 0h2m1 0h1m1 0h3m1 0h2m1 0h4m1 0h1m1 0h1m3 0h3m1 0h1m1 0h3m1 0h1m3 0h1m7 0h1m3 0h2m1 0h4m1 0h1m1 0h3m2 0h5m5 0h1m1 0h1m1 0h1m2 0h1m2 0h2m1 0h2m5 0h2m5 0h1m1 0h1m1 0h1m7 0h1m1 0h1m2 0h1m5 0h2m2 0h1m2 0h2m3 0h4m2 0h2m3 0h1m2 0h2m2 0h4m1 0h1m2 0h1m2 0h1m2 0h9m4 0h3m1 0h1m2 0h1M0 26.5h51m1 0h73m1 0h80m1 0h15M3 27.5h1m1 0h1m1 0h3m1 0h4m2 0h4m2 0h8m2 0h1m2 0h3m2 0h1m1 0h6m1 0h3m1 0h1m1 0h1m2 0h1m1 0h1m1 0h5m1 0h2m1 0h1m1 0h1m1 0h4m1 0h3m2 0h2m1 0h6m1 0h2m2 0h3m1 0h5m1 0h1m2 0h1m1 0h1m1 0h1m2 0h1m3 0h2m3 0h4m1 0h8m2 0h6m1 0h1m1 0h3m2 0h4m2 0h2m1 0h5m2 0h2m4 0h10m1 0h1m1 0h6m1 0h7m1 0h2m1 0h5m1 0h1m2 0h2M1 28.5h2m1 0h2m1 0h9m5 0h3m3 0h2m1 0h1m1 0h1m5 0h17m1 0h9m3 0h1m1 0h2m1 0h9m1 0h3m1 0h12m2 0h6m1 0h5m1 0h1m3 0h3m1 0h2m4 0h4m3 0h6m2 0h3m1 0h20m2 0h1m1 0h2m3 0h2m1 0h4m2 0h4m1 0h1m1 0h17m2 0h1m1 0h2m1 0h3m2 0h1M0 29.5h3m1 0h2m1 0h1m8 0h1m7 0h2m4 0h1m1 0h1m1 0h2m7 0h1m2 0h1m3 0h2m7 0h2m2 0h1m7 0h1m2 0h1m7 0h2m1 0h3m5 0h1m14 0h2m5 0h1m4 0h2m7 0h3m1 0h2m3 0h1m5 0h1m5 0h1m9 0h1m2 0h1m7 0h1m1 0h1m3 0h1m3 0h1m11 0h3m4 0h1m6 0h1m5 0h1"/>
<path stroke="#66499f" d="M55 0.5h1m1 0h1m3 0h1m1 0h1m10 0h1m6 0h1m2 0h1m7 0h11m4 0h3m2 0h1m1 0h1m1 0h3m1 0h1m2 0h1m1 0h4m1 0h2m1 0h1m2 0h1m1 0h1m1 0h4m4 0h1m2 0h1m1 0h1m1 0h3m2 0h2m3 0h3m1 0h2m2 0h2m1 0h4m2 0h1m1 0h4m1 0h1m1 0h3m2 0h1m2 0h1m1 0h4m2 0h2m1 0h1M0 1.5h1m8 0h1m6 0h1m17 0h1m6 0h1m11 0h1m14 0h1m8 0h1m1 0h2m18 0h1m2 0h1m5 0h1m4 0h2m9 0h2m2 0h1m5 0h1m4 0h1m12 0h1m4 0h1m1 0h1m3 0h1m1 0h1m8 0h1m2 0h1m1 0h1m4 0h1m3 0h1m3 0h1m3 0h3m6 0h1m3 0h1m6 0h1M8 2.5h1m13 0h1m4 0h1m1 0h1m36 0h1m1 0h1m1 0h1m5 0h1m32 0h1m4 0h2m17 0h1m2 0h1m6 0h2m1 0h2m6 0h1m10 0h1m3 0h1m21 0h1m4 0h1m12 0h1m2 0h1M0 3.5h2m1 0h1m1 0h2m1 0h1m2 0h3m3 0h1m1 0h1m1 0h1m1 0h1m4 0h2m2 0h1m1 0h1m1 0h3m1 0h7m1 0h1m2 0h1m2 0h1m4 0h3m1 0h1m1 0h1m1 0h1m2 0h1m3 0h1m2 0h1m2 0h1m2 0h1m1 0h1m2 0h1m1 0h1m1 0h1m7 0h1m4 0h1m1 0h4m2 0h1m4 0h1m3 0h1m3 0h1m1 0h2m10 0h1m3 0h1m8 0h1m7 0h1m6 0h1m2 0h1m2 0h1m7 0h1m2 0h1m5 0h1m3 0h1m9 0h1m1 0h1m5 0h1m1 0h1m4 0h1M7 4.5h1m2 0h1m9 0h1m1 0h1m18 0h1m13 0h1m6 0h1m2 0h1m1 0h2m2 0h1m3 0h2m15 0h1m1 0h2m4 0h1m8 0h1m11 0h2m5 0h2m13 0h2m6 0h1m1 0h1m3 0h1m10 0h1m2 0h1m3 0h1m12 0h1m4 0h1m7 0h1m4 0h1m2 0h1m11 0h1M0 5.5h1m3 0h1m11 0h1m3 0h1m3 0h1m1 0h2m35 0h2m4 0h2m14 0h1m6 0h2m4 0h1m8 0h1m10 0h1m8 0h1m9 0h1m2 0h1m3 0h1m7 0h1m17 0h1m12 0h1m5 0h1m1 0h1m5 0h1m2 0h2m5 0h1m8 0h1M2 6.5h1m2 0h1m1 0h3m2 0h1m2 0h1m2 0h1m2 0h1m6 0h2m1 0h1m6 0h1m3 0h2m7 0h1m2 0h3m8 0h1m4 0h2m2 0h1m1 0h1m3 0h1m1 0h1m1 0h1m2 0h1m13 0h1m3 0h1m4 0h3m8 0h1m2 0h1m7 0h2m1 0h1m4 0h1m3 0h1m3 0h1m8 0h3m2 0h2m5 0h1m1 0h2m3 0h1m3 0h1m2 0h1m4 0h2m1 0h3m1 0h2m8 0h1m5 0h2m3 0h2M1 7.5h2m3 0h1m1 0h3m2 0h2m3 0h2m1 0h1m2 0h1m1 0h3m1 0h3m1 0h1m1 0h2m1 0h3m4 0h2m1 0h1m1 0h1m1 0h1m4 0h2m2 0h1m1 0h1m3 0h3m2 0h3m2 0h1m3 0h2m2 0h1m3 0h4m3 0h1m2 0h1m1 0h1m5 0h2m3 0h1m1 0h4m6 0h2m4 0h4m4 0h3m7 0h4m1 0h3m6 0h2m2 0h2m5 0h1m2 0h1m6 0h4m3 0h1m2 0h2m1 0h3m6 0h1m2 0h1m5 0h1m4 0h1M1 8.5h1m3 0h3m1 0h1m4 0h1m2 0h3m2 0h1m1 0h1m1 0h2m1 0h1m1 0h3m1 0h1m3 0h1m4 0h2m1 0h1m1 0h1m1 0h2m3 0h1m2 0h1m1 0h2m1 0h2m3 0h2m2 0h1m2 0h1m1 0h2m8 0h1m11 0h2m5 0h2m1 0h1m1 0h1m2 0h1m1 0h1m3 0h1m1 0h1m7 0h1m4 0h1m1 0h3m4 0h2m2 0h1m1 0h1m4 0h2m6 0h1m2 0h1m3 0h1m1 0h1m11 0h1m2 0h1m5 0h1m3 0h2m2 0h4m1 0h1m1 0h1m1 0h1m3 0h1m4 0h2M2 9.5h1m3 0h1m4 0h1m4 0h1m3 0h1m1 0h1m4 0h1m7 0h1m2 0h1m6 0h2m1 0h1m1 0h1m2 0h2m4 0h1m11 0h1m7 0h2m2 0h1m4 0h1m2 0h1m2 0h3m1 0h1m11 0h1m6 0h1m4 0h2m3 0h1m1 0h2m1 0h1m2 0h2m1 0h1m1 0h2m1 0h1m8 0h1m7 0h1m1 0h2m1 0h1m5 0h2m1 0h3m1 0h1m2 0h1m4 0h2m2 0h1m1 0h1m1 0h1m5 0h1m2 0h1m7 0h2m4 0h1m3 0h1M7 10.5h2m8 0h1m1 0h3m1 0h1m3 0h1m2 0h1m1 0h1m1 0h1m3 0h1m1 0h2m3 0h1m2 0h1m3 0h2m4 0h1m2 0h1m1 0h1m4 0h3m1 0h1m12 0h2m4 0h1m8 0h2m1 0h1m6 0h1m1 0h2m2 0h1m4 0h3m1 0h1m1 0h1m3 0h1m10 0h1m4 0h3m4 0h1m7 0h1m8 0h1m7 0h2m3 0h1m5 0h1m6 0h1m3 0h1m7 0h1m4 0h4m1 0h1M0 11.5h1m3 0h1m2 0h1m2 0h1m1 0h1m1 0h1m1 0h3m1 0h1m4 0h1m1 0h2m1 0h2m1 0h4m4 0h1m3 0h1m1 0h1m1 0h2m1 0h1m3 0h2m1 0h4m5 0h1m2 0h1m2 0h1m2 0h1m3 0h1m1 0h1m1 0h1m2 0h1m2 0h1m5 0h2m4 0h3m3 0h1m1 0h2m1 0h2m2 0h1m1 0h1m1 0h3m2 0h1m1 0h1m6 0h1m1 0h1m1 0h1m7 0h1m2 0h3m1 0h3m1 0h3m2 0h1m2 0h1m3 0h5m3 0h1m2 0h1m2 0h2m3 0h1m1 0h3m2 0h1m1 0h1m6 0h1m11 0h4M0 12.5h1m2 0h1m8 0h2m6 0h1m6 0h1m3 0h1m10 0h1m2 0h1m1 0h2m4 0h3m2 0h1m1 0h1m5 0h1m3 0h2m20 0h3m5 0h1m1 0h1m1 0h2m6 0h1m2 0h1m5 0h1m3 0h1m6 0h2m10 0h1m7 0h1m2 0h1m6 0h2m3 0h1m18 0h2m3 0h2m2 0h1m2 0h1m6 0h1M14 13.5h1m3 0h2m4 0h1m8 0h1m6 0h1m1 0h1m4 0h2m1 0h1m1 0h1m1 0h1m1 0h1m1 0h1m2 0h1m1 0h1m5 0h1m4 0h1m2 0h1m1 0h2m8 0h1m1 0h1m1 0h5m3 0h1m1 0h1m2 0h1m6 0h1m7 0h1m1 0h2m2 0h1m6 0h1m7 0h1m3 0h2m4 0h3m3 0h1m1 0h2m4 0h1m3 0h2m12 0h1m3 0h1m4 0h1m10 0h2m2 0h1m5 0h1M1 14.5h1m3 0h2m4 0h2m3 0h1m5 0h1m4 0h1m1 0h2m2 0h1m6 0h2m2 0h1m6 0h2m1 0h2m10 0h2m2 0h1m1 0h1m1 0h2m6 0h2m2 0h3m4 0h3m2 0h3m2 0h1m1 0h1m3 0h1m3 0h1m3 0h1m6 0h1m4 0h1m1 0h2m3 0h3m1 0h3m3 0h2m2 0h2m1 0h2m1 0h1m1 0h3m4 0h1m7 0h1m4 0h1m12 0h1m6 0h1m6 0h1m4 0h1m3 0h3m2 0h1M2 15.5h1m1 0h1m15 0h1m2 0h1m12 0h2m2 0h1m5 0h1m12 0h1m3 0h1m15 0h1m1 0h1m4 0h1m1 0h1m2 0h1m8 0h1m6 0h1m1 0h1m1 0h1m9 0h1m5 0h2m6 0h1m3 0h1m2 0h2m2 0h1m5 0h1m2 0h1m3 0h1m11 0h1m7 0h1m2 0h2m4 0h1m1 0h1m8 0h1m1 0h1m3 0h1m1 0h1m4 0h1m8 0h1M0 16.5h1m5 0h1m3 0h1m4 0h1m2 0h2m13 0h1m12 0h1m2 0h2m2 0h1m1 0h1m12 0h2m5 0h1m6 0h1m9 0h1m2 0h2m4 0h1m1 0h2m7 0h1m4 0h1m3 0h1m1 0h1m38 0h1m1 0h1m1 0h1m1 0h1m3 0h1m3 0h1m3 0h1m2 0h1m5 0h1m1 0h1m6 0h1m1 0h1m6 0h2m2 0h1m1 0h1M6 17.5h1m2 0h1m1 0h1m4 0h2m1 0h5m7 0h2m1 0h5m2 0h2m1 0h2m1 0h2m5 0h3m4 0h1m5 0h1m2 0h1m1 0h3m1 0h4m3 0h1m1 0h3m4 0h1m1 0h1m6 0h1m1 0h1m1 0h2m1 0h1m1 0h2m4 0h1m2 0h1m2 0h2m4 0h1m3 0h1m1 0h1m1 0h1m2 0h1m2 0h1m2 0h1m1 0h2m4 0h2m10 0h1m1 0h1m1 0h1m1 0h3m7 0h2m1 0h1m1 0h1m6 0h1m1 0h2m2 0h1m1 0h1m1 0h1m1 0h1m5 0h2m1 0h1m2 0h1m2 0h1M0 18.5h1m1 0h1m3 0h5m1 0h3m3 0h1m1 0h2m4 0h1m1 0h1m1 0h2m2 0h4m2 0h1m1 0h5m1 0h1m1 0h2m4 0h1m4 0h1m2 0h1m2 0h2m2 0h3m4 0h1m1 0h1m2 0h1m2 0h3m1 0h2m1 0h3m1 0h3m1 0h3m2 0h1m2 0h1m2 0h2m1 0h1m1 0h2m2 0h1m1 0h1m3 0h1m2 0h3m1 0h2m11 0h1m2 0h2m2 0h3m2 0h2m3 0h3m3 0h1m1 0h3m1 0h1m1 0h1m1 0h1m1 0h5m3 0h1m3 0h1m6 0h3m2 0h3m2 0h2m1 0h3m1 0h3M2 19.5h1m2 0h1m3 0h3m1 0h2m1 0h9m1 0h1m1 0h5m1 0h7m1 0h1m1 0h6m2 0h1m1 0h5m1 0h1m1 0h2m2 0h4m1 0h5m1 0h12m1 0h5m2 0h3m1 0h1m1 0h9m1 0h2m1 0h5m1 0h1m1 0h11m1 0h12m2 0h3m1 0h17m1 0h1m1 0h4m1 0h8m1 0h9m1 0h1m1 0h6m1 0h3m1 0h5m1 0h3M0 20.5h2m1 0h2m1 0h6m1 0h2m1 0h2m1 0h1m1 0h2m1 0h2m1 0h3m1 0h1m3 0h1m1 0h6m2 0h1m1 0h2m1 0h2m1 0h1m6 0h1m1 0h1m2 0h2m2 0h1m1 0h1m1 0h1m2 0h4m1 0h2m3 0h3m6 0h1m1 0h3m1 0h1m4 0h1m1 0h1m5 0h1m4 0h1m4 0h1m2 0h1m2 0h1m5 0h1m8 0h1m1 0h1m5 0h2m9 0h1m1 0h1m9 0h1m13 0h2m10 0h2m1 0h3m4 0h1m1 0h1M0 21.5h4m1 0h2m1 0h1m1 0h1m2 0h2m1 0h3m1 0h2m2 0h3m2 0h2m1 0h1m5 0h2m2 0h1m1 0h2m2 0h8m1 0h8m1 0h1m1 0h3m1 0h7m1 0h2m2 0h2m2 0h2m1 0h2m2 0h1m1 0h2m1 0h1m2 0h6m1 0h1m2 0h1m1 0h2m2 0h4m2 0h1m2 0h1m1 0h1m1 0h4m1 0h3m1 0h2m1 0h1m1 0h2m1 0h4m7 0h5m5 0h1m3 0h2m1 0h1m5 0h3m2 0h1m1 0h2m1 0h5m4 0h2m1 0h1m4 0h3m1 0h1m1 0h3m1 0h1M1 22.5h1m2 0h1m3 0h1m3 0h1m2 0h1m6 0h1m3 0h1m7 0h1m2 0h3m2 0h1m9 0h1m6 0h1m6 0h1m1 0h1m4 0h1m2 0h2m1 0h1m3 0h1m1 0h2m3 0h1m1 0h1m3 0h1m1 0h1m1 0h3m1 0h2m5 0h2m4 0h2m2 0h1m2 0h1m5 0h1m3 0h1m1 0h1m1 0h2m1 0h1m2 0h6m2 0h2m7 0h2m1 0h1m1 0h1m5 0h1m2 0h1m2 0h1m1 0h2m2 0h1m1 0h1m1 0h1m1 0h1m1 0h1m1 0h1m4 0h1m1 0h2m2 0h1m1 0h2m1 0h2m1 0h1m1 0h1m3 0h1M0 23.5h42m1 0h19m1 0h13m1 0h1m1 0h7m1 0h2m1 0h3m1 0h9m1 0h14m1 0h5m1 0h9m2 0h9m1 0h5m1 0h2m1 0h3m1 0h3m1 0h6m1 0h8m1 0h6m1 0h9m3 0h2m1 0h8m1 0h2m1 0h9M2 24.5h6m1 0h1m1 0h1m1 0h1m1 0h1m2 0h3m2 0h1m2 0h1m1 0h1m2 0h5m1 0h1m1 0h1m1 0h2m1 0h1m6 0h2m3 0h2m3 0h2m1 0h2m3 0h1m1 0h1m4 0h1m1 0h1m1 0h1m1 0h2m3 0h1m4 0h4m3 0h1m2 0h2m1 0h2m1 0h1m1 0h1m1 0h5m4 0h3m2 0h1m3 0h1m3 0h1m1 0h2m1 0h1m1 0h1m1 0h5m1 0h3m2 0h1m2 0h1m1 0h1m7 0h2m5 0h6m1 0h2m1 0h3m1 0h1m2 0h3m4 0h4m13 0h1m2 0h2M0 25.5h1m4 0h3m1 0h1m2 0h1m1 0h1m4 0h1m2 0h1m2 0h2m1 0h1m2 0h2m1 0h1m2 0h2m1 0h2m1 0h4m7 0h2m2 0h1m1 0h3m1 0h1m3 0h1m11 0h2m6 0h1m1 0h1m4 0h1m1 0h2m6 0h1m1 0h1m4 0h1m2 0h2m9 0h1m5 0h1m1 0h1m1 0h1m25 0h2m5 0h2m2 0h1m13 0h2m1 0h1m8 0h3m1 0h1m1 0h2m6 0h2m1 0h1m2 0h1M0 26.5h4m1 0h3m1 0h8m1 0h33m1 0h13m1 0h41m1 0h17m1 0h13m1 0h13m1 0h11m1 0h31m1 0h8m1 0h15M3 27.5h1m1 0h1m1 0h1m1 0h1m1 0h4m3 0h3m2 0h2m2 0h2m1 0h1m2 0h1m2 0h2m3 0h1m1 0h5m2 0h3m3 0h1m2 0h1m1 0h1m1 0h1m1 0h2m2 0h2m1 0h1m1 0h1m3 0h2m1 0h3m6 0h1m1 0h3m1 0h2m3 0h2m1 0h5m1 0h1m2 0h1m3 0h1m2 0h1m3 0h2m4 0h3m2 0h2m1 0h2m1 0h1m2 0h1m1 0h1m1 0h2m3 0h2m3 0h2m4 0h2m1 0h4m3 0h2m4 0h7m1 0h1m4 0h3m2 0h1m1 0h4m2 0h1m1 0h2m1 0h2m2 0h1m4 0h2M1 28.5h2m4 0h3m1 0h1m2 0h1m6 0h3m3 0h2m1 0h1m1 0h1m5 0h6m1 0h5m1 0h4m1 0h2m2 0h1m1 0h3m3 0h1m1 0h2m1 0h2m1 0h6m1 0h3m1 0h2m1 0h4m1 0h2m4 0h5m2 0h1m2 0h2m1 0h1m4 0h1m2 0h2m4 0h1m1 0h2m3 0h1m2 0h3m2 0h3m1 0h5m1 0h1m2 0h11m2 0h1m1 0h2m3 0h2m2 0h3m2 0h4m1 0h1m1 0h8m1 0h1m3 0h4m2 0h1m2 0h1m1 0h3m2 0h1M0 29.5h3m1 0h1m2 0h1m8 0h1m7 0h2m4 0h1m3 0h2m7 0h1m2 0h1m4 0h1m7 0h2m10 0h1m2 0h1m7 0h2m2 0h1m6 0h1m14 0h2m10 0h1m8 0h3m6 0h1m5 0h1m5 0h1m9 0h1m2 0h1m7 0h1m1 0h1m3 0h1m15 0h1m6 0h1m6 0h1m5 0h1"/>
<path stroke="#582f93" d="M55 0.5h1m1 0h1m3 0h1m19 0h1m10 0h2m2 0h1m2 0h4m4 0h3m2 0h1m1 0h1m2 0h2m4 0h1m1 0h4m1 0h2m1 0h1m4 0h1m2 0h3m4 0h1m2 0h1m5 0h1m2 0h2m3 0h1m1 0h1m1 0h2m6 0h2m3 0h1m2 0h1m1 0h1m3 0h3m8 0h1m4 0h2M0 1.5h1m8 0h1m24 0h1m33 0h1m8 0h1m1 0h2m18 0h1m2 0h1m10 0h2m10 0h1m2 0h1m5 0h1m4 0h1m12 0h1m4 0h1m1 0h1m3 0h1m1 0h1m8 0h1m2 0h1m6 0h1m3 0h1m7 0h2m18 0h1M22 2.5h1m4 0h1m38 0h1m1 0h1m1 0h1m5 0h1m32 0h1m4 0h2m17 0h1m9 0h1m21 0h1m25 0h1m4 0h1m12 0h1m2 0h1M3 3.5h1m1 0h2m1 0h1m3 0h2m3 0h1m3 0h1m6 0h2m2 0h1m1 0h1m1 0h3m1 0h2m1 0h1m1 0h2m1 0h1m2 0h1m2 0h1m4 0h3m1 0h1m13 0h1m7 0h1m2 0h1m3 0h1m7 0h1m4 0h1m3 0h2m2 0h1m4 0h1m10 0h1m10 0h1m3 0h1m8 0h1m7 0h1m6 0h1m5 0h1m10 0h1m9 0h1m9 0h1m7 0h1m1 0h1m4 0h1M22 4.5h1m39 0h1m2 0h1m5 0h1m4 0h1m15 0h1m2 0h1m4 0h1m21 0h1m5 0h2m13 0h1m9 0h1m3 0h1m13 0h1m3 0h1m17 0h1m7 0h1m4 0h1m14 0h1M0 5.5h1m3 0h1m11 0h1m3 0h1m6 0h1m35 0h2m4 0h2m14 0h1m6 0h2m4 0h1m8 0h1m10 0h1m8 0h1m9 0h1m2 0h1m11 0h1m36 0h1m1 0h1m5 0h1m2 0h2m5 0h1m8 0h1M2 6.5h1m5 0h2m5 0h1m2 0h1m2 0h1m6 0h2m1 0h1m10 0h2m7 0h1m2 0h3m8 0h1m4 0h2m2 0h1m1 0h1m3 0h1m1 0h1m1 0h1m2 0h1m13 0h1m3 0h1m4 0h1m1 0h1m11 0h1m8 0h1m6 0h1m7 0h1m8 0h3m2 0h2m5 0h1m2 0h1m3 0h1m3 0h1m2 0h1m5 0h1m2 0h1m2 0h2M1 7.5h1m4 0h1m2 0h2m2 0h2m4 0h1m1 0h1m5 0h2m1 0h3m4 0h1m1 0h3m4 0h1m6 0h1m5 0h1m2 0h1m7 0h1m2 0h2m3 0h1m3 0h2m2 0h1m4 0h3m3 0h1m2 0h1m1 0h1m6 0h1m3 0h1m2 0h3m6 0h2m4 0h2m6 0h1m1 0h1m9 0h1m4 0h1m7 0h1m3 0h1m5 0h1m2 0h1m6 0h4m3 0h1m2 0h2m1 0h1m1 0h1m6 0h1m13 0h1M1 8.5h1m4 0h1m2 0h1m4 0h1m3 0h2m6 0h2m5 0h1m10 0h2m3 0h1m2 0h1m3 0h1m5 0h1m2 0h1m4 0h1m2 0h1m4 0h2m20 0h2m5 0h2m1 0h1m20 0h1m6 0h2m5 0h2m4 0h1m4 0h1m7 0h1m2 0h1m3 0h1m1 0h1m11 0h1m2 0h1m5 0h1m4 0h1m2 0h1m1 0h2m3 0h1m5 0h1m4 0h2M2 9.5h1m8 0h1m4 0h1m3 0h1m1 0h1m4 0h1m7 0h1m12 0h1m10 0h1m19 0h1m11 0h1m2 0h1m1 0h1m1 0h1m11 0h1m12 0h1m3 0h1m1 0h2m4 0h2m1 0h1m1 0h2m1 0h1m18 0h1m2 0h1m5 0h2m2 0h2m9 0h2m4 0h1m1 0h1m8 0h1m7 0h1m9 0h1M7 10.5h1m9 0h1m3 0h1m5 0h1m10 0h1m2 0h1m6 0h1m19 0h3m1 0h1m12 0h1m14 0h2m1 0h1m6 0h1m11 0h2m18 0h1m4 0h3m12 0h1m16 0h1m4 0h1m5 0h1m10 0h1m12 0h4M0 11.5h1m6 0h1m2 0h1m1 0h1m3 0h3m8 0h1m2 0h1m2 0h1m2 0h1m4 0h1m3 0h1m1 0h1m1 0h2m8 0h2m1 0h1m8 0h1m2 0h1m6 0h1m1 0h1m1 0h1m2 0h1m2 0h1m5 0h2m4 0h3m6 0h1m1 0h1m5 0h1m1 0h3m2 0h1m1 0h1m6 0h1m1 0h1m9 0h1m2 0h3m1 0h3m2 0h2m2 0h1m2 0h1m4 0h2m1 0h1m3 0h1m2 0h1m2 0h2m6 0h2m2 0h1m1 0h1m6 0h1m12 0h3M0 12.5h1m2 0h1m9 0h1m33 0h2m4 0h3m2 0h1m12 0h1m20 0h1m1 0h1m5 0h1m3 0h2m6 0h1m2 0h1m5 0h1m3 0h1m6 0h2m18 0h1m2 0h1m36 0h1m2 0h1m2 0h1m6 0h1M19 13.5h1m4 0h1m8 0h1m6 0h1m1 0h1m7 0h1m1 0h1m5 0h1m2 0h1m1 0h1m5 0h1m7 0h1m1 0h1m16 0h2m8 0h1m6 0h1m9 0h1m3 0h1m14 0h1m3 0h1m5 0h3m5 0h2m4 0h1m4 0h1m16 0h1m4 0h1m10 0h2m2 0h1m5 0h1M5 14.5h2m4 0h2m3 0h1m5 0h1m4 0h1m1 0h1m3 0h1m7 0h1m2 0h1m6 0h2m1 0h1m11 0h2m2 0h1m1 0h1m1 0h2m10 0h2m5 0h3m3 0h2m4 0h1m18 0h1m6 0h2m4 0h2m1 0h3m4 0h1m2 0h2m1 0h1m2 0h1m2 0h2m4 0h1m7 0h1m4 0h1m12 0h1m6 0h1m11 0h1m3 0h2m3 0h1M2 15.5h1m1 0h1m15 0h1m2 0h1m13 0h1m21 0h1m21 0h1m4 0h1m1 0h1m2 0h1m17 0h1m17 0h1m7 0h1m3 0h1m2 0h1m3 0h1m8 0h1m15 0h1m7 0h1m8 0h1m1 0h1m10 0h1m10 0h1m8 0h1M6 16.5h1m3 0h1m8 0h1m26 0h1m22 0h1m5 0h1m6 0h1m9 0h1m2 0h1m5 0h1m1 0h2m18 0h1m38 0h1m5 0h1m7 0h1m12 0h1m1 0h1m15 0h1M6 17.5h1m2 0h1m1 0h1m5 0h1m2 0h3m8 0h2m3 0h1m1 0h1m2 0h2m1 0h2m1 0h2m5 0h2m11 0h1m2 0h1m1 0h3m1 0h2m1 0h1m3 0h1m1 0h3m4 0h1m1 0h1m8 0h1m1 0h2m1 0h1m1 0h2m4 0h1m2 0h1m2 0h2m8 0h1m1 0h1m1 0h1m2 0h1m2 0h1m2 0h1m1 0h2m4 0h2m12 0h1m1 0h1m2 0h1m8 0h2m1 0h1m8 0h1m1 0h1m3 0h1m1 0h1m3 0h1m5 0h2m1 0h1m2 0h1m2 0h1M9 18.5h2m1 0h2m4 0h1m2 0h1m6 0h1m1 0h2m2 0h2m1 0h1m2 0h1m1 0h1m1 0h1m1 0h1m1 0h1m2 0h1m4 0h1m4 0h1m2 0h1m2 0h1m3 0h2m5 0h1m1 0h1m2 0h1m2 0h1m8 0h1m1 0h3m1 0h1m7 0h1m2 0h2m1 0h1m1 0h1m3 0h1m5 0h1m2 0h3m1 0h2m18 0h3m7 0h2m6 0h3m1 0h1m1 0h1m1 0h1m3 0h1m1 0h1m3 0h1m3 0h1m6 0h3m2 0h2m6 0h2m2 0h1M2 19.5h1m2 0h1m3 0h1m1 0h1m1 0h2m1 0h2m1 0h3m4 0h1m2 0h3m2 0h2m2 0h2m2 0h1m1 0h5m3 0h1m1 0h1m2 0h1m2 0h1m1 0h2m2 0h4m1 0h1m1 0h3m1 0h3m1 0h4m2 0h1m3 0h4m2 0h3m1 0h1m1 0h6m1 0h1m2 0h2m1 0h5m1 0h1m1 0h2m1 0h8m1 0h1m2 0h4m1 0h3m3 0h3m1 0h2m1 0h1m1 0h7m1 0h4m1 0h1m1 0h1m2 0h1m1 0h8m1 0h5m1 0h1m1 0h1m1 0h1m1 0h2m1 0h3m2 0h1m5 0h2m1 0h1M3 20.5h2m2 0h3m1 0h1m2 0h1m1 0h2m1 0h1m8 0h1m2 0h1m3 0h1m2 0h1m2 0h1m3 0h1m1 0h1m3 0h1m8 0h1m1 0h1m2 0h2m2 0h1m1 0h1m1 0h1m3 0h3m1 0h1m4 0h2m7 0h1m1 0h3m6 0h1m12 0h1m7 0h1m19 0h1m16 0h1m1 0h1m23 0h1m11 0h1m2 0h3m4 0h1M0 21.5h1m1 0h1m2 0h2m1 0h1m1 0h1m3 0h1m1 0h2m2 0h2m3 0h2m2 0h1m2 0h1m5 0h2m8 0h3m1 0h2m3 0h3m1 0h2m3 0h1m1 0h3m1 0h2m1 0h4m5 0h1m3 0h2m1 0h2m4 0h2m1 0h1m2 0h3m1 0h2m1 0h1m2 0h1m7 0h1m3 0h1m2 0h1m4 0h2m2 0h3m1 0h2m3 0h1m2 0h1m2 0h1m7 0h4m10 0h2m1 0h1m5 0h3m9 0h3m4 0h2m1 0h1m4 0h3m1 0h1m1 0h1m1 0h1m1 0h1M1 22.5h1m24 0h1m7 0h1m17 0h1m13 0h1m6 0h1m2 0h2m20 0h1m2 0h2m1 0h1m6 0h2m4 0h1m3 0h1m2 0h1m14 0h1m5 0h3m4 0h2m7 0h2m1 0h1m1 0h1m5 0h1m2 0h1m2 0h1m2 0h1m2 0h1m1 0h1m1 0h1m3 0h1m8 0h1m3 0h1m1 0h2m1 0h1m4 0h1m3 0h1M0 23.5h3m1 0h8m1 0h1m1 0h11m1 0h8m1 0h2m1 0h3m1 0h14m1 0h2m3 0h6m3 0h4m1 0h1m2 0h3m1 0h2m1 0h1m2 0h2m2 0h4m1 0h2m1 0h1m1 0h10m1 0h3m1 0h5m2 0h8m3 0h1m1 0h2m1 0h3m1 0h1m3 0h1m2 0h1m1 0h2m3 0h2m1 0h2m1 0h3m1 0h6m1 0h1m1 0h6m1 0h1m1 0h1m1 0h1m1 0h1m5 0h2m1 0h8m1 0h1m2 0h5m1 0h3M2 24.5h1m1 0h3m2 0h1m5 0h1m3 0h1m3 0h1m4 0h1m2 0h1m2 0h2m1 0h1m1 0h1m11 0h2m3 0h2m3 0h2m1 0h2m3 0h1m6 0h1m3 0h1m2 0h1m3 0h1m5 0h2m7 0h1m2 0h2m5 0h5m4 0h1m1 0h1m2 0h1m7 0h1m1 0h1m6 0h1m1 0h3m1 0h2m3 0h1m2 0h1m1 0h1m7 0h1m6 0h3m1 0h2m1 0h2m1 0h3m1 0h1m4 0h1m4 0h3m14 0h1m3 0h1M0 25.5h1m5 0h2m11 0h1m2 0h1m2 0h1m5 0h1m2 0h1m6 0h1m12 0h1m3 0h1m1 0h1m3 0h1m3 0h1m12 0h1m6 0h1m1 0h1m4 0h1m1 0h2m8 0h1m4 0h1m2 0h1m16 0h1m1 0h1m1 0h1m36 0h1m14 0h1m1 0h1m9 0h2m3 0h1m10 0h1M0 26.5h3m2 0h3m1 0h8m2 0h20m1 0h11m1 0h13m1 0h3m1 0h37m2 0h6m1 0h8m2 0h1m1 0h11m1 0h7m1 0h5m1 0h1m1 0h2m1 0h6m1 0h12m1 0h5m1 0h5m1 0h1m2 0h3m1 0h1m1 0h6m1 0h15M5 27.5h1m1 0h1m1 0h1m8 0h1m1 0h1m2 0h2m2 0h1m2 0h1m2 0h1m2 0h2m3 0h1m1 0h3m6 0h1m3 0h1m9 0h1m3 0h1m1 0h1m5 0h2m2 0h1m7 0h1m1 0h3m1 0h1m4 0h1m3 0h2m1 0h1m4 0h1m3 0h1m2 0h1m4 0h1m4 0h3m2 0h1m2 0h1m5 0h1m1 0h1m1 0h2m3 0h1m13 0h1m1 0h1m5 0h1m4 0h3m1 0h3m7 0h2m2 0h1m2 0h1m1 0h1m4 0h2m1 0h1m3 0h1m4 0h2M1 28.5h2m6 0h1m4 0h1m6 0h1m5 0h2m1 0h1m1 0h1m7 0h1m1 0h1m2 0h5m1 0h4m1 0h2m2 0h1m2 0h2m3 0h1m1 0h2m1 0h1m2 0h5m4 0h1m1 0h2m1 0h2m1 0h1m7 0h3m1 0h1m5 0h1m2 0h1m13 0h1m2 0h1m8 0h1m2 0h2m2 0h3m6 0h2m1 0h2m1 0h3m4 0h1m2 0h1m3 0h2m2 0h1m1 0h1m2 0h1m2 0h1m3 0h5m1 0h2m1 0h1m3 0h1m1 0h1m6 0h1m1 0h3M0 29.5h3m4 0h1m8 0h1m7 0h1m5 0h1m3 0h2m7 0h1m15 0h2m10 0h1m10 0h2m2 0h1m21 0h2m10 0h1m9 0h1m7 0h1m5 0h1m5 0h1m9 0h1m10 0h1m1 0h1m19 0h1m13 0h1m5 0h1M200.26 30.5h2.08M148.39 31.5h1.04M163.69 36.5h1.04M185.23 36.5h1.04M197.47 36.5h1.04M215.82 36.5h1.04M46.04 37.5h1.04M211.61 39.5h2.08M90.26 40.5h2.08M216.84 40.5h1.04M78.15 44.5h2.08M26.41 47.5h1.04M199.38 47.5h1.04"/>
<path stroke="#4c1788" d="M61 0.5h1m30 0h1m3 0h1m2 0h2m6 0h2m16 0h1m1 0h2m2 0h1m11 0h1m4 0h1m2 0h1m8 0h1m4 0h1m12 0h1m3 0h1m8 0h2m14 0h2M0 1.5h1m8 0h1m24 0h1m44 0h2m32 0h2m13 0h1m23 0h1m21 0h1m13 0h1m8 0h1M27 2.5h1m38 0h1m1 0h1m1 0h1m38 0h1m4 0h1m18 0h1m9 0h1m21 0h1m30 0h1m12 0h1M3 3.5h1m1 0h1m2 0h1m3 0h1m21 0h1m6 0h1m1 0h1m1 0h2m1 0h1m10 0h1m3 0h1m21 0h1m2 0h1m16 0h1m4 0h1m2 0h1m4 0h1m10 0h1m10 0h1m20 0h1m6 0h1m5 0h1m10 0h1m19 0h1m7 0h1m1 0h1M76 4.5h1m15 0h1m2 0h1m4 0h1m70 0h1m29 0h1m4 0h1M4 5.5h1m11 0h1m46 0h2m4 0h1m15 0h1m6 0h1m5 0h1m53 0h1m36 0h1m10 0h2m14 0h1M2 6.5h1m5 0h2m5 0h1m13 0h1m1 0h1m10 0h1m11 0h1m1 0h1m23 0h1m1 0h1m1 0h1m16 0h1m3 0h1m4 0h1m1 0h1m11 0h1m15 0h1m16 0h3m3 0h1m8 0h1m3 0h1m12 0h1m2 0h1m2 0h1M14 7.5h1m12 0h1m2 0h2m9 0h1m17 0h1m2 0h1m15 0h1m3 0h1m3 0h1m4 0h2m16 0h1m7 0h1m7 0h1m5 0h1m7 0h1m28 0h1m16 0h1m1 0h1m3 0h1m5 0h1m8 0h1m13 0h1M9 8.5h1m9 0h1m7 0h1m5 0h1m10 0h2m3 0h1m15 0h1m13 0h1m20 0h1m37 0h1m6 0h1m10 0h1m14 0h1m13 0h1m16 0h1m2 0h1m3 0h1M2 9.5h1m17 0h1m38 0h1m19 0h1m11 0h1m37 0h2m4 0h1m4 0h1m21 0h1m2 0h1m5 0h2m2 0h1m10 0h2m33 0h1M17 10.5h1m20 0h1m9 0h1m19 0h1m1 0h1m29 0h1m22 0h1m23 0h1m68 0h1M10 11.5h1m5 0h1m1 0h1m8 0h1m13 0h1m29 0h1m9 0h1m16 0h1m4 0h1m20 0h1m26 0h3m3 0h1m3 0h1m2 0h1m2 0h1m4 0h1m2 0h1m6 0h1m10 0h1m25 0h2M3 12.5h1m50 0h1m50 0h1m6 0h1m12 0h1m6 0h1m22 0h1m36 0h1m2 0h1m2 0h1M24 13.5h1m8 0h1m8 0h1m7 0h1m1 0h1m24 0h1m18 0h1m16 0h1m28 0h1m3 0h1m6 0h1m7 0h1m31 0h1m10 0h2M6 14.5h1m4 0h1m10 0h1m4 0h1m5 0h1m7 0h1m2 0h1m7 0h1m13 0h2m2 0h1m15 0h1m6 0h1m5 0h1m5 0h1m18 0h1m7 0h1m4 0h1m3 0h2m22 0h1m7 0h1m4 0h1m19 0h1m11 0h1m4 0h1m3 0h1M20 15.5h1m65 0h1m1 0h1m38 0h1m11 0h1m2 0h1m3 0h1M6 16.5h1m3 0h1m8 0h1m62 0h1m9 0h1m30 0h1m52 0h1m12 0h1M20 17.5h1m15 0h1m1 0h1m2 0h2m2 0h1m8 0h2m16 0h3m1 0h1m2 0h1m3 0h1m2 0h1m7 0h1m8 0h1m6 0h1m5 0h1m2 0h1m12 0h1m12 0h1m2 0h1m5 0h1m12 0h1m1 0h1m11 0h2m1 0h1m10 0h1m3 0h1m17 0h1m2 0h1M13 18.5h1m4 0h1m11 0h1m4 0h1m4 0h1m3 0h1m1 0h1m4 0h1m12 0h1m6 0h1m6 0h1m7 0h1m10 0h1m3 0h1m13 0h1m14 0h1m3 0h2m20 0h1m15 0h2m4 0h1m1 0h1m5 0h1m16 0h1m3 0h1m6 0h1m3 0h1M5 19.5h1m5 0h1m9 0h1m4 0h1m3 0h1m4 0h1m3 0h1m2 0h1m2 0h1m1 0h1m4 0h1m1 0h1m2 0h1m4 0h1m3 0h3m2 0h1m3 0h1m2 0h2m3 0h1m9 0h1m7 0h1m1 0h2m1 0h2m6 0h1m1 0h3m3 0h1m4 0h2m1 0h1m14 0h2m3 0h1m6 0h1m1 0h1m1 0h1m3 0h1m1 0h3m2 0h1m8 0h1m1 0h2m3 0h1m2 0h2m5 0h1m5 0h2m8 0h2m1 0h1M7 20.5h3m41 0h1m10 0h1m14 0h1m17 0h1m2 0h2m6 0h1m100 0h1m4 0h1M0 21.5h1m1 0h1m13 0h2m3 0h1m3 0h1m6 0h1m6 0h1m8 0h2m2 0h2m4 0h1m3 0h1m5 0h1m1 0h1m2 0h1m1 0h1m12 0h1m2 0h2m7 0h1m4 0h1m1 0h2m12 0h1m3 0h1m7 0h2m2 0h2m13 0h1m7 0h1m1 0h1m11 0h1m9 0h1m12 0h1m13 0h1m2 0h1m1 0h1m1 0h1M52 22.5h1m58 0h1m5 0h1m3 0h1m23 0h1m18 0h1m1 0h1m5 0h1m11 0h1m3 0h1m18 0h2M1 23.5h2m1 0h2m1 0h2m1 0h2m1 0h1m4 0h1m8 0h1m11 0h1m1 0h1m1 0h1m1 0h1m7 0h1m1 0h1m3 0h1m4 0h1m2 0h1m5 0h3m4 0h2m5 0h1m2 0h1m4 0h3m1 0h1m2 0h1m1 0h2m2 0h3m1 0h2m2 0h2m2 0h1m1 0h2m2 0h2m2 0h2m1 0h1m3 0h1m6 0h1m5 0h1m4 0h2m3 0h2m2 0h1m3 0h1m1 0h1m3 0h2m1 0h1m2 0h1m2 0h1m2 0h1m1 0h1m1 0h1m1 0h1m9 0h1m3 0h1m7 0h1m1 0h1m3 0h2M2 24.5h1m1 0h1m14 0h1m3 0h1m4 0h1m5 0h1m26 0h1m3 0h1m10 0h1m6 0h1m10 0h1m10 0h2m5 0h1m2 0h1m18 0h1m1 0h1m8 0h1m1 0h1m1 0h2m3 0h1m4 0h1m15 0h2m1 0h1m5 0h2m2 0h1m10 0h2M54 25.5h1m3 0h1m1 0h1m3 0h1m47 0h1m2 0h1m18 0h1M0 26.5h2m3 0h1m1 0h1m1 0h6m6 0h2m1 0h1m1 0h7m2 0h2m3 0h2m1 0h1m4 0h1m1 0h1m1 0h2m3 0h8m1 0h3m2 0h1m1 0h1m1 0h3m2 0h1m1 0h1m1 0h3m2 0h3m1 0h6m2 0h5m3 0h2m1 0h2m2 0h7m3 0h1m1 0h5m2 0h1m1 0h2m1 0h1m2 0h4m1 0h2m2 0h1m4 0h1m2 0h1m2 0h2m1 0h4m1 0h1m1 0h1m2 0h2m1 0h1m1 0h1m1 0h1m1 0h1m2 0h2m1 0h1m2 0h3m3 0h1m1 0h1m5 0h3m1 0h1m1 0h8M7 27.5h1m10 0h1m5 0h1m11 0h1m4 0h1m1 0h1m8 0h1m13 0h1m12 0h1m14 0h1m11 0h1m1 0h1m8 0h1m7 0h1m27 0h1m13 0h1m1 0h1m15 0h2m11 0h1m2 0h1m6 0h1M1 28.5h1m7 0h1m4 0h1m6 0h1m5 0h2m1 0h1m1 0h1m12 0h1m7 0h1m2 0h2m5 0h1m9 0h1m3 0h1m2 0h1m6 0h2m14 0h1m10 0h1m13 0h1m2 0h1m11 0h1m3 0h2m10 0h1m4 0h1m15 0h1m1 0h1m10 0h2m1 0h1m2 0h1m7 0h1M2 29.5h1m13 0h1m7 0h1m5 0h1m3 0h2m46 0h2m24 0h1m21 0h1m19 0h1m20 0h1m1 0h1M42.21 30.5h1.04M74.21 30.5h1.04M77.27 30.5h1.04M85.55 30.5h1.04M165.73 30.5h1.04M168.66 30.5h1.04M191.35 30.5h1.04M8.05 31.5h1.04M9.96 31.5h1.04M59.8 31.5h1.04M73.7 31.5h1.04M79.18 31.5h1.04M83.26 31.5h1.04M85.17 31.5h1.04M90.27 31.5h1.04M135.52 31.5h1.04M211.23 31.5h1.04M5.88 32.5h1.04M22.58 32.5h1.04M31.38 32.5h1.04M67.71 32.5h1.04M131.44 32.5h1.04M207.28 32.5h1.04M142.27 33.5h1.04M189.56 33.5h1.04M112.83 34.5h1.04M141.38 34.5h1.04M156.93 34.5h1.04M178.6 34.5h1.04M204.1 34.5h1.04M216.21 34.5h1.04M217.86 34.5h1.04M219.89 34.5h2.08M96.13 35.5h1.04M139.34 35.5h1.04M183.45 35.5h1.04M208.18 35.5h1.04M127.62 36.5h1.04M143.29 36.5h1.04M166.75 36.5h1.04M168.66 36.5h1.04M177.19 36.5h2.08M181.92 36.5h1.04M186.25 36.5h1.04M187.27 36.5h1.04M188.29 36.5h1.04M205.37 36.5h1.04M206.39 36.5h1.04M207.41 36.5h1.04M209.83 36.5h1.04M14.81 37.5h1.04M42.85 37.5h1.04M64.77 37.5h1.04M76.63 37.5h1.04M93.2 37.5h1.04M145.21 37.5h1.04M176.69 37.5h1.04M178.6 37.5h1.04M200.02 37.5h1.04M216.84 37.5h1.04M1.8 38.5h1.04M31.38 38.5h1.04M42.21 38.5h1.04M54.07 38.5h1.04M208.18 38.5h1.04M220.92 38.5h1.04M219.51 39.5h2.08M28.44 40.5h1.04M42.21 40.5h1.04M101.1 40.5h1.04M111.94 40.5h1.04M117.8 40.5h1.04M135.52 40.5h1.04M145.21 40.5h1.04M169.04 40.5h1.04M171.72 40.5h1.04M182.16 40.5h2.08M195.3 40.5h1.04M4.74 41.5h1.04M92.31 41.5h1.04M135.51 41.5h2.08M138.45 41.5h1.04M143.29 41.5h1.04M166.88 41.5h1.04M170.95 41.5h1.04M10.73 42.5h1.04M54.96 42.5h1.04M63.75 42.5h1.04M74.45 42.5h2.08M186.51 42.5h1.04M215.95 43.5h1.04M10.73 44.5h1.04M15.57 44.5h1.04M21.56 44.5h1.04M31.38 44.5h1.04M33.29 44.5h1.04M37.37 44.5h1.04M45.14 44.5h1.04M59.04 44.5h1.04M63.88 44.5h1.04M72.8 44.5h1.04M74.72 44.5h1.04M83 44.5h1.04M85.03 44.5h2.08M101.1 44.5h1.04M105.95 44.5h1.04M110.91 44.5h2.08M113.85 44.5h1.04M147.37 44.5h1.04M160.12 44.5h1.04M185.61 44.5h1.04M206.26 44.5h1.04M209.17 44.5h3.12M102.12 45.5h1.04M116.78 45.5h1.04M199.5 45.5h2.08M205.37 45.5h1.04M96.13 46.5h1.04M52.15 47.5h1.04M72.8 47.5h1.04M91.4 47.5h2.08M102.12 47.5h1.04M126.6 47.5h1.04M184.59 47.5h1.04M211.11 47.5h1.04M42.21 48.5h1.04M201.29 48.5h1.04M69.62 49.5h1.04"/>
<path stroke="#3f007d" d="M79 1.5h2m32 0h1M161 3.5h1m43 0h1M85 5.5h1m66 0h1M2 6.5h1m6 0h1m46 0h1m23 0h1m1 0h1m112 0h1M30 7.5h1M91 9.5h1m95 0h1M147 10.5h1M16 11.5h1m64 0h1M33 13.5h1m171 0h1M33 14.5h1m10 0h1m60 0h1m18 0h1m17 0h1M88 15.5h1M6 16.5h1M103 17.5h1m44 0h1m50 0h1m20 0h1M75 19.5h1m141 0h1M62 21.5h1m25 0h1M10 23.5h1m42 0h1m26 0h1m6 0h1m72 0h1M94 24.5h1m41 0h1M115 25.5h1M31 26.5h2m25 0h1m32 0h1m1 0h1m11 0h1m14 0h1m5 0h1m3 0h1m13 0h1m1 0h1m22 0h1m21 0h1m17 0h1m11 0h1M167 27.5h1M147 28.5h1M24 29.5h1m146 0h1"/>
</g></g>
<g class="gl">
<text x="83.6" y="154.9">Tmem242</text><text x="83.6" y="174.2">Crk</text><text x="83.6" y="193.5">Tiparp</text><text x="83.6" y="212.8">Chchd7</text><text x="83.6" y="232.0">Cab39l</text><text x="83.6" y="251.3">Becn1</text><text x="83.6" y="270.6">Abcc5</text><text x="83.6" y="289.9">Nfkbib</text><text x="83.6" y="309.1">Gadd45g</text><text x="83.6" y="328.4">Rprd2</text><text x="83.6" y="347.7">Slc25a33</text><text x="83.6" y="367.0">Phactr3</text><text x="83.6" y="386.2">Atf3</text><text x="83.6" y="405.5">Fosb</text><text x="83.6" y="424.8">Mt1</text><text x="83.6" y="444.1">Nfil3</text><text x="83.6" y="463.4">Odf2</text><text x="83.6" y="482.6">Gfod1</text><text x="83.6" y="501.9">Mbd1</text><text x="83.6" y="521.2">Synj2</text><text x="83.6" y="540.5">Fos</text><text x="83.6" y="559.7">Nfkbia</text><text x="83.6" y="579.0">Chac1</text><text x="83.6" y="598.3">Terf1</text><text x="83.6" y="617.6">Fkbp5</text><text x="83.6" y="636.8">Arl4d</text><text x="83.6" y="656.1">Apold1</text><text x="83.6" y="675.4">Cacna1b</text><text x="83.6" y="694.7">Spsb1</text><text x="83.6" y="713.9">Nck2</text><text x="83.6" y="733.2">Gna13</text><text x="83.6" y="752.5">Cplx2</text><text x="83.6" y="771.8">Cyr61</text><text x="83.6" y="791.0">Tmcc3</text><text x="83.6" y="810.3">Trp53inp1</text><text x="83.6" y="829.6">Arrdc2</text><text x="83.6" y="848.9">Nfe2l2</text><text x="83.6" y="868.1">Adamts15</text><text x="83.6" y="887.4">Npas3</text><text x="83.6" y="906.7">Hao1</text><text x="83.6" y="926.0">Doc2b</text><text x="83.6" y="945.3">Fosl1</text><text x="83.6" y="964.5">Hamp</text><text x="83.6" y="983.8">Kcnc4</text><text x="83.6" y="1003.1">Actc1</text><text x="83.6" y="1022.4">Rasd1</text><text x="83.6" y="1041.6">Vwce</text><text x="83.6" y="1060.9">Ucp1</text><text x="83.6" y="1080.2">Klhl2</text><text x="83.6" y="1099.5">Angpt2</text>
</g>
<path d="M87.6 151.8H92.1M87.6 171.1H92.1M87.6 190.4H92.1M87.6 209.7H92.1M87.6 228.9H92.1M87.6 248.2H92.1M87.6 267.5H92.1M87.6 286.8H92.1M87.6 306.0H92.1M87.6 325.3H92.1M87.6 344.6H92.1M87.6 363.9H92.1M87.6 383.1H92.1M87.6 402.4H92.1M87.6 421.7H92.1M87.6 441.0H92.1M87.6 460.3H92.1M87.6 479.5H92.1M87.6 498.8H92.1M87.6 518.1H92.1M87.6 537.4H92.1M87.6 556.6H92.1M87.6 575.9H92.1M87.6 595.2H92.1M87.6 614.5H92.1M87.6 633.7H92.1M87.6 653.0H92.1M87.6 672.3H92.1M87.6 691.6H92.1M87.6 710.8H92.1M87.6 730.1H92.1M87.6 749.4H92.1M87.6 768.7H92.1M87.6 787.9H92.1M87.6 807.2H92.1M87.6 826.5H92.1M87.6 845.8H92.1M87.6 865.0H92.1M87.6 884.3H92.1M87.6 903.6H92.1M87.6 922.9H92.1M87.6 942.2H92.1M87.6 961.4H92.1M87.6 980.7H92.1M87.6 1000.0H92.1M87.6 1019.3H92.1M87.6 1038.5H92.1M87.6 1057.8H92.1M87.6 1077.1H92.1M87.6 1096.4H92.1" stroke="#222" stroke-width="1.4" fill="none"/>
<g class="gl">
<text x="776.3" y="160.6">Gprc5b</text><text x="776.3" y="179.9">Adamts2</text><text x="776.3" y="199.2">G0s2</text><text x="776.3" y="218.4">Rbm14</text><text x="776.3" y="237.7">Recql</text><text x="776.3" y="257.0">Mettl4</text><text x="776.3" y="276.2">Rasgrp4</text><text x="776.3" y="295.5">Stat1</text><text x="776.3" y="314.8">Fn3k</text><text x="776.3" y="334.0">Pogz</text><text x="776.3" y="353.3">Sdf2l1</text><text x="776.3" y="372.6">Mllt3</text><text x="776.3" y="391.8">Zfp950</text><text x="776.3" y="411.1">Sptlc2</text><text x="776.3" y="430.4">Zfp467</text><text x="776.3" y="449.6">Zfp318</text><text x="776.3" y="468.9">Hist2h2bb</text><text x="776.3" y="488.2">Sfmbt1</text><text x="776.3" y="507.4">Nap1l1</text><text x="776.3" y="526.7">Tardbp</text><text x="776.3" y="546.0">Zfhx3</text><text x="776.3" y="565.2">Clmp</text><text x="776.3" y="584.5">Ctr9</text><text x="776.3" y="603.8">Hspa8</text><text x="776.3" y="623.0">Scrn3</text><text x="776.3" y="642.3">Ncbp2</text><text x="776.3" y="661.5">Abcg1</text><text x="776.3" y="680.8">Fam120b</text><text x="776.3" y="700.1">Efnb2</text><text x="776.3" y="719.3">Rarb</text><text x="776.3" y="738.6">Slc4a11</text><text x="776.3" y="757.9">Irgm2</text><text x="776.3" y="777.1">Pear1</text><text x="776.3" y="796.4">Smo</text><text x="776.3" y="815.7">Dubr</text><text x="776.3" y="834.9">Coro1a</text><text x="776.3" y="854.2">Chst9</text><text x="776.3" y="873.5">Pou3f4</text><text x="776.3" y="892.7">Spon1</text><text x="776.3" y="912.0">Slc6a4</text><text x="776.3" y="931.3">Fam26e</text><text x="776.3" y="950.5">Esm1</text><text x="776.3" y="969.8">Ccnb1ip1</text><text x="776.3" y="989.1">Ifit1bl2</text><text x="776.3" y="1008.3">Skida1</text><text x="776.3" y="1027.6">Slit2</text><text x="776.3" y="1046.9">Fzd2</text><text x="776.3" y="1066.1">Trim17</text><text x="776.3" y="1085.4">Shisa3</text><text x="776.3" y="1104.7">Pilra</text>
</g>
<path d="M780.2 157.5H784.7M780.2 176.8H784.7M780.2 196.1H784.7M780.2 215.3H784.7M780.2 234.6H784.7M780.2 253.9H784.7M780.2 273.1H784.7M780.2 292.4H784.7M780.2 311.7H784.7M780.2 330.9H784.7M780.2 350.2H784.7M780.2 369.5H784.7M780.2 388.7H784.7M780.2 408.0H784.7M780.2 427.3H784.7M780.2 446.5H784.7M780.2 465.8H784.7M780.2 485.1H784.7M780.2 504.3H784.7M780.2 523.6H784.7M780.2 542.9H784.7M780.2 562.1H784.7M780.2 581.4H784.7M780.2 600.7H784.7M780.2 619.9H784.7M780.2 639.2H784.7M780.2 658.4H784.7M780.2 677.7H784.7M780.2 697.0H784.7M780.2 716.2H784.7M780.2 735.5H784.7M780.2 754.8H784.7M780.2 774.0H784.7M780.2 793.3H784.7M780.2 812.6H784.7M780.2 831.8H784.7M780.2 851.1H784.7M780.2 870.4H784.7M780.2 889.6H784.7M780.2 908.9H784.7M780.2 928.2H784.7M780.2 947.4H784.7M780.2 966.7H784.7M780.2 986.0H784.7M780.2 1005.2H784.7M780.2 1024.5H784.7M780.2 1043.8H784.7M780.2 1063.0H784.7M780.2 1082.3H784.7M780.2 1101.6H784.7" stroke="#222" stroke-width="1.4" fill="none"/>
<circle cx="1414" cy="166.3" r="8.3" fill="#7bc943"/><text class="lg" x="1474" y="175.0">Type 1A</text>
<circle cx="1414" cy="215.7" r="8.3" fill="#c944b9"/><text class="lg" x="1474" y="224.4">Type 1B</text>
<circle cx="1414" cy="265.4" r="8.3" fill="#4668c8"/><text class="lg" x="1474" y="274.1">Type 1C</text>
<circle cx="1414" cy="314.8" r="8.3" fill="#efab07"/><text class="lg" x="1474" y="323.5">Type 2</text>
<defs><linearGradient id="cb" x1="0" x2="1" y1="0" y2="0"><stop offset="0" stop-color="#fcfbfd"/><stop offset="0.125" stop-color="#efedf5"/><stop offset="0.25" stop-color="#dadaeb"/><stop offset="0.375" stop-color="#bcbddc"/><stop offset="0.5" stop-color="#9e9ac8"/><stop offset="0.625" stop-color="#807dba"/><stop offset="0.75" stop-color="#6a51a3"/><stop offset="0.875" stop-color="#54278f"/><stop offset="1" stop-color="#3f007d"/></linearGradient></defs>
<rect x="1413.8" y="1021.4" width="344.2" height="34.5" fill="url(#cb)"/>
<text class="nc" transform="translate(1579.8,1010.1) scale(1.06,1)" text-anchor="middle">Normalized Counts</text>
<text class="cbt" x="1425.4" y="1083.7" text-anchor="middle">0</text><text class="cbt" x="1748.5" y="1083.7" text-anchor="middle">1</text>
<text class="ttl" transform="translate(30.8,36.5) scale(0.947,1)">SGN</text>
<text class="cap" transform="translate(365.8,1154) scale(1.037,1)" text-anchor="middle">tt-stero vs sys-stero (Up)</text>
<text class="cap" transform="translate(1078.3,1154) scale(1.037,1)" text-anchor="middle">tt-stero vs sys-stero (down)</text>
</svg>
</body></html>
